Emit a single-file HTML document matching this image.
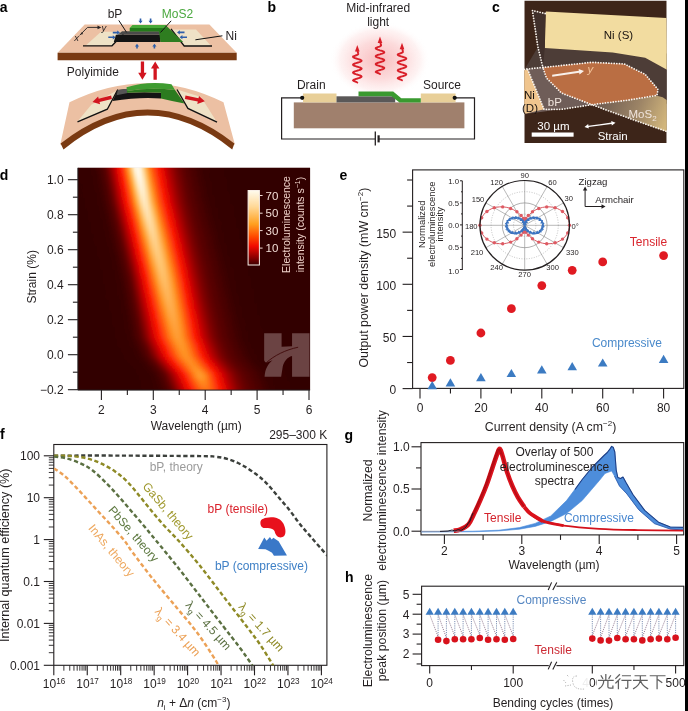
<!DOCTYPE html>
<html><head><meta charset="utf-8"><style>
html,body{margin:0;padding:0;background:#fff;}
body{width:688px;height:711px;overflow:hidden;}
svg{display:block;font-family:"Liberation Sans", sans-serif;filter:blur(0.4px);}
</style></head><body>
<svg width="688" height="711" viewBox="0 0 688 711">
<defs>
<radialGradient id="glow" cx="0.5" cy="0.5" r="0.5"><stop offset="0" stop-color="#f8b4b6" stop-opacity="0.9"/><stop offset="0.5" stop-color="#fbcfd0" stop-opacity="0.75"/><stop offset="0.8" stop-color="#fde6e6" stop-opacity="0.5"/><stop offset="1" stop-color="#ffffff" stop-opacity="0"/></radialGradient>
<clipPath id="cclip"><rect x="524.3" y="0.5" width="142.4" height="142.6"/></clipPath>
<linearGradient id="mos2g" gradientUnits="userSpaceOnUse" x1="600" y1="100" x2="665" y2="125"><stop offset="0" stop-color="#6e5b50"/><stop offset="0.55" stop-color="#9c8466"/><stop offset="1" stop-color="#d2b67c"/></linearGradient>
<clipPath id="dclip"><rect x="77.9" y="167.8" width="232.2" height="222.3"/></clipPath>
<filter id="dblur" x="-5%" y="-5%" width="110%" height="110%"><feGaussianBlur stdDeviation="0.6 1.6"/></filter>
<linearGradient id="h0" gradientUnits="userSpaceOnUse" x1="75.9" y1="0" x2="313.1" y2="0"><stop offset="-0.004" stop-color="#330101"/><stop offset="0.009" stop-color="#340101"/><stop offset="0.022" stop-color="#340101"/><stop offset="0.034" stop-color="#340101"/><stop offset="0.047" stop-color="#350202"/><stop offset="0.059" stop-color="#360202"/><stop offset="0.072" stop-color="#370202"/><stop offset="0.085" stop-color="#3b0202"/><stop offset="0.097" stop-color="#420101"/><stop offset="0.110" stop-color="#4c0101"/><stop offset="0.123" stop-color="#5a0000"/><stop offset="0.135" stop-color="#740000"/><stop offset="0.148" stop-color="#960000"/><stop offset="0.161" stop-color="#ba0202"/><stop offset="0.173" stop-color="#de0805"/><stop offset="0.186" stop-color="#fa1705"/><stop offset="0.199" stop-color="#fe4109"/><stop offset="0.211" stop-color="#ff7418"/><stop offset="0.224" stop-color="#ffa947"/><stop offset="0.237" stop-color="#ffd698"/><stop offset="0.249" stop-color="#fff4de"/><stop offset="0.262" stop-color="#fff8e8"/><stop offset="0.274" stop-color="#ffeece"/><stop offset="0.287" stop-color="#ffcd83"/><stop offset="0.300" stop-color="#ffa33e"/><stop offset="0.312" stop-color="#ff7819"/><stop offset="0.325" stop-color="#ff520b"/><stop offset="0.338" stop-color="#fd3208"/><stop offset="0.350" stop-color="#fa1605"/><stop offset="0.363" stop-color="#e60b05"/><stop offset="0.376" stop-color="#d00404"/><stop offset="0.388" stop-color="#b60202"/><stop offset="0.401" stop-color="#a00000"/><stop offset="0.414" stop-color="#8a0000"/><stop offset="0.426" stop-color="#790000"/><stop offset="0.439" stop-color="#6b0000"/><stop offset="0.452" stop-color="#5f0000"/><stop offset="0.464" stop-color="#570000"/><stop offset="0.477" stop-color="#510101"/><stop offset="0.489" stop-color="#4b0101"/><stop offset="0.502" stop-color="#450101"/><stop offset="0.515" stop-color="#400202"/><stop offset="0.527" stop-color="#3b0202"/><stop offset="0.540" stop-color="#380202"/><stop offset="0.553" stop-color="#370202"/><stop offset="0.565" stop-color="#360202"/><stop offset="0.578" stop-color="#350202"/><stop offset="0.591" stop-color="#340101"/><stop offset="0.603" stop-color="#340101"/><stop offset="0.616" stop-color="#340101"/><stop offset="0.629" stop-color="#330101"/><stop offset="0.641" stop-color="#330101"/><stop offset="0.654" stop-color="#330101"/><stop offset="0.667" stop-color="#330101"/><stop offset="0.679" stop-color="#330101"/><stop offset="0.692" stop-color="#330101"/><stop offset="0.704" stop-color="#320101"/><stop offset="0.717" stop-color="#320101"/><stop offset="0.730" stop-color="#320101"/><stop offset="0.742" stop-color="#320101"/><stop offset="0.755" stop-color="#320101"/><stop offset="0.768" stop-color="#320101"/><stop offset="0.780" stop-color="#320101"/><stop offset="0.793" stop-color="#320101"/><stop offset="0.806" stop-color="#320101"/><stop offset="0.818" stop-color="#320101"/><stop offset="0.831" stop-color="#320101"/><stop offset="0.844" stop-color="#320101"/><stop offset="0.856" stop-color="#320101"/><stop offset="0.869" stop-color="#320101"/><stop offset="0.882" stop-color="#320101"/><stop offset="0.894" stop-color="#320101"/><stop offset="0.907" stop-color="#320101"/><stop offset="0.919" stop-color="#320101"/><stop offset="0.932" stop-color="#320101"/><stop offset="0.945" stop-color="#320101"/><stop offset="0.957" stop-color="#320101"/><stop offset="0.970" stop-color="#320101"/><stop offset="0.983" stop-color="#320101"/><stop offset="0.995" stop-color="#320101"/></linearGradient>
<linearGradient id="h1" gradientUnits="userSpaceOnUse" x1="75.9" y1="0" x2="313.1" y2="0"><stop offset="-0.004" stop-color="#330101"/><stop offset="0.009" stop-color="#330101"/><stop offset="0.022" stop-color="#340101"/><stop offset="0.034" stop-color="#340101"/><stop offset="0.047" stop-color="#350202"/><stop offset="0.059" stop-color="#360202"/><stop offset="0.072" stop-color="#370202"/><stop offset="0.085" stop-color="#3b0202"/><stop offset="0.097" stop-color="#420101"/><stop offset="0.110" stop-color="#4c0101"/><stop offset="0.123" stop-color="#590000"/><stop offset="0.135" stop-color="#720000"/><stop offset="0.148" stop-color="#930000"/><stop offset="0.161" stop-color="#b70202"/><stop offset="0.173" stop-color="#dc0705"/><stop offset="0.186" stop-color="#fa1405"/><stop offset="0.199" stop-color="#fd3d08"/><stop offset="0.211" stop-color="#ff6f16"/><stop offset="0.224" stop-color="#ffa440"/><stop offset="0.237" stop-color="#ffd28f"/><stop offset="0.249" stop-color="#fff2d8"/><stop offset="0.262" stop-color="#fff8e8"/><stop offset="0.274" stop-color="#ffefd1"/><stop offset="0.287" stop-color="#ffd089"/><stop offset="0.300" stop-color="#ffa643"/><stop offset="0.312" stop-color="#ff7c1b"/><stop offset="0.325" stop-color="#ff550c"/><stop offset="0.338" stop-color="#fd3508"/><stop offset="0.350" stop-color="#fa1905"/><stop offset="0.363" stop-color="#e80c05"/><stop offset="0.376" stop-color="#d20505"/><stop offset="0.388" stop-color="#b80202"/><stop offset="0.401" stop-color="#a20000"/><stop offset="0.414" stop-color="#8c0000"/><stop offset="0.426" stop-color="#7a0000"/><stop offset="0.439" stop-color="#6c0000"/><stop offset="0.452" stop-color="#600000"/><stop offset="0.464" stop-color="#580000"/><stop offset="0.477" stop-color="#510101"/><stop offset="0.489" stop-color="#4b0101"/><stop offset="0.502" stop-color="#450101"/><stop offset="0.515" stop-color="#400202"/><stop offset="0.527" stop-color="#3c0202"/><stop offset="0.540" stop-color="#380202"/><stop offset="0.553" stop-color="#370202"/><stop offset="0.565" stop-color="#360202"/><stop offset="0.578" stop-color="#350202"/><stop offset="0.591" stop-color="#340101"/><stop offset="0.603" stop-color="#340101"/><stop offset="0.616" stop-color="#340101"/><stop offset="0.629" stop-color="#330101"/><stop offset="0.641" stop-color="#330101"/><stop offset="0.654" stop-color="#330101"/><stop offset="0.667" stop-color="#330101"/><stop offset="0.679" stop-color="#330101"/><stop offset="0.692" stop-color="#330101"/><stop offset="0.704" stop-color="#320101"/><stop offset="0.717" stop-color="#320101"/><stop offset="0.730" stop-color="#320101"/><stop offset="0.742" stop-color="#320101"/><stop offset="0.755" stop-color="#320101"/><stop offset="0.768" stop-color="#320101"/><stop offset="0.780" stop-color="#320101"/><stop offset="0.793" stop-color="#320101"/><stop offset="0.806" stop-color="#320101"/><stop offset="0.818" stop-color="#320101"/><stop offset="0.831" stop-color="#320101"/><stop offset="0.844" stop-color="#320101"/><stop offset="0.856" stop-color="#320101"/><stop offset="0.869" stop-color="#320101"/><stop offset="0.882" stop-color="#320101"/><stop offset="0.894" stop-color="#320101"/><stop offset="0.907" stop-color="#320101"/><stop offset="0.919" stop-color="#320101"/><stop offset="0.932" stop-color="#320101"/><stop offset="0.945" stop-color="#320101"/><stop offset="0.957" stop-color="#320101"/><stop offset="0.970" stop-color="#320101"/><stop offset="0.983" stop-color="#320101"/><stop offset="0.995" stop-color="#320101"/></linearGradient>
<linearGradient id="h2" gradientUnits="userSpaceOnUse" x1="75.9" y1="0" x2="313.1" y2="0"><stop offset="-0.004" stop-color="#330101"/><stop offset="0.009" stop-color="#330101"/><stop offset="0.022" stop-color="#340101"/><stop offset="0.034" stop-color="#340101"/><stop offset="0.047" stop-color="#350101"/><stop offset="0.059" stop-color="#360202"/><stop offset="0.072" stop-color="#370202"/><stop offset="0.085" stop-color="#390202"/><stop offset="0.097" stop-color="#400202"/><stop offset="0.110" stop-color="#490101"/><stop offset="0.123" stop-color="#560000"/><stop offset="0.135" stop-color="#6c0000"/><stop offset="0.148" stop-color="#8c0000"/><stop offset="0.161" stop-color="#b00101"/><stop offset="0.173" stop-color="#d70505"/><stop offset="0.186" stop-color="#f41105"/><stop offset="0.199" stop-color="#fd3408"/><stop offset="0.211" stop-color="#ff6412"/><stop offset="0.224" stop-color="#ff9a31"/><stop offset="0.237" stop-color="#ffc87a"/><stop offset="0.249" stop-color="#ffecc8"/><stop offset="0.262" stop-color="#fff8e8"/><stop offset="0.274" stop-color="#fff2d8"/><stop offset="0.287" stop-color="#ffd697"/><stop offset="0.300" stop-color="#ffae4f"/><stop offset="0.312" stop-color="#ff851e"/><stop offset="0.325" stop-color="#ff5c0f"/><stop offset="0.338" stop-color="#fd3b08"/><stop offset="0.350" stop-color="#fb1e06"/><stop offset="0.363" stop-color="#ec0e05"/><stop offset="0.376" stop-color="#d80505"/><stop offset="0.388" stop-color="#bc0303"/><stop offset="0.401" stop-color="#a50000"/><stop offset="0.414" stop-color="#900000"/><stop offset="0.426" stop-color="#7d0000"/><stop offset="0.439" stop-color="#6e0000"/><stop offset="0.452" stop-color="#620000"/><stop offset="0.464" stop-color="#590000"/><stop offset="0.477" stop-color="#520101"/><stop offset="0.489" stop-color="#4c0101"/><stop offset="0.502" stop-color="#470101"/><stop offset="0.515" stop-color="#410101"/><stop offset="0.527" stop-color="#3d0202"/><stop offset="0.540" stop-color="#380202"/><stop offset="0.553" stop-color="#370202"/><stop offset="0.565" stop-color="#360202"/><stop offset="0.578" stop-color="#350202"/><stop offset="0.591" stop-color="#350101"/><stop offset="0.603" stop-color="#340101"/><stop offset="0.616" stop-color="#340101"/><stop offset="0.629" stop-color="#330101"/><stop offset="0.641" stop-color="#330101"/><stop offset="0.654" stop-color="#330101"/><stop offset="0.667" stop-color="#330101"/><stop offset="0.679" stop-color="#330101"/><stop offset="0.692" stop-color="#330101"/><stop offset="0.704" stop-color="#320101"/><stop offset="0.717" stop-color="#320101"/><stop offset="0.730" stop-color="#320101"/><stop offset="0.742" stop-color="#320101"/><stop offset="0.755" stop-color="#320101"/><stop offset="0.768" stop-color="#320101"/><stop offset="0.780" stop-color="#320101"/><stop offset="0.793" stop-color="#320101"/><stop offset="0.806" stop-color="#320101"/><stop offset="0.818" stop-color="#320101"/><stop offset="0.831" stop-color="#320101"/><stop offset="0.844" stop-color="#320101"/><stop offset="0.856" stop-color="#320101"/><stop offset="0.869" stop-color="#320101"/><stop offset="0.882" stop-color="#320101"/><stop offset="0.894" stop-color="#320101"/><stop offset="0.907" stop-color="#320101"/><stop offset="0.919" stop-color="#320101"/><stop offset="0.932" stop-color="#320101"/><stop offset="0.945" stop-color="#320101"/><stop offset="0.957" stop-color="#320101"/><stop offset="0.970" stop-color="#320101"/><stop offset="0.983" stop-color="#320101"/><stop offset="0.995" stop-color="#320101"/></linearGradient>
<linearGradient id="h3" gradientUnits="userSpaceOnUse" x1="75.9" y1="0" x2="313.1" y2="0"><stop offset="-0.004" stop-color="#330101"/><stop offset="0.009" stop-color="#330101"/><stop offset="0.022" stop-color="#340101"/><stop offset="0.034" stop-color="#340101"/><stop offset="0.047" stop-color="#350101"/><stop offset="0.059" stop-color="#360202"/><stop offset="0.072" stop-color="#370202"/><stop offset="0.085" stop-color="#380202"/><stop offset="0.097" stop-color="#3f0202"/><stop offset="0.110" stop-color="#470101"/><stop offset="0.123" stop-color="#540000"/><stop offset="0.135" stop-color="#670000"/><stop offset="0.148" stop-color="#850000"/><stop offset="0.161" stop-color="#a90101"/><stop offset="0.173" stop-color="#cf0404"/><stop offset="0.186" stop-color="#ee0f05"/><stop offset="0.199" stop-color="#fc2c07"/><stop offset="0.211" stop-color="#ff590e"/><stop offset="0.224" stop-color="#ff9123"/><stop offset="0.237" stop-color="#ffbe67"/><stop offset="0.249" stop-color="#ffe5b7"/><stop offset="0.262" stop-color="#fff6e4"/><stop offset="0.274" stop-color="#fff3db"/><stop offset="0.287" stop-color="#ffdca4"/><stop offset="0.300" stop-color="#ffb65a"/><stop offset="0.312" stop-color="#ff8f22"/><stop offset="0.325" stop-color="#ff6412"/><stop offset="0.338" stop-color="#fe4109"/><stop offset="0.350" stop-color="#fb2406"/><stop offset="0.363" stop-color="#f01005"/><stop offset="0.376" stop-color="#db0705"/><stop offset="0.388" stop-color="#c10303"/><stop offset="0.401" stop-color="#aa0101"/><stop offset="0.414" stop-color="#940000"/><stop offset="0.426" stop-color="#810000"/><stop offset="0.439" stop-color="#710000"/><stop offset="0.452" stop-color="#640000"/><stop offset="0.464" stop-color="#5a0000"/><stop offset="0.477" stop-color="#540000"/><stop offset="0.489" stop-color="#4d0101"/><stop offset="0.502" stop-color="#480101"/><stop offset="0.515" stop-color="#420101"/><stop offset="0.527" stop-color="#3e0202"/><stop offset="0.540" stop-color="#390202"/><stop offset="0.553" stop-color="#370202"/><stop offset="0.565" stop-color="#360202"/><stop offset="0.578" stop-color="#350202"/><stop offset="0.591" stop-color="#350101"/><stop offset="0.603" stop-color="#340101"/><stop offset="0.616" stop-color="#340101"/><stop offset="0.629" stop-color="#330101"/><stop offset="0.641" stop-color="#330101"/><stop offset="0.654" stop-color="#330101"/><stop offset="0.667" stop-color="#330101"/><stop offset="0.679" stop-color="#330101"/><stop offset="0.692" stop-color="#330101"/><stop offset="0.704" stop-color="#320101"/><stop offset="0.717" stop-color="#320101"/><stop offset="0.730" stop-color="#320101"/><stop offset="0.742" stop-color="#320101"/><stop offset="0.755" stop-color="#320101"/><stop offset="0.768" stop-color="#320101"/><stop offset="0.780" stop-color="#320101"/><stop offset="0.793" stop-color="#320101"/><stop offset="0.806" stop-color="#320101"/><stop offset="0.818" stop-color="#320101"/><stop offset="0.831" stop-color="#320101"/><stop offset="0.844" stop-color="#320101"/><stop offset="0.856" stop-color="#320101"/><stop offset="0.869" stop-color="#320101"/><stop offset="0.882" stop-color="#320101"/><stop offset="0.894" stop-color="#320101"/><stop offset="0.907" stop-color="#320101"/><stop offset="0.919" stop-color="#320101"/><stop offset="0.932" stop-color="#320101"/><stop offset="0.945" stop-color="#320101"/><stop offset="0.957" stop-color="#320101"/><stop offset="0.970" stop-color="#320101"/><stop offset="0.983" stop-color="#320101"/><stop offset="0.995" stop-color="#320101"/></linearGradient>
<linearGradient id="h4" gradientUnits="userSpaceOnUse" x1="75.9" y1="0" x2="313.1" y2="0"><stop offset="-0.004" stop-color="#330101"/><stop offset="0.009" stop-color="#330101"/><stop offset="0.022" stop-color="#340101"/><stop offset="0.034" stop-color="#340101"/><stop offset="0.047" stop-color="#350101"/><stop offset="0.059" stop-color="#350202"/><stop offset="0.072" stop-color="#360202"/><stop offset="0.085" stop-color="#380202"/><stop offset="0.097" stop-color="#3d0202"/><stop offset="0.110" stop-color="#460101"/><stop offset="0.123" stop-color="#510101"/><stop offset="0.135" stop-color="#620000"/><stop offset="0.148" stop-color="#7f0000"/><stop offset="0.161" stop-color="#a30000"/><stop offset="0.173" stop-color="#c70404"/><stop offset="0.186" stop-color="#e80c05"/><stop offset="0.199" stop-color="#fb2406"/><stop offset="0.211" stop-color="#ff500a"/><stop offset="0.224" stop-color="#ff841e"/><stop offset="0.237" stop-color="#ffb357"/><stop offset="0.249" stop-color="#ffdca4"/><stop offset="0.262" stop-color="#fff3da"/><stop offset="0.274" stop-color="#fff4dd"/><stop offset="0.287" stop-color="#ffe1af"/><stop offset="0.300" stop-color="#ffbd66"/><stop offset="0.312" stop-color="#ff962b"/><stop offset="0.325" stop-color="#ff6b14"/><stop offset="0.338" stop-color="#fe4809"/><stop offset="0.350" stop-color="#fc2907"/><stop offset="0.363" stop-color="#f51205"/><stop offset="0.376" stop-color="#df0905"/><stop offset="0.388" stop-color="#c70404"/><stop offset="0.401" stop-color="#ae0101"/><stop offset="0.414" stop-color="#980000"/><stop offset="0.426" stop-color="#840000"/><stop offset="0.439" stop-color="#740000"/><stop offset="0.452" stop-color="#670000"/><stop offset="0.464" stop-color="#5c0000"/><stop offset="0.477" stop-color="#550000"/><stop offset="0.489" stop-color="#4f0101"/><stop offset="0.502" stop-color="#490101"/><stop offset="0.515" stop-color="#430101"/><stop offset="0.527" stop-color="#3e0202"/><stop offset="0.540" stop-color="#3a0202"/><stop offset="0.553" stop-color="#370202"/><stop offset="0.565" stop-color="#360202"/><stop offset="0.578" stop-color="#360202"/><stop offset="0.591" stop-color="#350101"/><stop offset="0.603" stop-color="#340101"/><stop offset="0.616" stop-color="#340101"/><stop offset="0.629" stop-color="#340101"/><stop offset="0.641" stop-color="#330101"/><stop offset="0.654" stop-color="#330101"/><stop offset="0.667" stop-color="#330101"/><stop offset="0.679" stop-color="#330101"/><stop offset="0.692" stop-color="#330101"/><stop offset="0.704" stop-color="#320101"/><stop offset="0.717" stop-color="#320101"/><stop offset="0.730" stop-color="#320101"/><stop offset="0.742" stop-color="#320101"/><stop offset="0.755" stop-color="#320101"/><stop offset="0.768" stop-color="#320101"/><stop offset="0.780" stop-color="#320101"/><stop offset="0.793" stop-color="#320101"/><stop offset="0.806" stop-color="#320101"/><stop offset="0.818" stop-color="#320101"/><stop offset="0.831" stop-color="#320101"/><stop offset="0.844" stop-color="#320101"/><stop offset="0.856" stop-color="#320101"/><stop offset="0.869" stop-color="#320101"/><stop offset="0.882" stop-color="#320101"/><stop offset="0.894" stop-color="#320101"/><stop offset="0.907" stop-color="#320101"/><stop offset="0.919" stop-color="#320101"/><stop offset="0.932" stop-color="#320101"/><stop offset="0.945" stop-color="#320101"/><stop offset="0.957" stop-color="#320101"/><stop offset="0.970" stop-color="#320101"/><stop offset="0.983" stop-color="#320101"/><stop offset="0.995" stop-color="#320101"/></linearGradient>
<linearGradient id="h5" gradientUnits="userSpaceOnUse" x1="75.9" y1="0" x2="313.1" y2="0"><stop offset="-0.004" stop-color="#330101"/><stop offset="0.009" stop-color="#330101"/><stop offset="0.022" stop-color="#340101"/><stop offset="0.034" stop-color="#340101"/><stop offset="0.047" stop-color="#350101"/><stop offset="0.059" stop-color="#350202"/><stop offset="0.072" stop-color="#360202"/><stop offset="0.085" stop-color="#380202"/><stop offset="0.097" stop-color="#3c0202"/><stop offset="0.110" stop-color="#440101"/><stop offset="0.123" stop-color="#4f0101"/><stop offset="0.135" stop-color="#5e0000"/><stop offset="0.148" stop-color="#790000"/><stop offset="0.161" stop-color="#9c0000"/><stop offset="0.173" stop-color="#c00303"/><stop offset="0.186" stop-color="#e30a05"/><stop offset="0.199" stop-color="#fb1c06"/><stop offset="0.211" stop-color="#fe4609"/><stop offset="0.224" stop-color="#ff7819"/><stop offset="0.237" stop-color="#ffa947"/><stop offset="0.249" stop-color="#ffd391"/><stop offset="0.262" stop-color="#ffeecf"/><stop offset="0.274" stop-color="#fff3dc"/><stop offset="0.287" stop-color="#ffe5b8"/><stop offset="0.300" stop-color="#ffc571"/><stop offset="0.312" stop-color="#ff9d35"/><stop offset="0.325" stop-color="#ff7318"/><stop offset="0.338" stop-color="#ff4f0a"/><stop offset="0.350" stop-color="#fc2f07"/><stop offset="0.363" stop-color="#f91405"/><stop offset="0.376" stop-color="#e30a05"/><stop offset="0.388" stop-color="#cc0404"/><stop offset="0.401" stop-color="#b20202"/><stop offset="0.414" stop-color="#9c0000"/><stop offset="0.426" stop-color="#870000"/><stop offset="0.439" stop-color="#770000"/><stop offset="0.452" stop-color="#690000"/><stop offset="0.464" stop-color="#5e0000"/><stop offset="0.477" stop-color="#560000"/><stop offset="0.489" stop-color="#500101"/><stop offset="0.502" stop-color="#4a0101"/><stop offset="0.515" stop-color="#440101"/><stop offset="0.527" stop-color="#3f0202"/><stop offset="0.540" stop-color="#3b0202"/><stop offset="0.553" stop-color="#380202"/><stop offset="0.565" stop-color="#370202"/><stop offset="0.578" stop-color="#360202"/><stop offset="0.591" stop-color="#350101"/><stop offset="0.603" stop-color="#340101"/><stop offset="0.616" stop-color="#340101"/><stop offset="0.629" stop-color="#340101"/><stop offset="0.641" stop-color="#330101"/><stop offset="0.654" stop-color="#330101"/><stop offset="0.667" stop-color="#330101"/><stop offset="0.679" stop-color="#330101"/><stop offset="0.692" stop-color="#330101"/><stop offset="0.704" stop-color="#330101"/><stop offset="0.717" stop-color="#320101"/><stop offset="0.730" stop-color="#320101"/><stop offset="0.742" stop-color="#320101"/><stop offset="0.755" stop-color="#320101"/><stop offset="0.768" stop-color="#320101"/><stop offset="0.780" stop-color="#320101"/><stop offset="0.793" stop-color="#320101"/><stop offset="0.806" stop-color="#320101"/><stop offset="0.818" stop-color="#320101"/><stop offset="0.831" stop-color="#320101"/><stop offset="0.844" stop-color="#320101"/><stop offset="0.856" stop-color="#320101"/><stop offset="0.869" stop-color="#320101"/><stop offset="0.882" stop-color="#320101"/><stop offset="0.894" stop-color="#320101"/><stop offset="0.907" stop-color="#320101"/><stop offset="0.919" stop-color="#320101"/><stop offset="0.932" stop-color="#320101"/><stop offset="0.945" stop-color="#320101"/><stop offset="0.957" stop-color="#320101"/><stop offset="0.970" stop-color="#320101"/><stop offset="0.983" stop-color="#320101"/><stop offset="0.995" stop-color="#320101"/></linearGradient>
<linearGradient id="h6" gradientUnits="userSpaceOnUse" x1="75.9" y1="0" x2="313.1" y2="0"><stop offset="-0.004" stop-color="#330101"/><stop offset="0.009" stop-color="#330101"/><stop offset="0.022" stop-color="#330101"/><stop offset="0.034" stop-color="#340101"/><stop offset="0.047" stop-color="#340101"/><stop offset="0.059" stop-color="#350202"/><stop offset="0.072" stop-color="#360202"/><stop offset="0.085" stop-color="#370202"/><stop offset="0.097" stop-color="#3b0202"/><stop offset="0.110" stop-color="#420101"/><stop offset="0.123" stop-color="#4c0101"/><stop offset="0.135" stop-color="#5a0000"/><stop offset="0.148" stop-color="#730000"/><stop offset="0.161" stop-color="#950000"/><stop offset="0.173" stop-color="#b90202"/><stop offset="0.186" stop-color="#dd0805"/><stop offset="0.199" stop-color="#fa1505"/><stop offset="0.211" stop-color="#fd3d08"/><stop offset="0.224" stop-color="#ff6c15"/><stop offset="0.237" stop-color="#ff9f38"/><stop offset="0.249" stop-color="#ffca7e"/><stop offset="0.262" stop-color="#ffe9c2"/><stop offset="0.274" stop-color="#fff2d9"/><stop offset="0.287" stop-color="#ffe8bf"/><stop offset="0.300" stop-color="#ffca7e"/><stop offset="0.312" stop-color="#ffa440"/><stop offset="0.325" stop-color="#ff7c1b"/><stop offset="0.338" stop-color="#ff560c"/><stop offset="0.350" stop-color="#fd3508"/><stop offset="0.363" stop-color="#fa1905"/><stop offset="0.376" stop-color="#e80c05"/><stop offset="0.388" stop-color="#d20505"/><stop offset="0.401" stop-color="#b70202"/><stop offset="0.414" stop-color="#a10000"/><stop offset="0.426" stop-color="#8b0000"/><stop offset="0.439" stop-color="#7a0000"/><stop offset="0.452" stop-color="#6b0000"/><stop offset="0.464" stop-color="#600000"/><stop offset="0.477" stop-color="#570000"/><stop offset="0.489" stop-color="#510101"/><stop offset="0.502" stop-color="#4b0101"/><stop offset="0.515" stop-color="#460101"/><stop offset="0.527" stop-color="#400202"/><stop offset="0.540" stop-color="#3c0202"/><stop offset="0.553" stop-color="#380202"/><stop offset="0.565" stop-color="#370202"/><stop offset="0.578" stop-color="#360202"/><stop offset="0.591" stop-color="#350202"/><stop offset="0.603" stop-color="#350101"/><stop offset="0.616" stop-color="#340101"/><stop offset="0.629" stop-color="#340101"/><stop offset="0.641" stop-color="#330101"/><stop offset="0.654" stop-color="#330101"/><stop offset="0.667" stop-color="#330101"/><stop offset="0.679" stop-color="#330101"/><stop offset="0.692" stop-color="#330101"/><stop offset="0.704" stop-color="#330101"/><stop offset="0.717" stop-color="#320101"/><stop offset="0.730" stop-color="#320101"/><stop offset="0.742" stop-color="#320101"/><stop offset="0.755" stop-color="#320101"/><stop offset="0.768" stop-color="#320101"/><stop offset="0.780" stop-color="#320101"/><stop offset="0.793" stop-color="#320101"/><stop offset="0.806" stop-color="#320101"/><stop offset="0.818" stop-color="#320101"/><stop offset="0.831" stop-color="#320101"/><stop offset="0.844" stop-color="#320101"/><stop offset="0.856" stop-color="#320101"/><stop offset="0.869" stop-color="#320101"/><stop offset="0.882" stop-color="#320101"/><stop offset="0.894" stop-color="#320101"/><stop offset="0.907" stop-color="#320101"/><stop offset="0.919" stop-color="#320101"/><stop offset="0.932" stop-color="#320101"/><stop offset="0.945" stop-color="#320101"/><stop offset="0.957" stop-color="#320101"/><stop offset="0.970" stop-color="#320101"/><stop offset="0.983" stop-color="#320101"/><stop offset="0.995" stop-color="#320101"/></linearGradient>
<linearGradient id="h7" gradientUnits="userSpaceOnUse" x1="75.9" y1="0" x2="313.1" y2="0"><stop offset="-0.004" stop-color="#330101"/><stop offset="0.009" stop-color="#330101"/><stop offset="0.022" stop-color="#330101"/><stop offset="0.034" stop-color="#340101"/><stop offset="0.047" stop-color="#340101"/><stop offset="0.059" stop-color="#350101"/><stop offset="0.072" stop-color="#360202"/><stop offset="0.085" stop-color="#370202"/><stop offset="0.097" stop-color="#3a0202"/><stop offset="0.110" stop-color="#410202"/><stop offset="0.123" stop-color="#4a0101"/><stop offset="0.135" stop-color="#570000"/><stop offset="0.148" stop-color="#6e0000"/><stop offset="0.161" stop-color="#8e0000"/><stop offset="0.173" stop-color="#b20202"/><stop offset="0.186" stop-color="#d80505"/><stop offset="0.199" stop-color="#f51205"/><stop offset="0.211" stop-color="#fd3408"/><stop offset="0.224" stop-color="#ff6211"/><stop offset="0.237" stop-color="#ff962b"/><stop offset="0.249" stop-color="#ffc16b"/><stop offset="0.262" stop-color="#ffe3b2"/><stop offset="0.274" stop-color="#fff0d4"/><stop offset="0.287" stop-color="#ffeac4"/><stop offset="0.300" stop-color="#ffd08a"/><stop offset="0.312" stop-color="#ffab4a"/><stop offset="0.325" stop-color="#ff841e"/><stop offset="0.338" stop-color="#ff5d0f"/><stop offset="0.350" stop-color="#fd3b08"/><stop offset="0.363" stop-color="#fb1e06"/><stop offset="0.376" stop-color="#ec0e05"/><stop offset="0.388" stop-color="#d70505"/><stop offset="0.401" stop-color="#bc0303"/><stop offset="0.414" stop-color="#a50000"/><stop offset="0.426" stop-color="#8f0000"/><stop offset="0.439" stop-color="#7d0000"/><stop offset="0.452" stop-color="#6e0000"/><stop offset="0.464" stop-color="#620000"/><stop offset="0.477" stop-color="#590000"/><stop offset="0.489" stop-color="#520101"/><stop offset="0.502" stop-color="#4c0101"/><stop offset="0.515" stop-color="#470101"/><stop offset="0.527" stop-color="#410101"/><stop offset="0.540" stop-color="#3d0202"/><stop offset="0.553" stop-color="#390202"/><stop offset="0.565" stop-color="#370202"/><stop offset="0.578" stop-color="#360202"/><stop offset="0.591" stop-color="#350202"/><stop offset="0.603" stop-color="#350101"/><stop offset="0.616" stop-color="#340101"/><stop offset="0.629" stop-color="#340101"/><stop offset="0.641" stop-color="#330101"/><stop offset="0.654" stop-color="#330101"/><stop offset="0.667" stop-color="#330101"/><stop offset="0.679" stop-color="#330101"/><stop offset="0.692" stop-color="#330101"/><stop offset="0.704" stop-color="#330101"/><stop offset="0.717" stop-color="#320101"/><stop offset="0.730" stop-color="#320101"/><stop offset="0.742" stop-color="#320101"/><stop offset="0.755" stop-color="#320101"/><stop offset="0.768" stop-color="#320101"/><stop offset="0.780" stop-color="#320101"/><stop offset="0.793" stop-color="#320101"/><stop offset="0.806" stop-color="#320101"/><stop offset="0.818" stop-color="#320101"/><stop offset="0.831" stop-color="#320101"/><stop offset="0.844" stop-color="#320101"/><stop offset="0.856" stop-color="#320101"/><stop offset="0.869" stop-color="#320101"/><stop offset="0.882" stop-color="#320101"/><stop offset="0.894" stop-color="#320101"/><stop offset="0.907" stop-color="#320101"/><stop offset="0.919" stop-color="#320101"/><stop offset="0.932" stop-color="#320101"/><stop offset="0.945" stop-color="#320101"/><stop offset="0.957" stop-color="#320101"/><stop offset="0.970" stop-color="#320101"/><stop offset="0.983" stop-color="#320101"/><stop offset="0.995" stop-color="#320101"/></linearGradient>
<linearGradient id="h8" gradientUnits="userSpaceOnUse" x1="75.9" y1="0" x2="313.1" y2="0"><stop offset="-0.004" stop-color="#330101"/><stop offset="0.009" stop-color="#330101"/><stop offset="0.022" stop-color="#330101"/><stop offset="0.034" stop-color="#340101"/><stop offset="0.047" stop-color="#340101"/><stop offset="0.059" stop-color="#350101"/><stop offset="0.072" stop-color="#360202"/><stop offset="0.085" stop-color="#370202"/><stop offset="0.097" stop-color="#390202"/><stop offset="0.110" stop-color="#3f0202"/><stop offset="0.123" stop-color="#480101"/><stop offset="0.135" stop-color="#540000"/><stop offset="0.148" stop-color="#690000"/><stop offset="0.161" stop-color="#870000"/><stop offset="0.173" stop-color="#ab0101"/><stop offset="0.186" stop-color="#d00404"/><stop offset="0.199" stop-color="#ef0f05"/><stop offset="0.211" stop-color="#fc2c07"/><stop offset="0.224" stop-color="#ff580d"/><stop offset="0.237" stop-color="#ff8c21"/><stop offset="0.249" stop-color="#ffb75c"/><stop offset="0.262" stop-color="#ffdba1"/><stop offset="0.274" stop-color="#ffedcc"/><stop offset="0.287" stop-color="#ffebc6"/><stop offset="0.300" stop-color="#ffd595"/><stop offset="0.312" stop-color="#ffb255"/><stop offset="0.325" stop-color="#ff8d22"/><stop offset="0.338" stop-color="#ff6412"/><stop offset="0.350" stop-color="#fe4209"/><stop offset="0.363" stop-color="#fb2406"/><stop offset="0.376" stop-color="#f01005"/><stop offset="0.388" stop-color="#db0705"/><stop offset="0.401" stop-color="#c10303"/><stop offset="0.414" stop-color="#a90101"/><stop offset="0.426" stop-color="#930000"/><stop offset="0.439" stop-color="#800000"/><stop offset="0.452" stop-color="#700000"/><stop offset="0.464" stop-color="#640000"/><stop offset="0.477" stop-color="#5a0000"/><stop offset="0.489" stop-color="#540000"/><stop offset="0.502" stop-color="#4d0101"/><stop offset="0.515" stop-color="#480101"/><stop offset="0.527" stop-color="#420101"/><stop offset="0.540" stop-color="#3e0202"/><stop offset="0.553" stop-color="#390202"/><stop offset="0.565" stop-color="#370202"/><stop offset="0.578" stop-color="#360202"/><stop offset="0.591" stop-color="#350202"/><stop offset="0.603" stop-color="#350101"/><stop offset="0.616" stop-color="#340101"/><stop offset="0.629" stop-color="#340101"/><stop offset="0.641" stop-color="#330101"/><stop offset="0.654" stop-color="#330101"/><stop offset="0.667" stop-color="#330101"/><stop offset="0.679" stop-color="#330101"/><stop offset="0.692" stop-color="#330101"/><stop offset="0.704" stop-color="#330101"/><stop offset="0.717" stop-color="#320101"/><stop offset="0.730" stop-color="#320101"/><stop offset="0.742" stop-color="#320101"/><stop offset="0.755" stop-color="#320101"/><stop offset="0.768" stop-color="#320101"/><stop offset="0.780" stop-color="#320101"/><stop offset="0.793" stop-color="#320101"/><stop offset="0.806" stop-color="#320101"/><stop offset="0.818" stop-color="#320101"/><stop offset="0.831" stop-color="#320101"/><stop offset="0.844" stop-color="#320101"/><stop offset="0.856" stop-color="#320101"/><stop offset="0.869" stop-color="#320101"/><stop offset="0.882" stop-color="#320101"/><stop offset="0.894" stop-color="#320101"/><stop offset="0.907" stop-color="#320101"/><stop offset="0.919" stop-color="#320101"/><stop offset="0.932" stop-color="#320101"/><stop offset="0.945" stop-color="#320101"/><stop offset="0.957" stop-color="#320101"/><stop offset="0.970" stop-color="#320101"/><stop offset="0.983" stop-color="#320101"/><stop offset="0.995" stop-color="#320101"/></linearGradient>
<linearGradient id="h9" gradientUnits="userSpaceOnUse" x1="75.9" y1="0" x2="313.1" y2="0"><stop offset="-0.004" stop-color="#330101"/><stop offset="0.009" stop-color="#330101"/><stop offset="0.022" stop-color="#330101"/><stop offset="0.034" stop-color="#340101"/><stop offset="0.047" stop-color="#340101"/><stop offset="0.059" stop-color="#350101"/><stop offset="0.072" stop-color="#350202"/><stop offset="0.085" stop-color="#360202"/><stop offset="0.097" stop-color="#380202"/><stop offset="0.110" stop-color="#3e0202"/><stop offset="0.123" stop-color="#460101"/><stop offset="0.135" stop-color="#520101"/><stop offset="0.148" stop-color="#640000"/><stop offset="0.161" stop-color="#810000"/><stop offset="0.173" stop-color="#a50000"/><stop offset="0.186" stop-color="#c90404"/><stop offset="0.199" stop-color="#e90d05"/><stop offset="0.211" stop-color="#fb2406"/><stop offset="0.224" stop-color="#ff4f0a"/><stop offset="0.237" stop-color="#ff801c"/><stop offset="0.249" stop-color="#ffad4d"/><stop offset="0.262" stop-color="#ffd390"/><stop offset="0.274" stop-color="#ffeac3"/><stop offset="0.287" stop-color="#ffebc7"/><stop offset="0.300" stop-color="#ffd99e"/><stop offset="0.312" stop-color="#ffb95f"/><stop offset="0.325" stop-color="#ff9529"/><stop offset="0.338" stop-color="#ff6b14"/><stop offset="0.350" stop-color="#fe4909"/><stop offset="0.363" stop-color="#fc2a07"/><stop offset="0.376" stop-color="#f51205"/><stop offset="0.388" stop-color="#df0805"/><stop offset="0.401" stop-color="#c60303"/><stop offset="0.414" stop-color="#ad0101"/><stop offset="0.426" stop-color="#970000"/><stop offset="0.439" stop-color="#830000"/><stop offset="0.452" stop-color="#730000"/><stop offset="0.464" stop-color="#660000"/><stop offset="0.477" stop-color="#5c0000"/><stop offset="0.489" stop-color="#550000"/><stop offset="0.502" stop-color="#4f0101"/><stop offset="0.515" stop-color="#490101"/><stop offset="0.527" stop-color="#430101"/><stop offset="0.540" stop-color="#3f0202"/><stop offset="0.553" stop-color="#3a0202"/><stop offset="0.565" stop-color="#370202"/><stop offset="0.578" stop-color="#360202"/><stop offset="0.591" stop-color="#360202"/><stop offset="0.603" stop-color="#350101"/><stop offset="0.616" stop-color="#340101"/><stop offset="0.629" stop-color="#340101"/><stop offset="0.641" stop-color="#340101"/><stop offset="0.654" stop-color="#330101"/><stop offset="0.667" stop-color="#330101"/><stop offset="0.679" stop-color="#330101"/><stop offset="0.692" stop-color="#330101"/><stop offset="0.704" stop-color="#330101"/><stop offset="0.717" stop-color="#330101"/><stop offset="0.730" stop-color="#320101"/><stop offset="0.742" stop-color="#320101"/><stop offset="0.755" stop-color="#320101"/><stop offset="0.768" stop-color="#320101"/><stop offset="0.780" stop-color="#320101"/><stop offset="0.793" stop-color="#320101"/><stop offset="0.806" stop-color="#320101"/><stop offset="0.818" stop-color="#320101"/><stop offset="0.831" stop-color="#320101"/><stop offset="0.844" stop-color="#320101"/><stop offset="0.856" stop-color="#320101"/><stop offset="0.869" stop-color="#320101"/><stop offset="0.882" stop-color="#320101"/><stop offset="0.894" stop-color="#320101"/><stop offset="0.907" stop-color="#320101"/><stop offset="0.919" stop-color="#320101"/><stop offset="0.932" stop-color="#320101"/><stop offset="0.945" stop-color="#320101"/><stop offset="0.957" stop-color="#320101"/><stop offset="0.970" stop-color="#320101"/><stop offset="0.983" stop-color="#320101"/><stop offset="0.995" stop-color="#320101"/></linearGradient>
<linearGradient id="h10" gradientUnits="userSpaceOnUse" x1="75.9" y1="0" x2="313.1" y2="0"><stop offset="-0.004" stop-color="#330101"/><stop offset="0.009" stop-color="#330101"/><stop offset="0.022" stop-color="#330101"/><stop offset="0.034" stop-color="#340101"/><stop offset="0.047" stop-color="#340101"/><stop offset="0.059" stop-color="#350101"/><stop offset="0.072" stop-color="#350202"/><stop offset="0.085" stop-color="#360202"/><stop offset="0.097" stop-color="#380202"/><stop offset="0.110" stop-color="#3c0202"/><stop offset="0.123" stop-color="#440101"/><stop offset="0.135" stop-color="#4f0101"/><stop offset="0.148" stop-color="#5f0000"/><stop offset="0.161" stop-color="#7b0000"/><stop offset="0.173" stop-color="#9e0000"/><stop offset="0.186" stop-color="#c10303"/><stop offset="0.199" stop-color="#e40a05"/><stop offset="0.211" stop-color="#fb1d06"/><stop offset="0.224" stop-color="#fe4609"/><stop offset="0.237" stop-color="#ff7418"/><stop offset="0.249" stop-color="#ffa33f"/><stop offset="0.262" stop-color="#ffcb7e"/><stop offset="0.274" stop-color="#ffe5b7"/><stop offset="0.287" stop-color="#ffebc5"/><stop offset="0.300" stop-color="#ffdca5"/><stop offset="0.312" stop-color="#ffbf68"/><stop offset="0.325" stop-color="#ff9b32"/><stop offset="0.338" stop-color="#ff7317"/><stop offset="0.350" stop-color="#ff4f0a"/><stop offset="0.363" stop-color="#fc3007"/><stop offset="0.376" stop-color="#f91405"/><stop offset="0.388" stop-color="#e30a05"/><stop offset="0.401" stop-color="#cc0404"/><stop offset="0.414" stop-color="#b20202"/><stop offset="0.426" stop-color="#9c0000"/><stop offset="0.439" stop-color="#870000"/><stop offset="0.452" stop-color="#760000"/><stop offset="0.464" stop-color="#690000"/><stop offset="0.477" stop-color="#5d0000"/><stop offset="0.489" stop-color="#560000"/><stop offset="0.502" stop-color="#500101"/><stop offset="0.515" stop-color="#4a0101"/><stop offset="0.527" stop-color="#440101"/><stop offset="0.540" stop-color="#3f0202"/><stop offset="0.553" stop-color="#3b0202"/><stop offset="0.565" stop-color="#380202"/><stop offset="0.578" stop-color="#370202"/><stop offset="0.591" stop-color="#360202"/><stop offset="0.603" stop-color="#350101"/><stop offset="0.616" stop-color="#340101"/><stop offset="0.629" stop-color="#340101"/><stop offset="0.641" stop-color="#340101"/><stop offset="0.654" stop-color="#330101"/><stop offset="0.667" stop-color="#330101"/><stop offset="0.679" stop-color="#330101"/><stop offset="0.692" stop-color="#330101"/><stop offset="0.704" stop-color="#330101"/><stop offset="0.717" stop-color="#330101"/><stop offset="0.730" stop-color="#320101"/><stop offset="0.742" stop-color="#320101"/><stop offset="0.755" stop-color="#320101"/><stop offset="0.768" stop-color="#320101"/><stop offset="0.780" stop-color="#320101"/><stop offset="0.793" stop-color="#320101"/><stop offset="0.806" stop-color="#320101"/><stop offset="0.818" stop-color="#320101"/><stop offset="0.831" stop-color="#320101"/><stop offset="0.844" stop-color="#320101"/><stop offset="0.856" stop-color="#320101"/><stop offset="0.869" stop-color="#320101"/><stop offset="0.882" stop-color="#320101"/><stop offset="0.894" stop-color="#320101"/><stop offset="0.907" stop-color="#320101"/><stop offset="0.919" stop-color="#320101"/><stop offset="0.932" stop-color="#320101"/><stop offset="0.945" stop-color="#320101"/><stop offset="0.957" stop-color="#320101"/><stop offset="0.970" stop-color="#320101"/><stop offset="0.983" stop-color="#320101"/><stop offset="0.995" stop-color="#320101"/></linearGradient>
<linearGradient id="h11" gradientUnits="userSpaceOnUse" x1="75.9" y1="0" x2="313.1" y2="0"><stop offset="-0.004" stop-color="#330101"/><stop offset="0.009" stop-color="#330101"/><stop offset="0.022" stop-color="#330101"/><stop offset="0.034" stop-color="#330101"/><stop offset="0.047" stop-color="#340101"/><stop offset="0.059" stop-color="#340101"/><stop offset="0.072" stop-color="#350202"/><stop offset="0.085" stop-color="#360202"/><stop offset="0.097" stop-color="#370202"/><stop offset="0.110" stop-color="#3b0202"/><stop offset="0.123" stop-color="#430101"/><stop offset="0.135" stop-color="#4d0101"/><stop offset="0.148" stop-color="#5b0000"/><stop offset="0.161" stop-color="#750000"/><stop offset="0.173" stop-color="#970000"/><stop offset="0.186" stop-color="#ba0202"/><stop offset="0.199" stop-color="#de0805"/><stop offset="0.211" stop-color="#fa1605"/><stop offset="0.224" stop-color="#fd3d08"/><stop offset="0.237" stop-color="#ff6a14"/><stop offset="0.249" stop-color="#ff9b31"/><stop offset="0.262" stop-color="#ffc26d"/><stop offset="0.274" stop-color="#ffdfaa"/><stop offset="0.287" stop-color="#ffe9c2"/><stop offset="0.300" stop-color="#ffdfaa"/><stop offset="0.312" stop-color="#ffc572"/><stop offset="0.325" stop-color="#ffa13c"/><stop offset="0.338" stop-color="#ff7b1b"/><stop offset="0.350" stop-color="#ff560c"/><stop offset="0.363" stop-color="#fd3608"/><stop offset="0.376" stop-color="#fa1905"/><stop offset="0.388" stop-color="#e70c05"/><stop offset="0.401" stop-color="#d10404"/><stop offset="0.414" stop-color="#b60202"/><stop offset="0.426" stop-color="#a00000"/><stop offset="0.439" stop-color="#8a0000"/><stop offset="0.452" stop-color="#790000"/><stop offset="0.464" stop-color="#6b0000"/><stop offset="0.477" stop-color="#5f0000"/><stop offset="0.489" stop-color="#570000"/><stop offset="0.502" stop-color="#510101"/><stop offset="0.515" stop-color="#4b0101"/><stop offset="0.527" stop-color="#460101"/><stop offset="0.540" stop-color="#400202"/><stop offset="0.553" stop-color="#3c0202"/><stop offset="0.565" stop-color="#380202"/><stop offset="0.578" stop-color="#370202"/><stop offset="0.591" stop-color="#360202"/><stop offset="0.603" stop-color="#350202"/><stop offset="0.616" stop-color="#350101"/><stop offset="0.629" stop-color="#340101"/><stop offset="0.641" stop-color="#340101"/><stop offset="0.654" stop-color="#330101"/><stop offset="0.667" stop-color="#330101"/><stop offset="0.679" stop-color="#330101"/><stop offset="0.692" stop-color="#330101"/><stop offset="0.704" stop-color="#330101"/><stop offset="0.717" stop-color="#330101"/><stop offset="0.730" stop-color="#320101"/><stop offset="0.742" stop-color="#320101"/><stop offset="0.755" stop-color="#320101"/><stop offset="0.768" stop-color="#320101"/><stop offset="0.780" stop-color="#320101"/><stop offset="0.793" stop-color="#320101"/><stop offset="0.806" stop-color="#320101"/><stop offset="0.818" stop-color="#320101"/><stop offset="0.831" stop-color="#320101"/><stop offset="0.844" stop-color="#320101"/><stop offset="0.856" stop-color="#320101"/><stop offset="0.869" stop-color="#320101"/><stop offset="0.882" stop-color="#320101"/><stop offset="0.894" stop-color="#320101"/><stop offset="0.907" stop-color="#320101"/><stop offset="0.919" stop-color="#320101"/><stop offset="0.932" stop-color="#320101"/><stop offset="0.945" stop-color="#320101"/><stop offset="0.957" stop-color="#320101"/><stop offset="0.970" stop-color="#320101"/><stop offset="0.983" stop-color="#320101"/><stop offset="0.995" stop-color="#320101"/></linearGradient>
<linearGradient id="h12" gradientUnits="userSpaceOnUse" x1="75.9" y1="0" x2="313.1" y2="0"><stop offset="-0.004" stop-color="#330101"/><stop offset="0.009" stop-color="#330101"/><stop offset="0.022" stop-color="#330101"/><stop offset="0.034" stop-color="#330101"/><stop offset="0.047" stop-color="#340101"/><stop offset="0.059" stop-color="#340101"/><stop offset="0.072" stop-color="#350101"/><stop offset="0.085" stop-color="#360202"/><stop offset="0.097" stop-color="#370202"/><stop offset="0.110" stop-color="#3a0202"/><stop offset="0.123" stop-color="#410101"/><stop offset="0.135" stop-color="#4b0101"/><stop offset="0.148" stop-color="#580000"/><stop offset="0.161" stop-color="#6f0000"/><stop offset="0.173" stop-color="#8f0000"/><stop offset="0.186" stop-color="#b30202"/><stop offset="0.199" stop-color="#d90605"/><stop offset="0.211" stop-color="#f51205"/><stop offset="0.224" stop-color="#fd3408"/><stop offset="0.237" stop-color="#ff6010"/><stop offset="0.249" stop-color="#ff9224"/><stop offset="0.262" stop-color="#ffb95f"/><stop offset="0.274" stop-color="#ffd89c"/><stop offset="0.287" stop-color="#ffe7bd"/><stop offset="0.300" stop-color="#ffe1af"/><stop offset="0.312" stop-color="#ffca7d"/><stop offset="0.325" stop-color="#ffa846"/><stop offset="0.338" stop-color="#ff831e"/><stop offset="0.350" stop-color="#ff5d0f"/><stop offset="0.363" stop-color="#fd3c08"/><stop offset="0.376" stop-color="#fb1e06"/><stop offset="0.388" stop-color="#ec0e05"/><stop offset="0.401" stop-color="#d70505"/><stop offset="0.414" stop-color="#bb0202"/><stop offset="0.426" stop-color="#a40000"/><stop offset="0.439" stop-color="#8e0000"/><stop offset="0.452" stop-color="#7c0000"/><stop offset="0.464" stop-color="#6d0000"/><stop offset="0.477" stop-color="#610000"/><stop offset="0.489" stop-color="#590000"/><stop offset="0.502" stop-color="#520101"/><stop offset="0.515" stop-color="#4c0101"/><stop offset="0.527" stop-color="#470101"/><stop offset="0.540" stop-color="#410101"/><stop offset="0.553" stop-color="#3d0202"/><stop offset="0.565" stop-color="#390202"/><stop offset="0.578" stop-color="#370202"/><stop offset="0.591" stop-color="#360202"/><stop offset="0.603" stop-color="#350202"/><stop offset="0.616" stop-color="#350101"/><stop offset="0.629" stop-color="#340101"/><stop offset="0.641" stop-color="#340101"/><stop offset="0.654" stop-color="#330101"/><stop offset="0.667" stop-color="#330101"/><stop offset="0.679" stop-color="#330101"/><stop offset="0.692" stop-color="#330101"/><stop offset="0.704" stop-color="#330101"/><stop offset="0.717" stop-color="#330101"/><stop offset="0.730" stop-color="#320101"/><stop offset="0.742" stop-color="#320101"/><stop offset="0.755" stop-color="#320101"/><stop offset="0.768" stop-color="#320101"/><stop offset="0.780" stop-color="#320101"/><stop offset="0.793" stop-color="#320101"/><stop offset="0.806" stop-color="#320101"/><stop offset="0.818" stop-color="#320101"/><stop offset="0.831" stop-color="#320101"/><stop offset="0.844" stop-color="#320101"/><stop offset="0.856" stop-color="#320101"/><stop offset="0.869" stop-color="#320101"/><stop offset="0.882" stop-color="#320101"/><stop offset="0.894" stop-color="#320101"/><stop offset="0.907" stop-color="#320101"/><stop offset="0.919" stop-color="#320101"/><stop offset="0.932" stop-color="#320101"/><stop offset="0.945" stop-color="#320101"/><stop offset="0.957" stop-color="#320101"/><stop offset="0.970" stop-color="#320101"/><stop offset="0.983" stop-color="#320101"/><stop offset="0.995" stop-color="#320101"/></linearGradient>
<linearGradient id="h13" gradientUnits="userSpaceOnUse" x1="75.9" y1="0" x2="313.1" y2="0"><stop offset="-0.004" stop-color="#330101"/><stop offset="0.009" stop-color="#330101"/><stop offset="0.022" stop-color="#330101"/><stop offset="0.034" stop-color="#330101"/><stop offset="0.047" stop-color="#340101"/><stop offset="0.059" stop-color="#340101"/><stop offset="0.072" stop-color="#350101"/><stop offset="0.085" stop-color="#360202"/><stop offset="0.097" stop-color="#370202"/><stop offset="0.110" stop-color="#390202"/><stop offset="0.123" stop-color="#3f0202"/><stop offset="0.135" stop-color="#480101"/><stop offset="0.148" stop-color="#540000"/><stop offset="0.161" stop-color="#690000"/><stop offset="0.173" stop-color="#870000"/><stop offset="0.186" stop-color="#ab0101"/><stop offset="0.199" stop-color="#d00404"/><stop offset="0.211" stop-color="#ee0f05"/><stop offset="0.224" stop-color="#fc2b07"/><stop offset="0.237" stop-color="#ff540c"/><stop offset="0.249" stop-color="#ff841e"/><stop offset="0.262" stop-color="#ffae4e"/><stop offset="0.274" stop-color="#ffd08a"/><stop offset="0.287" stop-color="#ffe4b5"/><stop offset="0.300" stop-color="#ffe3b3"/><stop offset="0.312" stop-color="#ffd089"/><stop offset="0.325" stop-color="#ffb052"/><stop offset="0.338" stop-color="#ff8e22"/><stop offset="0.350" stop-color="#ff6612"/><stop offset="0.363" stop-color="#fe4409"/><stop offset="0.376" stop-color="#fb2606"/><stop offset="0.388" stop-color="#f11005"/><stop offset="0.401" stop-color="#dc0705"/><stop offset="0.414" stop-color="#c20303"/><stop offset="0.426" stop-color="#aa0101"/><stop offset="0.439" stop-color="#930000"/><stop offset="0.452" stop-color="#800000"/><stop offset="0.464" stop-color="#710000"/><stop offset="0.477" stop-color="#640000"/><stop offset="0.489" stop-color="#5a0000"/><stop offset="0.502" stop-color="#540000"/><stop offset="0.515" stop-color="#4e0101"/><stop offset="0.527" stop-color="#480101"/><stop offset="0.540" stop-color="#430101"/><stop offset="0.553" stop-color="#3e0202"/><stop offset="0.565" stop-color="#3a0202"/><stop offset="0.578" stop-color="#370202"/><stop offset="0.591" stop-color="#360202"/><stop offset="0.603" stop-color="#350202"/><stop offset="0.616" stop-color="#350101"/><stop offset="0.629" stop-color="#340101"/><stop offset="0.641" stop-color="#340101"/><stop offset="0.654" stop-color="#340101"/><stop offset="0.667" stop-color="#330101"/><stop offset="0.679" stop-color="#330101"/><stop offset="0.692" stop-color="#330101"/><stop offset="0.704" stop-color="#330101"/><stop offset="0.717" stop-color="#330101"/><stop offset="0.730" stop-color="#320101"/><stop offset="0.742" stop-color="#320101"/><stop offset="0.755" stop-color="#320101"/><stop offset="0.768" stop-color="#320101"/><stop offset="0.780" stop-color="#320101"/><stop offset="0.793" stop-color="#320101"/><stop offset="0.806" stop-color="#320101"/><stop offset="0.818" stop-color="#320101"/><stop offset="0.831" stop-color="#320101"/><stop offset="0.844" stop-color="#320101"/><stop offset="0.856" stop-color="#320101"/><stop offset="0.869" stop-color="#320101"/><stop offset="0.882" stop-color="#320101"/><stop offset="0.894" stop-color="#320101"/><stop offset="0.907" stop-color="#320101"/><stop offset="0.919" stop-color="#320101"/><stop offset="0.932" stop-color="#320101"/><stop offset="0.945" stop-color="#320101"/><stop offset="0.957" stop-color="#320101"/><stop offset="0.970" stop-color="#320101"/><stop offset="0.983" stop-color="#320101"/><stop offset="0.995" stop-color="#320101"/></linearGradient>
<linearGradient id="h14" gradientUnits="userSpaceOnUse" x1="75.9" y1="0" x2="313.1" y2="0"><stop offset="-0.004" stop-color="#330101"/><stop offset="0.009" stop-color="#330101"/><stop offset="0.022" stop-color="#330101"/><stop offset="0.034" stop-color="#330101"/><stop offset="0.047" stop-color="#340101"/><stop offset="0.059" stop-color="#340101"/><stop offset="0.072" stop-color="#350101"/><stop offset="0.085" stop-color="#350202"/><stop offset="0.097" stop-color="#360202"/><stop offset="0.110" stop-color="#380202"/><stop offset="0.123" stop-color="#3d0202"/><stop offset="0.135" stop-color="#460101"/><stop offset="0.148" stop-color="#510101"/><stop offset="0.161" stop-color="#620000"/><stop offset="0.173" stop-color="#7f0000"/><stop offset="0.186" stop-color="#a30000"/><stop offset="0.199" stop-color="#c60303"/><stop offset="0.211" stop-color="#e70c05"/><stop offset="0.224" stop-color="#fb2106"/><stop offset="0.237" stop-color="#fe4909"/><stop offset="0.249" stop-color="#ff7719"/><stop offset="0.262" stop-color="#ffa33e"/><stop offset="0.274" stop-color="#ffc778"/><stop offset="0.287" stop-color="#ffdfaa"/><stop offset="0.300" stop-color="#ffe3b4"/><stop offset="0.312" stop-color="#ffd494"/><stop offset="0.325" stop-color="#ffb85e"/><stop offset="0.338" stop-color="#ff972c"/><stop offset="0.350" stop-color="#ff6f16"/><stop offset="0.363" stop-color="#ff4d0a"/><stop offset="0.376" stop-color="#fc2d07"/><stop offset="0.388" stop-color="#f71305"/><stop offset="0.401" stop-color="#e10905"/><stop offset="0.414" stop-color="#c90404"/><stop offset="0.426" stop-color="#af0101"/><stop offset="0.439" stop-color="#990000"/><stop offset="0.452" stop-color="#840000"/><stop offset="0.464" stop-color="#740000"/><stop offset="0.477" stop-color="#670000"/><stop offset="0.489" stop-color="#5c0000"/><stop offset="0.502" stop-color="#550000"/><stop offset="0.515" stop-color="#4f0101"/><stop offset="0.527" stop-color="#490101"/><stop offset="0.540" stop-color="#440101"/><stop offset="0.553" stop-color="#3f0202"/><stop offset="0.565" stop-color="#3b0202"/><stop offset="0.578" stop-color="#380202"/><stop offset="0.591" stop-color="#370202"/><stop offset="0.603" stop-color="#360202"/><stop offset="0.616" stop-color="#350101"/><stop offset="0.629" stop-color="#340101"/><stop offset="0.641" stop-color="#340101"/><stop offset="0.654" stop-color="#340101"/><stop offset="0.667" stop-color="#330101"/><stop offset="0.679" stop-color="#330101"/><stop offset="0.692" stop-color="#330101"/><stop offset="0.704" stop-color="#330101"/><stop offset="0.717" stop-color="#330101"/><stop offset="0.730" stop-color="#330101"/><stop offset="0.742" stop-color="#320101"/><stop offset="0.755" stop-color="#320101"/><stop offset="0.768" stop-color="#320101"/><stop offset="0.780" stop-color="#320101"/><stop offset="0.793" stop-color="#320101"/><stop offset="0.806" stop-color="#320101"/><stop offset="0.818" stop-color="#320101"/><stop offset="0.831" stop-color="#320101"/><stop offset="0.844" stop-color="#320101"/><stop offset="0.856" stop-color="#320101"/><stop offset="0.869" stop-color="#320101"/><stop offset="0.882" stop-color="#320101"/><stop offset="0.894" stop-color="#320101"/><stop offset="0.907" stop-color="#320101"/><stop offset="0.919" stop-color="#320101"/><stop offset="0.932" stop-color="#320101"/><stop offset="0.945" stop-color="#320101"/><stop offset="0.957" stop-color="#320101"/><stop offset="0.970" stop-color="#320101"/><stop offset="0.983" stop-color="#320101"/><stop offset="0.995" stop-color="#320101"/></linearGradient>
<linearGradient id="h15" gradientUnits="userSpaceOnUse" x1="75.9" y1="0" x2="313.1" y2="0"><stop offset="-0.004" stop-color="#330101"/><stop offset="0.009" stop-color="#330101"/><stop offset="0.022" stop-color="#330101"/><stop offset="0.034" stop-color="#330101"/><stop offset="0.047" stop-color="#330101"/><stop offset="0.059" stop-color="#340101"/><stop offset="0.072" stop-color="#340101"/><stop offset="0.085" stop-color="#350202"/><stop offset="0.097" stop-color="#360202"/><stop offset="0.110" stop-color="#370202"/><stop offset="0.123" stop-color="#3c0202"/><stop offset="0.135" stop-color="#430101"/><stop offset="0.148" stop-color="#4e0101"/><stop offset="0.161" stop-color="#5d0000"/><stop offset="0.173" stop-color="#770000"/><stop offset="0.186" stop-color="#9a0000"/><stop offset="0.199" stop-color="#bd0303"/><stop offset="0.211" stop-color="#e00905"/><stop offset="0.224" stop-color="#fa1805"/><stop offset="0.237" stop-color="#fe3f09"/><stop offset="0.249" stop-color="#ff6a14"/><stop offset="0.262" stop-color="#ff992f"/><stop offset="0.274" stop-color="#ffbe66"/><stop offset="0.287" stop-color="#ffd89c"/><stop offset="0.300" stop-color="#ffe2b1"/><stop offset="0.312" stop-color="#ffd89c"/><stop offset="0.325" stop-color="#ffc069"/><stop offset="0.338" stop-color="#ff9e37"/><stop offset="0.350" stop-color="#ff791a"/><stop offset="0.363" stop-color="#ff550c"/><stop offset="0.376" stop-color="#fd3508"/><stop offset="0.388" stop-color="#fa1805"/><stop offset="0.401" stop-color="#e60c05"/><stop offset="0.414" stop-color="#d00404"/><stop offset="0.426" stop-color="#b50202"/><stop offset="0.439" stop-color="#9f0000"/><stop offset="0.452" stop-color="#890000"/><stop offset="0.464" stop-color="#780000"/><stop offset="0.477" stop-color="#6a0000"/><stop offset="0.489" stop-color="#5f0000"/><stop offset="0.502" stop-color="#570000"/><stop offset="0.515" stop-color="#510101"/><stop offset="0.527" stop-color="#4b0101"/><stop offset="0.540" stop-color="#450101"/><stop offset="0.553" stop-color="#400202"/><stop offset="0.565" stop-color="#3c0202"/><stop offset="0.578" stop-color="#380202"/><stop offset="0.591" stop-color="#370202"/><stop offset="0.603" stop-color="#360202"/><stop offset="0.616" stop-color="#350202"/><stop offset="0.629" stop-color="#350101"/><stop offset="0.641" stop-color="#340101"/><stop offset="0.654" stop-color="#340101"/><stop offset="0.667" stop-color="#330101"/><stop offset="0.679" stop-color="#330101"/><stop offset="0.692" stop-color="#330101"/><stop offset="0.704" stop-color="#330101"/><stop offset="0.717" stop-color="#330101"/><stop offset="0.730" stop-color="#330101"/><stop offset="0.742" stop-color="#320101"/><stop offset="0.755" stop-color="#320101"/><stop offset="0.768" stop-color="#320101"/><stop offset="0.780" stop-color="#320101"/><stop offset="0.793" stop-color="#320101"/><stop offset="0.806" stop-color="#320101"/><stop offset="0.818" stop-color="#320101"/><stop offset="0.831" stop-color="#320101"/><stop offset="0.844" stop-color="#320101"/><stop offset="0.856" stop-color="#320101"/><stop offset="0.869" stop-color="#320101"/><stop offset="0.882" stop-color="#320101"/><stop offset="0.894" stop-color="#320101"/><stop offset="0.907" stop-color="#320101"/><stop offset="0.919" stop-color="#320101"/><stop offset="0.932" stop-color="#320101"/><stop offset="0.945" stop-color="#320101"/><stop offset="0.957" stop-color="#320101"/><stop offset="0.970" stop-color="#320101"/><stop offset="0.983" stop-color="#320101"/><stop offset="0.995" stop-color="#320101"/></linearGradient>
<linearGradient id="h16" gradientUnits="userSpaceOnUse" x1="75.9" y1="0" x2="313.1" y2="0"><stop offset="-0.004" stop-color="#320101"/><stop offset="0.009" stop-color="#330101"/><stop offset="0.022" stop-color="#330101"/><stop offset="0.034" stop-color="#330101"/><stop offset="0.047" stop-color="#330101"/><stop offset="0.059" stop-color="#340101"/><stop offset="0.072" stop-color="#340101"/><stop offset="0.085" stop-color="#350101"/><stop offset="0.097" stop-color="#360202"/><stop offset="0.110" stop-color="#370202"/><stop offset="0.123" stop-color="#3a0202"/><stop offset="0.135" stop-color="#410101"/><stop offset="0.148" stop-color="#4b0101"/><stop offset="0.161" stop-color="#590000"/><stop offset="0.173" stop-color="#700000"/><stop offset="0.186" stop-color="#910000"/><stop offset="0.199" stop-color="#b40202"/><stop offset="0.211" stop-color="#da0605"/><stop offset="0.224" stop-color="#f61205"/><stop offset="0.237" stop-color="#fd3408"/><stop offset="0.249" stop-color="#ff5f10"/><stop offset="0.262" stop-color="#ff8e22"/><stop offset="0.274" stop-color="#ffb357"/><stop offset="0.287" stop-color="#ffd18d"/><stop offset="0.300" stop-color="#ffe0ac"/><stop offset="0.312" stop-color="#ffdba1"/><stop offset="0.325" stop-color="#ffc674"/><stop offset="0.338" stop-color="#ffa643"/><stop offset="0.350" stop-color="#ff831e"/><stop offset="0.363" stop-color="#ff5d0f"/><stop offset="0.376" stop-color="#fd3d08"/><stop offset="0.388" stop-color="#fb1f06"/><stop offset="0.401" stop-color="#ec0e05"/><stop offset="0.414" stop-color="#d70505"/><stop offset="0.426" stop-color="#bb0202"/><stop offset="0.439" stop-color="#a40000"/><stop offset="0.452" stop-color="#8e0000"/><stop offset="0.464" stop-color="#7c0000"/><stop offset="0.477" stop-color="#6d0000"/><stop offset="0.489" stop-color="#610000"/><stop offset="0.502" stop-color="#590000"/><stop offset="0.515" stop-color="#520101"/><stop offset="0.527" stop-color="#4c0101"/><stop offset="0.540" stop-color="#470101"/><stop offset="0.553" stop-color="#420101"/><stop offset="0.565" stop-color="#3d0202"/><stop offset="0.578" stop-color="#390202"/><stop offset="0.591" stop-color="#370202"/><stop offset="0.603" stop-color="#360202"/><stop offset="0.616" stop-color="#350202"/><stop offset="0.629" stop-color="#350101"/><stop offset="0.641" stop-color="#340101"/><stop offset="0.654" stop-color="#340101"/><stop offset="0.667" stop-color="#330101"/><stop offset="0.679" stop-color="#330101"/><stop offset="0.692" stop-color="#330101"/><stop offset="0.704" stop-color="#330101"/><stop offset="0.717" stop-color="#330101"/><stop offset="0.730" stop-color="#330101"/><stop offset="0.742" stop-color="#320101"/><stop offset="0.755" stop-color="#320101"/><stop offset="0.768" stop-color="#320101"/><stop offset="0.780" stop-color="#320101"/><stop offset="0.793" stop-color="#320101"/><stop offset="0.806" stop-color="#320101"/><stop offset="0.818" stop-color="#320101"/><stop offset="0.831" stop-color="#320101"/><stop offset="0.844" stop-color="#320101"/><stop offset="0.856" stop-color="#320101"/><stop offset="0.869" stop-color="#320101"/><stop offset="0.882" stop-color="#320101"/><stop offset="0.894" stop-color="#320101"/><stop offset="0.907" stop-color="#320101"/><stop offset="0.919" stop-color="#320101"/><stop offset="0.932" stop-color="#320101"/><stop offset="0.945" stop-color="#320101"/><stop offset="0.957" stop-color="#320101"/><stop offset="0.970" stop-color="#320101"/><stop offset="0.983" stop-color="#320101"/><stop offset="0.995" stop-color="#320101"/></linearGradient>
<linearGradient id="h17" gradientUnits="userSpaceOnUse" x1="75.9" y1="0" x2="313.1" y2="0"><stop offset="-0.004" stop-color="#320101"/><stop offset="0.009" stop-color="#330101"/><stop offset="0.022" stop-color="#330101"/><stop offset="0.034" stop-color="#330101"/><stop offset="0.047" stop-color="#330101"/><stop offset="0.059" stop-color="#340101"/><stop offset="0.072" stop-color="#340101"/><stop offset="0.085" stop-color="#350101"/><stop offset="0.097" stop-color="#360202"/><stop offset="0.110" stop-color="#370202"/><stop offset="0.123" stop-color="#390202"/><stop offset="0.135" stop-color="#3f0202"/><stop offset="0.148" stop-color="#490101"/><stop offset="0.161" stop-color="#550000"/><stop offset="0.173" stop-color="#6a0000"/><stop offset="0.186" stop-color="#880000"/><stop offset="0.199" stop-color="#ac0101"/><stop offset="0.211" stop-color="#d10404"/><stop offset="0.224" stop-color="#ef0f05"/><stop offset="0.237" stop-color="#fc2b07"/><stop offset="0.249" stop-color="#ff540b"/><stop offset="0.262" stop-color="#ff811d"/><stop offset="0.274" stop-color="#ffa947"/><stop offset="0.287" stop-color="#ffca7d"/><stop offset="0.300" stop-color="#ffdca4"/><stop offset="0.312" stop-color="#ffdca4"/><stop offset="0.325" stop-color="#ffcb7f"/><stop offset="0.338" stop-color="#ffae4e"/><stop offset="0.350" stop-color="#ff8d22"/><stop offset="0.363" stop-color="#ff6613"/><stop offset="0.376" stop-color="#fe4509"/><stop offset="0.388" stop-color="#fb2606"/><stop offset="0.401" stop-color="#f21005"/><stop offset="0.414" stop-color="#dc0705"/><stop offset="0.426" stop-color="#c20303"/><stop offset="0.439" stop-color="#a90101"/><stop offset="0.452" stop-color="#930000"/><stop offset="0.464" stop-color="#800000"/><stop offset="0.477" stop-color="#700000"/><stop offset="0.489" stop-color="#640000"/><stop offset="0.502" stop-color="#5a0000"/><stop offset="0.515" stop-color="#540000"/><stop offset="0.527" stop-color="#4e0101"/><stop offset="0.540" stop-color="#480101"/><stop offset="0.553" stop-color="#430101"/><stop offset="0.565" stop-color="#3e0202"/><stop offset="0.578" stop-color="#3a0202"/><stop offset="0.591" stop-color="#370202"/><stop offset="0.603" stop-color="#360202"/><stop offset="0.616" stop-color="#350202"/><stop offset="0.629" stop-color="#350101"/><stop offset="0.641" stop-color="#340101"/><stop offset="0.654" stop-color="#340101"/><stop offset="0.667" stop-color="#340101"/><stop offset="0.679" stop-color="#330101"/><stop offset="0.692" stop-color="#330101"/><stop offset="0.704" stop-color="#330101"/><stop offset="0.717" stop-color="#330101"/><stop offset="0.730" stop-color="#330101"/><stop offset="0.742" stop-color="#320101"/><stop offset="0.755" stop-color="#320101"/><stop offset="0.768" stop-color="#320101"/><stop offset="0.780" stop-color="#320101"/><stop offset="0.793" stop-color="#320101"/><stop offset="0.806" stop-color="#320101"/><stop offset="0.818" stop-color="#320101"/><stop offset="0.831" stop-color="#320101"/><stop offset="0.844" stop-color="#320101"/><stop offset="0.856" stop-color="#320101"/><stop offset="0.869" stop-color="#320101"/><stop offset="0.882" stop-color="#320101"/><stop offset="0.894" stop-color="#320101"/><stop offset="0.907" stop-color="#320101"/><stop offset="0.919" stop-color="#320101"/><stop offset="0.932" stop-color="#320101"/><stop offset="0.945" stop-color="#320101"/><stop offset="0.957" stop-color="#320101"/><stop offset="0.970" stop-color="#320101"/><stop offset="0.983" stop-color="#320101"/><stop offset="0.995" stop-color="#320101"/></linearGradient>
<linearGradient id="h18" gradientUnits="userSpaceOnUse" x1="75.9" y1="0" x2="313.1" y2="0"><stop offset="-0.004" stop-color="#320101"/><stop offset="0.009" stop-color="#330101"/><stop offset="0.022" stop-color="#330101"/><stop offset="0.034" stop-color="#330101"/><stop offset="0.047" stop-color="#330101"/><stop offset="0.059" stop-color="#340101"/><stop offset="0.072" stop-color="#340101"/><stop offset="0.085" stop-color="#350101"/><stop offset="0.097" stop-color="#350202"/><stop offset="0.110" stop-color="#360202"/><stop offset="0.123" stop-color="#380202"/><stop offset="0.135" stop-color="#3e0202"/><stop offset="0.148" stop-color="#460101"/><stop offset="0.161" stop-color="#520101"/><stop offset="0.173" stop-color="#630000"/><stop offset="0.186" stop-color="#800000"/><stop offset="0.199" stop-color="#a40000"/><stop offset="0.211" stop-color="#c70404"/><stop offset="0.224" stop-color="#e80c05"/><stop offset="0.237" stop-color="#fb2106"/><stop offset="0.249" stop-color="#fe4909"/><stop offset="0.262" stop-color="#ff7418"/><stop offset="0.274" stop-color="#ff9f38"/><stop offset="0.287" stop-color="#ffc26c"/><stop offset="0.300" stop-color="#ffd79a"/><stop offset="0.312" stop-color="#ffdca4"/><stop offset="0.325" stop-color="#ffcf88"/><stop offset="0.338" stop-color="#ffb559"/><stop offset="0.350" stop-color="#ff962a"/><stop offset="0.363" stop-color="#ff6f16"/><stop offset="0.376" stop-color="#ff4d0a"/><stop offset="0.388" stop-color="#fc2d07"/><stop offset="0.401" stop-color="#f71305"/><stop offset="0.414" stop-color="#e10905"/><stop offset="0.426" stop-color="#c80404"/><stop offset="0.439" stop-color="#af0101"/><stop offset="0.452" stop-color="#980000"/><stop offset="0.464" stop-color="#840000"/><stop offset="0.477" stop-color="#740000"/><stop offset="0.489" stop-color="#670000"/><stop offset="0.502" stop-color="#5c0000"/><stop offset="0.515" stop-color="#550000"/><stop offset="0.527" stop-color="#4f0101"/><stop offset="0.540" stop-color="#490101"/><stop offset="0.553" stop-color="#440101"/><stop offset="0.565" stop-color="#3f0202"/><stop offset="0.578" stop-color="#3b0202"/><stop offset="0.591" stop-color="#380202"/><stop offset="0.603" stop-color="#370202"/><stop offset="0.616" stop-color="#360202"/><stop offset="0.629" stop-color="#350101"/><stop offset="0.641" stop-color="#340101"/><stop offset="0.654" stop-color="#340101"/><stop offset="0.667" stop-color="#340101"/><stop offset="0.679" stop-color="#330101"/><stop offset="0.692" stop-color="#330101"/><stop offset="0.704" stop-color="#330101"/><stop offset="0.717" stop-color="#330101"/><stop offset="0.730" stop-color="#330101"/><stop offset="0.742" stop-color="#330101"/><stop offset="0.755" stop-color="#320101"/><stop offset="0.768" stop-color="#320101"/><stop offset="0.780" stop-color="#320101"/><stop offset="0.793" stop-color="#320101"/><stop offset="0.806" stop-color="#320101"/><stop offset="0.818" stop-color="#320101"/><stop offset="0.831" stop-color="#320101"/><stop offset="0.844" stop-color="#320101"/><stop offset="0.856" stop-color="#320101"/><stop offset="0.869" stop-color="#320101"/><stop offset="0.882" stop-color="#320101"/><stop offset="0.894" stop-color="#320101"/><stop offset="0.907" stop-color="#320101"/><stop offset="0.919" stop-color="#320101"/><stop offset="0.932" stop-color="#320101"/><stop offset="0.945" stop-color="#320101"/><stop offset="0.957" stop-color="#320101"/><stop offset="0.970" stop-color="#320101"/><stop offset="0.983" stop-color="#320101"/><stop offset="0.995" stop-color="#320101"/></linearGradient>
<linearGradient id="h19" gradientUnits="userSpaceOnUse" x1="75.9" y1="0" x2="313.1" y2="0"><stop offset="-0.004" stop-color="#320101"/><stop offset="0.009" stop-color="#330101"/><stop offset="0.022" stop-color="#330101"/><stop offset="0.034" stop-color="#330101"/><stop offset="0.047" stop-color="#330101"/><stop offset="0.059" stop-color="#330101"/><stop offset="0.072" stop-color="#340101"/><stop offset="0.085" stop-color="#340101"/><stop offset="0.097" stop-color="#350202"/><stop offset="0.110" stop-color="#360202"/><stop offset="0.123" stop-color="#370202"/><stop offset="0.135" stop-color="#3c0202"/><stop offset="0.148" stop-color="#440101"/><stop offset="0.161" stop-color="#4f0101"/><stop offset="0.173" stop-color="#5d0000"/><stop offset="0.186" stop-color="#790000"/><stop offset="0.199" stop-color="#9b0000"/><stop offset="0.211" stop-color="#be0303"/><stop offset="0.224" stop-color="#e10905"/><stop offset="0.237" stop-color="#fa1905"/><stop offset="0.249" stop-color="#fe3e09"/><stop offset="0.262" stop-color="#ff6813"/><stop offset="0.274" stop-color="#ff962a"/><stop offset="0.287" stop-color="#ffb85d"/><stop offset="0.300" stop-color="#ffd18d"/><stop offset="0.312" stop-color="#ffdba1"/><stop offset="0.325" stop-color="#ffd28f"/><stop offset="0.338" stop-color="#ffbc63"/><stop offset="0.350" stop-color="#ff9d35"/><stop offset="0.363" stop-color="#ff791a"/><stop offset="0.376" stop-color="#ff550c"/><stop offset="0.388" stop-color="#fd3508"/><stop offset="0.401" stop-color="#fa1805"/><stop offset="0.414" stop-color="#e70c05"/><stop offset="0.426" stop-color="#d00404"/><stop offset="0.439" stop-color="#b50202"/><stop offset="0.452" stop-color="#9e0000"/><stop offset="0.464" stop-color="#890000"/><stop offset="0.477" stop-color="#770000"/><stop offset="0.489" stop-color="#6a0000"/><stop offset="0.502" stop-color="#5e0000"/><stop offset="0.515" stop-color="#570000"/><stop offset="0.527" stop-color="#510101"/><stop offset="0.540" stop-color="#4b0101"/><stop offset="0.553" stop-color="#450101"/><stop offset="0.565" stop-color="#400202"/><stop offset="0.578" stop-color="#3c0202"/><stop offset="0.591" stop-color="#380202"/><stop offset="0.603" stop-color="#370202"/><stop offset="0.616" stop-color="#360202"/><stop offset="0.629" stop-color="#350202"/><stop offset="0.641" stop-color="#350101"/><stop offset="0.654" stop-color="#340101"/><stop offset="0.667" stop-color="#340101"/><stop offset="0.679" stop-color="#330101"/><stop offset="0.692" stop-color="#330101"/><stop offset="0.704" stop-color="#330101"/><stop offset="0.717" stop-color="#330101"/><stop offset="0.730" stop-color="#330101"/><stop offset="0.742" stop-color="#330101"/><stop offset="0.755" stop-color="#320101"/><stop offset="0.768" stop-color="#320101"/><stop offset="0.780" stop-color="#320101"/><stop offset="0.793" stop-color="#320101"/><stop offset="0.806" stop-color="#320101"/><stop offset="0.818" stop-color="#320101"/><stop offset="0.831" stop-color="#320101"/><stop offset="0.844" stop-color="#320101"/><stop offset="0.856" stop-color="#320101"/><stop offset="0.869" stop-color="#320101"/><stop offset="0.882" stop-color="#320101"/><stop offset="0.894" stop-color="#320101"/><stop offset="0.907" stop-color="#320101"/><stop offset="0.919" stop-color="#320101"/><stop offset="0.932" stop-color="#320101"/><stop offset="0.945" stop-color="#320101"/><stop offset="0.957" stop-color="#320101"/><stop offset="0.970" stop-color="#320101"/><stop offset="0.983" stop-color="#320101"/><stop offset="0.995" stop-color="#320101"/></linearGradient>
<linearGradient id="h20" gradientUnits="userSpaceOnUse" x1="75.9" y1="0" x2="313.1" y2="0"><stop offset="-0.004" stop-color="#320101"/><stop offset="0.009" stop-color="#320101"/><stop offset="0.022" stop-color="#330101"/><stop offset="0.034" stop-color="#330101"/><stop offset="0.047" stop-color="#330101"/><stop offset="0.059" stop-color="#330101"/><stop offset="0.072" stop-color="#340101"/><stop offset="0.085" stop-color="#340101"/><stop offset="0.097" stop-color="#350101"/><stop offset="0.110" stop-color="#360202"/><stop offset="0.123" stop-color="#370202"/><stop offset="0.135" stop-color="#3a0202"/><stop offset="0.148" stop-color="#420101"/><stop offset="0.161" stop-color="#4c0101"/><stop offset="0.173" stop-color="#590000"/><stop offset="0.186" stop-color="#710000"/><stop offset="0.199" stop-color="#920000"/><stop offset="0.211" stop-color="#b50202"/><stop offset="0.224" stop-color="#da0605"/><stop offset="0.237" stop-color="#f61205"/><stop offset="0.249" stop-color="#fd3408"/><stop offset="0.262" stop-color="#ff5d0f"/><stop offset="0.274" stop-color="#ff8b21"/><stop offset="0.287" stop-color="#ffae4f"/><stop offset="0.300" stop-color="#ffcb7f"/><stop offset="0.312" stop-color="#ffd89c"/><stop offset="0.325" stop-color="#ffd493"/><stop offset="0.338" stop-color="#ffc16c"/><stop offset="0.350" stop-color="#ffa43f"/><stop offset="0.363" stop-color="#ff821d"/><stop offset="0.376" stop-color="#ff5e0f"/><stop offset="0.388" stop-color="#fd3d08"/><stop offset="0.401" stop-color="#fb1f06"/><stop offset="0.414" stop-color="#ec0e05"/><stop offset="0.426" stop-color="#d70505"/><stop offset="0.439" stop-color="#bb0202"/><stop offset="0.452" stop-color="#a40000"/><stop offset="0.464" stop-color="#8d0000"/><stop offset="0.477" stop-color="#7b0000"/><stop offset="0.489" stop-color="#6d0000"/><stop offset="0.502" stop-color="#610000"/><stop offset="0.515" stop-color="#580000"/><stop offset="0.527" stop-color="#520101"/><stop offset="0.540" stop-color="#4c0101"/><stop offset="0.553" stop-color="#470101"/><stop offset="0.565" stop-color="#420101"/><stop offset="0.578" stop-color="#3d0202"/><stop offset="0.591" stop-color="#390202"/><stop offset="0.603" stop-color="#370202"/><stop offset="0.616" stop-color="#360202"/><stop offset="0.629" stop-color="#350202"/><stop offset="0.641" stop-color="#350101"/><stop offset="0.654" stop-color="#340101"/><stop offset="0.667" stop-color="#340101"/><stop offset="0.679" stop-color="#330101"/><stop offset="0.692" stop-color="#330101"/><stop offset="0.704" stop-color="#330101"/><stop offset="0.717" stop-color="#330101"/><stop offset="0.730" stop-color="#330101"/><stop offset="0.742" stop-color="#330101"/><stop offset="0.755" stop-color="#320101"/><stop offset="0.768" stop-color="#320101"/><stop offset="0.780" stop-color="#320101"/><stop offset="0.793" stop-color="#320101"/><stop offset="0.806" stop-color="#320101"/><stop offset="0.818" stop-color="#320101"/><stop offset="0.831" stop-color="#320101"/><stop offset="0.844" stop-color="#320101"/><stop offset="0.856" stop-color="#320101"/><stop offset="0.869" stop-color="#320101"/><stop offset="0.882" stop-color="#320101"/><stop offset="0.894" stop-color="#320101"/><stop offset="0.907" stop-color="#320101"/><stop offset="0.919" stop-color="#320101"/><stop offset="0.932" stop-color="#320101"/><stop offset="0.945" stop-color="#320101"/><stop offset="0.957" stop-color="#320101"/><stop offset="0.970" stop-color="#320101"/><stop offset="0.983" stop-color="#320101"/><stop offset="0.995" stop-color="#320101"/></linearGradient>
<linearGradient id="h21" gradientUnits="userSpaceOnUse" x1="75.9" y1="0" x2="313.1" y2="0"><stop offset="-0.004" stop-color="#320101"/><stop offset="0.009" stop-color="#320101"/><stop offset="0.022" stop-color="#330101"/><stop offset="0.034" stop-color="#330101"/><stop offset="0.047" stop-color="#330101"/><stop offset="0.059" stop-color="#330101"/><stop offset="0.072" stop-color="#340101"/><stop offset="0.085" stop-color="#340101"/><stop offset="0.097" stop-color="#350101"/><stop offset="0.110" stop-color="#360202"/><stop offset="0.123" stop-color="#370202"/><stop offset="0.135" stop-color="#390202"/><stop offset="0.148" stop-color="#400202"/><stop offset="0.161" stop-color="#490101"/><stop offset="0.173" stop-color="#560000"/><stop offset="0.186" stop-color="#6b0000"/><stop offset="0.199" stop-color="#890000"/><stop offset="0.211" stop-color="#ad0101"/><stop offset="0.224" stop-color="#d20505"/><stop offset="0.237" stop-color="#ef0f05"/><stop offset="0.249" stop-color="#fc2b07"/><stop offset="0.262" stop-color="#ff530b"/><stop offset="0.274" stop-color="#ff7e1c"/><stop offset="0.287" stop-color="#ffa540"/><stop offset="0.300" stop-color="#ffc46f"/><stop offset="0.312" stop-color="#ffd594"/><stop offset="0.325" stop-color="#ffd595"/><stop offset="0.338" stop-color="#ffc675"/><stop offset="0.350" stop-color="#ffab4a"/><stop offset="0.363" stop-color="#ff8c21"/><stop offset="0.376" stop-color="#ff6613"/><stop offset="0.388" stop-color="#fe4509"/><stop offset="0.401" stop-color="#fc2607"/><stop offset="0.414" stop-color="#f21005"/><stop offset="0.426" stop-color="#dc0705"/><stop offset="0.439" stop-color="#c10303"/><stop offset="0.452" stop-color="#a90101"/><stop offset="0.464" stop-color="#930000"/><stop offset="0.477" stop-color="#7f0000"/><stop offset="0.489" stop-color="#700000"/><stop offset="0.502" stop-color="#640000"/><stop offset="0.515" stop-color="#5a0000"/><stop offset="0.527" stop-color="#540000"/><stop offset="0.540" stop-color="#4e0101"/><stop offset="0.553" stop-color="#480101"/><stop offset="0.565" stop-color="#430101"/><stop offset="0.578" stop-color="#3e0202"/><stop offset="0.591" stop-color="#3a0202"/><stop offset="0.603" stop-color="#370202"/><stop offset="0.616" stop-color="#360202"/><stop offset="0.629" stop-color="#350202"/><stop offset="0.641" stop-color="#350101"/><stop offset="0.654" stop-color="#340101"/><stop offset="0.667" stop-color="#340101"/><stop offset="0.679" stop-color="#340101"/><stop offset="0.692" stop-color="#330101"/><stop offset="0.704" stop-color="#330101"/><stop offset="0.717" stop-color="#330101"/><stop offset="0.730" stop-color="#330101"/><stop offset="0.742" stop-color="#330101"/><stop offset="0.755" stop-color="#320101"/><stop offset="0.768" stop-color="#320101"/><stop offset="0.780" stop-color="#320101"/><stop offset="0.793" stop-color="#320101"/><stop offset="0.806" stop-color="#320101"/><stop offset="0.818" stop-color="#320101"/><stop offset="0.831" stop-color="#320101"/><stop offset="0.844" stop-color="#320101"/><stop offset="0.856" stop-color="#320101"/><stop offset="0.869" stop-color="#320101"/><stop offset="0.882" stop-color="#320101"/><stop offset="0.894" stop-color="#320101"/><stop offset="0.907" stop-color="#320101"/><stop offset="0.919" stop-color="#320101"/><stop offset="0.932" stop-color="#320101"/><stop offset="0.945" stop-color="#320101"/><stop offset="0.957" stop-color="#320101"/><stop offset="0.970" stop-color="#320101"/><stop offset="0.983" stop-color="#320101"/><stop offset="0.995" stop-color="#320101"/></linearGradient>
<linearGradient id="h22" gradientUnits="userSpaceOnUse" x1="75.9" y1="0" x2="313.1" y2="0"><stop offset="-0.004" stop-color="#320101"/><stop offset="0.009" stop-color="#320101"/><stop offset="0.022" stop-color="#330101"/><stop offset="0.034" stop-color="#330101"/><stop offset="0.047" stop-color="#330101"/><stop offset="0.059" stop-color="#330101"/><stop offset="0.072" stop-color="#340101"/><stop offset="0.085" stop-color="#340101"/><stop offset="0.097" stop-color="#350101"/><stop offset="0.110" stop-color="#350202"/><stop offset="0.123" stop-color="#360202"/><stop offset="0.135" stop-color="#380202"/><stop offset="0.148" stop-color="#3e0202"/><stop offset="0.161" stop-color="#460101"/><stop offset="0.173" stop-color="#520101"/><stop offset="0.186" stop-color="#640000"/><stop offset="0.199" stop-color="#810000"/><stop offset="0.211" stop-color="#a50000"/><stop offset="0.224" stop-color="#c80404"/><stop offset="0.237" stop-color="#e80c05"/><stop offset="0.249" stop-color="#fb2206"/><stop offset="0.262" stop-color="#fe4809"/><stop offset="0.274" stop-color="#ff7217"/><stop offset="0.287" stop-color="#ff9b33"/><stop offset="0.300" stop-color="#ffbb62"/><stop offset="0.312" stop-color="#ffd08a"/><stop offset="0.325" stop-color="#ffd594"/><stop offset="0.338" stop-color="#ffca7c"/><stop offset="0.350" stop-color="#ffb153"/><stop offset="0.363" stop-color="#ff9428"/><stop offset="0.376" stop-color="#ff6f16"/><stop offset="0.388" stop-color="#ff4d0a"/><stop offset="0.401" stop-color="#fc2e07"/><stop offset="0.414" stop-color="#f81305"/><stop offset="0.426" stop-color="#e10905"/><stop offset="0.439" stop-color="#c80404"/><stop offset="0.452" stop-color="#ae0101"/><stop offset="0.464" stop-color="#980000"/><stop offset="0.477" stop-color="#830000"/><stop offset="0.489" stop-color="#730000"/><stop offset="0.502" stop-color="#660000"/><stop offset="0.515" stop-color="#5c0000"/><stop offset="0.527" stop-color="#550000"/><stop offset="0.540" stop-color="#4f0101"/><stop offset="0.553" stop-color="#4a0101"/><stop offset="0.565" stop-color="#440101"/><stop offset="0.578" stop-color="#3f0202"/><stop offset="0.591" stop-color="#3b0202"/><stop offset="0.603" stop-color="#380202"/><stop offset="0.616" stop-color="#370202"/><stop offset="0.629" stop-color="#360202"/><stop offset="0.641" stop-color="#350101"/><stop offset="0.654" stop-color="#340101"/><stop offset="0.667" stop-color="#340101"/><stop offset="0.679" stop-color="#340101"/><stop offset="0.692" stop-color="#330101"/><stop offset="0.704" stop-color="#330101"/><stop offset="0.717" stop-color="#330101"/><stop offset="0.730" stop-color="#330101"/><stop offset="0.742" stop-color="#330101"/><stop offset="0.755" stop-color="#330101"/><stop offset="0.768" stop-color="#320101"/><stop offset="0.780" stop-color="#320101"/><stop offset="0.793" stop-color="#320101"/><stop offset="0.806" stop-color="#320101"/><stop offset="0.818" stop-color="#320101"/><stop offset="0.831" stop-color="#320101"/><stop offset="0.844" stop-color="#320101"/><stop offset="0.856" stop-color="#320101"/><stop offset="0.869" stop-color="#320101"/><stop offset="0.882" stop-color="#320101"/><stop offset="0.894" stop-color="#320101"/><stop offset="0.907" stop-color="#320101"/><stop offset="0.919" stop-color="#320101"/><stop offset="0.932" stop-color="#320101"/><stop offset="0.945" stop-color="#320101"/><stop offset="0.957" stop-color="#320101"/><stop offset="0.970" stop-color="#320101"/><stop offset="0.983" stop-color="#320101"/><stop offset="0.995" stop-color="#320101"/></linearGradient>
<linearGradient id="h23" gradientUnits="userSpaceOnUse" x1="75.9" y1="0" x2="313.1" y2="0"><stop offset="-0.004" stop-color="#320101"/><stop offset="0.009" stop-color="#320101"/><stop offset="0.022" stop-color="#330101"/><stop offset="0.034" stop-color="#330101"/><stop offset="0.047" stop-color="#330101"/><stop offset="0.059" stop-color="#330101"/><stop offset="0.072" stop-color="#330101"/><stop offset="0.085" stop-color="#340101"/><stop offset="0.097" stop-color="#340101"/><stop offset="0.110" stop-color="#350202"/><stop offset="0.123" stop-color="#360202"/><stop offset="0.135" stop-color="#380202"/><stop offset="0.148" stop-color="#3c0202"/><stop offset="0.161" stop-color="#440101"/><stop offset="0.173" stop-color="#4f0101"/><stop offset="0.186" stop-color="#5e0000"/><stop offset="0.199" stop-color="#7a0000"/><stop offset="0.211" stop-color="#9c0000"/><stop offset="0.224" stop-color="#bf0303"/><stop offset="0.237" stop-color="#e10905"/><stop offset="0.249" stop-color="#fa1905"/><stop offset="0.262" stop-color="#fe3e09"/><stop offset="0.274" stop-color="#ff6713"/><stop offset="0.287" stop-color="#ff9325"/><stop offset="0.300" stop-color="#ffb254"/><stop offset="0.312" stop-color="#ffca7e"/><stop offset="0.325" stop-color="#ffd391"/><stop offset="0.338" stop-color="#ffcc81"/><stop offset="0.350" stop-color="#ffb75c"/><stop offset="0.363" stop-color="#ff9b32"/><stop offset="0.376" stop-color="#ff7819"/><stop offset="0.388" stop-color="#ff560c"/><stop offset="0.401" stop-color="#fd3508"/><stop offset="0.414" stop-color="#fa1805"/><stop offset="0.426" stop-color="#e70c05"/><stop offset="0.439" stop-color="#cf0404"/><stop offset="0.452" stop-color="#b40202"/><stop offset="0.464" stop-color="#9e0000"/><stop offset="0.477" stop-color="#880000"/><stop offset="0.489" stop-color="#770000"/><stop offset="0.502" stop-color="#690000"/><stop offset="0.515" stop-color="#5e0000"/><stop offset="0.527" stop-color="#570000"/><stop offset="0.540" stop-color="#510101"/><stop offset="0.553" stop-color="#4b0101"/><stop offset="0.565" stop-color="#460101"/><stop offset="0.578" stop-color="#410202"/><stop offset="0.591" stop-color="#3c0202"/><stop offset="0.603" stop-color="#380202"/><stop offset="0.616" stop-color="#370202"/><stop offset="0.629" stop-color="#360202"/><stop offset="0.641" stop-color="#350202"/><stop offset="0.654" stop-color="#350101"/><stop offset="0.667" stop-color="#340101"/><stop offset="0.679" stop-color="#340101"/><stop offset="0.692" stop-color="#330101"/><stop offset="0.704" stop-color="#330101"/><stop offset="0.717" stop-color="#330101"/><stop offset="0.730" stop-color="#330101"/><stop offset="0.742" stop-color="#330101"/><stop offset="0.755" stop-color="#330101"/><stop offset="0.768" stop-color="#320101"/><stop offset="0.780" stop-color="#320101"/><stop offset="0.793" stop-color="#320101"/><stop offset="0.806" stop-color="#320101"/><stop offset="0.818" stop-color="#320101"/><stop offset="0.831" stop-color="#320101"/><stop offset="0.844" stop-color="#320101"/><stop offset="0.856" stop-color="#320101"/><stop offset="0.869" stop-color="#320101"/><stop offset="0.882" stop-color="#320101"/><stop offset="0.894" stop-color="#320101"/><stop offset="0.907" stop-color="#320101"/><stop offset="0.919" stop-color="#320101"/><stop offset="0.932" stop-color="#320101"/><stop offset="0.945" stop-color="#320101"/><stop offset="0.957" stop-color="#320101"/><stop offset="0.970" stop-color="#320101"/><stop offset="0.983" stop-color="#320101"/><stop offset="0.995" stop-color="#320101"/></linearGradient>
<linearGradient id="h24" gradientUnits="userSpaceOnUse" x1="75.9" y1="0" x2="313.1" y2="0"><stop offset="-0.004" stop-color="#320101"/><stop offset="0.009" stop-color="#320101"/><stop offset="0.022" stop-color="#320101"/><stop offset="0.034" stop-color="#330101"/><stop offset="0.047" stop-color="#330101"/><stop offset="0.059" stop-color="#330101"/><stop offset="0.072" stop-color="#330101"/><stop offset="0.085" stop-color="#340101"/><stop offset="0.097" stop-color="#340101"/><stop offset="0.110" stop-color="#350101"/><stop offset="0.123" stop-color="#360202"/><stop offset="0.135" stop-color="#370202"/><stop offset="0.148" stop-color="#3b0202"/><stop offset="0.161" stop-color="#420101"/><stop offset="0.173" stop-color="#4c0101"/><stop offset="0.186" stop-color="#5a0000"/><stop offset="0.199" stop-color="#730000"/><stop offset="0.211" stop-color="#940000"/><stop offset="0.224" stop-color="#b70202"/><stop offset="0.237" stop-color="#db0705"/><stop offset="0.249" stop-color="#f71305"/><stop offset="0.262" stop-color="#fd3508"/><stop offset="0.274" stop-color="#ff5c0f"/><stop offset="0.287" stop-color="#ff871f"/><stop offset="0.300" stop-color="#ffa947"/><stop offset="0.312" stop-color="#ffc471"/><stop offset="0.325" stop-color="#ffd18c"/><stop offset="0.338" stop-color="#ffcd85"/><stop offset="0.350" stop-color="#ffbc64"/><stop offset="0.363" stop-color="#ffa13b"/><stop offset="0.376" stop-color="#ff811d"/><stop offset="0.388" stop-color="#ff5e0f"/><stop offset="0.401" stop-color="#fd3d08"/><stop offset="0.414" stop-color="#fb1f06"/><stop offset="0.426" stop-color="#ec0e05"/><stop offset="0.439" stop-color="#d70505"/><stop offset="0.452" stop-color="#ba0202"/><stop offset="0.464" stop-color="#a30000"/><stop offset="0.477" stop-color="#8d0000"/><stop offset="0.489" stop-color="#7b0000"/><stop offset="0.502" stop-color="#6c0000"/><stop offset="0.515" stop-color="#610000"/><stop offset="0.527" stop-color="#580000"/><stop offset="0.540" stop-color="#520101"/><stop offset="0.553" stop-color="#4c0101"/><stop offset="0.565" stop-color="#470101"/><stop offset="0.578" stop-color="#420101"/><stop offset="0.591" stop-color="#3d0202"/><stop offset="0.603" stop-color="#390202"/><stop offset="0.616" stop-color="#370202"/><stop offset="0.629" stop-color="#360202"/><stop offset="0.641" stop-color="#350202"/><stop offset="0.654" stop-color="#350101"/><stop offset="0.667" stop-color="#340101"/><stop offset="0.679" stop-color="#340101"/><stop offset="0.692" stop-color="#330101"/><stop offset="0.704" stop-color="#330101"/><stop offset="0.717" stop-color="#330101"/><stop offset="0.730" stop-color="#330101"/><stop offset="0.742" stop-color="#330101"/><stop offset="0.755" stop-color="#330101"/><stop offset="0.768" stop-color="#320101"/><stop offset="0.780" stop-color="#320101"/><stop offset="0.793" stop-color="#320101"/><stop offset="0.806" stop-color="#320101"/><stop offset="0.818" stop-color="#320101"/><stop offset="0.831" stop-color="#320101"/><stop offset="0.844" stop-color="#320101"/><stop offset="0.856" stop-color="#320101"/><stop offset="0.869" stop-color="#320101"/><stop offset="0.882" stop-color="#320101"/><stop offset="0.894" stop-color="#320101"/><stop offset="0.907" stop-color="#320101"/><stop offset="0.919" stop-color="#320101"/><stop offset="0.932" stop-color="#320101"/><stop offset="0.945" stop-color="#320101"/><stop offset="0.957" stop-color="#320101"/><stop offset="0.970" stop-color="#320101"/><stop offset="0.983" stop-color="#320101"/><stop offset="0.995" stop-color="#320101"/></linearGradient>
<linearGradient id="h25" gradientUnits="userSpaceOnUse" x1="75.9" y1="0" x2="313.1" y2="0"><stop offset="-0.004" stop-color="#320101"/><stop offset="0.009" stop-color="#320101"/><stop offset="0.022" stop-color="#320101"/><stop offset="0.034" stop-color="#330101"/><stop offset="0.047" stop-color="#330101"/><stop offset="0.059" stop-color="#330101"/><stop offset="0.072" stop-color="#330101"/><stop offset="0.085" stop-color="#340101"/><stop offset="0.097" stop-color="#340101"/><stop offset="0.110" stop-color="#350101"/><stop offset="0.123" stop-color="#360202"/><stop offset="0.135" stop-color="#370202"/><stop offset="0.148" stop-color="#390202"/><stop offset="0.161" stop-color="#400202"/><stop offset="0.173" stop-color="#4a0101"/><stop offset="0.186" stop-color="#560000"/><stop offset="0.199" stop-color="#6c0000"/><stop offset="0.211" stop-color="#8b0000"/><stop offset="0.224" stop-color="#ae0101"/><stop offset="0.237" stop-color="#d40505"/><stop offset="0.249" stop-color="#f01005"/><stop offset="0.262" stop-color="#fc2c07"/><stop offset="0.274" stop-color="#ff530b"/><stop offset="0.287" stop-color="#ff7b1b"/><stop offset="0.300" stop-color="#ffa13b"/><stop offset="0.312" stop-color="#ffbd65"/><stop offset="0.325" stop-color="#ffcd84"/><stop offset="0.338" stop-color="#ffce86"/><stop offset="0.350" stop-color="#ffc06a"/><stop offset="0.363" stop-color="#ffa744"/><stop offset="0.376" stop-color="#ff8a20"/><stop offset="0.388" stop-color="#ff6612"/><stop offset="0.401" stop-color="#fe4509"/><stop offset="0.414" stop-color="#fc2607"/><stop offset="0.426" stop-color="#f11005"/><stop offset="0.439" stop-color="#dc0705"/><stop offset="0.452" stop-color="#c10303"/><stop offset="0.464" stop-color="#a80101"/><stop offset="0.477" stop-color="#920000"/><stop offset="0.489" stop-color="#7e0000"/><stop offset="0.502" stop-color="#6f0000"/><stop offset="0.515" stop-color="#630000"/><stop offset="0.527" stop-color="#5a0000"/><stop offset="0.540" stop-color="#540000"/><stop offset="0.553" stop-color="#4e0101"/><stop offset="0.565" stop-color="#480101"/><stop offset="0.578" stop-color="#430101"/><stop offset="0.591" stop-color="#3e0202"/><stop offset="0.603" stop-color="#3a0202"/><stop offset="0.616" stop-color="#370202"/><stop offset="0.629" stop-color="#360202"/><stop offset="0.641" stop-color="#360202"/><stop offset="0.654" stop-color="#350101"/><stop offset="0.667" stop-color="#340101"/><stop offset="0.679" stop-color="#340101"/><stop offset="0.692" stop-color="#340101"/><stop offset="0.704" stop-color="#330101"/><stop offset="0.717" stop-color="#330101"/><stop offset="0.730" stop-color="#330101"/><stop offset="0.742" stop-color="#330101"/><stop offset="0.755" stop-color="#330101"/><stop offset="0.768" stop-color="#320101"/><stop offset="0.780" stop-color="#320101"/><stop offset="0.793" stop-color="#320101"/><stop offset="0.806" stop-color="#320101"/><stop offset="0.818" stop-color="#320101"/><stop offset="0.831" stop-color="#320101"/><stop offset="0.844" stop-color="#320101"/><stop offset="0.856" stop-color="#320101"/><stop offset="0.869" stop-color="#320101"/><stop offset="0.882" stop-color="#320101"/><stop offset="0.894" stop-color="#320101"/><stop offset="0.907" stop-color="#320101"/><stop offset="0.919" stop-color="#320101"/><stop offset="0.932" stop-color="#320101"/><stop offset="0.945" stop-color="#320101"/><stop offset="0.957" stop-color="#320101"/><stop offset="0.970" stop-color="#320101"/><stop offset="0.983" stop-color="#320101"/><stop offset="0.995" stop-color="#320101"/></linearGradient>
<linearGradient id="h26" gradientUnits="userSpaceOnUse" x1="75.9" y1="0" x2="313.1" y2="0"><stop offset="-0.004" stop-color="#320101"/><stop offset="0.009" stop-color="#320101"/><stop offset="0.022" stop-color="#320101"/><stop offset="0.034" stop-color="#330101"/><stop offset="0.047" stop-color="#330101"/><stop offset="0.059" stop-color="#330101"/><stop offset="0.072" stop-color="#330101"/><stop offset="0.085" stop-color="#340101"/><stop offset="0.097" stop-color="#340101"/><stop offset="0.110" stop-color="#350101"/><stop offset="0.123" stop-color="#350202"/><stop offset="0.135" stop-color="#370202"/><stop offset="0.148" stop-color="#380202"/><stop offset="0.161" stop-color="#3e0202"/><stop offset="0.173" stop-color="#470101"/><stop offset="0.186" stop-color="#530101"/><stop offset="0.199" stop-color="#660000"/><stop offset="0.211" stop-color="#830000"/><stop offset="0.224" stop-color="#a60101"/><stop offset="0.237" stop-color="#ca0404"/><stop offset="0.249" stop-color="#e90d05"/><stop offset="0.262" stop-color="#fb2306"/><stop offset="0.274" stop-color="#fe4809"/><stop offset="0.287" stop-color="#ff7016"/><stop offset="0.300" stop-color="#ff982e"/><stop offset="0.312" stop-color="#ffb55a"/><stop offset="0.325" stop-color="#ffc97c"/><stop offset="0.338" stop-color="#ffce86"/><stop offset="0.350" stop-color="#ffc470"/><stop offset="0.363" stop-color="#ffad4d"/><stop offset="0.376" stop-color="#ff9225"/><stop offset="0.388" stop-color="#ff6e15"/><stop offset="0.401" stop-color="#ff4d0a"/><stop offset="0.414" stop-color="#fc2d07"/><stop offset="0.426" stop-color="#f71305"/><stop offset="0.439" stop-color="#e00905"/><stop offset="0.452" stop-color="#c70404"/><stop offset="0.464" stop-color="#ad0101"/><stop offset="0.477" stop-color="#970000"/><stop offset="0.489" stop-color="#820000"/><stop offset="0.502" stop-color="#720000"/><stop offset="0.515" stop-color="#660000"/><stop offset="0.527" stop-color="#5b0000"/><stop offset="0.540" stop-color="#550000"/><stop offset="0.553" stop-color="#4f0101"/><stop offset="0.565" stop-color="#490101"/><stop offset="0.578" stop-color="#440101"/><stop offset="0.591" stop-color="#3f0202"/><stop offset="0.603" stop-color="#3b0202"/><stop offset="0.616" stop-color="#380202"/><stop offset="0.629" stop-color="#370202"/><stop offset="0.641" stop-color="#360202"/><stop offset="0.654" stop-color="#350101"/><stop offset="0.667" stop-color="#340101"/><stop offset="0.679" stop-color="#340101"/><stop offset="0.692" stop-color="#340101"/><stop offset="0.704" stop-color="#330101"/><stop offset="0.717" stop-color="#330101"/><stop offset="0.730" stop-color="#330101"/><stop offset="0.742" stop-color="#330101"/><stop offset="0.755" stop-color="#330101"/><stop offset="0.768" stop-color="#330101"/><stop offset="0.780" stop-color="#320101"/><stop offset="0.793" stop-color="#320101"/><stop offset="0.806" stop-color="#320101"/><stop offset="0.818" stop-color="#320101"/><stop offset="0.831" stop-color="#320101"/><stop offset="0.844" stop-color="#320101"/><stop offset="0.856" stop-color="#320101"/><stop offset="0.869" stop-color="#320101"/><stop offset="0.882" stop-color="#320101"/><stop offset="0.894" stop-color="#320101"/><stop offset="0.907" stop-color="#320101"/><stop offset="0.919" stop-color="#320101"/><stop offset="0.932" stop-color="#320101"/><stop offset="0.945" stop-color="#320101"/><stop offset="0.957" stop-color="#320101"/><stop offset="0.970" stop-color="#320101"/><stop offset="0.983" stop-color="#320101"/><stop offset="0.995" stop-color="#320101"/></linearGradient>
<linearGradient id="h27" gradientUnits="userSpaceOnUse" x1="75.9" y1="0" x2="313.1" y2="0"><stop offset="-0.004" stop-color="#320101"/><stop offset="0.009" stop-color="#320101"/><stop offset="0.022" stop-color="#320101"/><stop offset="0.034" stop-color="#330101"/><stop offset="0.047" stop-color="#330101"/><stop offset="0.059" stop-color="#330101"/><stop offset="0.072" stop-color="#330101"/><stop offset="0.085" stop-color="#330101"/><stop offset="0.097" stop-color="#340101"/><stop offset="0.110" stop-color="#340101"/><stop offset="0.123" stop-color="#350202"/><stop offset="0.135" stop-color="#360202"/><stop offset="0.148" stop-color="#380202"/><stop offset="0.161" stop-color="#3d0202"/><stop offset="0.173" stop-color="#450101"/><stop offset="0.186" stop-color="#500101"/><stop offset="0.199" stop-color="#600000"/><stop offset="0.211" stop-color="#7b0000"/><stop offset="0.224" stop-color="#9e0000"/><stop offset="0.237" stop-color="#c10303"/><stop offset="0.249" stop-color="#e20a05"/><stop offset="0.262" stop-color="#fa1a05"/><stop offset="0.274" stop-color="#fe3f09"/><stop offset="0.287" stop-color="#ff6612"/><stop offset="0.300" stop-color="#ff9023"/><stop offset="0.312" stop-color="#ffae4e"/><stop offset="0.325" stop-color="#ffc572"/><stop offset="0.338" stop-color="#ffcd83"/><stop offset="0.350" stop-color="#ffc675"/><stop offset="0.363" stop-color="#ffb255"/><stop offset="0.376" stop-color="#ff982e"/><stop offset="0.388" stop-color="#ff7619"/><stop offset="0.401" stop-color="#ff540c"/><stop offset="0.414" stop-color="#fd3408"/><stop offset="0.426" stop-color="#fa1705"/><stop offset="0.439" stop-color="#e50b05"/><stop offset="0.452" stop-color="#ce0404"/><stop offset="0.464" stop-color="#b30202"/><stop offset="0.477" stop-color="#9c0000"/><stop offset="0.489" stop-color="#870000"/><stop offset="0.502" stop-color="#760000"/><stop offset="0.515" stop-color="#680000"/><stop offset="0.527" stop-color="#5e0000"/><stop offset="0.540" stop-color="#560000"/><stop offset="0.553" stop-color="#500101"/><stop offset="0.565" stop-color="#4b0101"/><stop offset="0.578" stop-color="#450101"/><stop offset="0.591" stop-color="#400202"/><stop offset="0.603" stop-color="#3c0202"/><stop offset="0.616" stop-color="#380202"/><stop offset="0.629" stop-color="#370202"/><stop offset="0.641" stop-color="#360202"/><stop offset="0.654" stop-color="#350202"/><stop offset="0.667" stop-color="#350101"/><stop offset="0.679" stop-color="#340101"/><stop offset="0.692" stop-color="#340101"/><stop offset="0.704" stop-color="#330101"/><stop offset="0.717" stop-color="#330101"/><stop offset="0.730" stop-color="#330101"/><stop offset="0.742" stop-color="#330101"/><stop offset="0.755" stop-color="#330101"/><stop offset="0.768" stop-color="#330101"/><stop offset="0.780" stop-color="#320101"/><stop offset="0.793" stop-color="#320101"/><stop offset="0.806" stop-color="#320101"/><stop offset="0.818" stop-color="#320101"/><stop offset="0.831" stop-color="#320101"/><stop offset="0.844" stop-color="#320101"/><stop offset="0.856" stop-color="#320101"/><stop offset="0.869" stop-color="#320101"/><stop offset="0.882" stop-color="#320101"/><stop offset="0.894" stop-color="#320101"/><stop offset="0.907" stop-color="#320101"/><stop offset="0.919" stop-color="#320101"/><stop offset="0.932" stop-color="#320101"/><stop offset="0.945" stop-color="#320101"/><stop offset="0.957" stop-color="#320101"/><stop offset="0.970" stop-color="#320101"/><stop offset="0.983" stop-color="#320101"/><stop offset="0.995" stop-color="#320101"/></linearGradient>
<linearGradient id="h28" gradientUnits="userSpaceOnUse" x1="75.9" y1="0" x2="313.1" y2="0"><stop offset="-0.004" stop-color="#320101"/><stop offset="0.009" stop-color="#320101"/><stop offset="0.022" stop-color="#320101"/><stop offset="0.034" stop-color="#320101"/><stop offset="0.047" stop-color="#330101"/><stop offset="0.059" stop-color="#330101"/><stop offset="0.072" stop-color="#330101"/><stop offset="0.085" stop-color="#330101"/><stop offset="0.097" stop-color="#340101"/><stop offset="0.110" stop-color="#340101"/><stop offset="0.123" stop-color="#350202"/><stop offset="0.135" stop-color="#360202"/><stop offset="0.148" stop-color="#370202"/><stop offset="0.161" stop-color="#3b0202"/><stop offset="0.173" stop-color="#430101"/><stop offset="0.186" stop-color="#4d0101"/><stop offset="0.199" stop-color="#5b0000"/><stop offset="0.211" stop-color="#740000"/><stop offset="0.224" stop-color="#950000"/><stop offset="0.237" stop-color="#b80202"/><stop offset="0.249" stop-color="#dc0705"/><stop offset="0.262" stop-color="#f81305"/><stop offset="0.274" stop-color="#fd3508"/><stop offset="0.287" stop-color="#ff5c0e"/><stop offset="0.300" stop-color="#ff841e"/><stop offset="0.312" stop-color="#ffa642"/><stop offset="0.325" stop-color="#ffbf68"/><stop offset="0.338" stop-color="#ffcb7f"/><stop offset="0.350" stop-color="#ffc879"/><stop offset="0.363" stop-color="#ffb75c"/><stop offset="0.376" stop-color="#ff9e37"/><stop offset="0.388" stop-color="#ff7e1c"/><stop offset="0.401" stop-color="#ff5c0e"/><stop offset="0.414" stop-color="#fd3b08"/><stop offset="0.426" stop-color="#fb1d06"/><stop offset="0.439" stop-color="#eb0d05"/><stop offset="0.452" stop-color="#d50505"/><stop offset="0.464" stop-color="#b90202"/><stop offset="0.477" stop-color="#a20000"/><stop offset="0.489" stop-color="#8b0000"/><stop offset="0.502" stop-color="#790000"/><stop offset="0.515" stop-color="#6b0000"/><stop offset="0.527" stop-color="#600000"/><stop offset="0.540" stop-color="#580000"/><stop offset="0.553" stop-color="#520101"/><stop offset="0.565" stop-color="#4c0101"/><stop offset="0.578" stop-color="#470101"/><stop offset="0.591" stop-color="#420101"/><stop offset="0.603" stop-color="#3d0202"/><stop offset="0.616" stop-color="#390202"/><stop offset="0.629" stop-color="#370202"/><stop offset="0.641" stop-color="#360202"/><stop offset="0.654" stop-color="#350202"/><stop offset="0.667" stop-color="#350101"/><stop offset="0.679" stop-color="#340101"/><stop offset="0.692" stop-color="#340101"/><stop offset="0.704" stop-color="#330101"/><stop offset="0.717" stop-color="#330101"/><stop offset="0.730" stop-color="#330101"/><stop offset="0.742" stop-color="#330101"/><stop offset="0.755" stop-color="#330101"/><stop offset="0.768" stop-color="#330101"/><stop offset="0.780" stop-color="#320101"/><stop offset="0.793" stop-color="#320101"/><stop offset="0.806" stop-color="#320101"/><stop offset="0.818" stop-color="#320101"/><stop offset="0.831" stop-color="#320101"/><stop offset="0.844" stop-color="#320101"/><stop offset="0.856" stop-color="#320101"/><stop offset="0.869" stop-color="#320101"/><stop offset="0.882" stop-color="#320101"/><stop offset="0.894" stop-color="#320101"/><stop offset="0.907" stop-color="#320101"/><stop offset="0.919" stop-color="#320101"/><stop offset="0.932" stop-color="#320101"/><stop offset="0.945" stop-color="#320101"/><stop offset="0.957" stop-color="#320101"/><stop offset="0.970" stop-color="#320101"/><stop offset="0.983" stop-color="#320101"/><stop offset="0.995" stop-color="#320101"/></linearGradient>
<linearGradient id="h29" gradientUnits="userSpaceOnUse" x1="75.9" y1="0" x2="313.1" y2="0"><stop offset="-0.004" stop-color="#320101"/><stop offset="0.009" stop-color="#320101"/><stop offset="0.022" stop-color="#320101"/><stop offset="0.034" stop-color="#320101"/><stop offset="0.047" stop-color="#330101"/><stop offset="0.059" stop-color="#330101"/><stop offset="0.072" stop-color="#330101"/><stop offset="0.085" stop-color="#330101"/><stop offset="0.097" stop-color="#340101"/><stop offset="0.110" stop-color="#340101"/><stop offset="0.123" stop-color="#350101"/><stop offset="0.135" stop-color="#360202"/><stop offset="0.148" stop-color="#370202"/><stop offset="0.161" stop-color="#3a0202"/><stop offset="0.173" stop-color="#410202"/><stop offset="0.186" stop-color="#4a0101"/><stop offset="0.199" stop-color="#570000"/><stop offset="0.211" stop-color="#6d0000"/><stop offset="0.224" stop-color="#8d0000"/><stop offset="0.237" stop-color="#b00101"/><stop offset="0.249" stop-color="#d50505"/><stop offset="0.262" stop-color="#f11005"/><stop offset="0.274" stop-color="#fc2c07"/><stop offset="0.287" stop-color="#ff520b"/><stop offset="0.300" stop-color="#ff791a"/><stop offset="0.312" stop-color="#ff9e36"/><stop offset="0.325" stop-color="#ffb85e"/><stop offset="0.338" stop-color="#ffc879"/><stop offset="0.350" stop-color="#ffc97a"/><stop offset="0.363" stop-color="#ffbb62"/><stop offset="0.376" stop-color="#ffa43f"/><stop offset="0.388" stop-color="#ff871f"/><stop offset="0.401" stop-color="#ff6311"/><stop offset="0.414" stop-color="#fe4309"/><stop offset="0.426" stop-color="#fb2406"/><stop offset="0.439" stop-color="#f01005"/><stop offset="0.452" stop-color="#da0605"/><stop offset="0.464" stop-color="#bf0303"/><stop offset="0.477" stop-color="#a60101"/><stop offset="0.489" stop-color="#900000"/><stop offset="0.502" stop-color="#7d0000"/><stop offset="0.515" stop-color="#6e0000"/><stop offset="0.527" stop-color="#620000"/><stop offset="0.540" stop-color="#590000"/><stop offset="0.553" stop-color="#530000"/><stop offset="0.565" stop-color="#4d0101"/><stop offset="0.578" stop-color="#480101"/><stop offset="0.591" stop-color="#430101"/><stop offset="0.603" stop-color="#3e0202"/><stop offset="0.616" stop-color="#3a0202"/><stop offset="0.629" stop-color="#370202"/><stop offset="0.641" stop-color="#360202"/><stop offset="0.654" stop-color="#360202"/><stop offset="0.667" stop-color="#350101"/><stop offset="0.679" stop-color="#340101"/><stop offset="0.692" stop-color="#340101"/><stop offset="0.704" stop-color="#340101"/><stop offset="0.717" stop-color="#330101"/><stop offset="0.730" stop-color="#330101"/><stop offset="0.742" stop-color="#330101"/><stop offset="0.755" stop-color="#330101"/><stop offset="0.768" stop-color="#330101"/><stop offset="0.780" stop-color="#320101"/><stop offset="0.793" stop-color="#320101"/><stop offset="0.806" stop-color="#320101"/><stop offset="0.818" stop-color="#320101"/><stop offset="0.831" stop-color="#320101"/><stop offset="0.844" stop-color="#320101"/><stop offset="0.856" stop-color="#320101"/><stop offset="0.869" stop-color="#320101"/><stop offset="0.882" stop-color="#320101"/><stop offset="0.894" stop-color="#320101"/><stop offset="0.907" stop-color="#320101"/><stop offset="0.919" stop-color="#320101"/><stop offset="0.932" stop-color="#320101"/><stop offset="0.945" stop-color="#320101"/><stop offset="0.957" stop-color="#320101"/><stop offset="0.970" stop-color="#320101"/><stop offset="0.983" stop-color="#320101"/><stop offset="0.995" stop-color="#320101"/></linearGradient>
<linearGradient id="h30" gradientUnits="userSpaceOnUse" x1="75.9" y1="0" x2="313.1" y2="0"><stop offset="-0.004" stop-color="#320101"/><stop offset="0.009" stop-color="#320101"/><stop offset="0.022" stop-color="#320101"/><stop offset="0.034" stop-color="#320101"/><stop offset="0.047" stop-color="#330101"/><stop offset="0.059" stop-color="#330101"/><stop offset="0.072" stop-color="#330101"/><stop offset="0.085" stop-color="#330101"/><stop offset="0.097" stop-color="#340101"/><stop offset="0.110" stop-color="#340101"/><stop offset="0.123" stop-color="#350101"/><stop offset="0.135" stop-color="#350202"/><stop offset="0.148" stop-color="#370202"/><stop offset="0.161" stop-color="#380202"/><stop offset="0.173" stop-color="#3f0202"/><stop offset="0.186" stop-color="#480101"/><stop offset="0.199" stop-color="#540000"/><stop offset="0.211" stop-color="#670000"/><stop offset="0.224" stop-color="#850000"/><stop offset="0.237" stop-color="#a80101"/><stop offset="0.249" stop-color="#cb0404"/><stop offset="0.262" stop-color="#ea0d05"/><stop offset="0.274" stop-color="#fb2306"/><stop offset="0.287" stop-color="#fe4809"/><stop offset="0.300" stop-color="#ff6f16"/><stop offset="0.312" stop-color="#ff962a"/><stop offset="0.325" stop-color="#ffb153"/><stop offset="0.338" stop-color="#ffc471"/><stop offset="0.350" stop-color="#ffc87a"/><stop offset="0.363" stop-color="#ffbf67"/><stop offset="0.376" stop-color="#ffa947"/><stop offset="0.388" stop-color="#ff8f22"/><stop offset="0.401" stop-color="#ff6b14"/><stop offset="0.414" stop-color="#ff4b0a"/><stop offset="0.426" stop-color="#fc2b07"/><stop offset="0.439" stop-color="#f51205"/><stop offset="0.452" stop-color="#df0805"/><stop offset="0.464" stop-color="#c50303"/><stop offset="0.477" stop-color="#ac0101"/><stop offset="0.489" stop-color="#950000"/><stop offset="0.502" stop-color="#810000"/><stop offset="0.515" stop-color="#710000"/><stop offset="0.527" stop-color="#650000"/><stop offset="0.540" stop-color="#5b0000"/><stop offset="0.553" stop-color="#550000"/><stop offset="0.565" stop-color="#4f0101"/><stop offset="0.578" stop-color="#490101"/><stop offset="0.591" stop-color="#440101"/><stop offset="0.603" stop-color="#3f0202"/><stop offset="0.616" stop-color="#3b0202"/><stop offset="0.629" stop-color="#380202"/><stop offset="0.641" stop-color="#370202"/><stop offset="0.654" stop-color="#360202"/><stop offset="0.667" stop-color="#350101"/><stop offset="0.679" stop-color="#340101"/><stop offset="0.692" stop-color="#340101"/><stop offset="0.704" stop-color="#340101"/><stop offset="0.717" stop-color="#330101"/><stop offset="0.730" stop-color="#330101"/><stop offset="0.742" stop-color="#330101"/><stop offset="0.755" stop-color="#330101"/><stop offset="0.768" stop-color="#330101"/><stop offset="0.780" stop-color="#330101"/><stop offset="0.793" stop-color="#320101"/><stop offset="0.806" stop-color="#320101"/><stop offset="0.818" stop-color="#320101"/><stop offset="0.831" stop-color="#320101"/><stop offset="0.844" stop-color="#320101"/><stop offset="0.856" stop-color="#320101"/><stop offset="0.869" stop-color="#320101"/><stop offset="0.882" stop-color="#320101"/><stop offset="0.894" stop-color="#320101"/><stop offset="0.907" stop-color="#320101"/><stop offset="0.919" stop-color="#320101"/><stop offset="0.932" stop-color="#320101"/><stop offset="0.945" stop-color="#320101"/><stop offset="0.957" stop-color="#320101"/><stop offset="0.970" stop-color="#320101"/><stop offset="0.983" stop-color="#320101"/><stop offset="0.995" stop-color="#320101"/></linearGradient>
<linearGradient id="h31" gradientUnits="userSpaceOnUse" x1="75.9" y1="0" x2="313.1" y2="0"><stop offset="-0.004" stop-color="#320101"/><stop offset="0.009" stop-color="#320101"/><stop offset="0.022" stop-color="#320101"/><stop offset="0.034" stop-color="#320101"/><stop offset="0.047" stop-color="#330101"/><stop offset="0.059" stop-color="#330101"/><stop offset="0.072" stop-color="#330101"/><stop offset="0.085" stop-color="#330101"/><stop offset="0.097" stop-color="#330101"/><stop offset="0.110" stop-color="#340101"/><stop offset="0.123" stop-color="#340101"/><stop offset="0.135" stop-color="#350202"/><stop offset="0.148" stop-color="#360202"/><stop offset="0.161" stop-color="#380202"/><stop offset="0.173" stop-color="#3d0202"/><stop offset="0.186" stop-color="#450101"/><stop offset="0.199" stop-color="#510101"/><stop offset="0.211" stop-color="#610000"/><stop offset="0.224" stop-color="#7d0000"/><stop offset="0.237" stop-color="#a00000"/><stop offset="0.249" stop-color="#c20303"/><stop offset="0.262" stop-color="#e30a05"/><stop offset="0.274" stop-color="#fb1a06"/><stop offset="0.287" stop-color="#fe3e09"/><stop offset="0.300" stop-color="#ff6412"/><stop offset="0.312" stop-color="#ff8d21"/><stop offset="0.325" stop-color="#ffa948"/><stop offset="0.338" stop-color="#ffbf68"/><stop offset="0.350" stop-color="#ffc777"/><stop offset="0.363" stop-color="#ffc16b"/><stop offset="0.376" stop-color="#ffae4e"/><stop offset="0.388" stop-color="#ff952a"/><stop offset="0.401" stop-color="#ff7318"/><stop offset="0.414" stop-color="#ff520b"/><stop offset="0.426" stop-color="#fd3208"/><stop offset="0.439" stop-color="#fa1505"/><stop offset="0.452" stop-color="#e40b05"/><stop offset="0.464" stop-color="#cc0404"/><stop offset="0.477" stop-color="#b10202"/><stop offset="0.489" stop-color="#9a0000"/><stop offset="0.502" stop-color="#850000"/><stop offset="0.515" stop-color="#750000"/><stop offset="0.527" stop-color="#680000"/><stop offset="0.540" stop-color="#5d0000"/><stop offset="0.553" stop-color="#560000"/><stop offset="0.565" stop-color="#500101"/><stop offset="0.578" stop-color="#4b0101"/><stop offset="0.591" stop-color="#450101"/><stop offset="0.603" stop-color="#400202"/><stop offset="0.616" stop-color="#3c0202"/><stop offset="0.629" stop-color="#380202"/><stop offset="0.641" stop-color="#370202"/><stop offset="0.654" stop-color="#360202"/><stop offset="0.667" stop-color="#350202"/><stop offset="0.679" stop-color="#350101"/><stop offset="0.692" stop-color="#340101"/><stop offset="0.704" stop-color="#340101"/><stop offset="0.717" stop-color="#330101"/><stop offset="0.730" stop-color="#330101"/><stop offset="0.742" stop-color="#330101"/><stop offset="0.755" stop-color="#330101"/><stop offset="0.768" stop-color="#330101"/><stop offset="0.780" stop-color="#330101"/><stop offset="0.793" stop-color="#320101"/><stop offset="0.806" stop-color="#320101"/><stop offset="0.818" stop-color="#320101"/><stop offset="0.831" stop-color="#320101"/><stop offset="0.844" stop-color="#320101"/><stop offset="0.856" stop-color="#320101"/><stop offset="0.869" stop-color="#320101"/><stop offset="0.882" stop-color="#320101"/><stop offset="0.894" stop-color="#320101"/><stop offset="0.907" stop-color="#320101"/><stop offset="0.919" stop-color="#320101"/><stop offset="0.932" stop-color="#320101"/><stop offset="0.945" stop-color="#320101"/><stop offset="0.957" stop-color="#320101"/><stop offset="0.970" stop-color="#320101"/><stop offset="0.983" stop-color="#320101"/><stop offset="0.995" stop-color="#320101"/></linearGradient>
<linearGradient id="h32" gradientUnits="userSpaceOnUse" x1="75.9" y1="0" x2="313.1" y2="0"><stop offset="-0.004" stop-color="#320101"/><stop offset="0.009" stop-color="#320101"/><stop offset="0.022" stop-color="#320101"/><stop offset="0.034" stop-color="#320101"/><stop offset="0.047" stop-color="#320101"/><stop offset="0.059" stop-color="#330101"/><stop offset="0.072" stop-color="#330101"/><stop offset="0.085" stop-color="#330101"/><stop offset="0.097" stop-color="#330101"/><stop offset="0.110" stop-color="#340101"/><stop offset="0.123" stop-color="#340101"/><stop offset="0.135" stop-color="#350202"/><stop offset="0.148" stop-color="#360202"/><stop offset="0.161" stop-color="#370202"/><stop offset="0.173" stop-color="#3b0202"/><stop offset="0.186" stop-color="#430101"/><stop offset="0.199" stop-color="#4e0101"/><stop offset="0.211" stop-color="#5c0000"/><stop offset="0.224" stop-color="#760000"/><stop offset="0.237" stop-color="#970000"/><stop offset="0.249" stop-color="#b90202"/><stop offset="0.262" stop-color="#dd0705"/><stop offset="0.274" stop-color="#f81305"/><stop offset="0.287" stop-color="#fd3508"/><stop offset="0.300" stop-color="#ff5b0e"/><stop offset="0.312" stop-color="#ff821d"/><stop offset="0.325" stop-color="#ffa23c"/><stop offset="0.338" stop-color="#ffb960"/><stop offset="0.350" stop-color="#ffc573"/><stop offset="0.363" stop-color="#ffc36d"/><stop offset="0.376" stop-color="#ffb255"/><stop offset="0.388" stop-color="#ff9b32"/><stop offset="0.401" stop-color="#ff7b1b"/><stop offset="0.414" stop-color="#ff5a0e"/><stop offset="0.426" stop-color="#fd3a08"/><stop offset="0.439" stop-color="#fb1c06"/><stop offset="0.452" stop-color="#e90d05"/><stop offset="0.464" stop-color="#d30505"/><stop offset="0.477" stop-color="#b70202"/><stop offset="0.489" stop-color="#a00000"/><stop offset="0.502" stop-color="#8a0000"/><stop offset="0.515" stop-color="#780000"/><stop offset="0.527" stop-color="#6a0000"/><stop offset="0.540" stop-color="#5f0000"/><stop offset="0.553" stop-color="#580000"/><stop offset="0.565" stop-color="#520101"/><stop offset="0.578" stop-color="#4c0101"/><stop offset="0.591" stop-color="#470101"/><stop offset="0.603" stop-color="#420101"/><stop offset="0.616" stop-color="#3d0202"/><stop offset="0.629" stop-color="#390202"/><stop offset="0.641" stop-color="#370202"/><stop offset="0.654" stop-color="#360202"/><stop offset="0.667" stop-color="#350202"/><stop offset="0.679" stop-color="#350101"/><stop offset="0.692" stop-color="#340101"/><stop offset="0.704" stop-color="#340101"/><stop offset="0.717" stop-color="#330101"/><stop offset="0.730" stop-color="#330101"/><stop offset="0.742" stop-color="#330101"/><stop offset="0.755" stop-color="#330101"/><stop offset="0.768" stop-color="#330101"/><stop offset="0.780" stop-color="#330101"/><stop offset="0.793" stop-color="#320101"/><stop offset="0.806" stop-color="#320101"/><stop offset="0.818" stop-color="#320101"/><stop offset="0.831" stop-color="#320101"/><stop offset="0.844" stop-color="#320101"/><stop offset="0.856" stop-color="#320101"/><stop offset="0.869" stop-color="#320101"/><stop offset="0.882" stop-color="#320101"/><stop offset="0.894" stop-color="#320101"/><stop offset="0.907" stop-color="#320101"/><stop offset="0.919" stop-color="#320101"/><stop offset="0.932" stop-color="#320101"/><stop offset="0.945" stop-color="#320101"/><stop offset="0.957" stop-color="#320101"/><stop offset="0.970" stop-color="#320101"/><stop offset="0.983" stop-color="#320101"/><stop offset="0.995" stop-color="#320101"/></linearGradient>
<linearGradient id="h33" gradientUnits="userSpaceOnUse" x1="75.9" y1="0" x2="313.1" y2="0"><stop offset="-0.004" stop-color="#320101"/><stop offset="0.009" stop-color="#320101"/><stop offset="0.022" stop-color="#320101"/><stop offset="0.034" stop-color="#320101"/><stop offset="0.047" stop-color="#320101"/><stop offset="0.059" stop-color="#330101"/><stop offset="0.072" stop-color="#330101"/><stop offset="0.085" stop-color="#330101"/><stop offset="0.097" stop-color="#330101"/><stop offset="0.110" stop-color="#340101"/><stop offset="0.123" stop-color="#340101"/><stop offset="0.135" stop-color="#350101"/><stop offset="0.148" stop-color="#360202"/><stop offset="0.161" stop-color="#370202"/><stop offset="0.173" stop-color="#3a0202"/><stop offset="0.186" stop-color="#410101"/><stop offset="0.199" stop-color="#4b0101"/><stop offset="0.211" stop-color="#580000"/><stop offset="0.224" stop-color="#6f0000"/><stop offset="0.237" stop-color="#8e0000"/><stop offset="0.249" stop-color="#b10202"/><stop offset="0.262" stop-color="#d60505"/><stop offset="0.274" stop-color="#f11005"/><stop offset="0.287" stop-color="#fc2c07"/><stop offset="0.300" stop-color="#ff510a"/><stop offset="0.312" stop-color="#ff7719"/><stop offset="0.325" stop-color="#ff9a31"/><stop offset="0.338" stop-color="#ffb356"/><stop offset="0.350" stop-color="#ffc36d"/><stop offset="0.363" stop-color="#ffc36e"/><stop offset="0.376" stop-color="#ffb65a"/><stop offset="0.388" stop-color="#ffa03a"/><stop offset="0.401" stop-color="#ff831e"/><stop offset="0.414" stop-color="#ff6111"/><stop offset="0.426" stop-color="#fe4109"/><stop offset="0.439" stop-color="#fb2206"/><stop offset="0.452" stop-color="#ee0f05"/><stop offset="0.464" stop-color="#d90605"/><stop offset="0.477" stop-color="#bd0303"/><stop offset="0.489" stop-color="#a50000"/><stop offset="0.502" stop-color="#8e0000"/><stop offset="0.515" stop-color="#7c0000"/><stop offset="0.527" stop-color="#6d0000"/><stop offset="0.540" stop-color="#620000"/><stop offset="0.553" stop-color="#590000"/><stop offset="0.565" stop-color="#530101"/><stop offset="0.578" stop-color="#4d0101"/><stop offset="0.591" stop-color="#480101"/><stop offset="0.603" stop-color="#430101"/><stop offset="0.616" stop-color="#3e0202"/><stop offset="0.629" stop-color="#3a0202"/><stop offset="0.641" stop-color="#370202"/><stop offset="0.654" stop-color="#360202"/><stop offset="0.667" stop-color="#360202"/><stop offset="0.679" stop-color="#350101"/><stop offset="0.692" stop-color="#340101"/><stop offset="0.704" stop-color="#340101"/><stop offset="0.717" stop-color="#340101"/><stop offset="0.730" stop-color="#330101"/><stop offset="0.742" stop-color="#330101"/><stop offset="0.755" stop-color="#330101"/><stop offset="0.768" stop-color="#330101"/><stop offset="0.780" stop-color="#330101"/><stop offset="0.793" stop-color="#320101"/><stop offset="0.806" stop-color="#320101"/><stop offset="0.818" stop-color="#320101"/><stop offset="0.831" stop-color="#320101"/><stop offset="0.844" stop-color="#320101"/><stop offset="0.856" stop-color="#320101"/><stop offset="0.869" stop-color="#320101"/><stop offset="0.882" stop-color="#320101"/><stop offset="0.894" stop-color="#320101"/><stop offset="0.907" stop-color="#320101"/><stop offset="0.919" stop-color="#320101"/><stop offset="0.932" stop-color="#320101"/><stop offset="0.945" stop-color="#320101"/><stop offset="0.957" stop-color="#320101"/><stop offset="0.970" stop-color="#320101"/><stop offset="0.983" stop-color="#320101"/><stop offset="0.995" stop-color="#320101"/></linearGradient>
<linearGradient id="h34" gradientUnits="userSpaceOnUse" x1="75.9" y1="0" x2="313.1" y2="0"><stop offset="-0.004" stop-color="#320101"/><stop offset="0.009" stop-color="#320101"/><stop offset="0.022" stop-color="#320101"/><stop offset="0.034" stop-color="#320101"/><stop offset="0.047" stop-color="#320101"/><stop offset="0.059" stop-color="#330101"/><stop offset="0.072" stop-color="#330101"/><stop offset="0.085" stop-color="#330101"/><stop offset="0.097" stop-color="#330101"/><stop offset="0.110" stop-color="#340101"/><stop offset="0.123" stop-color="#340101"/><stop offset="0.135" stop-color="#350101"/><stop offset="0.148" stop-color="#360202"/><stop offset="0.161" stop-color="#370202"/><stop offset="0.173" stop-color="#390202"/><stop offset="0.186" stop-color="#3f0202"/><stop offset="0.199" stop-color="#480101"/><stop offset="0.211" stop-color="#550000"/><stop offset="0.224" stop-color="#680000"/><stop offset="0.237" stop-color="#860000"/><stop offset="0.249" stop-color="#a90101"/><stop offset="0.262" stop-color="#cc0404"/><stop offset="0.274" stop-color="#ea0d05"/><stop offset="0.287" stop-color="#fb2306"/><stop offset="0.300" stop-color="#fe4709"/><stop offset="0.312" stop-color="#ff6d15"/><stop offset="0.325" stop-color="#ff9326"/><stop offset="0.338" stop-color="#ffac4c"/><stop offset="0.350" stop-color="#ffbe67"/><stop offset="0.363" stop-color="#ffc36e"/><stop offset="0.376" stop-color="#ffb95f"/><stop offset="0.388" stop-color="#ffa541"/><stop offset="0.401" stop-color="#ff8b21"/><stop offset="0.414" stop-color="#ff6914"/><stop offset="0.426" stop-color="#fe4909"/><stop offset="0.439" stop-color="#fc2907"/><stop offset="0.452" stop-color="#f41105"/><stop offset="0.464" stop-color="#de0805"/><stop offset="0.477" stop-color="#c30303"/><stop offset="0.489" stop-color="#aa0101"/><stop offset="0.502" stop-color="#930000"/><stop offset="0.515" stop-color="#800000"/><stop offset="0.527" stop-color="#700000"/><stop offset="0.540" stop-color="#640000"/><stop offset="0.553" stop-color="#5b0000"/><stop offset="0.565" stop-color="#540000"/><stop offset="0.578" stop-color="#4f0101"/><stop offset="0.591" stop-color="#490101"/><stop offset="0.603" stop-color="#440101"/><stop offset="0.616" stop-color="#3f0202"/><stop offset="0.629" stop-color="#3b0202"/><stop offset="0.641" stop-color="#380202"/><stop offset="0.654" stop-color="#370202"/><stop offset="0.667" stop-color="#360202"/><stop offset="0.679" stop-color="#350101"/><stop offset="0.692" stop-color="#340101"/><stop offset="0.704" stop-color="#340101"/><stop offset="0.717" stop-color="#340101"/><stop offset="0.730" stop-color="#330101"/><stop offset="0.742" stop-color="#330101"/><stop offset="0.755" stop-color="#330101"/><stop offset="0.768" stop-color="#330101"/><stop offset="0.780" stop-color="#330101"/><stop offset="0.793" stop-color="#330101"/><stop offset="0.806" stop-color="#320101"/><stop offset="0.818" stop-color="#320101"/><stop offset="0.831" stop-color="#320101"/><stop offset="0.844" stop-color="#320101"/><stop offset="0.856" stop-color="#320101"/><stop offset="0.869" stop-color="#320101"/><stop offset="0.882" stop-color="#320101"/><stop offset="0.894" stop-color="#320101"/><stop offset="0.907" stop-color="#320101"/><stop offset="0.919" stop-color="#320101"/><stop offset="0.932" stop-color="#320101"/><stop offset="0.945" stop-color="#320101"/><stop offset="0.957" stop-color="#320101"/><stop offset="0.970" stop-color="#320101"/><stop offset="0.983" stop-color="#320101"/><stop offset="0.995" stop-color="#320101"/></linearGradient>
<linearGradient id="h35" gradientUnits="userSpaceOnUse" x1="75.9" y1="0" x2="313.1" y2="0"><stop offset="-0.004" stop-color="#320101"/><stop offset="0.009" stop-color="#320101"/><stop offset="0.022" stop-color="#320101"/><stop offset="0.034" stop-color="#320101"/><stop offset="0.047" stop-color="#320101"/><stop offset="0.059" stop-color="#330101"/><stop offset="0.072" stop-color="#330101"/><stop offset="0.085" stop-color="#330101"/><stop offset="0.097" stop-color="#330101"/><stop offset="0.110" stop-color="#330101"/><stop offset="0.123" stop-color="#340101"/><stop offset="0.135" stop-color="#350101"/><stop offset="0.148" stop-color="#350202"/><stop offset="0.161" stop-color="#360202"/><stop offset="0.173" stop-color="#380202"/><stop offset="0.186" stop-color="#3e0202"/><stop offset="0.199" stop-color="#460101"/><stop offset="0.211" stop-color="#510101"/><stop offset="0.224" stop-color="#630000"/><stop offset="0.237" stop-color="#7f0000"/><stop offset="0.249" stop-color="#a10000"/><stop offset="0.262" stop-color="#c40303"/><stop offset="0.274" stop-color="#e40b05"/><stop offset="0.287" stop-color="#fb1b06"/><stop offset="0.300" stop-color="#fe3e09"/><stop offset="0.312" stop-color="#ff6311"/><stop offset="0.325" stop-color="#ff8a20"/><stop offset="0.338" stop-color="#ffa642"/><stop offset="0.350" stop-color="#ffba60"/><stop offset="0.363" stop-color="#ffc26c"/><stop offset="0.376" stop-color="#ffbb62"/><stop offset="0.388" stop-color="#ffa947"/><stop offset="0.401" stop-color="#ff9225"/><stop offset="0.414" stop-color="#ff7016"/><stop offset="0.426" stop-color="#ff500a"/><stop offset="0.439" stop-color="#fc3007"/><stop offset="0.452" stop-color="#f91405"/><stop offset="0.464" stop-color="#e20a05"/><stop offset="0.477" stop-color="#c90404"/><stop offset="0.489" stop-color="#af0101"/><stop offset="0.502" stop-color="#980000"/><stop offset="0.515" stop-color="#830000"/><stop offset="0.527" stop-color="#730000"/><stop offset="0.540" stop-color="#670000"/><stop offset="0.553" stop-color="#5c0000"/><stop offset="0.565" stop-color="#560000"/><stop offset="0.578" stop-color="#500101"/><stop offset="0.591" stop-color="#4a0101"/><stop offset="0.603" stop-color="#450101"/><stop offset="0.616" stop-color="#400202"/><stop offset="0.629" stop-color="#3c0202"/><stop offset="0.641" stop-color="#380202"/><stop offset="0.654" stop-color="#370202"/><stop offset="0.667" stop-color="#360202"/><stop offset="0.679" stop-color="#350202"/><stop offset="0.692" stop-color="#350101"/><stop offset="0.704" stop-color="#340101"/><stop offset="0.717" stop-color="#340101"/><stop offset="0.730" stop-color="#330101"/><stop offset="0.742" stop-color="#330101"/><stop offset="0.755" stop-color="#330101"/><stop offset="0.768" stop-color="#330101"/><stop offset="0.780" stop-color="#330101"/><stop offset="0.793" stop-color="#330101"/><stop offset="0.806" stop-color="#320101"/><stop offset="0.818" stop-color="#320101"/><stop offset="0.831" stop-color="#320101"/><stop offset="0.844" stop-color="#320101"/><stop offset="0.856" stop-color="#320101"/><stop offset="0.869" stop-color="#320101"/><stop offset="0.882" stop-color="#320101"/><stop offset="0.894" stop-color="#320101"/><stop offset="0.907" stop-color="#320101"/><stop offset="0.919" stop-color="#320101"/><stop offset="0.932" stop-color="#320101"/><stop offset="0.945" stop-color="#320101"/><stop offset="0.957" stop-color="#320101"/><stop offset="0.970" stop-color="#320101"/><stop offset="0.983" stop-color="#320101"/><stop offset="0.995" stop-color="#320101"/></linearGradient>
<linearGradient id="h36" gradientUnits="userSpaceOnUse" x1="75.9" y1="0" x2="313.1" y2="0"><stop offset="-0.004" stop-color="#320101"/><stop offset="0.009" stop-color="#320101"/><stop offset="0.022" stop-color="#320101"/><stop offset="0.034" stop-color="#320101"/><stop offset="0.047" stop-color="#320101"/><stop offset="0.059" stop-color="#320101"/><stop offset="0.072" stop-color="#330101"/><stop offset="0.085" stop-color="#330101"/><stop offset="0.097" stop-color="#330101"/><stop offset="0.110" stop-color="#330101"/><stop offset="0.123" stop-color="#340101"/><stop offset="0.135" stop-color="#340101"/><stop offset="0.148" stop-color="#350202"/><stop offset="0.161" stop-color="#360202"/><stop offset="0.173" stop-color="#370202"/><stop offset="0.186" stop-color="#3c0202"/><stop offset="0.199" stop-color="#440101"/><stop offset="0.211" stop-color="#4f0101"/><stop offset="0.224" stop-color="#5d0000"/><stop offset="0.237" stop-color="#780000"/><stop offset="0.249" stop-color="#990000"/><stop offset="0.262" stop-color="#bb0202"/><stop offset="0.274" stop-color="#de0805"/><stop offset="0.287" stop-color="#f91405"/><stop offset="0.300" stop-color="#fd3608"/><stop offset="0.312" stop-color="#ff5a0e"/><stop offset="0.325" stop-color="#ff801c"/><stop offset="0.338" stop-color="#ff9f38"/><stop offset="0.350" stop-color="#ffb458"/><stop offset="0.363" stop-color="#ffbf69"/><stop offset="0.376" stop-color="#ffbc64"/><stop offset="0.388" stop-color="#ffad4d"/><stop offset="0.401" stop-color="#ff972c"/><stop offset="0.414" stop-color="#ff7719"/><stop offset="0.426" stop-color="#ff570d"/><stop offset="0.439" stop-color="#fd3708"/><stop offset="0.452" stop-color="#fa1905"/><stop offset="0.464" stop-color="#e70c05"/><stop offset="0.477" stop-color="#d00404"/><stop offset="0.489" stop-color="#b40202"/><stop offset="0.502" stop-color="#9d0000"/><stop offset="0.515" stop-color="#870000"/><stop offset="0.527" stop-color="#760000"/><stop offset="0.540" stop-color="#690000"/><stop offset="0.553" stop-color="#5e0000"/><stop offset="0.565" stop-color="#570000"/><stop offset="0.578" stop-color="#510101"/><stop offset="0.591" stop-color="#4c0101"/><stop offset="0.603" stop-color="#460101"/><stop offset="0.616" stop-color="#410101"/><stop offset="0.629" stop-color="#3d0202"/><stop offset="0.641" stop-color="#390202"/><stop offset="0.654" stop-color="#370202"/><stop offset="0.667" stop-color="#360202"/><stop offset="0.679" stop-color="#350202"/><stop offset="0.692" stop-color="#350101"/><stop offset="0.704" stop-color="#340101"/><stop offset="0.717" stop-color="#340101"/><stop offset="0.730" stop-color="#330101"/><stop offset="0.742" stop-color="#330101"/><stop offset="0.755" stop-color="#330101"/><stop offset="0.768" stop-color="#330101"/><stop offset="0.780" stop-color="#330101"/><stop offset="0.793" stop-color="#330101"/><stop offset="0.806" stop-color="#320101"/><stop offset="0.818" stop-color="#320101"/><stop offset="0.831" stop-color="#320101"/><stop offset="0.844" stop-color="#320101"/><stop offset="0.856" stop-color="#320101"/><stop offset="0.869" stop-color="#320101"/><stop offset="0.882" stop-color="#320101"/><stop offset="0.894" stop-color="#320101"/><stop offset="0.907" stop-color="#320101"/><stop offset="0.919" stop-color="#320101"/><stop offset="0.932" stop-color="#320101"/><stop offset="0.945" stop-color="#320101"/><stop offset="0.957" stop-color="#320101"/><stop offset="0.970" stop-color="#320101"/><stop offset="0.983" stop-color="#320101"/><stop offset="0.995" stop-color="#320101"/></linearGradient>
<linearGradient id="h37" gradientUnits="userSpaceOnUse" x1="75.9" y1="0" x2="313.1" y2="0"><stop offset="-0.004" stop-color="#320101"/><stop offset="0.009" stop-color="#320101"/><stop offset="0.022" stop-color="#320101"/><stop offset="0.034" stop-color="#320101"/><stop offset="0.047" stop-color="#320101"/><stop offset="0.059" stop-color="#320101"/><stop offset="0.072" stop-color="#330101"/><stop offset="0.085" stop-color="#330101"/><stop offset="0.097" stop-color="#330101"/><stop offset="0.110" stop-color="#330101"/><stop offset="0.123" stop-color="#340101"/><stop offset="0.135" stop-color="#340101"/><stop offset="0.148" stop-color="#350101"/><stop offset="0.161" stop-color="#360202"/><stop offset="0.173" stop-color="#370202"/><stop offset="0.186" stop-color="#3b0202"/><stop offset="0.199" stop-color="#420101"/><stop offset="0.211" stop-color="#4c0101"/><stop offset="0.224" stop-color="#590000"/><stop offset="0.237" stop-color="#710000"/><stop offset="0.249" stop-color="#910000"/><stop offset="0.262" stop-color="#b30202"/><stop offset="0.274" stop-color="#d80505"/><stop offset="0.287" stop-color="#f31105"/><stop offset="0.300" stop-color="#fc2d07"/><stop offset="0.312" stop-color="#ff520b"/><stop offset="0.325" stop-color="#ff7619"/><stop offset="0.338" stop-color="#ff982e"/><stop offset="0.350" stop-color="#ffaf50"/><stop offset="0.363" stop-color="#ffbd64"/><stop offset="0.376" stop-color="#ffbd64"/><stop offset="0.388" stop-color="#ffb051"/><stop offset="0.401" stop-color="#ff9c33"/><stop offset="0.414" stop-color="#ff7f1c"/><stop offset="0.426" stop-color="#ff5d0f"/><stop offset="0.439" stop-color="#fd3e08"/><stop offset="0.452" stop-color="#fb2006"/><stop offset="0.464" stop-color="#ec0e05"/><stop offset="0.477" stop-color="#d60505"/><stop offset="0.489" stop-color="#ba0202"/><stop offset="0.502" stop-color="#a20000"/><stop offset="0.515" stop-color="#8c0000"/><stop offset="0.527" stop-color="#7a0000"/><stop offset="0.540" stop-color="#6c0000"/><stop offset="0.553" stop-color="#600000"/><stop offset="0.565" stop-color="#580000"/><stop offset="0.578" stop-color="#520101"/><stop offset="0.591" stop-color="#4d0101"/><stop offset="0.603" stop-color="#480101"/><stop offset="0.616" stop-color="#430101"/><stop offset="0.629" stop-color="#3e0202"/><stop offset="0.641" stop-color="#3a0202"/><stop offset="0.654" stop-color="#370202"/><stop offset="0.667" stop-color="#360202"/><stop offset="0.679" stop-color="#350202"/><stop offset="0.692" stop-color="#350101"/><stop offset="0.704" stop-color="#340101"/><stop offset="0.717" stop-color="#340101"/><stop offset="0.730" stop-color="#340101"/><stop offset="0.742" stop-color="#330101"/><stop offset="0.755" stop-color="#330101"/><stop offset="0.768" stop-color="#330101"/><stop offset="0.780" stop-color="#330101"/><stop offset="0.793" stop-color="#330101"/><stop offset="0.806" stop-color="#320101"/><stop offset="0.818" stop-color="#320101"/><stop offset="0.831" stop-color="#320101"/><stop offset="0.844" stop-color="#320101"/><stop offset="0.856" stop-color="#320101"/><stop offset="0.869" stop-color="#320101"/><stop offset="0.882" stop-color="#320101"/><stop offset="0.894" stop-color="#320101"/><stop offset="0.907" stop-color="#320101"/><stop offset="0.919" stop-color="#320101"/><stop offset="0.932" stop-color="#320101"/><stop offset="0.945" stop-color="#320101"/><stop offset="0.957" stop-color="#320101"/><stop offset="0.970" stop-color="#320101"/><stop offset="0.983" stop-color="#320101"/><stop offset="0.995" stop-color="#320101"/></linearGradient>
<linearGradient id="h38" gradientUnits="userSpaceOnUse" x1="75.9" y1="0" x2="313.1" y2="0"><stop offset="-0.004" stop-color="#320101"/><stop offset="0.009" stop-color="#320101"/><stop offset="0.022" stop-color="#320101"/><stop offset="0.034" stop-color="#320101"/><stop offset="0.047" stop-color="#320101"/><stop offset="0.059" stop-color="#320101"/><stop offset="0.072" stop-color="#330101"/><stop offset="0.085" stop-color="#330101"/><stop offset="0.097" stop-color="#330101"/><stop offset="0.110" stop-color="#330101"/><stop offset="0.123" stop-color="#340101"/><stop offset="0.135" stop-color="#340101"/><stop offset="0.148" stop-color="#350101"/><stop offset="0.161" stop-color="#360202"/><stop offset="0.173" stop-color="#370202"/><stop offset="0.186" stop-color="#390202"/><stop offset="0.199" stop-color="#400202"/><stop offset="0.211" stop-color="#4a0101"/><stop offset="0.224" stop-color="#560000"/><stop offset="0.237" stop-color="#6b0000"/><stop offset="0.249" stop-color="#890000"/><stop offset="0.262" stop-color="#ac0101"/><stop offset="0.274" stop-color="#d00404"/><stop offset="0.287" stop-color="#ec0e05"/><stop offset="0.300" stop-color="#fb2506"/><stop offset="0.312" stop-color="#fe4909"/><stop offset="0.325" stop-color="#ff6d15"/><stop offset="0.338" stop-color="#ff9224"/><stop offset="0.350" stop-color="#ffa947"/><stop offset="0.363" stop-color="#ffb95f"/><stop offset="0.376" stop-color="#ffbc64"/><stop offset="0.388" stop-color="#ffb255"/><stop offset="0.401" stop-color="#ffa039"/><stop offset="0.414" stop-color="#ff861f"/><stop offset="0.426" stop-color="#ff6412"/><stop offset="0.439" stop-color="#fe4509"/><stop offset="0.452" stop-color="#fb2606"/><stop offset="0.464" stop-color="#f11005"/><stop offset="0.477" stop-color="#db0705"/><stop offset="0.489" stop-color="#c00303"/><stop offset="0.502" stop-color="#a70101"/><stop offset="0.515" stop-color="#900000"/><stop offset="0.527" stop-color="#7d0000"/><stop offset="0.540" stop-color="#6e0000"/><stop offset="0.553" stop-color="#630000"/><stop offset="0.565" stop-color="#5a0000"/><stop offset="0.578" stop-color="#540000"/><stop offset="0.591" stop-color="#4e0101"/><stop offset="0.603" stop-color="#490101"/><stop offset="0.616" stop-color="#440101"/><stop offset="0.629" stop-color="#3f0202"/><stop offset="0.641" stop-color="#3b0202"/><stop offset="0.654" stop-color="#380202"/><stop offset="0.667" stop-color="#370202"/><stop offset="0.679" stop-color="#360202"/><stop offset="0.692" stop-color="#350101"/><stop offset="0.704" stop-color="#340101"/><stop offset="0.717" stop-color="#340101"/><stop offset="0.730" stop-color="#340101"/><stop offset="0.742" stop-color="#330101"/><stop offset="0.755" stop-color="#330101"/><stop offset="0.768" stop-color="#330101"/><stop offset="0.780" stop-color="#330101"/><stop offset="0.793" stop-color="#330101"/><stop offset="0.806" stop-color="#330101"/><stop offset="0.818" stop-color="#320101"/><stop offset="0.831" stop-color="#320101"/><stop offset="0.844" stop-color="#320101"/><stop offset="0.856" stop-color="#320101"/><stop offset="0.869" stop-color="#320101"/><stop offset="0.882" stop-color="#320101"/><stop offset="0.894" stop-color="#320101"/><stop offset="0.907" stop-color="#320101"/><stop offset="0.919" stop-color="#320101"/><stop offset="0.932" stop-color="#320101"/><stop offset="0.945" stop-color="#320101"/><stop offset="0.957" stop-color="#320101"/><stop offset="0.970" stop-color="#320101"/><stop offset="0.983" stop-color="#320101"/><stop offset="0.995" stop-color="#320101"/></linearGradient>
<linearGradient id="h39" gradientUnits="userSpaceOnUse" x1="75.9" y1="0" x2="313.1" y2="0"><stop offset="-0.004" stop-color="#320101"/><stop offset="0.009" stop-color="#320101"/><stop offset="0.022" stop-color="#320101"/><stop offset="0.034" stop-color="#320101"/><stop offset="0.047" stop-color="#320101"/><stop offset="0.059" stop-color="#320101"/><stop offset="0.072" stop-color="#330101"/><stop offset="0.085" stop-color="#330101"/><stop offset="0.097" stop-color="#330101"/><stop offset="0.110" stop-color="#330101"/><stop offset="0.123" stop-color="#340101"/><stop offset="0.135" stop-color="#340101"/><stop offset="0.148" stop-color="#350101"/><stop offset="0.161" stop-color="#350202"/><stop offset="0.173" stop-color="#370202"/><stop offset="0.186" stop-color="#380202"/><stop offset="0.199" stop-color="#3f0202"/><stop offset="0.211" stop-color="#480101"/><stop offset="0.224" stop-color="#530000"/><stop offset="0.237" stop-color="#660000"/><stop offset="0.249" stop-color="#830000"/><stop offset="0.262" stop-color="#a50000"/><stop offset="0.274" stop-color="#c80404"/><stop offset="0.287" stop-color="#e60c05"/><stop offset="0.300" stop-color="#fb1e06"/><stop offset="0.312" stop-color="#fe4009"/><stop offset="0.325" stop-color="#ff6412"/><stop offset="0.338" stop-color="#ff8820"/><stop offset="0.350" stop-color="#ffa33d"/><stop offset="0.363" stop-color="#ffb458"/><stop offset="0.376" stop-color="#ffbb62"/><stop offset="0.388" stop-color="#ffb458"/><stop offset="0.401" stop-color="#ffa33e"/><stop offset="0.414" stop-color="#ff8c21"/><stop offset="0.426" stop-color="#ff6a14"/><stop offset="0.439" stop-color="#ff4b0a"/><stop offset="0.452" stop-color="#fc2c07"/><stop offset="0.464" stop-color="#f61205"/><stop offset="0.477" stop-color="#df0805"/><stop offset="0.489" stop-color="#c50303"/><stop offset="0.502" stop-color="#ab0101"/><stop offset="0.515" stop-color="#950000"/><stop offset="0.527" stop-color="#810000"/><stop offset="0.540" stop-color="#710000"/><stop offset="0.553" stop-color="#650000"/><stop offset="0.565" stop-color="#5b0000"/><stop offset="0.578" stop-color="#550000"/><stop offset="0.591" stop-color="#4f0101"/><stop offset="0.603" stop-color="#4a0101"/><stop offset="0.616" stop-color="#450101"/><stop offset="0.629" stop-color="#400202"/><stop offset="0.641" stop-color="#3c0202"/><stop offset="0.654" stop-color="#380202"/><stop offset="0.667" stop-color="#370202"/><stop offset="0.679" stop-color="#360202"/><stop offset="0.692" stop-color="#350202"/><stop offset="0.704" stop-color="#350101"/><stop offset="0.717" stop-color="#340101"/><stop offset="0.730" stop-color="#340101"/><stop offset="0.742" stop-color="#330101"/><stop offset="0.755" stop-color="#330101"/><stop offset="0.768" stop-color="#330101"/><stop offset="0.780" stop-color="#330101"/><stop offset="0.793" stop-color="#330101"/><stop offset="0.806" stop-color="#330101"/><stop offset="0.818" stop-color="#320101"/><stop offset="0.831" stop-color="#320101"/><stop offset="0.844" stop-color="#320101"/><stop offset="0.856" stop-color="#320101"/><stop offset="0.869" stop-color="#320101"/><stop offset="0.882" stop-color="#320101"/><stop offset="0.894" stop-color="#320101"/><stop offset="0.907" stop-color="#320101"/><stop offset="0.919" stop-color="#320101"/><stop offset="0.932" stop-color="#320101"/><stop offset="0.945" stop-color="#320101"/><stop offset="0.957" stop-color="#320101"/><stop offset="0.970" stop-color="#320101"/><stop offset="0.983" stop-color="#320101"/><stop offset="0.995" stop-color="#320101"/></linearGradient>
<linearGradient id="h40" gradientUnits="userSpaceOnUse" x1="75.9" y1="0" x2="313.1" y2="0"><stop offset="-0.004" stop-color="#320101"/><stop offset="0.009" stop-color="#320101"/><stop offset="0.022" stop-color="#320101"/><stop offset="0.034" stop-color="#320101"/><stop offset="0.047" stop-color="#320101"/><stop offset="0.059" stop-color="#320101"/><stop offset="0.072" stop-color="#320101"/><stop offset="0.085" stop-color="#330101"/><stop offset="0.097" stop-color="#330101"/><stop offset="0.110" stop-color="#330101"/><stop offset="0.123" stop-color="#330101"/><stop offset="0.135" stop-color="#340101"/><stop offset="0.148" stop-color="#340101"/><stop offset="0.161" stop-color="#350202"/><stop offset="0.173" stop-color="#360202"/><stop offset="0.186" stop-color="#380202"/><stop offset="0.199" stop-color="#3d0202"/><stop offset="0.211" stop-color="#460101"/><stop offset="0.224" stop-color="#510101"/><stop offset="0.237" stop-color="#620000"/><stop offset="0.249" stop-color="#7d0000"/><stop offset="0.262" stop-color="#9f0000"/><stop offset="0.274" stop-color="#c00303"/><stop offset="0.287" stop-color="#e10905"/><stop offset="0.300" stop-color="#fa1605"/><stop offset="0.312" stop-color="#fd3808"/><stop offset="0.325" stop-color="#ff5b0e"/><stop offset="0.338" stop-color="#ff7e1c"/><stop offset="0.350" stop-color="#ff9c34"/><stop offset="0.363" stop-color="#ffaf51"/><stop offset="0.376" stop-color="#ffb95f"/><stop offset="0.388" stop-color="#ffb559"/><stop offset="0.401" stop-color="#ffa643"/><stop offset="0.414" stop-color="#ff9124"/><stop offset="0.426" stop-color="#ff7117"/><stop offset="0.439" stop-color="#ff510a"/><stop offset="0.452" stop-color="#fc3107"/><stop offset="0.464" stop-color="#fa1405"/><stop offset="0.477" stop-color="#e30a05"/><stop offset="0.489" stop-color="#cb0404"/><stop offset="0.502" stop-color="#b00101"/><stop offset="0.515" stop-color="#990000"/><stop offset="0.527" stop-color="#840000"/><stop offset="0.540" stop-color="#740000"/><stop offset="0.553" stop-color="#670000"/><stop offset="0.565" stop-color="#5d0000"/><stop offset="0.578" stop-color="#560000"/><stop offset="0.591" stop-color="#510101"/><stop offset="0.603" stop-color="#4b0101"/><stop offset="0.616" stop-color="#460101"/><stop offset="0.629" stop-color="#410101"/><stop offset="0.641" stop-color="#3d0202"/><stop offset="0.654" stop-color="#380202"/><stop offset="0.667" stop-color="#370202"/><stop offset="0.679" stop-color="#360202"/><stop offset="0.692" stop-color="#350202"/><stop offset="0.704" stop-color="#350101"/><stop offset="0.717" stop-color="#340101"/><stop offset="0.730" stop-color="#340101"/><stop offset="0.742" stop-color="#330101"/><stop offset="0.755" stop-color="#330101"/><stop offset="0.768" stop-color="#330101"/><stop offset="0.780" stop-color="#330101"/><stop offset="0.793" stop-color="#330101"/><stop offset="0.806" stop-color="#330101"/><stop offset="0.818" stop-color="#320101"/><stop offset="0.831" stop-color="#320101"/><stop offset="0.844" stop-color="#320101"/><stop offset="0.856" stop-color="#320101"/><stop offset="0.869" stop-color="#320101"/><stop offset="0.882" stop-color="#320101"/><stop offset="0.894" stop-color="#320101"/><stop offset="0.907" stop-color="#320101"/><stop offset="0.919" stop-color="#320101"/><stop offset="0.932" stop-color="#320101"/><stop offset="0.945" stop-color="#320101"/><stop offset="0.957" stop-color="#320101"/><stop offset="0.970" stop-color="#320101"/><stop offset="0.983" stop-color="#320101"/><stop offset="0.995" stop-color="#320101"/></linearGradient>
<linearGradient id="h41" gradientUnits="userSpaceOnUse" x1="75.9" y1="0" x2="313.1" y2="0"><stop offset="-0.004" stop-color="#320101"/><stop offset="0.009" stop-color="#320101"/><stop offset="0.022" stop-color="#320101"/><stop offset="0.034" stop-color="#320101"/><stop offset="0.047" stop-color="#320101"/><stop offset="0.059" stop-color="#320101"/><stop offset="0.072" stop-color="#320101"/><stop offset="0.085" stop-color="#330101"/><stop offset="0.097" stop-color="#330101"/><stop offset="0.110" stop-color="#330101"/><stop offset="0.123" stop-color="#330101"/><stop offset="0.135" stop-color="#340101"/><stop offset="0.148" stop-color="#340101"/><stop offset="0.161" stop-color="#350202"/><stop offset="0.173" stop-color="#360202"/><stop offset="0.186" stop-color="#370202"/><stop offset="0.199" stop-color="#3c0202"/><stop offset="0.211" stop-color="#440101"/><stop offset="0.224" stop-color="#4f0101"/><stop offset="0.237" stop-color="#5d0000"/><stop offset="0.249" stop-color="#770000"/><stop offset="0.262" stop-color="#970000"/><stop offset="0.274" stop-color="#b90202"/><stop offset="0.287" stop-color="#db0705"/><stop offset="0.300" stop-color="#f51205"/><stop offset="0.312" stop-color="#fc2f07"/><stop offset="0.325" stop-color="#ff520b"/><stop offset="0.338" stop-color="#ff7518"/><stop offset="0.350" stop-color="#ff952a"/><stop offset="0.363" stop-color="#ffaa49"/><stop offset="0.376" stop-color="#ffb65a"/><stop offset="0.388" stop-color="#ffb559"/><stop offset="0.401" stop-color="#ffa947"/><stop offset="0.414" stop-color="#ff9529"/><stop offset="0.426" stop-color="#ff7719"/><stop offset="0.439" stop-color="#ff570d"/><stop offset="0.452" stop-color="#fd3708"/><stop offset="0.464" stop-color="#fa1a05"/><stop offset="0.477" stop-color="#e80c05"/><stop offset="0.489" stop-color="#d10404"/><stop offset="0.502" stop-color="#b50202"/><stop offset="0.515" stop-color="#9e0000"/><stop offset="0.527" stop-color="#880000"/><stop offset="0.540" stop-color="#770000"/><stop offset="0.553" stop-color="#6a0000"/><stop offset="0.565" stop-color="#5f0000"/><stop offset="0.578" stop-color="#580000"/><stop offset="0.591" stop-color="#520101"/><stop offset="0.603" stop-color="#4c0101"/><stop offset="0.616" stop-color="#470101"/><stop offset="0.629" stop-color="#420101"/><stop offset="0.641" stop-color="#3e0202"/><stop offset="0.654" stop-color="#390202"/><stop offset="0.667" stop-color="#370202"/><stop offset="0.679" stop-color="#360202"/><stop offset="0.692" stop-color="#350202"/><stop offset="0.704" stop-color="#350101"/><stop offset="0.717" stop-color="#340101"/><stop offset="0.730" stop-color="#340101"/><stop offset="0.742" stop-color="#340101"/><stop offset="0.755" stop-color="#330101"/><stop offset="0.768" stop-color="#330101"/><stop offset="0.780" stop-color="#330101"/><stop offset="0.793" stop-color="#330101"/><stop offset="0.806" stop-color="#330101"/><stop offset="0.818" stop-color="#320101"/><stop offset="0.831" stop-color="#320101"/><stop offset="0.844" stop-color="#320101"/><stop offset="0.856" stop-color="#320101"/><stop offset="0.869" stop-color="#320101"/><stop offset="0.882" stop-color="#320101"/><stop offset="0.894" stop-color="#320101"/><stop offset="0.907" stop-color="#320101"/><stop offset="0.919" stop-color="#320101"/><stop offset="0.932" stop-color="#320101"/><stop offset="0.945" stop-color="#320101"/><stop offset="0.957" stop-color="#320101"/><stop offset="0.970" stop-color="#320101"/><stop offset="0.983" stop-color="#320101"/><stop offset="0.995" stop-color="#320101"/></linearGradient>
<linearGradient id="h42" gradientUnits="userSpaceOnUse" x1="75.9" y1="0" x2="313.1" y2="0"><stop offset="-0.004" stop-color="#320101"/><stop offset="0.009" stop-color="#320101"/><stop offset="0.022" stop-color="#320101"/><stop offset="0.034" stop-color="#320101"/><stop offset="0.047" stop-color="#320101"/><stop offset="0.059" stop-color="#320101"/><stop offset="0.072" stop-color="#320101"/><stop offset="0.085" stop-color="#330101"/><stop offset="0.097" stop-color="#330101"/><stop offset="0.110" stop-color="#330101"/><stop offset="0.123" stop-color="#330101"/><stop offset="0.135" stop-color="#340101"/><stop offset="0.148" stop-color="#340101"/><stop offset="0.161" stop-color="#350101"/><stop offset="0.173" stop-color="#360202"/><stop offset="0.186" stop-color="#370202"/><stop offset="0.199" stop-color="#3b0202"/><stop offset="0.211" stop-color="#420101"/><stop offset="0.224" stop-color="#4c0101"/><stop offset="0.237" stop-color="#5a0000"/><stop offset="0.249" stop-color="#710000"/><stop offset="0.262" stop-color="#900000"/><stop offset="0.274" stop-color="#b20202"/><stop offset="0.287" stop-color="#d50505"/><stop offset="0.300" stop-color="#ef0f05"/><stop offset="0.312" stop-color="#fc2707"/><stop offset="0.325" stop-color="#fe4909"/><stop offset="0.338" stop-color="#ff6b15"/><stop offset="0.350" stop-color="#ff8e22"/><stop offset="0.363" stop-color="#ffa440"/><stop offset="0.376" stop-color="#ffb255"/><stop offset="0.388" stop-color="#ffb559"/><stop offset="0.401" stop-color="#ffab4a"/><stop offset="0.414" stop-color="#ff992f"/><stop offset="0.426" stop-color="#ff7d1b"/><stop offset="0.439" stop-color="#ff5d0f"/><stop offset="0.452" stop-color="#fd3d08"/><stop offset="0.464" stop-color="#fb1f06"/><stop offset="0.477" stop-color="#ec0e05"/><stop offset="0.489" stop-color="#d70505"/><stop offset="0.502" stop-color="#ba0202"/><stop offset="0.515" stop-color="#a30000"/><stop offset="0.527" stop-color="#8c0000"/><stop offset="0.540" stop-color="#7a0000"/><stop offset="0.553" stop-color="#6c0000"/><stop offset="0.565" stop-color="#610000"/><stop offset="0.578" stop-color="#590000"/><stop offset="0.591" stop-color="#530000"/><stop offset="0.603" stop-color="#4e0101"/><stop offset="0.616" stop-color="#480101"/><stop offset="0.629" stop-color="#430101"/><stop offset="0.641" stop-color="#3f0202"/><stop offset="0.654" stop-color="#3a0202"/><stop offset="0.667" stop-color="#380202"/><stop offset="0.679" stop-color="#360202"/><stop offset="0.692" stop-color="#360202"/><stop offset="0.704" stop-color="#350101"/><stop offset="0.717" stop-color="#340101"/><stop offset="0.730" stop-color="#340101"/><stop offset="0.742" stop-color="#340101"/><stop offset="0.755" stop-color="#330101"/><stop offset="0.768" stop-color="#330101"/><stop offset="0.780" stop-color="#330101"/><stop offset="0.793" stop-color="#330101"/><stop offset="0.806" stop-color="#330101"/><stop offset="0.818" stop-color="#330101"/><stop offset="0.831" stop-color="#320101"/><stop offset="0.844" stop-color="#320101"/><stop offset="0.856" stop-color="#320101"/><stop offset="0.869" stop-color="#320101"/><stop offset="0.882" stop-color="#320101"/><stop offset="0.894" stop-color="#320101"/><stop offset="0.907" stop-color="#320101"/><stop offset="0.919" stop-color="#320101"/><stop offset="0.932" stop-color="#320101"/><stop offset="0.945" stop-color="#320101"/><stop offset="0.957" stop-color="#320101"/><stop offset="0.970" stop-color="#320101"/><stop offset="0.983" stop-color="#320101"/><stop offset="0.995" stop-color="#320101"/></linearGradient>
<linearGradient id="h43" gradientUnits="userSpaceOnUse" x1="75.9" y1="0" x2="313.1" y2="0"><stop offset="-0.004" stop-color="#320101"/><stop offset="0.009" stop-color="#320101"/><stop offset="0.022" stop-color="#320101"/><stop offset="0.034" stop-color="#320101"/><stop offset="0.047" stop-color="#320101"/><stop offset="0.059" stop-color="#320101"/><stop offset="0.072" stop-color="#320101"/><stop offset="0.085" stop-color="#330101"/><stop offset="0.097" stop-color="#330101"/><stop offset="0.110" stop-color="#330101"/><stop offset="0.123" stop-color="#330101"/><stop offset="0.135" stop-color="#340101"/><stop offset="0.148" stop-color="#340101"/><stop offset="0.161" stop-color="#350101"/><stop offset="0.173" stop-color="#360202"/><stop offset="0.186" stop-color="#370202"/><stop offset="0.199" stop-color="#3a0202"/><stop offset="0.211" stop-color="#410202"/><stop offset="0.224" stop-color="#4a0101"/><stop offset="0.237" stop-color="#570000"/><stop offset="0.249" stop-color="#6c0000"/><stop offset="0.262" stop-color="#8a0000"/><stop offset="0.274" stop-color="#ab0101"/><stop offset="0.287" stop-color="#cd0404"/><stop offset="0.300" stop-color="#e90d05"/><stop offset="0.312" stop-color="#fb2006"/><stop offset="0.325" stop-color="#fe4109"/><stop offset="0.338" stop-color="#ff6211"/><stop offset="0.350" stop-color="#ff851e"/><stop offset="0.363" stop-color="#ff9e37"/><stop offset="0.376" stop-color="#ffae4f"/><stop offset="0.388" stop-color="#ffb457"/><stop offset="0.401" stop-color="#ffad4c"/><stop offset="0.414" stop-color="#ff9c34"/><stop offset="0.426" stop-color="#ff831d"/><stop offset="0.439" stop-color="#ff6311"/><stop offset="0.452" stop-color="#fe4309"/><stop offset="0.464" stop-color="#fb2506"/><stop offset="0.477" stop-color="#f11005"/><stop offset="0.489" stop-color="#db0705"/><stop offset="0.502" stop-color="#bf0303"/><stop offset="0.515" stop-color="#a70101"/><stop offset="0.527" stop-color="#900000"/><stop offset="0.540" stop-color="#7d0000"/><stop offset="0.553" stop-color="#6f0000"/><stop offset="0.565" stop-color="#630000"/><stop offset="0.578" stop-color="#5a0000"/><stop offset="0.591" stop-color="#540000"/><stop offset="0.603" stop-color="#4f0101"/><stop offset="0.616" stop-color="#490101"/><stop offset="0.629" stop-color="#440101"/><stop offset="0.641" stop-color="#400202"/><stop offset="0.654" stop-color="#3b0202"/><stop offset="0.667" stop-color="#380202"/><stop offset="0.679" stop-color="#370202"/><stop offset="0.692" stop-color="#360202"/><stop offset="0.704" stop-color="#350202"/><stop offset="0.717" stop-color="#340101"/><stop offset="0.730" stop-color="#340101"/><stop offset="0.742" stop-color="#340101"/><stop offset="0.755" stop-color="#330101"/><stop offset="0.768" stop-color="#330101"/><stop offset="0.780" stop-color="#330101"/><stop offset="0.793" stop-color="#330101"/><stop offset="0.806" stop-color="#330101"/><stop offset="0.818" stop-color="#330101"/><stop offset="0.831" stop-color="#320101"/><stop offset="0.844" stop-color="#320101"/><stop offset="0.856" stop-color="#320101"/><stop offset="0.869" stop-color="#320101"/><stop offset="0.882" stop-color="#320101"/><stop offset="0.894" stop-color="#320101"/><stop offset="0.907" stop-color="#320101"/><stop offset="0.919" stop-color="#320101"/><stop offset="0.932" stop-color="#320101"/><stop offset="0.945" stop-color="#320101"/><stop offset="0.957" stop-color="#320101"/><stop offset="0.970" stop-color="#320101"/><stop offset="0.983" stop-color="#320101"/><stop offset="0.995" stop-color="#320101"/></linearGradient>
<linearGradient id="h44" gradientUnits="userSpaceOnUse" x1="75.9" y1="0" x2="313.1" y2="0"><stop offset="-0.004" stop-color="#320101"/><stop offset="0.009" stop-color="#320101"/><stop offset="0.022" stop-color="#320101"/><stop offset="0.034" stop-color="#320101"/><stop offset="0.047" stop-color="#320101"/><stop offset="0.059" stop-color="#320101"/><stop offset="0.072" stop-color="#320101"/><stop offset="0.085" stop-color="#330101"/><stop offset="0.097" stop-color="#330101"/><stop offset="0.110" stop-color="#330101"/><stop offset="0.123" stop-color="#330101"/><stop offset="0.135" stop-color="#340101"/><stop offset="0.148" stop-color="#340101"/><stop offset="0.161" stop-color="#350101"/><stop offset="0.173" stop-color="#350202"/><stop offset="0.186" stop-color="#370202"/><stop offset="0.199" stop-color="#390202"/><stop offset="0.211" stop-color="#3f0202"/><stop offset="0.224" stop-color="#480101"/><stop offset="0.237" stop-color="#540000"/><stop offset="0.249" stop-color="#670000"/><stop offset="0.262" stop-color="#830000"/><stop offset="0.274" stop-color="#a40000"/><stop offset="0.287" stop-color="#c50303"/><stop offset="0.300" stop-color="#e40a05"/><stop offset="0.312" stop-color="#fa1805"/><stop offset="0.325" stop-color="#fd3908"/><stop offset="0.338" stop-color="#ff5a0e"/><stop offset="0.350" stop-color="#ff7b1b"/><stop offset="0.363" stop-color="#ff982e"/><stop offset="0.376" stop-color="#ffaa48"/><stop offset="0.388" stop-color="#ffb254"/><stop offset="0.401" stop-color="#ffad4e"/><stop offset="0.414" stop-color="#ff9f38"/><stop offset="0.426" stop-color="#ff8820"/><stop offset="0.439" stop-color="#ff6813"/><stop offset="0.452" stop-color="#fe4909"/><stop offset="0.464" stop-color="#fc2b07"/><stop offset="0.477" stop-color="#f51205"/><stop offset="0.489" stop-color="#df0805"/><stop offset="0.502" stop-color="#c50303"/><stop offset="0.515" stop-color="#ab0101"/><stop offset="0.527" stop-color="#950000"/><stop offset="0.540" stop-color="#810000"/><stop offset="0.553" stop-color="#710000"/><stop offset="0.565" stop-color="#650000"/><stop offset="0.578" stop-color="#5c0000"/><stop offset="0.591" stop-color="#560000"/><stop offset="0.603" stop-color="#500101"/><stop offset="0.616" stop-color="#4b0101"/><stop offset="0.629" stop-color="#460101"/><stop offset="0.641" stop-color="#410202"/><stop offset="0.654" stop-color="#3c0202"/><stop offset="0.667" stop-color="#380202"/><stop offset="0.679" stop-color="#370202"/><stop offset="0.692" stop-color="#360202"/><stop offset="0.704" stop-color="#350202"/><stop offset="0.717" stop-color="#350101"/><stop offset="0.730" stop-color="#340101"/><stop offset="0.742" stop-color="#340101"/><stop offset="0.755" stop-color="#330101"/><stop offset="0.768" stop-color="#330101"/><stop offset="0.780" stop-color="#330101"/><stop offset="0.793" stop-color="#330101"/><stop offset="0.806" stop-color="#330101"/><stop offset="0.818" stop-color="#330101"/><stop offset="0.831" stop-color="#320101"/><stop offset="0.844" stop-color="#320101"/><stop offset="0.856" stop-color="#320101"/><stop offset="0.869" stop-color="#320101"/><stop offset="0.882" stop-color="#320101"/><stop offset="0.894" stop-color="#320101"/><stop offset="0.907" stop-color="#320101"/><stop offset="0.919" stop-color="#320101"/><stop offset="0.932" stop-color="#320101"/><stop offset="0.945" stop-color="#320101"/><stop offset="0.957" stop-color="#320101"/><stop offset="0.970" stop-color="#320101"/><stop offset="0.983" stop-color="#320101"/><stop offset="0.995" stop-color="#320101"/></linearGradient>
<linearGradient id="h45" gradientUnits="userSpaceOnUse" x1="75.9" y1="0" x2="313.1" y2="0"><stop offset="-0.004" stop-color="#320101"/><stop offset="0.009" stop-color="#320101"/><stop offset="0.022" stop-color="#320101"/><stop offset="0.034" stop-color="#320101"/><stop offset="0.047" stop-color="#320101"/><stop offset="0.059" stop-color="#320101"/><stop offset="0.072" stop-color="#320101"/><stop offset="0.085" stop-color="#320101"/><stop offset="0.097" stop-color="#330101"/><stop offset="0.110" stop-color="#330101"/><stop offset="0.123" stop-color="#330101"/><stop offset="0.135" stop-color="#330101"/><stop offset="0.148" stop-color="#340101"/><stop offset="0.161" stop-color="#340101"/><stop offset="0.173" stop-color="#350202"/><stop offset="0.186" stop-color="#360202"/><stop offset="0.199" stop-color="#380202"/><stop offset="0.211" stop-color="#3e0202"/><stop offset="0.224" stop-color="#460101"/><stop offset="0.237" stop-color="#520101"/><stop offset="0.249" stop-color="#620000"/><stop offset="0.262" stop-color="#7d0000"/><stop offset="0.274" stop-color="#9e0000"/><stop offset="0.287" stop-color="#be0303"/><stop offset="0.300" stop-color="#de0805"/><stop offset="0.312" stop-color="#f81305"/><stop offset="0.325" stop-color="#fc3107"/><stop offset="0.338" stop-color="#ff520b"/><stop offset="0.350" stop-color="#ff7217"/><stop offset="0.363" stop-color="#ff9225"/><stop offset="0.376" stop-color="#ffa541"/><stop offset="0.388" stop-color="#ffaf50"/><stop offset="0.401" stop-color="#ffae4e"/><stop offset="0.414" stop-color="#ffa23c"/><stop offset="0.426" stop-color="#ff8e22"/><stop offset="0.439" stop-color="#ff6e16"/><stop offset="0.452" stop-color="#ff500a"/><stop offset="0.464" stop-color="#fc3107"/><stop offset="0.477" stop-color="#fa1405"/><stop offset="0.489" stop-color="#e30a05"/><stop offset="0.502" stop-color="#cb0404"/><stop offset="0.515" stop-color="#b00101"/><stop offset="0.527" stop-color="#990000"/><stop offset="0.540" stop-color="#840000"/><stop offset="0.553" stop-color="#740000"/><stop offset="0.565" stop-color="#680000"/><stop offset="0.578" stop-color="#5d0000"/><stop offset="0.591" stop-color="#570000"/><stop offset="0.603" stop-color="#510101"/><stop offset="0.616" stop-color="#4c0101"/><stop offset="0.629" stop-color="#470101"/><stop offset="0.641" stop-color="#420101"/><stop offset="0.654" stop-color="#3d0202"/><stop offset="0.667" stop-color="#390202"/><stop offset="0.679" stop-color="#370202"/><stop offset="0.692" stop-color="#360202"/><stop offset="0.704" stop-color="#350202"/><stop offset="0.717" stop-color="#350101"/><stop offset="0.730" stop-color="#340101"/><stop offset="0.742" stop-color="#340101"/><stop offset="0.755" stop-color="#330101"/><stop offset="0.768" stop-color="#330101"/><stop offset="0.780" stop-color="#330101"/><stop offset="0.793" stop-color="#330101"/><stop offset="0.806" stop-color="#330101"/><stop offset="0.818" stop-color="#330101"/><stop offset="0.831" stop-color="#320101"/><stop offset="0.844" stop-color="#320101"/><stop offset="0.856" stop-color="#320101"/><stop offset="0.869" stop-color="#320101"/><stop offset="0.882" stop-color="#320101"/><stop offset="0.894" stop-color="#320101"/><stop offset="0.907" stop-color="#320101"/><stop offset="0.919" stop-color="#320101"/><stop offset="0.932" stop-color="#320101"/><stop offset="0.945" stop-color="#320101"/><stop offset="0.957" stop-color="#320101"/><stop offset="0.970" stop-color="#320101"/><stop offset="0.983" stop-color="#320101"/><stop offset="0.995" stop-color="#320101"/></linearGradient>
<linearGradient id="h46" gradientUnits="userSpaceOnUse" x1="75.9" y1="0" x2="313.1" y2="0"><stop offset="-0.004" stop-color="#320101"/><stop offset="0.009" stop-color="#320101"/><stop offset="0.022" stop-color="#320101"/><stop offset="0.034" stop-color="#320101"/><stop offset="0.047" stop-color="#320101"/><stop offset="0.059" stop-color="#320101"/><stop offset="0.072" stop-color="#320101"/><stop offset="0.085" stop-color="#320101"/><stop offset="0.097" stop-color="#330101"/><stop offset="0.110" stop-color="#330101"/><stop offset="0.123" stop-color="#330101"/><stop offset="0.135" stop-color="#330101"/><stop offset="0.148" stop-color="#340101"/><stop offset="0.161" stop-color="#340101"/><stop offset="0.173" stop-color="#350202"/><stop offset="0.186" stop-color="#360202"/><stop offset="0.199" stop-color="#380202"/><stop offset="0.211" stop-color="#3d0202"/><stop offset="0.224" stop-color="#450101"/><stop offset="0.237" stop-color="#4f0101"/><stop offset="0.249" stop-color="#5e0000"/><stop offset="0.262" stop-color="#770000"/><stop offset="0.274" stop-color="#970000"/><stop offset="0.287" stop-color="#b70202"/><stop offset="0.300" stop-color="#d90605"/><stop offset="0.312" stop-color="#f21005"/><stop offset="0.325" stop-color="#fc2907"/><stop offset="0.338" stop-color="#fe4909"/><stop offset="0.350" stop-color="#ff6914"/><stop offset="0.363" stop-color="#ff8a20"/><stop offset="0.376" stop-color="#ff9f39"/><stop offset="0.388" stop-color="#ffac4b"/><stop offset="0.401" stop-color="#ffad4e"/><stop offset="0.414" stop-color="#ffa43f"/><stop offset="0.426" stop-color="#ff9225"/><stop offset="0.439" stop-color="#ff7418"/><stop offset="0.452" stop-color="#ff550c"/><stop offset="0.464" stop-color="#fd3708"/><stop offset="0.477" stop-color="#fa1a05"/><stop offset="0.489" stop-color="#e80c05"/><stop offset="0.502" stop-color="#d10404"/><stop offset="0.515" stop-color="#b60202"/><stop offset="0.527" stop-color="#9f0000"/><stop offset="0.540" stop-color="#890000"/><stop offset="0.553" stop-color="#780000"/><stop offset="0.565" stop-color="#6a0000"/><stop offset="0.578" stop-color="#600000"/><stop offset="0.591" stop-color="#580000"/><stop offset="0.603" stop-color="#530101"/><stop offset="0.616" stop-color="#4d0101"/><stop offset="0.629" stop-color="#480101"/><stop offset="0.641" stop-color="#430101"/><stop offset="0.654" stop-color="#3e0202"/><stop offset="0.667" stop-color="#3a0202"/><stop offset="0.679" stop-color="#370202"/><stop offset="0.692" stop-color="#360202"/><stop offset="0.704" stop-color="#360202"/><stop offset="0.717" stop-color="#350101"/><stop offset="0.730" stop-color="#340101"/><stop offset="0.742" stop-color="#340101"/><stop offset="0.755" stop-color="#340101"/><stop offset="0.768" stop-color="#330101"/><stop offset="0.780" stop-color="#330101"/><stop offset="0.793" stop-color="#330101"/><stop offset="0.806" stop-color="#330101"/><stop offset="0.818" stop-color="#330101"/><stop offset="0.831" stop-color="#330101"/><stop offset="0.844" stop-color="#320101"/><stop offset="0.856" stop-color="#320101"/><stop offset="0.869" stop-color="#320101"/><stop offset="0.882" stop-color="#320101"/><stop offset="0.894" stop-color="#320101"/><stop offset="0.907" stop-color="#320101"/><stop offset="0.919" stop-color="#320101"/><stop offset="0.932" stop-color="#320101"/><stop offset="0.945" stop-color="#320101"/><stop offset="0.957" stop-color="#320101"/><stop offset="0.970" stop-color="#320101"/><stop offset="0.983" stop-color="#320101"/><stop offset="0.995" stop-color="#320101"/></linearGradient>
<linearGradient id="h47" gradientUnits="userSpaceOnUse" x1="75.9" y1="0" x2="313.1" y2="0"><stop offset="-0.004" stop-color="#320101"/><stop offset="0.009" stop-color="#320101"/><stop offset="0.022" stop-color="#320101"/><stop offset="0.034" stop-color="#320101"/><stop offset="0.047" stop-color="#320101"/><stop offset="0.059" stop-color="#320101"/><stop offset="0.072" stop-color="#320101"/><stop offset="0.085" stop-color="#320101"/><stop offset="0.097" stop-color="#330101"/><stop offset="0.110" stop-color="#330101"/><stop offset="0.123" stop-color="#330101"/><stop offset="0.135" stop-color="#330101"/><stop offset="0.148" stop-color="#340101"/><stop offset="0.161" stop-color="#340101"/><stop offset="0.173" stop-color="#350101"/><stop offset="0.186" stop-color="#360202"/><stop offset="0.199" stop-color="#370202"/><stop offset="0.211" stop-color="#3b0202"/><stop offset="0.224" stop-color="#430101"/><stop offset="0.237" stop-color="#4d0101"/><stop offset="0.249" stop-color="#5a0000"/><stop offset="0.262" stop-color="#720000"/><stop offset="0.274" stop-color="#900000"/><stop offset="0.287" stop-color="#b00101"/><stop offset="0.300" stop-color="#d20505"/><stop offset="0.312" stop-color="#ec0e05"/><stop offset="0.325" stop-color="#fb2106"/><stop offset="0.338" stop-color="#fe4109"/><stop offset="0.350" stop-color="#ff6110"/><stop offset="0.363" stop-color="#ff811d"/><stop offset="0.376" stop-color="#ff9a30"/><stop offset="0.388" stop-color="#ffa846"/><stop offset="0.401" stop-color="#ffac4c"/><stop offset="0.414" stop-color="#ffa541"/><stop offset="0.426" stop-color="#ff952a"/><stop offset="0.439" stop-color="#ff7a1a"/><stop offset="0.452" stop-color="#ff5b0e"/><stop offset="0.464" stop-color="#fd3d08"/><stop offset="0.477" stop-color="#fb1f06"/><stop offset="0.489" stop-color="#ec0e05"/><stop offset="0.502" stop-color="#d70505"/><stop offset="0.515" stop-color="#bb0202"/><stop offset="0.527" stop-color="#a40000"/><stop offset="0.540" stop-color="#8d0000"/><stop offset="0.553" stop-color="#7b0000"/><stop offset="0.565" stop-color="#6d0000"/><stop offset="0.578" stop-color="#620000"/><stop offset="0.591" stop-color="#5a0000"/><stop offset="0.603" stop-color="#540000"/><stop offset="0.616" stop-color="#4e0101"/><stop offset="0.629" stop-color="#490101"/><stop offset="0.641" stop-color="#440101"/><stop offset="0.654" stop-color="#3f0202"/><stop offset="0.667" stop-color="#3b0202"/><stop offset="0.679" stop-color="#380202"/><stop offset="0.692" stop-color="#370202"/><stop offset="0.704" stop-color="#360202"/><stop offset="0.717" stop-color="#350202"/><stop offset="0.730" stop-color="#340101"/><stop offset="0.742" stop-color="#340101"/><stop offset="0.755" stop-color="#340101"/><stop offset="0.768" stop-color="#330101"/><stop offset="0.780" stop-color="#330101"/><stop offset="0.793" stop-color="#330101"/><stop offset="0.806" stop-color="#330101"/><stop offset="0.818" stop-color="#330101"/><stop offset="0.831" stop-color="#330101"/><stop offset="0.844" stop-color="#320101"/><stop offset="0.856" stop-color="#320101"/><stop offset="0.869" stop-color="#320101"/><stop offset="0.882" stop-color="#320101"/><stop offset="0.894" stop-color="#320101"/><stop offset="0.907" stop-color="#320101"/><stop offset="0.919" stop-color="#320101"/><stop offset="0.932" stop-color="#320101"/><stop offset="0.945" stop-color="#320101"/><stop offset="0.957" stop-color="#320101"/><stop offset="0.970" stop-color="#320101"/><stop offset="0.983" stop-color="#320101"/><stop offset="0.995" stop-color="#320101"/></linearGradient>
<linearGradient id="h48" gradientUnits="userSpaceOnUse" x1="75.9" y1="0" x2="313.1" y2="0"><stop offset="-0.004" stop-color="#320101"/><stop offset="0.009" stop-color="#320101"/><stop offset="0.022" stop-color="#320101"/><stop offset="0.034" stop-color="#320101"/><stop offset="0.047" stop-color="#320101"/><stop offset="0.059" stop-color="#320101"/><stop offset="0.072" stop-color="#320101"/><stop offset="0.085" stop-color="#320101"/><stop offset="0.097" stop-color="#330101"/><stop offset="0.110" stop-color="#330101"/><stop offset="0.123" stop-color="#330101"/><stop offset="0.135" stop-color="#330101"/><stop offset="0.148" stop-color="#340101"/><stop offset="0.161" stop-color="#340101"/><stop offset="0.173" stop-color="#350101"/><stop offset="0.186" stop-color="#360202"/><stop offset="0.199" stop-color="#370202"/><stop offset="0.211" stop-color="#3a0202"/><stop offset="0.224" stop-color="#410101"/><stop offset="0.237" stop-color="#4b0101"/><stop offset="0.249" stop-color="#580000"/><stop offset="0.262" stop-color="#6d0000"/><stop offset="0.274" stop-color="#890000"/><stop offset="0.287" stop-color="#aa0101"/><stop offset="0.300" stop-color="#ca0404"/><stop offset="0.312" stop-color="#e60c05"/><stop offset="0.325" stop-color="#fb1a06"/><stop offset="0.338" stop-color="#fd3908"/><stop offset="0.350" stop-color="#ff590d"/><stop offset="0.363" stop-color="#ff7819"/><stop offset="0.376" stop-color="#ff9428"/><stop offset="0.388" stop-color="#ffa43f"/><stop offset="0.401" stop-color="#ffab49"/><stop offset="0.414" stop-color="#ffa643"/><stop offset="0.426" stop-color="#ff982e"/><stop offset="0.439" stop-color="#ff7f1c"/><stop offset="0.452" stop-color="#ff6111"/><stop offset="0.464" stop-color="#fe4309"/><stop offset="0.477" stop-color="#fb2506"/><stop offset="0.489" stop-color="#f11005"/><stop offset="0.502" stop-color="#dc0705"/><stop offset="0.515" stop-color="#c10303"/><stop offset="0.527" stop-color="#a80101"/><stop offset="0.540" stop-color="#920000"/><stop offset="0.553" stop-color="#7f0000"/><stop offset="0.565" stop-color="#700000"/><stop offset="0.578" stop-color="#640000"/><stop offset="0.591" stop-color="#5b0000"/><stop offset="0.603" stop-color="#550000"/><stop offset="0.616" stop-color="#500101"/><stop offset="0.629" stop-color="#4a0101"/><stop offset="0.641" stop-color="#450101"/><stop offset="0.654" stop-color="#400202"/><stop offset="0.667" stop-color="#3c0202"/><stop offset="0.679" stop-color="#380202"/><stop offset="0.692" stop-color="#370202"/><stop offset="0.704" stop-color="#360202"/><stop offset="0.717" stop-color="#350202"/><stop offset="0.730" stop-color="#350101"/><stop offset="0.742" stop-color="#340101"/><stop offset="0.755" stop-color="#340101"/><stop offset="0.768" stop-color="#330101"/><stop offset="0.780" stop-color="#330101"/><stop offset="0.793" stop-color="#330101"/><stop offset="0.806" stop-color="#330101"/><stop offset="0.818" stop-color="#330101"/><stop offset="0.831" stop-color="#330101"/><stop offset="0.844" stop-color="#320101"/><stop offset="0.856" stop-color="#320101"/><stop offset="0.869" stop-color="#320101"/><stop offset="0.882" stop-color="#320101"/><stop offset="0.894" stop-color="#320101"/><stop offset="0.907" stop-color="#320101"/><stop offset="0.919" stop-color="#320101"/><stop offset="0.932" stop-color="#320101"/><stop offset="0.945" stop-color="#320101"/><stop offset="0.957" stop-color="#320101"/><stop offset="0.970" stop-color="#320101"/><stop offset="0.983" stop-color="#320101"/><stop offset="0.995" stop-color="#320101"/></linearGradient>
<linearGradient id="h49" gradientUnits="userSpaceOnUse" x1="75.9" y1="0" x2="313.1" y2="0"><stop offset="-0.004" stop-color="#320101"/><stop offset="0.009" stop-color="#320101"/><stop offset="0.022" stop-color="#320101"/><stop offset="0.034" stop-color="#320101"/><stop offset="0.047" stop-color="#320101"/><stop offset="0.059" stop-color="#320101"/><stop offset="0.072" stop-color="#320101"/><stop offset="0.085" stop-color="#320101"/><stop offset="0.097" stop-color="#320101"/><stop offset="0.110" stop-color="#330101"/><stop offset="0.123" stop-color="#330101"/><stop offset="0.135" stop-color="#330101"/><stop offset="0.148" stop-color="#330101"/><stop offset="0.161" stop-color="#340101"/><stop offset="0.173" stop-color="#350101"/><stop offset="0.186" stop-color="#360202"/><stop offset="0.199" stop-color="#370202"/><stop offset="0.211" stop-color="#390202"/><stop offset="0.224" stop-color="#400202"/><stop offset="0.237" stop-color="#490101"/><stop offset="0.249" stop-color="#550000"/><stop offset="0.262" stop-color="#680000"/><stop offset="0.274" stop-color="#830000"/><stop offset="0.287" stop-color="#a30000"/><stop offset="0.300" stop-color="#c30303"/><stop offset="0.312" stop-color="#e10905"/><stop offset="0.325" stop-color="#f91405"/><stop offset="0.338" stop-color="#fc3107"/><stop offset="0.350" stop-color="#ff510a"/><stop offset="0.363" stop-color="#ff6f16"/><stop offset="0.376" stop-color="#ff8d22"/><stop offset="0.388" stop-color="#ff9f39"/><stop offset="0.401" stop-color="#ffa846"/><stop offset="0.414" stop-color="#ffa643"/><stop offset="0.426" stop-color="#ff9b31"/><stop offset="0.439" stop-color="#ff851e"/><stop offset="0.452" stop-color="#ff6713"/><stop offset="0.464" stop-color="#fe4909"/><stop offset="0.477" stop-color="#fc2b07"/><stop offset="0.489" stop-color="#f61205"/><stop offset="0.502" stop-color="#e00905"/><stop offset="0.515" stop-color="#c70404"/><stop offset="0.527" stop-color="#ad0101"/><stop offset="0.540" stop-color="#970000"/><stop offset="0.553" stop-color="#830000"/><stop offset="0.565" stop-color="#730000"/><stop offset="0.578" stop-color="#670000"/><stop offset="0.591" stop-color="#5d0000"/><stop offset="0.603" stop-color="#560000"/><stop offset="0.616" stop-color="#510101"/><stop offset="0.629" stop-color="#4c0101"/><stop offset="0.641" stop-color="#460101"/><stop offset="0.654" stop-color="#420101"/><stop offset="0.667" stop-color="#3d0202"/><stop offset="0.679" stop-color="#390202"/><stop offset="0.692" stop-color="#370202"/><stop offset="0.704" stop-color="#360202"/><stop offset="0.717" stop-color="#350202"/><stop offset="0.730" stop-color="#350101"/><stop offset="0.742" stop-color="#340101"/><stop offset="0.755" stop-color="#340101"/><stop offset="0.768" stop-color="#330101"/><stop offset="0.780" stop-color="#330101"/><stop offset="0.793" stop-color="#330101"/><stop offset="0.806" stop-color="#330101"/><stop offset="0.818" stop-color="#330101"/><stop offset="0.831" stop-color="#330101"/><stop offset="0.844" stop-color="#320101"/><stop offset="0.856" stop-color="#320101"/><stop offset="0.869" stop-color="#320101"/><stop offset="0.882" stop-color="#320101"/><stop offset="0.894" stop-color="#320101"/><stop offset="0.907" stop-color="#320101"/><stop offset="0.919" stop-color="#320101"/><stop offset="0.932" stop-color="#320101"/><stop offset="0.945" stop-color="#320101"/><stop offset="0.957" stop-color="#320101"/><stop offset="0.970" stop-color="#320101"/><stop offset="0.983" stop-color="#320101"/><stop offset="0.995" stop-color="#320101"/></linearGradient>
<linearGradient id="h50" gradientUnits="userSpaceOnUse" x1="75.9" y1="0" x2="313.1" y2="0"><stop offset="-0.004" stop-color="#320101"/><stop offset="0.009" stop-color="#320101"/><stop offset="0.022" stop-color="#320101"/><stop offset="0.034" stop-color="#320101"/><stop offset="0.047" stop-color="#320101"/><stop offset="0.059" stop-color="#320101"/><stop offset="0.072" stop-color="#320101"/><stop offset="0.085" stop-color="#320101"/><stop offset="0.097" stop-color="#320101"/><stop offset="0.110" stop-color="#330101"/><stop offset="0.123" stop-color="#330101"/><stop offset="0.135" stop-color="#330101"/><stop offset="0.148" stop-color="#330101"/><stop offset="0.161" stop-color="#340101"/><stop offset="0.173" stop-color="#340101"/><stop offset="0.186" stop-color="#350202"/><stop offset="0.199" stop-color="#360202"/><stop offset="0.211" stop-color="#380202"/><stop offset="0.224" stop-color="#3e0202"/><stop offset="0.237" stop-color="#470101"/><stop offset="0.249" stop-color="#520101"/><stop offset="0.262" stop-color="#630000"/><stop offset="0.274" stop-color="#7d0000"/><stop offset="0.287" stop-color="#9d0000"/><stop offset="0.300" stop-color="#bc0303"/><stop offset="0.312" stop-color="#dc0705"/><stop offset="0.325" stop-color="#f41105"/><stop offset="0.338" stop-color="#fc2a07"/><stop offset="0.350" stop-color="#fe4909"/><stop offset="0.363" stop-color="#ff6713"/><stop offset="0.376" stop-color="#ff851e"/><stop offset="0.388" stop-color="#ff9a31"/><stop offset="0.401" stop-color="#ffa542"/><stop offset="0.414" stop-color="#ffa642"/><stop offset="0.426" stop-color="#ff9c34"/><stop offset="0.439" stop-color="#ff8920"/><stop offset="0.452" stop-color="#ff6c15"/><stop offset="0.464" stop-color="#ff4f0a"/><stop offset="0.477" stop-color="#fc3107"/><stop offset="0.489" stop-color="#fa1505"/><stop offset="0.502" stop-color="#e50b05"/><stop offset="0.515" stop-color="#cd0404"/><stop offset="0.527" stop-color="#b30202"/><stop offset="0.540" stop-color="#9c0000"/><stop offset="0.553" stop-color="#870000"/><stop offset="0.565" stop-color="#760000"/><stop offset="0.578" stop-color="#690000"/><stop offset="0.591" stop-color="#5f0000"/><stop offset="0.603" stop-color="#580000"/><stop offset="0.616" stop-color="#520101"/><stop offset="0.629" stop-color="#4d0101"/><stop offset="0.641" stop-color="#480101"/><stop offset="0.654" stop-color="#430101"/><stop offset="0.667" stop-color="#3e0202"/><stop offset="0.679" stop-color="#3a0202"/><stop offset="0.692" stop-color="#370202"/><stop offset="0.704" stop-color="#360202"/><stop offset="0.717" stop-color="#360202"/><stop offset="0.730" stop-color="#350101"/><stop offset="0.742" stop-color="#340101"/><stop offset="0.755" stop-color="#340101"/><stop offset="0.768" stop-color="#340101"/><stop offset="0.780" stop-color="#330101"/><stop offset="0.793" stop-color="#330101"/><stop offset="0.806" stop-color="#330101"/><stop offset="0.818" stop-color="#330101"/><stop offset="0.831" stop-color="#330101"/><stop offset="0.844" stop-color="#320101"/><stop offset="0.856" stop-color="#320101"/><stop offset="0.869" stop-color="#320101"/><stop offset="0.882" stop-color="#320101"/><stop offset="0.894" stop-color="#320101"/><stop offset="0.907" stop-color="#320101"/><stop offset="0.919" stop-color="#320101"/><stop offset="0.932" stop-color="#320101"/><stop offset="0.945" stop-color="#320101"/><stop offset="0.957" stop-color="#320101"/><stop offset="0.970" stop-color="#320101"/><stop offset="0.983" stop-color="#320101"/><stop offset="0.995" stop-color="#320101"/></linearGradient>
<linearGradient id="h51" gradientUnits="userSpaceOnUse" x1="75.9" y1="0" x2="313.1" y2="0"><stop offset="-0.004" stop-color="#320101"/><stop offset="0.009" stop-color="#320101"/><stop offset="0.022" stop-color="#320101"/><stop offset="0.034" stop-color="#320101"/><stop offset="0.047" stop-color="#320101"/><stop offset="0.059" stop-color="#320101"/><stop offset="0.072" stop-color="#320101"/><stop offset="0.085" stop-color="#320101"/><stop offset="0.097" stop-color="#320101"/><stop offset="0.110" stop-color="#330101"/><stop offset="0.123" stop-color="#330101"/><stop offset="0.135" stop-color="#330101"/><stop offset="0.148" stop-color="#330101"/><stop offset="0.161" stop-color="#340101"/><stop offset="0.173" stop-color="#340101"/><stop offset="0.186" stop-color="#350202"/><stop offset="0.199" stop-color="#360202"/><stop offset="0.211" stop-color="#380202"/><stop offset="0.224" stop-color="#3d0202"/><stop offset="0.237" stop-color="#450101"/><stop offset="0.249" stop-color="#500101"/><stop offset="0.262" stop-color="#5f0000"/><stop offset="0.274" stop-color="#770000"/><stop offset="0.287" stop-color="#960000"/><stop offset="0.300" stop-color="#b50202"/><stop offset="0.312" stop-color="#d60505"/><stop offset="0.325" stop-color="#ee0f05"/><stop offset="0.338" stop-color="#fb2306"/><stop offset="0.350" stop-color="#fe4109"/><stop offset="0.363" stop-color="#ff5f10"/><stop offset="0.376" stop-color="#ff7c1b"/><stop offset="0.388" stop-color="#ff9529"/><stop offset="0.401" stop-color="#ffa23c"/><stop offset="0.414" stop-color="#ffa541"/><stop offset="0.426" stop-color="#ff9e36"/><stop offset="0.439" stop-color="#ff8e22"/><stop offset="0.452" stop-color="#ff7217"/><stop offset="0.464" stop-color="#ff550c"/><stop offset="0.477" stop-color="#fd3708"/><stop offset="0.489" stop-color="#fb1b06"/><stop offset="0.502" stop-color="#e90d05"/><stop offset="0.515" stop-color="#d40505"/><stop offset="0.527" stop-color="#b80202"/><stop offset="0.540" stop-color="#a10000"/><stop offset="0.553" stop-color="#8b0000"/><stop offset="0.565" stop-color="#7a0000"/><stop offset="0.578" stop-color="#6c0000"/><stop offset="0.591" stop-color="#610000"/><stop offset="0.603" stop-color="#590000"/><stop offset="0.616" stop-color="#540000"/><stop offset="0.629" stop-color="#4e0101"/><stop offset="0.641" stop-color="#490101"/><stop offset="0.654" stop-color="#440101"/><stop offset="0.667" stop-color="#3f0202"/><stop offset="0.679" stop-color="#3b0202"/><stop offset="0.692" stop-color="#380202"/><stop offset="0.704" stop-color="#370202"/><stop offset="0.717" stop-color="#360202"/><stop offset="0.730" stop-color="#350101"/><stop offset="0.742" stop-color="#340101"/><stop offset="0.755" stop-color="#340101"/><stop offset="0.768" stop-color="#340101"/><stop offset="0.780" stop-color="#330101"/><stop offset="0.793" stop-color="#330101"/><stop offset="0.806" stop-color="#330101"/><stop offset="0.818" stop-color="#330101"/><stop offset="0.831" stop-color="#330101"/><stop offset="0.844" stop-color="#330101"/><stop offset="0.856" stop-color="#320101"/><stop offset="0.869" stop-color="#320101"/><stop offset="0.882" stop-color="#320101"/><stop offset="0.894" stop-color="#320101"/><stop offset="0.907" stop-color="#320101"/><stop offset="0.919" stop-color="#320101"/><stop offset="0.932" stop-color="#320101"/><stop offset="0.945" stop-color="#320101"/><stop offset="0.957" stop-color="#320101"/><stop offset="0.970" stop-color="#320101"/><stop offset="0.983" stop-color="#320101"/><stop offset="0.995" stop-color="#320101"/></linearGradient>
<linearGradient id="h52" gradientUnits="userSpaceOnUse" x1="75.9" y1="0" x2="313.1" y2="0"><stop offset="-0.004" stop-color="#320101"/><stop offset="0.009" stop-color="#320101"/><stop offset="0.022" stop-color="#320101"/><stop offset="0.034" stop-color="#320101"/><stop offset="0.047" stop-color="#320101"/><stop offset="0.059" stop-color="#320101"/><stop offset="0.072" stop-color="#320101"/><stop offset="0.085" stop-color="#320101"/><stop offset="0.097" stop-color="#320101"/><stop offset="0.110" stop-color="#330101"/><stop offset="0.123" stop-color="#330101"/><stop offset="0.135" stop-color="#330101"/><stop offset="0.148" stop-color="#330101"/><stop offset="0.161" stop-color="#340101"/><stop offset="0.173" stop-color="#340101"/><stop offset="0.186" stop-color="#350101"/><stop offset="0.199" stop-color="#360202"/><stop offset="0.211" stop-color="#370202"/><stop offset="0.224" stop-color="#3c0202"/><stop offset="0.237" stop-color="#440101"/><stop offset="0.249" stop-color="#4e0101"/><stop offset="0.262" stop-color="#5b0000"/><stop offset="0.274" stop-color="#720000"/><stop offset="0.287" stop-color="#8f0000"/><stop offset="0.300" stop-color="#ae0101"/><stop offset="0.312" stop-color="#ce0404"/><stop offset="0.325" stop-color="#e80c05"/><stop offset="0.338" stop-color="#fb1c06"/><stop offset="0.350" stop-color="#fd3908"/><stop offset="0.363" stop-color="#ff570d"/><stop offset="0.376" stop-color="#ff7418"/><stop offset="0.388" stop-color="#ff8f22"/><stop offset="0.401" stop-color="#ff9e37"/><stop offset="0.414" stop-color="#ffa43f"/><stop offset="0.426" stop-color="#ff9f38"/><stop offset="0.439" stop-color="#ff9124"/><stop offset="0.452" stop-color="#ff7719"/><stop offset="0.464" stop-color="#ff5a0e"/><stop offset="0.477" stop-color="#fd3d08"/><stop offset="0.489" stop-color="#fb2006"/><stop offset="0.502" stop-color="#ee0f05"/><stop offset="0.515" stop-color="#d90605"/><stop offset="0.527" stop-color="#be0303"/><stop offset="0.540" stop-color="#a60101"/><stop offset="0.553" stop-color="#900000"/><stop offset="0.565" stop-color="#7d0000"/><stop offset="0.578" stop-color="#6f0000"/><stop offset="0.591" stop-color="#640000"/><stop offset="0.603" stop-color="#5b0000"/><stop offset="0.616" stop-color="#550000"/><stop offset="0.629" stop-color="#4f0101"/><stop offset="0.641" stop-color="#4a0101"/><stop offset="0.654" stop-color="#450101"/><stop offset="0.667" stop-color="#400202"/><stop offset="0.679" stop-color="#3c0202"/><stop offset="0.692" stop-color="#380202"/><stop offset="0.704" stop-color="#370202"/><stop offset="0.717" stop-color="#360202"/><stop offset="0.730" stop-color="#350202"/><stop offset="0.742" stop-color="#350101"/><stop offset="0.755" stop-color="#340101"/><stop offset="0.768" stop-color="#340101"/><stop offset="0.780" stop-color="#330101"/><stop offset="0.793" stop-color="#330101"/><stop offset="0.806" stop-color="#330101"/><stop offset="0.818" stop-color="#330101"/><stop offset="0.831" stop-color="#330101"/><stop offset="0.844" stop-color="#330101"/><stop offset="0.856" stop-color="#320101"/><stop offset="0.869" stop-color="#320101"/><stop offset="0.882" stop-color="#320101"/><stop offset="0.894" stop-color="#320101"/><stop offset="0.907" stop-color="#320101"/><stop offset="0.919" stop-color="#320101"/><stop offset="0.932" stop-color="#320101"/><stop offset="0.945" stop-color="#320101"/><stop offset="0.957" stop-color="#320101"/><stop offset="0.970" stop-color="#320101"/><stop offset="0.983" stop-color="#320101"/><stop offset="0.995" stop-color="#320101"/></linearGradient>
<linearGradient id="h53" gradientUnits="userSpaceOnUse" x1="75.9" y1="0" x2="313.1" y2="0"><stop offset="-0.004" stop-color="#320101"/><stop offset="0.009" stop-color="#320101"/><stop offset="0.022" stop-color="#320101"/><stop offset="0.034" stop-color="#320101"/><stop offset="0.047" stop-color="#320101"/><stop offset="0.059" stop-color="#320101"/><stop offset="0.072" stop-color="#320101"/><stop offset="0.085" stop-color="#320101"/><stop offset="0.097" stop-color="#320101"/><stop offset="0.110" stop-color="#320101"/><stop offset="0.123" stop-color="#330101"/><stop offset="0.135" stop-color="#330101"/><stop offset="0.148" stop-color="#330101"/><stop offset="0.161" stop-color="#340101"/><stop offset="0.173" stop-color="#340101"/><stop offset="0.186" stop-color="#350101"/><stop offset="0.199" stop-color="#360202"/><stop offset="0.211" stop-color="#370202"/><stop offset="0.224" stop-color="#3b0202"/><stop offset="0.237" stop-color="#420101"/><stop offset="0.249" stop-color="#4c0101"/><stop offset="0.262" stop-color="#580000"/><stop offset="0.274" stop-color="#6d0000"/><stop offset="0.287" stop-color="#890000"/><stop offset="0.300" stop-color="#a80101"/><stop offset="0.312" stop-color="#c70404"/><stop offset="0.325" stop-color="#e30a05"/><stop offset="0.338" stop-color="#fa1505"/><stop offset="0.350" stop-color="#fc3107"/><stop offset="0.363" stop-color="#ff4f0a"/><stop offset="0.376" stop-color="#ff6c15"/><stop offset="0.388" stop-color="#ff871f"/><stop offset="0.401" stop-color="#ff9a30"/><stop offset="0.414" stop-color="#ffa13c"/><stop offset="0.426" stop-color="#ff9f38"/><stop offset="0.439" stop-color="#ff9427"/><stop offset="0.452" stop-color="#ff7c1b"/><stop offset="0.464" stop-color="#ff5f10"/><stop offset="0.477" stop-color="#fe4209"/><stop offset="0.489" stop-color="#fb2606"/><stop offset="0.502" stop-color="#f21105"/><stop offset="0.515" stop-color="#dd0805"/><stop offset="0.527" stop-color="#c30303"/><stop offset="0.540" stop-color="#ab0101"/><stop offset="0.553" stop-color="#950000"/><stop offset="0.565" stop-color="#810000"/><stop offset="0.578" stop-color="#720000"/><stop offset="0.591" stop-color="#660000"/><stop offset="0.603" stop-color="#5c0000"/><stop offset="0.616" stop-color="#560000"/><stop offset="0.629" stop-color="#510101"/><stop offset="0.641" stop-color="#4b0101"/><stop offset="0.654" stop-color="#460101"/><stop offset="0.667" stop-color="#410101"/><stop offset="0.679" stop-color="#3d0202"/><stop offset="0.692" stop-color="#390202"/><stop offset="0.704" stop-color="#370202"/><stop offset="0.717" stop-color="#360202"/><stop offset="0.730" stop-color="#350202"/><stop offset="0.742" stop-color="#350101"/><stop offset="0.755" stop-color="#340101"/><stop offset="0.768" stop-color="#340101"/><stop offset="0.780" stop-color="#330101"/><stop offset="0.793" stop-color="#330101"/><stop offset="0.806" stop-color="#330101"/><stop offset="0.818" stop-color="#330101"/><stop offset="0.831" stop-color="#330101"/><stop offset="0.844" stop-color="#330101"/><stop offset="0.856" stop-color="#320101"/><stop offset="0.869" stop-color="#320101"/><stop offset="0.882" stop-color="#320101"/><stop offset="0.894" stop-color="#320101"/><stop offset="0.907" stop-color="#320101"/><stop offset="0.919" stop-color="#320101"/><stop offset="0.932" stop-color="#320101"/><stop offset="0.945" stop-color="#320101"/><stop offset="0.957" stop-color="#320101"/><stop offset="0.970" stop-color="#320101"/><stop offset="0.983" stop-color="#320101"/><stop offset="0.995" stop-color="#320101"/></linearGradient>
<linearGradient id="h54" gradientUnits="userSpaceOnUse" x1="75.9" y1="0" x2="313.1" y2="0"><stop offset="-0.004" stop-color="#320101"/><stop offset="0.009" stop-color="#320101"/><stop offset="0.022" stop-color="#320101"/><stop offset="0.034" stop-color="#320101"/><stop offset="0.047" stop-color="#320101"/><stop offset="0.059" stop-color="#320101"/><stop offset="0.072" stop-color="#320101"/><stop offset="0.085" stop-color="#320101"/><stop offset="0.097" stop-color="#320101"/><stop offset="0.110" stop-color="#320101"/><stop offset="0.123" stop-color="#330101"/><stop offset="0.135" stop-color="#330101"/><stop offset="0.148" stop-color="#330101"/><stop offset="0.161" stop-color="#330101"/><stop offset="0.173" stop-color="#340101"/><stop offset="0.186" stop-color="#350101"/><stop offset="0.199" stop-color="#360202"/><stop offset="0.211" stop-color="#370202"/><stop offset="0.224" stop-color="#3a0202"/><stop offset="0.237" stop-color="#400202"/><stop offset="0.249" stop-color="#4a0101"/><stop offset="0.262" stop-color="#550000"/><stop offset="0.274" stop-color="#680000"/><stop offset="0.287" stop-color="#830000"/><stop offset="0.300" stop-color="#a20000"/><stop offset="0.312" stop-color="#c00303"/><stop offset="0.325" stop-color="#de0805"/><stop offset="0.338" stop-color="#f51205"/><stop offset="0.350" stop-color="#fc2a07"/><stop offset="0.363" stop-color="#fe4709"/><stop offset="0.376" stop-color="#ff6412"/><stop offset="0.388" stop-color="#ff801c"/><stop offset="0.401" stop-color="#ff9529"/><stop offset="0.414" stop-color="#ff9f38"/><stop offset="0.426" stop-color="#ff9f38"/><stop offset="0.439" stop-color="#ff952a"/><stop offset="0.452" stop-color="#ff801d"/><stop offset="0.464" stop-color="#ff6512"/><stop offset="0.477" stop-color="#fe4809"/><stop offset="0.489" stop-color="#fc2b07"/><stop offset="0.502" stop-color="#f71305"/><stop offset="0.515" stop-color="#e10905"/><stop offset="0.527" stop-color="#c90404"/><stop offset="0.540" stop-color="#b00101"/><stop offset="0.553" stop-color="#9a0000"/><stop offset="0.565" stop-color="#850000"/><stop offset="0.578" stop-color="#750000"/><stop offset="0.591" stop-color="#690000"/><stop offset="0.603" stop-color="#5e0000"/><stop offset="0.616" stop-color="#580000"/><stop offset="0.629" stop-color="#520101"/><stop offset="0.641" stop-color="#4d0101"/><stop offset="0.654" stop-color="#470101"/><stop offset="0.667" stop-color="#420101"/><stop offset="0.679" stop-color="#3e0202"/><stop offset="0.692" stop-color="#3a0202"/><stop offset="0.704" stop-color="#370202"/><stop offset="0.717" stop-color="#360202"/><stop offset="0.730" stop-color="#350202"/><stop offset="0.742" stop-color="#350101"/><stop offset="0.755" stop-color="#340101"/><stop offset="0.768" stop-color="#340101"/><stop offset="0.780" stop-color="#340101"/><stop offset="0.793" stop-color="#330101"/><stop offset="0.806" stop-color="#330101"/><stop offset="0.818" stop-color="#330101"/><stop offset="0.831" stop-color="#330101"/><stop offset="0.844" stop-color="#330101"/><stop offset="0.856" stop-color="#320101"/><stop offset="0.869" stop-color="#320101"/><stop offset="0.882" stop-color="#320101"/><stop offset="0.894" stop-color="#320101"/><stop offset="0.907" stop-color="#320101"/><stop offset="0.919" stop-color="#320101"/><stop offset="0.932" stop-color="#320101"/><stop offset="0.945" stop-color="#320101"/><stop offset="0.957" stop-color="#320101"/><stop offset="0.970" stop-color="#320101"/><stop offset="0.983" stop-color="#320101"/><stop offset="0.995" stop-color="#320101"/></linearGradient>
<linearGradient id="h55" gradientUnits="userSpaceOnUse" x1="75.9" y1="0" x2="313.1" y2="0"><stop offset="-0.004" stop-color="#320101"/><stop offset="0.009" stop-color="#320101"/><stop offset="0.022" stop-color="#320101"/><stop offset="0.034" stop-color="#320101"/><stop offset="0.047" stop-color="#320101"/><stop offset="0.059" stop-color="#320101"/><stop offset="0.072" stop-color="#320101"/><stop offset="0.085" stop-color="#320101"/><stop offset="0.097" stop-color="#320101"/><stop offset="0.110" stop-color="#320101"/><stop offset="0.123" stop-color="#330101"/><stop offset="0.135" stop-color="#330101"/><stop offset="0.148" stop-color="#330101"/><stop offset="0.161" stop-color="#330101"/><stop offset="0.173" stop-color="#340101"/><stop offset="0.186" stop-color="#350101"/><stop offset="0.199" stop-color="#350202"/><stop offset="0.211" stop-color="#370202"/><stop offset="0.224" stop-color="#380202"/><stop offset="0.237" stop-color="#3f0202"/><stop offset="0.249" stop-color="#480101"/><stop offset="0.262" stop-color="#530101"/><stop offset="0.274" stop-color="#630000"/><stop offset="0.287" stop-color="#7d0000"/><stop offset="0.300" stop-color="#9b0000"/><stop offset="0.312" stop-color="#b90202"/><stop offset="0.325" stop-color="#d90605"/><stop offset="0.338" stop-color="#ef0f05"/><stop offset="0.350" stop-color="#fb2306"/><stop offset="0.363" stop-color="#fe4009"/><stop offset="0.376" stop-color="#ff5c0f"/><stop offset="0.388" stop-color="#ff7819"/><stop offset="0.401" stop-color="#ff9023"/><stop offset="0.414" stop-color="#ff9c33"/><stop offset="0.426" stop-color="#ff9e37"/><stop offset="0.439" stop-color="#ff972c"/><stop offset="0.452" stop-color="#ff841e"/><stop offset="0.464" stop-color="#ff6a14"/><stop offset="0.477" stop-color="#ff4e0a"/><stop offset="0.489" stop-color="#fc3107"/><stop offset="0.502" stop-color="#fa1605"/><stop offset="0.515" stop-color="#e60b05"/><stop offset="0.527" stop-color="#cf0404"/><stop offset="0.540" stop-color="#b50202"/><stop offset="0.553" stop-color="#9f0000"/><stop offset="0.565" stop-color="#890000"/><stop offset="0.578" stop-color="#780000"/><stop offset="0.591" stop-color="#6b0000"/><stop offset="0.603" stop-color="#610000"/><stop offset="0.616" stop-color="#590000"/><stop offset="0.629" stop-color="#530000"/><stop offset="0.641" stop-color="#4e0101"/><stop offset="0.654" stop-color="#490101"/><stop offset="0.667" stop-color="#440101"/><stop offset="0.679" stop-color="#3f0202"/><stop offset="0.692" stop-color="#3b0202"/><stop offset="0.704" stop-color="#380202"/><stop offset="0.717" stop-color="#370202"/><stop offset="0.730" stop-color="#360202"/><stop offset="0.742" stop-color="#350101"/><stop offset="0.755" stop-color="#340101"/><stop offset="0.768" stop-color="#340101"/><stop offset="0.780" stop-color="#340101"/><stop offset="0.793" stop-color="#330101"/><stop offset="0.806" stop-color="#330101"/><stop offset="0.818" stop-color="#330101"/><stop offset="0.831" stop-color="#330101"/><stop offset="0.844" stop-color="#330101"/><stop offset="0.856" stop-color="#330101"/><stop offset="0.869" stop-color="#320101"/><stop offset="0.882" stop-color="#320101"/><stop offset="0.894" stop-color="#320101"/><stop offset="0.907" stop-color="#320101"/><stop offset="0.919" stop-color="#320101"/><stop offset="0.932" stop-color="#320101"/><stop offset="0.945" stop-color="#320101"/><stop offset="0.957" stop-color="#320101"/><stop offset="0.970" stop-color="#320101"/><stop offset="0.983" stop-color="#320101"/><stop offset="0.995" stop-color="#320101"/></linearGradient>
<linearGradient id="h56" gradientUnits="userSpaceOnUse" x1="75.9" y1="0" x2="313.1" y2="0"><stop offset="-0.004" stop-color="#320101"/><stop offset="0.009" stop-color="#320101"/><stop offset="0.022" stop-color="#320101"/><stop offset="0.034" stop-color="#320101"/><stop offset="0.047" stop-color="#320101"/><stop offset="0.059" stop-color="#320101"/><stop offset="0.072" stop-color="#320101"/><stop offset="0.085" stop-color="#320101"/><stop offset="0.097" stop-color="#320101"/><stop offset="0.110" stop-color="#320101"/><stop offset="0.123" stop-color="#330101"/><stop offset="0.135" stop-color="#330101"/><stop offset="0.148" stop-color="#330101"/><stop offset="0.161" stop-color="#330101"/><stop offset="0.173" stop-color="#340101"/><stop offset="0.186" stop-color="#340101"/><stop offset="0.199" stop-color="#350202"/><stop offset="0.211" stop-color="#360202"/><stop offset="0.224" stop-color="#380202"/><stop offset="0.237" stop-color="#3e0202"/><stop offset="0.249" stop-color="#460101"/><stop offset="0.262" stop-color="#500101"/><stop offset="0.274" stop-color="#5f0000"/><stop offset="0.287" stop-color="#770000"/><stop offset="0.300" stop-color="#950000"/><stop offset="0.312" stop-color="#b30202"/><stop offset="0.325" stop-color="#d20505"/><stop offset="0.338" stop-color="#ea0d05"/><stop offset="0.350" stop-color="#fb1c06"/><stop offset="0.363" stop-color="#fd3808"/><stop offset="0.376" stop-color="#ff550c"/><stop offset="0.388" stop-color="#ff7016"/><stop offset="0.401" stop-color="#ff8920"/><stop offset="0.414" stop-color="#ff982e"/><stop offset="0.426" stop-color="#ff9d34"/><stop offset="0.439" stop-color="#ff982d"/><stop offset="0.452" stop-color="#ff881f"/><stop offset="0.464" stop-color="#ff6e16"/><stop offset="0.477" stop-color="#ff530b"/><stop offset="0.489" stop-color="#fd3608"/><stop offset="0.502" stop-color="#fb1b06"/><stop offset="0.515" stop-color="#ea0d05"/><stop offset="0.527" stop-color="#d60505"/><stop offset="0.540" stop-color="#ba0202"/><stop offset="0.553" stop-color="#a40000"/><stop offset="0.565" stop-color="#8e0000"/><stop offset="0.578" stop-color="#7c0000"/><stop offset="0.591" stop-color="#6e0000"/><stop offset="0.603" stop-color="#630000"/><stop offset="0.616" stop-color="#5a0000"/><stop offset="0.629" stop-color="#550000"/><stop offset="0.641" stop-color="#4f0101"/><stop offset="0.654" stop-color="#4a0101"/><stop offset="0.667" stop-color="#450101"/><stop offset="0.679" stop-color="#400202"/><stop offset="0.692" stop-color="#3b0202"/><stop offset="0.704" stop-color="#380202"/><stop offset="0.717" stop-color="#370202"/><stop offset="0.730" stop-color="#360202"/><stop offset="0.742" stop-color="#350202"/><stop offset="0.755" stop-color="#350101"/><stop offset="0.768" stop-color="#340101"/><stop offset="0.780" stop-color="#340101"/><stop offset="0.793" stop-color="#330101"/><stop offset="0.806" stop-color="#330101"/><stop offset="0.818" stop-color="#330101"/><stop offset="0.831" stop-color="#330101"/><stop offset="0.844" stop-color="#330101"/><stop offset="0.856" stop-color="#330101"/><stop offset="0.869" stop-color="#320101"/><stop offset="0.882" stop-color="#320101"/><stop offset="0.894" stop-color="#320101"/><stop offset="0.907" stop-color="#320101"/><stop offset="0.919" stop-color="#320101"/><stop offset="0.932" stop-color="#320101"/><stop offset="0.945" stop-color="#320101"/><stop offset="0.957" stop-color="#320101"/><stop offset="0.970" stop-color="#320101"/><stop offset="0.983" stop-color="#320101"/><stop offset="0.995" stop-color="#320101"/></linearGradient>
<linearGradient id="h57" gradientUnits="userSpaceOnUse" x1="75.9" y1="0" x2="313.1" y2="0"><stop offset="-0.004" stop-color="#320101"/><stop offset="0.009" stop-color="#320101"/><stop offset="0.022" stop-color="#320101"/><stop offset="0.034" stop-color="#320101"/><stop offset="0.047" stop-color="#320101"/><stop offset="0.059" stop-color="#320101"/><stop offset="0.072" stop-color="#320101"/><stop offset="0.085" stop-color="#320101"/><stop offset="0.097" stop-color="#320101"/><stop offset="0.110" stop-color="#320101"/><stop offset="0.123" stop-color="#330101"/><stop offset="0.135" stop-color="#330101"/><stop offset="0.148" stop-color="#330101"/><stop offset="0.161" stop-color="#330101"/><stop offset="0.173" stop-color="#340101"/><stop offset="0.186" stop-color="#340101"/><stop offset="0.199" stop-color="#350101"/><stop offset="0.211" stop-color="#360202"/><stop offset="0.224" stop-color="#370202"/><stop offset="0.237" stop-color="#3c0202"/><stop offset="0.249" stop-color="#440101"/><stop offset="0.262" stop-color="#4e0101"/><stop offset="0.274" stop-color="#5b0000"/><stop offset="0.287" stop-color="#710000"/><stop offset="0.300" stop-color="#8d0000"/><stop offset="0.312" stop-color="#ac0101"/><stop offset="0.325" stop-color="#ca0404"/><stop offset="0.338" stop-color="#e40b05"/><stop offset="0.350" stop-color="#fa1505"/><stop offset="0.363" stop-color="#fc3107"/><stop offset="0.376" stop-color="#ff4d0a"/><stop offset="0.388" stop-color="#ff6813"/><stop offset="0.401" stop-color="#ff811d"/><stop offset="0.414" stop-color="#ff9428"/><stop offset="0.426" stop-color="#ff9b32"/><stop offset="0.439" stop-color="#ff982e"/><stop offset="0.452" stop-color="#ff8b21"/><stop offset="0.464" stop-color="#ff7318"/><stop offset="0.477" stop-color="#ff590d"/><stop offset="0.489" stop-color="#fd3c08"/><stop offset="0.502" stop-color="#fb2106"/><stop offset="0.515" stop-color="#ef0f05"/><stop offset="0.527" stop-color="#da0605"/><stop offset="0.540" stop-color="#c00303"/><stop offset="0.553" stop-color="#a90101"/><stop offset="0.565" stop-color="#930000"/><stop offset="0.578" stop-color="#800000"/><stop offset="0.591" stop-color="#710000"/><stop offset="0.603" stop-color="#650000"/><stop offset="0.616" stop-color="#5c0000"/><stop offset="0.629" stop-color="#560000"/><stop offset="0.641" stop-color="#500101"/><stop offset="0.654" stop-color="#4b0101"/><stop offset="0.667" stop-color="#460101"/><stop offset="0.679" stop-color="#410101"/><stop offset="0.692" stop-color="#3d0202"/><stop offset="0.704" stop-color="#390202"/><stop offset="0.717" stop-color="#370202"/><stop offset="0.730" stop-color="#360202"/><stop offset="0.742" stop-color="#350202"/><stop offset="0.755" stop-color="#350101"/><stop offset="0.768" stop-color="#340101"/><stop offset="0.780" stop-color="#340101"/><stop offset="0.793" stop-color="#330101"/><stop offset="0.806" stop-color="#330101"/><stop offset="0.818" stop-color="#330101"/><stop offset="0.831" stop-color="#330101"/><stop offset="0.844" stop-color="#330101"/><stop offset="0.856" stop-color="#330101"/><stop offset="0.869" stop-color="#320101"/><stop offset="0.882" stop-color="#320101"/><stop offset="0.894" stop-color="#320101"/><stop offset="0.907" stop-color="#320101"/><stop offset="0.919" stop-color="#320101"/><stop offset="0.932" stop-color="#320101"/><stop offset="0.945" stop-color="#320101"/><stop offset="0.957" stop-color="#320101"/><stop offset="0.970" stop-color="#320101"/><stop offset="0.983" stop-color="#320101"/><stop offset="0.995" stop-color="#320101"/></linearGradient>
<linearGradient id="h58" gradientUnits="userSpaceOnUse" x1="75.9" y1="0" x2="313.1" y2="0"><stop offset="-0.004" stop-color="#320101"/><stop offset="0.009" stop-color="#320101"/><stop offset="0.022" stop-color="#320101"/><stop offset="0.034" stop-color="#320101"/><stop offset="0.047" stop-color="#320101"/><stop offset="0.059" stop-color="#320101"/><stop offset="0.072" stop-color="#320101"/><stop offset="0.085" stop-color="#320101"/><stop offset="0.097" stop-color="#320101"/><stop offset="0.110" stop-color="#320101"/><stop offset="0.123" stop-color="#320101"/><stop offset="0.135" stop-color="#330101"/><stop offset="0.148" stop-color="#330101"/><stop offset="0.161" stop-color="#330101"/><stop offset="0.173" stop-color="#330101"/><stop offset="0.186" stop-color="#340101"/><stop offset="0.199" stop-color="#350101"/><stop offset="0.211" stop-color="#360202"/><stop offset="0.224" stop-color="#370202"/><stop offset="0.237" stop-color="#3a0202"/><stop offset="0.249" stop-color="#410202"/><stop offset="0.262" stop-color="#4a0101"/><stop offset="0.274" stop-color="#550000"/><stop offset="0.287" stop-color="#680000"/><stop offset="0.300" stop-color="#820000"/><stop offset="0.312" stop-color="#a00000"/><stop offset="0.325" stop-color="#bd0303"/><stop offset="0.338" stop-color="#db0705"/><stop offset="0.350" stop-color="#f11005"/><stop offset="0.363" stop-color="#fb2406"/><stop offset="0.376" stop-color="#fe4009"/><stop offset="0.388" stop-color="#ff5b0e"/><stop offset="0.401" stop-color="#ff7518"/><stop offset="0.414" stop-color="#ff8c21"/><stop offset="0.426" stop-color="#ff972c"/><stop offset="0.439" stop-color="#ff992e"/><stop offset="0.452" stop-color="#ff9123"/><stop offset="0.464" stop-color="#ff7c1b"/><stop offset="0.477" stop-color="#ff6311"/><stop offset="0.489" stop-color="#fe4709"/><stop offset="0.502" stop-color="#fc2b07"/><stop offset="0.515" stop-color="#f71305"/><stop offset="0.527" stop-color="#e20a05"/><stop offset="0.540" stop-color="#cb0404"/><stop offset="0.553" stop-color="#b20202"/><stop offset="0.565" stop-color="#9c0000"/><stop offset="0.578" stop-color="#870000"/><stop offset="0.591" stop-color="#770000"/><stop offset="0.603" stop-color="#6a0000"/><stop offset="0.616" stop-color="#600000"/><stop offset="0.629" stop-color="#580000"/><stop offset="0.641" stop-color="#530101"/><stop offset="0.654" stop-color="#4d0101"/><stop offset="0.667" stop-color="#480101"/><stop offset="0.679" stop-color="#430101"/><stop offset="0.692" stop-color="#3e0202"/><stop offset="0.704" stop-color="#3a0202"/><stop offset="0.717" stop-color="#370202"/><stop offset="0.730" stop-color="#360202"/><stop offset="0.742" stop-color="#360202"/><stop offset="0.755" stop-color="#350101"/><stop offset="0.768" stop-color="#340101"/><stop offset="0.780" stop-color="#340101"/><stop offset="0.793" stop-color="#340101"/><stop offset="0.806" stop-color="#330101"/><stop offset="0.818" stop-color="#330101"/><stop offset="0.831" stop-color="#330101"/><stop offset="0.844" stop-color="#330101"/><stop offset="0.856" stop-color="#330101"/><stop offset="0.869" stop-color="#330101"/><stop offset="0.882" stop-color="#320101"/><stop offset="0.894" stop-color="#320101"/><stop offset="0.907" stop-color="#320101"/><stop offset="0.919" stop-color="#320101"/><stop offset="0.932" stop-color="#320101"/><stop offset="0.945" stop-color="#320101"/><stop offset="0.957" stop-color="#320101"/><stop offset="0.970" stop-color="#320101"/><stop offset="0.983" stop-color="#320101"/><stop offset="0.995" stop-color="#320101"/></linearGradient>
<linearGradient id="h59" gradientUnits="userSpaceOnUse" x1="75.9" y1="0" x2="313.1" y2="0"><stop offset="-0.004" stop-color="#320101"/><stop offset="0.009" stop-color="#320101"/><stop offset="0.022" stop-color="#320101"/><stop offset="0.034" stop-color="#320101"/><stop offset="0.047" stop-color="#320101"/><stop offset="0.059" stop-color="#320101"/><stop offset="0.072" stop-color="#320101"/><stop offset="0.085" stop-color="#320101"/><stop offset="0.097" stop-color="#320101"/><stop offset="0.110" stop-color="#320101"/><stop offset="0.123" stop-color="#320101"/><stop offset="0.135" stop-color="#330101"/><stop offset="0.148" stop-color="#330101"/><stop offset="0.161" stop-color="#330101"/><stop offset="0.173" stop-color="#330101"/><stop offset="0.186" stop-color="#340101"/><stop offset="0.199" stop-color="#340101"/><stop offset="0.211" stop-color="#350202"/><stop offset="0.224" stop-color="#360202"/><stop offset="0.237" stop-color="#380202"/><stop offset="0.249" stop-color="#3d0202"/><stop offset="0.262" stop-color="#450101"/><stop offset="0.274" stop-color="#500101"/><stop offset="0.287" stop-color="#5e0000"/><stop offset="0.300" stop-color="#750000"/><stop offset="0.312" stop-color="#920000"/><stop offset="0.325" stop-color="#b00101"/><stop offset="0.338" stop-color="#ce0404"/><stop offset="0.350" stop-color="#e70c05"/><stop offset="0.363" stop-color="#fa1805"/><stop offset="0.376" stop-color="#fd3308"/><stop offset="0.388" stop-color="#ff4e0a"/><stop offset="0.401" stop-color="#ff6813"/><stop offset="0.414" stop-color="#ff801d"/><stop offset="0.426" stop-color="#ff9225"/><stop offset="0.439" stop-color="#ff972c"/><stop offset="0.452" stop-color="#ff9327"/><stop offset="0.464" stop-color="#ff841e"/><stop offset="0.477" stop-color="#ff6c15"/><stop offset="0.489" stop-color="#ff520b"/><stop offset="0.502" stop-color="#fd3608"/><stop offset="0.515" stop-color="#fb1b06"/><stop offset="0.527" stop-color="#ea0d05"/><stop offset="0.540" stop-color="#d60505"/><stop offset="0.553" stop-color="#bb0202"/><stop offset="0.565" stop-color="#a50000"/><stop offset="0.578" stop-color="#8f0000"/><stop offset="0.591" stop-color="#7d0000"/><stop offset="0.603" stop-color="#6f0000"/><stop offset="0.616" stop-color="#640000"/><stop offset="0.629" stop-color="#5b0000"/><stop offset="0.641" stop-color="#550000"/><stop offset="0.654" stop-color="#500101"/><stop offset="0.667" stop-color="#4a0101"/><stop offset="0.679" stop-color="#450101"/><stop offset="0.692" stop-color="#400202"/><stop offset="0.704" stop-color="#3c0202"/><stop offset="0.717" stop-color="#380202"/><stop offset="0.730" stop-color="#370202"/><stop offset="0.742" stop-color="#360202"/><stop offset="0.755" stop-color="#350202"/><stop offset="0.768" stop-color="#350101"/><stop offset="0.780" stop-color="#340101"/><stop offset="0.793" stop-color="#340101"/><stop offset="0.806" stop-color="#330101"/><stop offset="0.818" stop-color="#330101"/><stop offset="0.831" stop-color="#330101"/><stop offset="0.844" stop-color="#330101"/><stop offset="0.856" stop-color="#330101"/><stop offset="0.869" stop-color="#330101"/><stop offset="0.882" stop-color="#320101"/><stop offset="0.894" stop-color="#320101"/><stop offset="0.907" stop-color="#320101"/><stop offset="0.919" stop-color="#320101"/><stop offset="0.932" stop-color="#320101"/><stop offset="0.945" stop-color="#320101"/><stop offset="0.957" stop-color="#320101"/><stop offset="0.970" stop-color="#320101"/><stop offset="0.983" stop-color="#320101"/><stop offset="0.995" stop-color="#320101"/></linearGradient>
<linearGradient id="h60" gradientUnits="userSpaceOnUse" x1="75.9" y1="0" x2="313.1" y2="0"><stop offset="-0.004" stop-color="#320101"/><stop offset="0.009" stop-color="#320101"/><stop offset="0.022" stop-color="#320101"/><stop offset="0.034" stop-color="#320101"/><stop offset="0.047" stop-color="#320101"/><stop offset="0.059" stop-color="#320101"/><stop offset="0.072" stop-color="#320101"/><stop offset="0.085" stop-color="#320101"/><stop offset="0.097" stop-color="#320101"/><stop offset="0.110" stop-color="#320101"/><stop offset="0.123" stop-color="#320101"/><stop offset="0.135" stop-color="#320101"/><stop offset="0.148" stop-color="#330101"/><stop offset="0.161" stop-color="#330101"/><stop offset="0.173" stop-color="#330101"/><stop offset="0.186" stop-color="#340101"/><stop offset="0.199" stop-color="#340101"/><stop offset="0.211" stop-color="#350101"/><stop offset="0.224" stop-color="#360202"/><stop offset="0.237" stop-color="#370202"/><stop offset="0.249" stop-color="#3b0202"/><stop offset="0.262" stop-color="#420101"/><stop offset="0.274" stop-color="#4b0101"/><stop offset="0.287" stop-color="#570000"/><stop offset="0.300" stop-color="#6a0000"/><stop offset="0.312" stop-color="#840000"/><stop offset="0.325" stop-color="#a30000"/><stop offset="0.338" stop-color="#c00303"/><stop offset="0.350" stop-color="#dd0705"/><stop offset="0.363" stop-color="#f31105"/><stop offset="0.376" stop-color="#fb2606"/><stop offset="0.388" stop-color="#fe4109"/><stop offset="0.401" stop-color="#ff5b0e"/><stop offset="0.414" stop-color="#ff7418"/><stop offset="0.426" stop-color="#ff8920"/><stop offset="0.439" stop-color="#ff9428"/><stop offset="0.452" stop-color="#ff9428"/><stop offset="0.464" stop-color="#ff8a20"/><stop offset="0.477" stop-color="#ff7418"/><stop offset="0.489" stop-color="#ff5b0e"/><stop offset="0.502" stop-color="#fe4009"/><stop offset="0.515" stop-color="#fb2506"/><stop offset="0.527" stop-color="#f31105"/><stop offset="0.540" stop-color="#de0805"/><stop offset="0.553" stop-color="#c60303"/><stop offset="0.565" stop-color="#ad0101"/><stop offset="0.578" stop-color="#980000"/><stop offset="0.591" stop-color="#840000"/><stop offset="0.603" stop-color="#740000"/><stop offset="0.616" stop-color="#680000"/><stop offset="0.629" stop-color="#5e0000"/><stop offset="0.641" stop-color="#570000"/><stop offset="0.654" stop-color="#520101"/><stop offset="0.667" stop-color="#4d0101"/><stop offset="0.679" stop-color="#470101"/><stop offset="0.692" stop-color="#420101"/><stop offset="0.704" stop-color="#3e0202"/><stop offset="0.717" stop-color="#3a0202"/><stop offset="0.730" stop-color="#370202"/><stop offset="0.742" stop-color="#360202"/><stop offset="0.755" stop-color="#350202"/><stop offset="0.768" stop-color="#350101"/><stop offset="0.780" stop-color="#340101"/><stop offset="0.793" stop-color="#340101"/><stop offset="0.806" stop-color="#340101"/><stop offset="0.818" stop-color="#330101"/><stop offset="0.831" stop-color="#330101"/><stop offset="0.844" stop-color="#330101"/><stop offset="0.856" stop-color="#330101"/><stop offset="0.869" stop-color="#330101"/><stop offset="0.882" stop-color="#320101"/><stop offset="0.894" stop-color="#320101"/><stop offset="0.907" stop-color="#320101"/><stop offset="0.919" stop-color="#320101"/><stop offset="0.932" stop-color="#320101"/><stop offset="0.945" stop-color="#320101"/><stop offset="0.957" stop-color="#320101"/><stop offset="0.970" stop-color="#320101"/><stop offset="0.983" stop-color="#320101"/><stop offset="0.995" stop-color="#320101"/></linearGradient>
<linearGradient id="h61" gradientUnits="userSpaceOnUse" x1="75.9" y1="0" x2="313.1" y2="0"><stop offset="-0.004" stop-color="#320101"/><stop offset="0.009" stop-color="#320101"/><stop offset="0.022" stop-color="#320101"/><stop offset="0.034" stop-color="#320101"/><stop offset="0.047" stop-color="#320101"/><stop offset="0.059" stop-color="#320101"/><stop offset="0.072" stop-color="#320101"/><stop offset="0.085" stop-color="#320101"/><stop offset="0.097" stop-color="#320101"/><stop offset="0.110" stop-color="#320101"/><stop offset="0.123" stop-color="#320101"/><stop offset="0.135" stop-color="#320101"/><stop offset="0.148" stop-color="#330101"/><stop offset="0.161" stop-color="#330101"/><stop offset="0.173" stop-color="#330101"/><stop offset="0.186" stop-color="#330101"/><stop offset="0.199" stop-color="#340101"/><stop offset="0.211" stop-color="#340101"/><stop offset="0.224" stop-color="#350202"/><stop offset="0.237" stop-color="#360202"/><stop offset="0.249" stop-color="#380202"/><stop offset="0.262" stop-color="#3e0202"/><stop offset="0.274" stop-color="#470101"/><stop offset="0.287" stop-color="#510101"/><stop offset="0.300" stop-color="#600000"/><stop offset="0.312" stop-color="#780000"/><stop offset="0.325" stop-color="#950000"/><stop offset="0.338" stop-color="#b20202"/><stop offset="0.350" stop-color="#d10404"/><stop offset="0.363" stop-color="#e80c05"/><stop offset="0.376" stop-color="#fa1905"/><stop offset="0.388" stop-color="#fd3408"/><stop offset="0.401" stop-color="#ff4f0a"/><stop offset="0.414" stop-color="#ff6813"/><stop offset="0.426" stop-color="#ff7f1c"/><stop offset="0.439" stop-color="#ff8f22"/><stop offset="0.452" stop-color="#ff9427"/><stop offset="0.464" stop-color="#ff8d22"/><stop offset="0.477" stop-color="#ff7c1b"/><stop offset="0.489" stop-color="#ff6412"/><stop offset="0.502" stop-color="#ff4a0a"/><stop offset="0.515" stop-color="#fc2f07"/><stop offset="0.527" stop-color="#fa1505"/><stop offset="0.540" stop-color="#e60b05"/><stop offset="0.553" stop-color="#d00404"/><stop offset="0.565" stop-color="#b70202"/><stop offset="0.578" stop-color="#a10000"/><stop offset="0.591" stop-color="#8b0000"/><stop offset="0.603" stop-color="#7a0000"/><stop offset="0.616" stop-color="#6d0000"/><stop offset="0.629" stop-color="#620000"/><stop offset="0.641" stop-color="#5a0000"/><stop offset="0.654" stop-color="#540000"/><stop offset="0.667" stop-color="#4f0101"/><stop offset="0.679" stop-color="#4a0101"/><stop offset="0.692" stop-color="#440101"/><stop offset="0.704" stop-color="#400202"/><stop offset="0.717" stop-color="#3b0202"/><stop offset="0.730" stop-color="#380202"/><stop offset="0.742" stop-color="#370202"/><stop offset="0.755" stop-color="#360202"/><stop offset="0.768" stop-color="#350202"/><stop offset="0.780" stop-color="#340101"/><stop offset="0.793" stop-color="#340101"/><stop offset="0.806" stop-color="#340101"/><stop offset="0.818" stop-color="#330101"/><stop offset="0.831" stop-color="#330101"/><stop offset="0.844" stop-color="#330101"/><stop offset="0.856" stop-color="#330101"/><stop offset="0.869" stop-color="#330101"/><stop offset="0.882" stop-color="#330101"/><stop offset="0.894" stop-color="#320101"/><stop offset="0.907" stop-color="#320101"/><stop offset="0.919" stop-color="#320101"/><stop offset="0.932" stop-color="#320101"/><stop offset="0.945" stop-color="#320101"/><stop offset="0.957" stop-color="#320101"/><stop offset="0.970" stop-color="#320101"/><stop offset="0.983" stop-color="#320101"/><stop offset="0.995" stop-color="#320101"/></linearGradient>
<linearGradient id="h62" gradientUnits="userSpaceOnUse" x1="75.9" y1="0" x2="313.1" y2="0"><stop offset="-0.004" stop-color="#320101"/><stop offset="0.009" stop-color="#320101"/><stop offset="0.022" stop-color="#320101"/><stop offset="0.034" stop-color="#320101"/><stop offset="0.047" stop-color="#320101"/><stop offset="0.059" stop-color="#320101"/><stop offset="0.072" stop-color="#320101"/><stop offset="0.085" stop-color="#320101"/><stop offset="0.097" stop-color="#320101"/><stop offset="0.110" stop-color="#320101"/><stop offset="0.123" stop-color="#320101"/><stop offset="0.135" stop-color="#320101"/><stop offset="0.148" stop-color="#320101"/><stop offset="0.161" stop-color="#330101"/><stop offset="0.173" stop-color="#330101"/><stop offset="0.186" stop-color="#330101"/><stop offset="0.199" stop-color="#340101"/><stop offset="0.211" stop-color="#340101"/><stop offset="0.224" stop-color="#350101"/><stop offset="0.237" stop-color="#360202"/><stop offset="0.249" stop-color="#370202"/><stop offset="0.262" stop-color="#3b0202"/><stop offset="0.274" stop-color="#430101"/><stop offset="0.287" stop-color="#4c0101"/><stop offset="0.300" stop-color="#580000"/><stop offset="0.312" stop-color="#6d0000"/><stop offset="0.325" stop-color="#870000"/><stop offset="0.338" stop-color="#a50000"/><stop offset="0.350" stop-color="#c20303"/><stop offset="0.363" stop-color="#de0805"/><stop offset="0.376" stop-color="#f41105"/><stop offset="0.388" stop-color="#fc2707"/><stop offset="0.401" stop-color="#fe4209"/><stop offset="0.414" stop-color="#ff5c0e"/><stop offset="0.426" stop-color="#ff7418"/><stop offset="0.439" stop-color="#ff871f"/><stop offset="0.452" stop-color="#ff9224"/><stop offset="0.464" stop-color="#ff9023"/><stop offset="0.477" stop-color="#ff821d"/><stop offset="0.489" stop-color="#ff6d15"/><stop offset="0.502" stop-color="#ff540c"/><stop offset="0.515" stop-color="#fd3908"/><stop offset="0.527" stop-color="#fb1f06"/><stop offset="0.540" stop-color="#ee0f05"/><stop offset="0.553" stop-color="#da0605"/><stop offset="0.565" stop-color="#c00303"/><stop offset="0.578" stop-color="#a90101"/><stop offset="0.591" stop-color="#940000"/><stop offset="0.603" stop-color="#810000"/><stop offset="0.616" stop-color="#720000"/><stop offset="0.629" stop-color="#660000"/><stop offset="0.641" stop-color="#5d0000"/><stop offset="0.654" stop-color="#570000"/><stop offset="0.667" stop-color="#510101"/><stop offset="0.679" stop-color="#4c0101"/><stop offset="0.692" stop-color="#470101"/><stop offset="0.704" stop-color="#420101"/><stop offset="0.717" stop-color="#3d0202"/><stop offset="0.730" stop-color="#390202"/><stop offset="0.742" stop-color="#370202"/><stop offset="0.755" stop-color="#360202"/><stop offset="0.768" stop-color="#350202"/><stop offset="0.780" stop-color="#350101"/><stop offset="0.793" stop-color="#340101"/><stop offset="0.806" stop-color="#340101"/><stop offset="0.818" stop-color="#330101"/><stop offset="0.831" stop-color="#330101"/><stop offset="0.844" stop-color="#330101"/><stop offset="0.856" stop-color="#330101"/><stop offset="0.869" stop-color="#330101"/><stop offset="0.882" stop-color="#330101"/><stop offset="0.894" stop-color="#320101"/><stop offset="0.907" stop-color="#320101"/><stop offset="0.919" stop-color="#320101"/><stop offset="0.932" stop-color="#320101"/><stop offset="0.945" stop-color="#320101"/><stop offset="0.957" stop-color="#320101"/><stop offset="0.970" stop-color="#320101"/><stop offset="0.983" stop-color="#320101"/><stop offset="0.995" stop-color="#320101"/></linearGradient>
<linearGradient id="h63" gradientUnits="userSpaceOnUse" x1="75.9" y1="0" x2="313.1" y2="0"><stop offset="-0.004" stop-color="#320101"/><stop offset="0.009" stop-color="#320101"/><stop offset="0.022" stop-color="#320101"/><stop offset="0.034" stop-color="#320101"/><stop offset="0.047" stop-color="#320101"/><stop offset="0.059" stop-color="#320101"/><stop offset="0.072" stop-color="#320101"/><stop offset="0.085" stop-color="#320101"/><stop offset="0.097" stop-color="#320101"/><stop offset="0.110" stop-color="#320101"/><stop offset="0.123" stop-color="#320101"/><stop offset="0.135" stop-color="#320101"/><stop offset="0.148" stop-color="#320101"/><stop offset="0.161" stop-color="#330101"/><stop offset="0.173" stop-color="#330101"/><stop offset="0.186" stop-color="#330101"/><stop offset="0.199" stop-color="#330101"/><stop offset="0.211" stop-color="#340101"/><stop offset="0.224" stop-color="#350101"/><stop offset="0.237" stop-color="#350202"/><stop offset="0.249" stop-color="#370202"/><stop offset="0.262" stop-color="#390202"/><stop offset="0.274" stop-color="#3f0202"/><stop offset="0.287" stop-color="#480101"/><stop offset="0.300" stop-color="#530101"/><stop offset="0.312" stop-color="#620000"/><stop offset="0.325" stop-color="#7b0000"/><stop offset="0.338" stop-color="#980000"/><stop offset="0.350" stop-color="#b50202"/><stop offset="0.363" stop-color="#d30505"/><stop offset="0.376" stop-color="#ea0d05"/><stop offset="0.388" stop-color="#fb1b06"/><stop offset="0.401" stop-color="#fd3508"/><stop offset="0.414" stop-color="#ff4f0a"/><stop offset="0.426" stop-color="#ff6813"/><stop offset="0.439" stop-color="#ff7e1c"/><stop offset="0.452" stop-color="#ff8d22"/><stop offset="0.464" stop-color="#ff9123"/><stop offset="0.477" stop-color="#ff881f"/><stop offset="0.489" stop-color="#ff7518"/><stop offset="0.502" stop-color="#ff5d0f"/><stop offset="0.515" stop-color="#fe4309"/><stop offset="0.527" stop-color="#fc2907"/><stop offset="0.540" stop-color="#f61205"/><stop offset="0.553" stop-color="#e20a05"/><stop offset="0.565" stop-color="#cb0404"/><stop offset="0.578" stop-color="#b20202"/><stop offset="0.591" stop-color="#9d0000"/><stop offset="0.603" stop-color="#880000"/><stop offset="0.616" stop-color="#780000"/><stop offset="0.629" stop-color="#6b0000"/><stop offset="0.641" stop-color="#610000"/><stop offset="0.654" stop-color="#590000"/><stop offset="0.667" stop-color="#530000"/><stop offset="0.679" stop-color="#4e0101"/><stop offset="0.692" stop-color="#490101"/><stop offset="0.704" stop-color="#440101"/><stop offset="0.717" stop-color="#3f0202"/><stop offset="0.730" stop-color="#3b0202"/><stop offset="0.742" stop-color="#380202"/><stop offset="0.755" stop-color="#370202"/><stop offset="0.768" stop-color="#360202"/><stop offset="0.780" stop-color="#350101"/><stop offset="0.793" stop-color="#340101"/><stop offset="0.806" stop-color="#340101"/><stop offset="0.818" stop-color="#340101"/><stop offset="0.831" stop-color="#330101"/><stop offset="0.844" stop-color="#330101"/><stop offset="0.856" stop-color="#330101"/><stop offset="0.869" stop-color="#330101"/><stop offset="0.882" stop-color="#330101"/><stop offset="0.894" stop-color="#330101"/><stop offset="0.907" stop-color="#320101"/><stop offset="0.919" stop-color="#320101"/><stop offset="0.932" stop-color="#320101"/><stop offset="0.945" stop-color="#320101"/><stop offset="0.957" stop-color="#320101"/><stop offset="0.970" stop-color="#320101"/><stop offset="0.983" stop-color="#320101"/><stop offset="0.995" stop-color="#320101"/></linearGradient>
<linearGradient id="h64" gradientUnits="userSpaceOnUse" x1="75.9" y1="0" x2="313.1" y2="0"><stop offset="-0.004" stop-color="#320101"/><stop offset="0.009" stop-color="#320101"/><stop offset="0.022" stop-color="#320101"/><stop offset="0.034" stop-color="#320101"/><stop offset="0.047" stop-color="#320101"/><stop offset="0.059" stop-color="#320101"/><stop offset="0.072" stop-color="#320101"/><stop offset="0.085" stop-color="#320101"/><stop offset="0.097" stop-color="#320101"/><stop offset="0.110" stop-color="#320101"/><stop offset="0.123" stop-color="#320101"/><stop offset="0.135" stop-color="#320101"/><stop offset="0.148" stop-color="#320101"/><stop offset="0.161" stop-color="#320101"/><stop offset="0.173" stop-color="#330101"/><stop offset="0.186" stop-color="#330101"/><stop offset="0.199" stop-color="#330101"/><stop offset="0.211" stop-color="#340101"/><stop offset="0.224" stop-color="#340101"/><stop offset="0.237" stop-color="#350101"/><stop offset="0.249" stop-color="#360202"/><stop offset="0.262" stop-color="#370202"/><stop offset="0.274" stop-color="#3b0202"/><stop offset="0.287" stop-color="#420101"/><stop offset="0.300" stop-color="#4c0101"/><stop offset="0.312" stop-color="#580000"/><stop offset="0.325" stop-color="#6b0000"/><stop offset="0.338" stop-color="#850000"/><stop offset="0.350" stop-color="#a30000"/><stop offset="0.363" stop-color="#c00303"/><stop offset="0.376" stop-color="#dc0705"/><stop offset="0.388" stop-color="#f21005"/><stop offset="0.401" stop-color="#fb2406"/><stop offset="0.414" stop-color="#fe3e09"/><stop offset="0.426" stop-color="#ff580d"/><stop offset="0.439" stop-color="#ff7016"/><stop offset="0.452" stop-color="#ff841e"/><stop offset="0.464" stop-color="#ff8e22"/><stop offset="0.477" stop-color="#ff8c21"/><stop offset="0.489" stop-color="#ff7f1c"/><stop offset="0.502" stop-color="#ff6a14"/><stop offset="0.515" stop-color="#ff520b"/><stop offset="0.527" stop-color="#fd3708"/><stop offset="0.540" stop-color="#fb1d06"/><stop offset="0.553" stop-color="#ed0e05"/><stop offset="0.565" stop-color="#d90605"/><stop offset="0.578" stop-color="#bf0303"/><stop offset="0.591" stop-color="#a80101"/><stop offset="0.603" stop-color="#930000"/><stop offset="0.616" stop-color="#800000"/><stop offset="0.629" stop-color="#720000"/><stop offset="0.641" stop-color="#660000"/><stop offset="0.654" stop-color="#5d0000"/><stop offset="0.667" stop-color="#570000"/><stop offset="0.679" stop-color="#510101"/><stop offset="0.692" stop-color="#4c0101"/><stop offset="0.704" stop-color="#470101"/><stop offset="0.717" stop-color="#420101"/><stop offset="0.730" stop-color="#3d0202"/><stop offset="0.742" stop-color="#390202"/><stop offset="0.755" stop-color="#370202"/><stop offset="0.768" stop-color="#360202"/><stop offset="0.780" stop-color="#350202"/><stop offset="0.793" stop-color="#350101"/><stop offset="0.806" stop-color="#340101"/><stop offset="0.818" stop-color="#340101"/><stop offset="0.831" stop-color="#330101"/><stop offset="0.844" stop-color="#330101"/><stop offset="0.856" stop-color="#330101"/><stop offset="0.869" stop-color="#330101"/><stop offset="0.882" stop-color="#330101"/><stop offset="0.894" stop-color="#330101"/><stop offset="0.907" stop-color="#320101"/><stop offset="0.919" stop-color="#320101"/><stop offset="0.932" stop-color="#320101"/><stop offset="0.945" stop-color="#320101"/><stop offset="0.957" stop-color="#320101"/><stop offset="0.970" stop-color="#320101"/><stop offset="0.983" stop-color="#320101"/><stop offset="0.995" stop-color="#320101"/></linearGradient>
<linearGradient id="h65" gradientUnits="userSpaceOnUse" x1="75.9" y1="0" x2="313.1" y2="0"><stop offset="-0.004" stop-color="#320101"/><stop offset="0.009" stop-color="#320101"/><stop offset="0.022" stop-color="#320101"/><stop offset="0.034" stop-color="#320101"/><stop offset="0.047" stop-color="#320101"/><stop offset="0.059" stop-color="#320101"/><stop offset="0.072" stop-color="#320101"/><stop offset="0.085" stop-color="#320101"/><stop offset="0.097" stop-color="#320101"/><stop offset="0.110" stop-color="#320101"/><stop offset="0.123" stop-color="#320101"/><stop offset="0.135" stop-color="#320101"/><stop offset="0.148" stop-color="#320101"/><stop offset="0.161" stop-color="#320101"/><stop offset="0.173" stop-color="#330101"/><stop offset="0.186" stop-color="#330101"/><stop offset="0.199" stop-color="#330101"/><stop offset="0.211" stop-color="#330101"/><stop offset="0.224" stop-color="#340101"/><stop offset="0.237" stop-color="#340101"/><stop offset="0.249" stop-color="#350202"/><stop offset="0.262" stop-color="#360202"/><stop offset="0.274" stop-color="#380202"/><stop offset="0.287" stop-color="#3c0202"/><stop offset="0.300" stop-color="#440101"/><stop offset="0.312" stop-color="#4e0101"/><stop offset="0.325" stop-color="#5a0000"/><stop offset="0.338" stop-color="#700000"/><stop offset="0.350" stop-color="#8b0000"/><stop offset="0.363" stop-color="#a80101"/><stop offset="0.376" stop-color="#c50303"/><stop offset="0.388" stop-color="#e00905"/><stop offset="0.401" stop-color="#f51205"/><stop offset="0.414" stop-color="#fc2807"/><stop offset="0.426" stop-color="#fe4209"/><stop offset="0.439" stop-color="#ff5c0f"/><stop offset="0.452" stop-color="#ff7317"/><stop offset="0.464" stop-color="#ff851e"/><stop offset="0.477" stop-color="#ff8d21"/><stop offset="0.489" stop-color="#ff8920"/><stop offset="0.502" stop-color="#ff7a1a"/><stop offset="0.515" stop-color="#ff6412"/><stop offset="0.527" stop-color="#ff4b0a"/><stop offset="0.540" stop-color="#fc3007"/><stop offset="0.553" stop-color="#fa1705"/><stop offset="0.565" stop-color="#e80c05"/><stop offset="0.578" stop-color="#d40505"/><stop offset="0.591" stop-color="#ba0202"/><stop offset="0.603" stop-color="#a40000"/><stop offset="0.616" stop-color="#8e0000"/><stop offset="0.629" stop-color="#7d0000"/><stop offset="0.641" stop-color="#6f0000"/><stop offset="0.654" stop-color="#640000"/><stop offset="0.667" stop-color="#5b0000"/><stop offset="0.679" stop-color="#550000"/><stop offset="0.692" stop-color="#500101"/><stop offset="0.704" stop-color="#4b0101"/><stop offset="0.717" stop-color="#460101"/><stop offset="0.730" stop-color="#410202"/><stop offset="0.742" stop-color="#3c0202"/><stop offset="0.755" stop-color="#380202"/><stop offset="0.768" stop-color="#370202"/><stop offset="0.780" stop-color="#360202"/><stop offset="0.793" stop-color="#350202"/><stop offset="0.806" stop-color="#350101"/><stop offset="0.818" stop-color="#340101"/><stop offset="0.831" stop-color="#340101"/><stop offset="0.844" stop-color="#330101"/><stop offset="0.856" stop-color="#330101"/><stop offset="0.869" stop-color="#330101"/><stop offset="0.882" stop-color="#330101"/><stop offset="0.894" stop-color="#330101"/><stop offset="0.907" stop-color="#330101"/><stop offset="0.919" stop-color="#320101"/><stop offset="0.932" stop-color="#320101"/><stop offset="0.945" stop-color="#320101"/><stop offset="0.957" stop-color="#320101"/><stop offset="0.970" stop-color="#320101"/><stop offset="0.983" stop-color="#320101"/><stop offset="0.995" stop-color="#320101"/></linearGradient>
<linearGradient id="h66" gradientUnits="userSpaceOnUse" x1="75.9" y1="0" x2="313.1" y2="0"><stop offset="-0.004" stop-color="#320101"/><stop offset="0.009" stop-color="#320101"/><stop offset="0.022" stop-color="#320101"/><stop offset="0.034" stop-color="#320101"/><stop offset="0.047" stop-color="#320101"/><stop offset="0.059" stop-color="#320101"/><stop offset="0.072" stop-color="#320101"/><stop offset="0.085" stop-color="#320101"/><stop offset="0.097" stop-color="#320101"/><stop offset="0.110" stop-color="#320101"/><stop offset="0.123" stop-color="#320101"/><stop offset="0.135" stop-color="#320101"/><stop offset="0.148" stop-color="#320101"/><stop offset="0.161" stop-color="#320101"/><stop offset="0.173" stop-color="#320101"/><stop offset="0.186" stop-color="#330101"/><stop offset="0.199" stop-color="#330101"/><stop offset="0.211" stop-color="#330101"/><stop offset="0.224" stop-color="#330101"/><stop offset="0.237" stop-color="#340101"/><stop offset="0.249" stop-color="#340101"/><stop offset="0.262" stop-color="#350202"/><stop offset="0.274" stop-color="#360202"/><stop offset="0.287" stop-color="#380202"/><stop offset="0.300" stop-color="#3e0202"/><stop offset="0.312" stop-color="#460101"/><stop offset="0.325" stop-color="#500101"/><stop offset="0.338" stop-color="#5d0000"/><stop offset="0.350" stop-color="#740000"/><stop offset="0.363" stop-color="#900000"/><stop offset="0.376" stop-color="#ad0101"/><stop offset="0.388" stop-color="#ca0404"/><stop offset="0.401" stop-color="#e30a05"/><stop offset="0.414" stop-color="#f91305"/><stop offset="0.426" stop-color="#fc2c07"/><stop offset="0.439" stop-color="#fe4609"/><stop offset="0.452" stop-color="#ff5f10"/><stop offset="0.464" stop-color="#ff7518"/><stop offset="0.477" stop-color="#ff861f"/><stop offset="0.489" stop-color="#ff8b21"/><stop offset="0.502" stop-color="#ff851e"/><stop offset="0.515" stop-color="#ff7418"/><stop offset="0.527" stop-color="#ff5d0f"/><stop offset="0.540" stop-color="#fe4409"/><stop offset="0.553" stop-color="#fc2907"/><stop offset="0.565" stop-color="#f71305"/><stop offset="0.578" stop-color="#e30a05"/><stop offset="0.591" stop-color="#cd0404"/><stop offset="0.603" stop-color="#b40202"/><stop offset="0.616" stop-color="#9f0000"/><stop offset="0.629" stop-color="#8a0000"/><stop offset="0.641" stop-color="#7a0000"/><stop offset="0.654" stop-color="#6d0000"/><stop offset="0.667" stop-color="#620000"/><stop offset="0.679" stop-color="#5a0000"/><stop offset="0.692" stop-color="#540000"/><stop offset="0.704" stop-color="#4f0101"/><stop offset="0.717" stop-color="#4a0101"/><stop offset="0.730" stop-color="#450101"/><stop offset="0.742" stop-color="#400202"/><stop offset="0.755" stop-color="#3b0202"/><stop offset="0.768" stop-color="#380202"/><stop offset="0.780" stop-color="#370202"/><stop offset="0.793" stop-color="#360202"/><stop offset="0.806" stop-color="#350202"/><stop offset="0.818" stop-color="#340101"/><stop offset="0.831" stop-color="#340101"/><stop offset="0.844" stop-color="#340101"/><stop offset="0.856" stop-color="#330101"/><stop offset="0.869" stop-color="#330101"/><stop offset="0.882" stop-color="#330101"/><stop offset="0.894" stop-color="#330101"/><stop offset="0.907" stop-color="#330101"/><stop offset="0.919" stop-color="#330101"/><stop offset="0.932" stop-color="#320101"/><stop offset="0.945" stop-color="#320101"/><stop offset="0.957" stop-color="#320101"/><stop offset="0.970" stop-color="#320101"/><stop offset="0.983" stop-color="#320101"/><stop offset="0.995" stop-color="#320101"/></linearGradient>
<linearGradient id="h67" gradientUnits="userSpaceOnUse" x1="75.9" y1="0" x2="313.1" y2="0"><stop offset="-0.004" stop-color="#320101"/><stop offset="0.009" stop-color="#320101"/><stop offset="0.022" stop-color="#320101"/><stop offset="0.034" stop-color="#320101"/><stop offset="0.047" stop-color="#320101"/><stop offset="0.059" stop-color="#320101"/><stop offset="0.072" stop-color="#320101"/><stop offset="0.085" stop-color="#320101"/><stop offset="0.097" stop-color="#320101"/><stop offset="0.110" stop-color="#320101"/><stop offset="0.123" stop-color="#320101"/><stop offset="0.135" stop-color="#320101"/><stop offset="0.148" stop-color="#320101"/><stop offset="0.161" stop-color="#320101"/><stop offset="0.173" stop-color="#320101"/><stop offset="0.186" stop-color="#320101"/><stop offset="0.199" stop-color="#330101"/><stop offset="0.211" stop-color="#330101"/><stop offset="0.224" stop-color="#330101"/><stop offset="0.237" stop-color="#330101"/><stop offset="0.249" stop-color="#340101"/><stop offset="0.262" stop-color="#350101"/><stop offset="0.274" stop-color="#350202"/><stop offset="0.287" stop-color="#370202"/><stop offset="0.300" stop-color="#390202"/><stop offset="0.312" stop-color="#3f0202"/><stop offset="0.325" stop-color="#470101"/><stop offset="0.338" stop-color="#520101"/><stop offset="0.350" stop-color="#610000"/><stop offset="0.363" stop-color="#790000"/><stop offset="0.376" stop-color="#950000"/><stop offset="0.388" stop-color="#b20202"/><stop offset="0.401" stop-color="#cf0404"/><stop offset="0.414" stop-color="#e70c05"/><stop offset="0.426" stop-color="#fa1705"/><stop offset="0.439" stop-color="#fc3007"/><stop offset="0.452" stop-color="#ff4b0a"/><stop offset="0.464" stop-color="#ff6412"/><stop offset="0.477" stop-color="#ff7a1a"/><stop offset="0.489" stop-color="#ff8920"/><stop offset="0.502" stop-color="#ff8d21"/><stop offset="0.515" stop-color="#ff831e"/><stop offset="0.527" stop-color="#ff7016"/><stop offset="0.540" stop-color="#ff580d"/><stop offset="0.553" stop-color="#fd3e08"/><stop offset="0.565" stop-color="#fb2306"/><stop offset="0.578" stop-color="#f21105"/><stop offset="0.591" stop-color="#de0805"/><stop offset="0.603" stop-color="#c70404"/><stop offset="0.616" stop-color="#af0101"/><stop offset="0.629" stop-color="#9a0000"/><stop offset="0.641" stop-color="#860000"/><stop offset="0.654" stop-color="#770000"/><stop offset="0.667" stop-color="#6a0000"/><stop offset="0.679" stop-color="#600000"/><stop offset="0.692" stop-color="#590000"/><stop offset="0.704" stop-color="#530000"/><stop offset="0.717" stop-color="#4e0101"/><stop offset="0.730" stop-color="#490101"/><stop offset="0.742" stop-color="#440101"/><stop offset="0.755" stop-color="#3f0202"/><stop offset="0.768" stop-color="#3b0202"/><stop offset="0.780" stop-color="#380202"/><stop offset="0.793" stop-color="#370202"/><stop offset="0.806" stop-color="#360202"/><stop offset="0.818" stop-color="#350101"/><stop offset="0.831" stop-color="#340101"/><stop offset="0.844" stop-color="#340101"/><stop offset="0.856" stop-color="#340101"/><stop offset="0.869" stop-color="#330101"/><stop offset="0.882" stop-color="#330101"/><stop offset="0.894" stop-color="#330101"/><stop offset="0.907" stop-color="#330101"/><stop offset="0.919" stop-color="#330101"/><stop offset="0.932" stop-color="#330101"/><stop offset="0.945" stop-color="#320101"/><stop offset="0.957" stop-color="#320101"/><stop offset="0.970" stop-color="#320101"/><stop offset="0.983" stop-color="#320101"/><stop offset="0.995" stop-color="#320101"/></linearGradient>
<linearGradient id="h68" gradientUnits="userSpaceOnUse" x1="75.9" y1="0" x2="313.1" y2="0"><stop offset="-0.004" stop-color="#320101"/><stop offset="0.009" stop-color="#320101"/><stop offset="0.022" stop-color="#320101"/><stop offset="0.034" stop-color="#320101"/><stop offset="0.047" stop-color="#320101"/><stop offset="0.059" stop-color="#320101"/><stop offset="0.072" stop-color="#320101"/><stop offset="0.085" stop-color="#320101"/><stop offset="0.097" stop-color="#320101"/><stop offset="0.110" stop-color="#320101"/><stop offset="0.123" stop-color="#320101"/><stop offset="0.135" stop-color="#320101"/><stop offset="0.148" stop-color="#320101"/><stop offset="0.161" stop-color="#320101"/><stop offset="0.173" stop-color="#320101"/><stop offset="0.186" stop-color="#320101"/><stop offset="0.199" stop-color="#320101"/><stop offset="0.211" stop-color="#330101"/><stop offset="0.224" stop-color="#330101"/><stop offset="0.237" stop-color="#330101"/><stop offset="0.249" stop-color="#330101"/><stop offset="0.262" stop-color="#340101"/><stop offset="0.274" stop-color="#350101"/><stop offset="0.287" stop-color="#360202"/><stop offset="0.300" stop-color="#370202"/><stop offset="0.312" stop-color="#3a0202"/><stop offset="0.325" stop-color="#400202"/><stop offset="0.338" stop-color="#490101"/><stop offset="0.350" stop-color="#540000"/><stop offset="0.363" stop-color="#650000"/><stop offset="0.376" stop-color="#7d0000"/><stop offset="0.388" stop-color="#9a0000"/><stop offset="0.401" stop-color="#b70202"/><stop offset="0.414" stop-color="#d50505"/><stop offset="0.426" stop-color="#ea0d05"/><stop offset="0.439" stop-color="#fb1b06"/><stop offset="0.452" stop-color="#fd3508"/><stop offset="0.464" stop-color="#ff510a"/><stop offset="0.477" stop-color="#ff6b14"/><stop offset="0.489" stop-color="#ff831e"/><stop offset="0.502" stop-color="#ff9123"/><stop offset="0.515" stop-color="#ff9224"/><stop offset="0.527" stop-color="#ff851e"/><stop offset="0.540" stop-color="#ff6e16"/><stop offset="0.553" stop-color="#ff540b"/><stop offset="0.565" stop-color="#fd3808"/><stop offset="0.578" stop-color="#fb1d06"/><stop offset="0.591" stop-color="#ed0e05"/><stop offset="0.603" stop-color="#da0605"/><stop offset="0.616" stop-color="#c10303"/><stop offset="0.629" stop-color="#aa0101"/><stop offset="0.641" stop-color="#950000"/><stop offset="0.654" stop-color="#820000"/><stop offset="0.667" stop-color="#740000"/><stop offset="0.679" stop-color="#680000"/><stop offset="0.692" stop-color="#5e0000"/><stop offset="0.704" stop-color="#580000"/><stop offset="0.717" stop-color="#520101"/><stop offset="0.730" stop-color="#4d0101"/><stop offset="0.742" stop-color="#480101"/><stop offset="0.755" stop-color="#430101"/><stop offset="0.768" stop-color="#3e0202"/><stop offset="0.780" stop-color="#3a0202"/><stop offset="0.793" stop-color="#370202"/><stop offset="0.806" stop-color="#360202"/><stop offset="0.818" stop-color="#350202"/><stop offset="0.831" stop-color="#350101"/><stop offset="0.844" stop-color="#340101"/><stop offset="0.856" stop-color="#340101"/><stop offset="0.869" stop-color="#340101"/><stop offset="0.882" stop-color="#330101"/><stop offset="0.894" stop-color="#330101"/><stop offset="0.907" stop-color="#330101"/><stop offset="0.919" stop-color="#330101"/><stop offset="0.932" stop-color="#330101"/><stop offset="0.945" stop-color="#320101"/><stop offset="0.957" stop-color="#320101"/><stop offset="0.970" stop-color="#320101"/><stop offset="0.983" stop-color="#320101"/><stop offset="0.995" stop-color="#320101"/></linearGradient>
<linearGradient id="h69" gradientUnits="userSpaceOnUse" x1="75.9" y1="0" x2="313.1" y2="0"><stop offset="-0.004" stop-color="#320101"/><stop offset="0.009" stop-color="#320101"/><stop offset="0.022" stop-color="#320101"/><stop offset="0.034" stop-color="#320101"/><stop offset="0.047" stop-color="#320101"/><stop offset="0.059" stop-color="#320101"/><stop offset="0.072" stop-color="#320101"/><stop offset="0.085" stop-color="#320101"/><stop offset="0.097" stop-color="#320101"/><stop offset="0.110" stop-color="#320101"/><stop offset="0.123" stop-color="#320101"/><stop offset="0.135" stop-color="#320101"/><stop offset="0.148" stop-color="#320101"/><stop offset="0.161" stop-color="#320101"/><stop offset="0.173" stop-color="#320101"/><stop offset="0.186" stop-color="#320101"/><stop offset="0.199" stop-color="#320101"/><stop offset="0.211" stop-color="#320101"/><stop offset="0.224" stop-color="#330101"/><stop offset="0.237" stop-color="#330101"/><stop offset="0.249" stop-color="#330101"/><stop offset="0.262" stop-color="#340101"/><stop offset="0.274" stop-color="#340101"/><stop offset="0.287" stop-color="#350101"/><stop offset="0.300" stop-color="#360202"/><stop offset="0.312" stop-color="#370202"/><stop offset="0.325" stop-color="#3b0202"/><stop offset="0.338" stop-color="#420101"/><stop offset="0.350" stop-color="#4b0101"/><stop offset="0.363" stop-color="#560000"/><stop offset="0.376" stop-color="#690000"/><stop offset="0.388" stop-color="#820000"/><stop offset="0.401" stop-color="#9f0000"/><stop offset="0.414" stop-color="#bb0202"/><stop offset="0.426" stop-color="#d80505"/><stop offset="0.439" stop-color="#ed0e05"/><stop offset="0.452" stop-color="#fb1e06"/><stop offset="0.464" stop-color="#fd3908"/><stop offset="0.477" stop-color="#ff560c"/><stop offset="0.489" stop-color="#ff7217"/><stop offset="0.502" stop-color="#ff8a20"/><stop offset="0.515" stop-color="#ff952a"/><stop offset="0.527" stop-color="#ff9427"/><stop offset="0.540" stop-color="#ff841e"/><stop offset="0.553" stop-color="#ff6a14"/><stop offset="0.565" stop-color="#ff4e0a"/><stop offset="0.578" stop-color="#fc3107"/><stop offset="0.591" stop-color="#fa1705"/><stop offset="0.603" stop-color="#e80c05"/><stop offset="0.616" stop-color="#d40505"/><stop offset="0.629" stop-color="#ba0202"/><stop offset="0.641" stop-color="#a50000"/><stop offset="0.654" stop-color="#900000"/><stop offset="0.667" stop-color="#7e0000"/><stop offset="0.679" stop-color="#700000"/><stop offset="0.692" stop-color="#650000"/><stop offset="0.704" stop-color="#5c0000"/><stop offset="0.717" stop-color="#560000"/><stop offset="0.730" stop-color="#510101"/><stop offset="0.742" stop-color="#4c0101"/><stop offset="0.755" stop-color="#470101"/><stop offset="0.768" stop-color="#420101"/><stop offset="0.780" stop-color="#3d0202"/><stop offset="0.793" stop-color="#390202"/><stop offset="0.806" stop-color="#370202"/><stop offset="0.818" stop-color="#360202"/><stop offset="0.831" stop-color="#350202"/><stop offset="0.844" stop-color="#350101"/><stop offset="0.856" stop-color="#340101"/><stop offset="0.869" stop-color="#340101"/><stop offset="0.882" stop-color="#330101"/><stop offset="0.894" stop-color="#330101"/><stop offset="0.907" stop-color="#330101"/><stop offset="0.919" stop-color="#330101"/><stop offset="0.932" stop-color="#330101"/><stop offset="0.945" stop-color="#330101"/><stop offset="0.957" stop-color="#320101"/><stop offset="0.970" stop-color="#320101"/><stop offset="0.983" stop-color="#320101"/><stop offset="0.995" stop-color="#320101"/></linearGradient>
<linearGradient id="h70" gradientUnits="userSpaceOnUse" x1="75.9" y1="0" x2="313.1" y2="0"><stop offset="-0.004" stop-color="#320101"/><stop offset="0.009" stop-color="#320101"/><stop offset="0.022" stop-color="#320101"/><stop offset="0.034" stop-color="#320101"/><stop offset="0.047" stop-color="#320101"/><stop offset="0.059" stop-color="#320101"/><stop offset="0.072" stop-color="#320101"/><stop offset="0.085" stop-color="#320101"/><stop offset="0.097" stop-color="#320101"/><stop offset="0.110" stop-color="#320101"/><stop offset="0.123" stop-color="#320101"/><stop offset="0.135" stop-color="#320101"/><stop offset="0.148" stop-color="#320101"/><stop offset="0.161" stop-color="#320101"/><stop offset="0.173" stop-color="#320101"/><stop offset="0.186" stop-color="#320101"/><stop offset="0.199" stop-color="#320101"/><stop offset="0.211" stop-color="#320101"/><stop offset="0.224" stop-color="#330101"/><stop offset="0.237" stop-color="#330101"/><stop offset="0.249" stop-color="#330101"/><stop offset="0.262" stop-color="#330101"/><stop offset="0.274" stop-color="#340101"/><stop offset="0.287" stop-color="#340101"/><stop offset="0.300" stop-color="#350202"/><stop offset="0.312" stop-color="#360202"/><stop offset="0.325" stop-color="#380202"/><stop offset="0.338" stop-color="#3e0202"/><stop offset="0.350" stop-color="#460101"/><stop offset="0.363" stop-color="#500101"/><stop offset="0.376" stop-color="#5d0000"/><stop offset="0.388" stop-color="#740000"/><stop offset="0.401" stop-color="#8f0000"/><stop offset="0.414" stop-color="#ac0101"/><stop offset="0.426" stop-color="#c80404"/><stop offset="0.439" stop-color="#e10905"/><stop offset="0.452" stop-color="#f61205"/><stop offset="0.464" stop-color="#fc2a07"/><stop offset="0.477" stop-color="#fe4709"/><stop offset="0.489" stop-color="#ff6512"/><stop offset="0.502" stop-color="#ff821d"/><stop offset="0.515" stop-color="#ff9528"/><stop offset="0.527" stop-color="#ff982e"/><stop offset="0.540" stop-color="#ff9023"/><stop offset="0.553" stop-color="#ff791a"/><stop offset="0.565" stop-color="#ff5c0e"/><stop offset="0.578" stop-color="#fd3d08"/><stop offset="0.591" stop-color="#fb2106"/><stop offset="0.603" stop-color="#f01005"/><stop offset="0.616" stop-color="#dc0705"/><stop offset="0.629" stop-color="#c50303"/><stop offset="0.641" stop-color="#ad0101"/><stop offset="0.654" stop-color="#990000"/><stop offset="0.667" stop-color="#850000"/><stop offset="0.679" stop-color="#760000"/><stop offset="0.692" stop-color="#6a0000"/><stop offset="0.704" stop-color="#600000"/><stop offset="0.717" stop-color="#590000"/><stop offset="0.730" stop-color="#530000"/><stop offset="0.742" stop-color="#4e0101"/><stop offset="0.755" stop-color="#490101"/><stop offset="0.768" stop-color="#440101"/><stop offset="0.780" stop-color="#3f0202"/><stop offset="0.793" stop-color="#3b0202"/><stop offset="0.806" stop-color="#380202"/><stop offset="0.818" stop-color="#370202"/><stop offset="0.831" stop-color="#360202"/><stop offset="0.844" stop-color="#350101"/><stop offset="0.856" stop-color="#340101"/><stop offset="0.869" stop-color="#340101"/><stop offset="0.882" stop-color="#340101"/><stop offset="0.894" stop-color="#330101"/><stop offset="0.907" stop-color="#330101"/><stop offset="0.919" stop-color="#330101"/><stop offset="0.932" stop-color="#330101"/><stop offset="0.945" stop-color="#330101"/><stop offset="0.957" stop-color="#330101"/><stop offset="0.970" stop-color="#320101"/><stop offset="0.983" stop-color="#320101"/><stop offset="0.995" stop-color="#320101"/></linearGradient>
<linearGradient id="h71" gradientUnits="userSpaceOnUse" x1="75.9" y1="0" x2="313.1" y2="0"><stop offset="-0.004" stop-color="#320101"/><stop offset="0.009" stop-color="#320101"/><stop offset="0.022" stop-color="#320101"/><stop offset="0.034" stop-color="#320101"/><stop offset="0.047" stop-color="#320101"/><stop offset="0.059" stop-color="#320101"/><stop offset="0.072" stop-color="#320101"/><stop offset="0.085" stop-color="#320101"/><stop offset="0.097" stop-color="#320101"/><stop offset="0.110" stop-color="#320101"/><stop offset="0.123" stop-color="#320101"/><stop offset="0.135" stop-color="#320101"/><stop offset="0.148" stop-color="#320101"/><stop offset="0.161" stop-color="#320101"/><stop offset="0.173" stop-color="#320101"/><stop offset="0.186" stop-color="#320101"/><stop offset="0.199" stop-color="#320101"/><stop offset="0.211" stop-color="#320101"/><stop offset="0.224" stop-color="#330101"/><stop offset="0.237" stop-color="#330101"/><stop offset="0.249" stop-color="#330101"/><stop offset="0.262" stop-color="#330101"/><stop offset="0.274" stop-color="#340101"/><stop offset="0.287" stop-color="#340101"/><stop offset="0.300" stop-color="#350101"/><stop offset="0.312" stop-color="#360202"/><stop offset="0.325" stop-color="#370202"/><stop offset="0.338" stop-color="#3b0202"/><stop offset="0.350" stop-color="#420101"/><stop offset="0.363" stop-color="#4b0101"/><stop offset="0.376" stop-color="#570000"/><stop offset="0.388" stop-color="#6a0000"/><stop offset="0.401" stop-color="#830000"/><stop offset="0.414" stop-color="#a00000"/><stop offset="0.426" stop-color="#bb0202"/><stop offset="0.439" stop-color="#d80505"/><stop offset="0.452" stop-color="#ec0e05"/><stop offset="0.464" stop-color="#fb1d06"/><stop offset="0.477" stop-color="#fd3808"/><stop offset="0.489" stop-color="#ff540c"/><stop offset="0.502" stop-color="#ff7016"/><stop offset="0.515" stop-color="#ff871f"/><stop offset="0.527" stop-color="#ff9224"/><stop offset="0.540" stop-color="#ff8d21"/><stop offset="0.553" stop-color="#ff7b1a"/><stop offset="0.565" stop-color="#ff6111"/><stop offset="0.578" stop-color="#fe4409"/><stop offset="0.591" stop-color="#fc2807"/><stop offset="0.603" stop-color="#f61205"/><stop offset="0.616" stop-color="#e20a05"/><stop offset="0.629" stop-color="#cd0404"/><stop offset="0.641" stop-color="#b40202"/><stop offset="0.654" stop-color="#a00000"/><stop offset="0.667" stop-color="#8b0000"/><stop offset="0.679" stop-color="#7b0000"/><stop offset="0.692" stop-color="#6e0000"/><stop offset="0.704" stop-color="#640000"/><stop offset="0.717" stop-color="#5b0000"/><stop offset="0.730" stop-color="#550000"/><stop offset="0.742" stop-color="#500101"/><stop offset="0.755" stop-color="#4b0101"/><stop offset="0.768" stop-color="#460101"/><stop offset="0.780" stop-color="#410202"/><stop offset="0.793" stop-color="#3c0202"/><stop offset="0.806" stop-color="#380202"/><stop offset="0.818" stop-color="#370202"/><stop offset="0.831" stop-color="#360202"/><stop offset="0.844" stop-color="#350202"/><stop offset="0.856" stop-color="#350101"/><stop offset="0.869" stop-color="#340101"/><stop offset="0.882" stop-color="#340101"/><stop offset="0.894" stop-color="#330101"/><stop offset="0.907" stop-color="#330101"/><stop offset="0.919" stop-color="#330101"/><stop offset="0.932" stop-color="#330101"/><stop offset="0.945" stop-color="#330101"/><stop offset="0.957" stop-color="#330101"/><stop offset="0.970" stop-color="#320101"/><stop offset="0.983" stop-color="#320101"/><stop offset="0.995" stop-color="#320101"/></linearGradient>
<linearGradient id="h72" gradientUnits="userSpaceOnUse" x1="75.9" y1="0" x2="313.1" y2="0"><stop offset="-0.004" stop-color="#320101"/><stop offset="0.009" stop-color="#320101"/><stop offset="0.022" stop-color="#320101"/><stop offset="0.034" stop-color="#320101"/><stop offset="0.047" stop-color="#320101"/><stop offset="0.059" stop-color="#320101"/><stop offset="0.072" stop-color="#320101"/><stop offset="0.085" stop-color="#320101"/><stop offset="0.097" stop-color="#320101"/><stop offset="0.110" stop-color="#320101"/><stop offset="0.123" stop-color="#320101"/><stop offset="0.135" stop-color="#320101"/><stop offset="0.148" stop-color="#320101"/><stop offset="0.161" stop-color="#320101"/><stop offset="0.173" stop-color="#320101"/><stop offset="0.186" stop-color="#320101"/><stop offset="0.199" stop-color="#320101"/><stop offset="0.211" stop-color="#320101"/><stop offset="0.224" stop-color="#320101"/><stop offset="0.237" stop-color="#330101"/><stop offset="0.249" stop-color="#330101"/><stop offset="0.262" stop-color="#330101"/><stop offset="0.274" stop-color="#330101"/><stop offset="0.287" stop-color="#340101"/><stop offset="0.300" stop-color="#350101"/><stop offset="0.312" stop-color="#350202"/><stop offset="0.325" stop-color="#370202"/><stop offset="0.338" stop-color="#390202"/><stop offset="0.350" stop-color="#3f0202"/><stop offset="0.363" stop-color="#470101"/><stop offset="0.376" stop-color="#520101"/><stop offset="0.388" stop-color="#600000"/><stop offset="0.401" stop-color="#770000"/><stop offset="0.414" stop-color="#920000"/><stop offset="0.426" stop-color="#ae0101"/><stop offset="0.439" stop-color="#cb0404"/><stop offset="0.452" stop-color="#e20a05"/><stop offset="0.464" stop-color="#f71305"/><stop offset="0.477" stop-color="#fc2a07"/><stop offset="0.489" stop-color="#fe4509"/><stop offset="0.502" stop-color="#ff5f10"/><stop offset="0.515" stop-color="#ff7719"/><stop offset="0.527" stop-color="#ff861f"/><stop offset="0.540" stop-color="#ff871f"/><stop offset="0.553" stop-color="#ff7b1a"/><stop offset="0.565" stop-color="#ff6512"/><stop offset="0.578" stop-color="#ff4b0a"/><stop offset="0.591" stop-color="#fc2f07"/><stop offset="0.603" stop-color="#fa1605"/><stop offset="0.616" stop-color="#e80c05"/><stop offset="0.629" stop-color="#d50505"/><stop offset="0.641" stop-color="#bc0303"/><stop offset="0.654" stop-color="#a60101"/><stop offset="0.667" stop-color="#920000"/><stop offset="0.679" stop-color="#800000"/><stop offset="0.692" stop-color="#720000"/><stop offset="0.704" stop-color="#670000"/><stop offset="0.717" stop-color="#5e0000"/><stop offset="0.730" stop-color="#570000"/><stop offset="0.742" stop-color="#520101"/><stop offset="0.755" stop-color="#4d0101"/><stop offset="0.768" stop-color="#480101"/><stop offset="0.780" stop-color="#430101"/><stop offset="0.793" stop-color="#3e0202"/><stop offset="0.806" stop-color="#3a0202"/><stop offset="0.818" stop-color="#370202"/><stop offset="0.831" stop-color="#360202"/><stop offset="0.844" stop-color="#360202"/><stop offset="0.856" stop-color="#350101"/><stop offset="0.869" stop-color="#340101"/><stop offset="0.882" stop-color="#340101"/><stop offset="0.894" stop-color="#340101"/><stop offset="0.907" stop-color="#330101"/><stop offset="0.919" stop-color="#330101"/><stop offset="0.932" stop-color="#330101"/><stop offset="0.945" stop-color="#330101"/><stop offset="0.957" stop-color="#330101"/><stop offset="0.970" stop-color="#320101"/><stop offset="0.983" stop-color="#320101"/><stop offset="0.995" stop-color="#320101"/></linearGradient>
<linearGradient id="h73" gradientUnits="userSpaceOnUse" x1="75.9" y1="0" x2="313.1" y2="0"><stop offset="-0.004" stop-color="#320101"/><stop offset="0.009" stop-color="#320101"/><stop offset="0.022" stop-color="#320101"/><stop offset="0.034" stop-color="#320101"/><stop offset="0.047" stop-color="#320101"/><stop offset="0.059" stop-color="#320101"/><stop offset="0.072" stop-color="#320101"/><stop offset="0.085" stop-color="#320101"/><stop offset="0.097" stop-color="#320101"/><stop offset="0.110" stop-color="#320101"/><stop offset="0.123" stop-color="#320101"/><stop offset="0.135" stop-color="#320101"/><stop offset="0.148" stop-color="#320101"/><stop offset="0.161" stop-color="#320101"/><stop offset="0.173" stop-color="#320101"/><stop offset="0.186" stop-color="#320101"/><stop offset="0.199" stop-color="#320101"/><stop offset="0.211" stop-color="#320101"/><stop offset="0.224" stop-color="#320101"/><stop offset="0.237" stop-color="#330101"/><stop offset="0.249" stop-color="#330101"/><stop offset="0.262" stop-color="#330101"/><stop offset="0.274" stop-color="#330101"/><stop offset="0.287" stop-color="#340101"/><stop offset="0.300" stop-color="#340101"/><stop offset="0.312" stop-color="#350202"/><stop offset="0.325" stop-color="#360202"/><stop offset="0.338" stop-color="#380202"/><stop offset="0.350" stop-color="#3c0202"/><stop offset="0.363" stop-color="#440101"/><stop offset="0.376" stop-color="#4d0101"/><stop offset="0.388" stop-color="#590000"/><stop offset="0.401" stop-color="#6d0000"/><stop offset="0.414" stop-color="#860000"/><stop offset="0.426" stop-color="#a30000"/><stop offset="0.439" stop-color="#bd0303"/><stop offset="0.452" stop-color="#d90605"/><stop offset="0.464" stop-color="#ed0e05"/><stop offset="0.477" stop-color="#fb1d06"/><stop offset="0.489" stop-color="#fd3608"/><stop offset="0.502" stop-color="#ff500a"/><stop offset="0.515" stop-color="#ff6713"/><stop offset="0.527" stop-color="#ff791a"/><stop offset="0.540" stop-color="#ff7f1c"/><stop offset="0.553" stop-color="#ff7819"/><stop offset="0.565" stop-color="#ff6613"/><stop offset="0.578" stop-color="#ff4f0a"/><stop offset="0.591" stop-color="#fd3508"/><stop offset="0.603" stop-color="#fb1c06"/><stop offset="0.616" stop-color="#ed0e05"/><stop offset="0.629" stop-color="#db0705"/><stop offset="0.641" stop-color="#c30303"/><stop offset="0.654" stop-color="#ad0101"/><stop offset="0.667" stop-color="#980000"/><stop offset="0.679" stop-color="#860000"/><stop offset="0.692" stop-color="#770000"/><stop offset="0.704" stop-color="#6b0000"/><stop offset="0.717" stop-color="#610000"/><stop offset="0.730" stop-color="#5a0000"/><stop offset="0.742" stop-color="#540000"/><stop offset="0.755" stop-color="#4f0101"/><stop offset="0.768" stop-color="#4a0101"/><stop offset="0.780" stop-color="#450101"/><stop offset="0.793" stop-color="#400202"/><stop offset="0.806" stop-color="#3b0202"/><stop offset="0.818" stop-color="#380202"/><stop offset="0.831" stop-color="#370202"/><stop offset="0.844" stop-color="#360202"/><stop offset="0.856" stop-color="#350202"/><stop offset="0.869" stop-color="#340101"/><stop offset="0.882" stop-color="#340101"/><stop offset="0.894" stop-color="#340101"/><stop offset="0.907" stop-color="#330101"/><stop offset="0.919" stop-color="#330101"/><stop offset="0.932" stop-color="#330101"/><stop offset="0.945" stop-color="#330101"/><stop offset="0.957" stop-color="#330101"/><stop offset="0.970" stop-color="#330101"/><stop offset="0.983" stop-color="#320101"/><stop offset="0.995" stop-color="#320101"/></linearGradient>
<linearGradient id="h74" gradientUnits="userSpaceOnUse" x1="75.9" y1="0" x2="313.1" y2="0"><stop offset="-0.004" stop-color="#320101"/><stop offset="0.009" stop-color="#320101"/><stop offset="0.022" stop-color="#320101"/><stop offset="0.034" stop-color="#320101"/><stop offset="0.047" stop-color="#320101"/><stop offset="0.059" stop-color="#320101"/><stop offset="0.072" stop-color="#320101"/><stop offset="0.085" stop-color="#320101"/><stop offset="0.097" stop-color="#320101"/><stop offset="0.110" stop-color="#320101"/><stop offset="0.123" stop-color="#320101"/><stop offset="0.135" stop-color="#320101"/><stop offset="0.148" stop-color="#320101"/><stop offset="0.161" stop-color="#320101"/><stop offset="0.173" stop-color="#320101"/><stop offset="0.186" stop-color="#320101"/><stop offset="0.199" stop-color="#320101"/><stop offset="0.211" stop-color="#320101"/><stop offset="0.224" stop-color="#320101"/><stop offset="0.237" stop-color="#320101"/><stop offset="0.249" stop-color="#330101"/><stop offset="0.262" stop-color="#330101"/><stop offset="0.274" stop-color="#330101"/><stop offset="0.287" stop-color="#340101"/><stop offset="0.300" stop-color="#340101"/><stop offset="0.312" stop-color="#350101"/><stop offset="0.325" stop-color="#360202"/><stop offset="0.338" stop-color="#370202"/><stop offset="0.350" stop-color="#3a0202"/><stop offset="0.363" stop-color="#400202"/><stop offset="0.376" stop-color="#490101"/><stop offset="0.388" stop-color="#540000"/><stop offset="0.401" stop-color="#630000"/><stop offset="0.414" stop-color="#7b0000"/><stop offset="0.426" stop-color="#960000"/><stop offset="0.439" stop-color="#b10202"/><stop offset="0.452" stop-color="#cd0404"/><stop offset="0.464" stop-color="#e30a05"/><stop offset="0.477" stop-color="#f71305"/><stop offset="0.489" stop-color="#fc2807"/><stop offset="0.502" stop-color="#fe4109"/><stop offset="0.515" stop-color="#ff580d"/><stop offset="0.527" stop-color="#ff6a14"/><stop offset="0.540" stop-color="#ff7418"/><stop offset="0.553" stop-color="#ff7217"/><stop offset="0.565" stop-color="#ff6612"/><stop offset="0.578" stop-color="#ff520b"/><stop offset="0.591" stop-color="#fd3a08"/><stop offset="0.603" stop-color="#fb2206"/><stop offset="0.616" stop-color="#f31105"/><stop offset="0.629" stop-color="#e00905"/><stop offset="0.641" stop-color="#cb0404"/><stop offset="0.654" stop-color="#b30202"/><stop offset="0.667" stop-color="#a00000"/><stop offset="0.679" stop-color="#8b0000"/><stop offset="0.692" stop-color="#7b0000"/><stop offset="0.704" stop-color="#6e0000"/><stop offset="0.717" stop-color="#640000"/><stop offset="0.730" stop-color="#5c0000"/><stop offset="0.742" stop-color="#560000"/><stop offset="0.755" stop-color="#510101"/><stop offset="0.768" stop-color="#4c0101"/><stop offset="0.780" stop-color="#470101"/><stop offset="0.793" stop-color="#420101"/><stop offset="0.806" stop-color="#3d0202"/><stop offset="0.818" stop-color="#390202"/><stop offset="0.831" stop-color="#370202"/><stop offset="0.844" stop-color="#360202"/><stop offset="0.856" stop-color="#350202"/><stop offset="0.869" stop-color="#350101"/><stop offset="0.882" stop-color="#340101"/><stop offset="0.894" stop-color="#340101"/><stop offset="0.907" stop-color="#330101"/><stop offset="0.919" stop-color="#330101"/><stop offset="0.932" stop-color="#330101"/><stop offset="0.945" stop-color="#330101"/><stop offset="0.957" stop-color="#330101"/><stop offset="0.970" stop-color="#330101"/><stop offset="0.983" stop-color="#320101"/><stop offset="0.995" stop-color="#320101"/></linearGradient>
<linearGradient id="h75" gradientUnits="userSpaceOnUse" x1="75.9" y1="0" x2="313.1" y2="0"><stop offset="-0.004" stop-color="#320101"/><stop offset="0.009" stop-color="#320101"/><stop offset="0.022" stop-color="#320101"/><stop offset="0.034" stop-color="#320101"/><stop offset="0.047" stop-color="#320101"/><stop offset="0.059" stop-color="#320101"/><stop offset="0.072" stop-color="#320101"/><stop offset="0.085" stop-color="#320101"/><stop offset="0.097" stop-color="#320101"/><stop offset="0.110" stop-color="#320101"/><stop offset="0.123" stop-color="#320101"/><stop offset="0.135" stop-color="#320101"/><stop offset="0.148" stop-color="#320101"/><stop offset="0.161" stop-color="#320101"/><stop offset="0.173" stop-color="#320101"/><stop offset="0.186" stop-color="#320101"/><stop offset="0.199" stop-color="#320101"/><stop offset="0.211" stop-color="#320101"/><stop offset="0.224" stop-color="#320101"/><stop offset="0.237" stop-color="#320101"/><stop offset="0.249" stop-color="#330101"/><stop offset="0.262" stop-color="#330101"/><stop offset="0.274" stop-color="#330101"/><stop offset="0.287" stop-color="#330101"/><stop offset="0.300" stop-color="#340101"/><stop offset="0.312" stop-color="#340101"/><stop offset="0.325" stop-color="#350202"/><stop offset="0.338" stop-color="#360202"/><stop offset="0.350" stop-color="#380202"/><stop offset="0.363" stop-color="#3e0202"/><stop offset="0.376" stop-color="#450101"/><stop offset="0.388" stop-color="#4f0101"/><stop offset="0.401" stop-color="#5c0000"/><stop offset="0.414" stop-color="#710000"/><stop offset="0.426" stop-color="#8b0000"/><stop offset="0.439" stop-color="#a60101"/><stop offset="0.452" stop-color="#c10303"/><stop offset="0.464" stop-color="#db0705"/><stop offset="0.477" stop-color="#ee0f05"/><stop offset="0.489" stop-color="#fb1d06"/><stop offset="0.502" stop-color="#fd3408"/><stop offset="0.515" stop-color="#ff4b0a"/><stop offset="0.527" stop-color="#ff5e0f"/><stop offset="0.540" stop-color="#ff6914"/><stop offset="0.553" stop-color="#ff6b15"/><stop offset="0.565" stop-color="#ff6311"/><stop offset="0.578" stop-color="#ff530b"/><stop offset="0.591" stop-color="#fd3e08"/><stop offset="0.603" stop-color="#fc2707"/><stop offset="0.616" stop-color="#f71305"/><stop offset="0.629" stop-color="#e50b05"/><stop offset="0.641" stop-color="#d20505"/><stop offset="0.654" stop-color="#ba0202"/><stop offset="0.667" stop-color="#a50000"/><stop offset="0.679" stop-color="#910000"/><stop offset="0.692" stop-color="#800000"/><stop offset="0.704" stop-color="#720000"/><stop offset="0.717" stop-color="#670000"/><stop offset="0.730" stop-color="#5e0000"/><stop offset="0.742" stop-color="#580000"/><stop offset="0.755" stop-color="#530101"/><stop offset="0.768" stop-color="#4d0101"/><stop offset="0.780" stop-color="#480101"/><stop offset="0.793" stop-color="#430101"/><stop offset="0.806" stop-color="#3f0202"/><stop offset="0.818" stop-color="#3a0202"/><stop offset="0.831" stop-color="#380202"/><stop offset="0.844" stop-color="#360202"/><stop offset="0.856" stop-color="#360202"/><stop offset="0.869" stop-color="#350101"/><stop offset="0.882" stop-color="#340101"/><stop offset="0.894" stop-color="#340101"/><stop offset="0.907" stop-color="#340101"/><stop offset="0.919" stop-color="#330101"/><stop offset="0.932" stop-color="#330101"/><stop offset="0.945" stop-color="#330101"/><stop offset="0.957" stop-color="#330101"/><stop offset="0.970" stop-color="#330101"/><stop offset="0.983" stop-color="#330101"/><stop offset="0.995" stop-color="#320101"/></linearGradient>
<linearGradient id="h76" gradientUnits="userSpaceOnUse" x1="75.9" y1="0" x2="313.1" y2="0"><stop offset="-0.004" stop-color="#320101"/><stop offset="0.009" stop-color="#320101"/><stop offset="0.022" stop-color="#320101"/><stop offset="0.034" stop-color="#320101"/><stop offset="0.047" stop-color="#320101"/><stop offset="0.059" stop-color="#320101"/><stop offset="0.072" stop-color="#320101"/><stop offset="0.085" stop-color="#320101"/><stop offset="0.097" stop-color="#320101"/><stop offset="0.110" stop-color="#320101"/><stop offset="0.123" stop-color="#320101"/><stop offset="0.135" stop-color="#320101"/><stop offset="0.148" stop-color="#320101"/><stop offset="0.161" stop-color="#320101"/><stop offset="0.173" stop-color="#320101"/><stop offset="0.186" stop-color="#320101"/><stop offset="0.199" stop-color="#320101"/><stop offset="0.211" stop-color="#320101"/><stop offset="0.224" stop-color="#320101"/><stop offset="0.237" stop-color="#320101"/><stop offset="0.249" stop-color="#330101"/><stop offset="0.262" stop-color="#330101"/><stop offset="0.274" stop-color="#330101"/><stop offset="0.287" stop-color="#330101"/><stop offset="0.300" stop-color="#340101"/><stop offset="0.312" stop-color="#340101"/><stop offset="0.325" stop-color="#350202"/><stop offset="0.338" stop-color="#360202"/><stop offset="0.350" stop-color="#380202"/><stop offset="0.363" stop-color="#3e0202"/><stop offset="0.376" stop-color="#450101"/><stop offset="0.388" stop-color="#4f0101"/><stop offset="0.401" stop-color="#5c0000"/><stop offset="0.414" stop-color="#710000"/><stop offset="0.426" stop-color="#8b0000"/><stop offset="0.439" stop-color="#a60101"/><stop offset="0.452" stop-color="#c10303"/><stop offset="0.464" stop-color="#db0705"/><stop offset="0.477" stop-color="#ee0f05"/><stop offset="0.489" stop-color="#fb1d06"/><stop offset="0.502" stop-color="#fd3408"/><stop offset="0.515" stop-color="#ff4b0a"/><stop offset="0.527" stop-color="#ff5e0f"/><stop offset="0.540" stop-color="#ff6914"/><stop offset="0.553" stop-color="#ff6b15"/><stop offset="0.565" stop-color="#ff6311"/><stop offset="0.578" stop-color="#ff530b"/><stop offset="0.591" stop-color="#fd3e08"/><stop offset="0.603" stop-color="#fc2707"/><stop offset="0.616" stop-color="#f71305"/><stop offset="0.629" stop-color="#e50b05"/><stop offset="0.641" stop-color="#d20505"/><stop offset="0.654" stop-color="#ba0202"/><stop offset="0.667" stop-color="#a50000"/><stop offset="0.679" stop-color="#910000"/><stop offset="0.692" stop-color="#800000"/><stop offset="0.704" stop-color="#720000"/><stop offset="0.717" stop-color="#670000"/><stop offset="0.730" stop-color="#5e0000"/><stop offset="0.742" stop-color="#580000"/><stop offset="0.755" stop-color="#530101"/><stop offset="0.768" stop-color="#4d0101"/><stop offset="0.780" stop-color="#480101"/><stop offset="0.793" stop-color="#430101"/><stop offset="0.806" stop-color="#3f0202"/><stop offset="0.818" stop-color="#3a0202"/><stop offset="0.831" stop-color="#380202"/><stop offset="0.844" stop-color="#360202"/><stop offset="0.856" stop-color="#360202"/><stop offset="0.869" stop-color="#350101"/><stop offset="0.882" stop-color="#340101"/><stop offset="0.894" stop-color="#340101"/><stop offset="0.907" stop-color="#340101"/><stop offset="0.919" stop-color="#330101"/><stop offset="0.932" stop-color="#330101"/><stop offset="0.945" stop-color="#330101"/><stop offset="0.957" stop-color="#330101"/><stop offset="0.970" stop-color="#330101"/><stop offset="0.983" stop-color="#330101"/><stop offset="0.995" stop-color="#320101"/></linearGradient>
<linearGradient id="cbar" x1="0" y1="0" x2="0" y2="1"><stop offset="0" stop-color="#fffbee"/><stop offset="0.22" stop-color="#ffd896"/><stop offset="0.45" stop-color="#ffa020"/><stop offset="0.62" stop-color="#ff4a00"/><stop offset="0.75" stop-color="#f00a00"/><stop offset="0.9" stop-color="#8a0000"/><stop offset="1" stop-color="#3a0000"/></linearGradient>
<clipPath id="fclip"><rect x="53.8" y="444.5" width="273.1" height="220.8"/></clipPath>
<clipPath id="gclip"><rect x="421.6" y="443.20000000000005" width="261.5" height="91.1"/></clipPath>
</defs>
<text x="-0.3" y="12.3" font-size="14" text-anchor="start" fill="#000" font-weight="bold" >a</text>
<polygon points="84.7,24.4 209.4,24.4 236.7,52.7 57.6,52.7" fill="#ecc0a3" />
<polygon points="57.6,52.7 236.7,52.7 236.7,60.3 57.6,60.3" fill="#7a3a12" />
<polygon points="86.0,45.3 112.0,45.3 124.5,31.8 101.0,31.8" fill="#efe2c6" />
<polygon points="171.5,29.5 196.0,29.5 211.0,45.8 184.5,45.8" fill="#efe2c6" />
<polyline points="83.0,45.8 112.0,45.8 125.0,32.3" fill="none" stroke="#111" stroke-width="1.3" />
<polyline points="171.0,28.8 184.2,46.0 212.0,46.0" fill="none" stroke="#111" stroke-width="1.3" />
<polygon points="115.9,34.8 160.5,34.8 160.5,41.9 113.8,41.9" fill="#141414" />
<polygon points="122.1,31.3 160.5,31.3 160.5,34.8 117.5,34.8" fill="#4a4a4a" />
<polygon points="158.0,25.1 165.5,25.1 183.2,42.0 160.5,42.0" fill="#2e7d20" />
<polygon points="129.7,27.9 162.5,27.9 162.5,31.5 129.7,31.5" fill="#237a1a" />
<polygon points="132.5,25.1 165.5,25.1 166.5,27.9 129.7,27.9" fill="#48a838" />
<polygon points="139.7,18.6 139.7,20.8 138.4,20.8 140.5,23.6 142.6,20.8 141.3,20.8 141.3,18.6" fill="#2d5eaa" />
<polygon points="149.8,18.6 149.8,20.8 148.5,20.8 150.6,23.6 152.7,20.8 151.4,20.8 151.4,18.6" fill="#2d5eaa" />
<polygon points="137.8,48.5 137.8,46.6 139.1,46.6 137.0,43.8 134.9,46.6 136.2,46.6 136.2,48.5" fill="#2d5eaa" />
<polygon points="155.2,48.5 155.2,46.6 156.5,46.6 154.4,43.8 152.3,46.6 153.6,46.6 153.6,48.5" fill="#2d5eaa" />
<polygon points="108.3,38.1 112.8,38.1 112.8,39.4 115.6,37.3 112.8,35.2 112.8,36.4 108.3,36.4" fill="#2d5eaa" />
<polygon points="112.8,33.5 117.2,33.5 117.2,34.7 120.0,32.6 117.2,30.5 117.2,31.8 112.8,31.8" fill="#2d5eaa" />
<polygon points="184.5,31.5 179.8,31.5 179.8,30.3 177.0,32.4 179.8,34.5 179.8,33.2 184.5,33.2" fill="#2d5eaa" />
<polygon points="187.0,36.4 182.4,36.4 182.4,35.1 179.6,37.2 182.4,39.3 182.4,38.1 187.0,38.1" fill="#2d5eaa" />
<polyline points="79.6,35.4 87.5,27.4 98.0,27.4" fill="none" stroke="#231f20" stroke-width="0.9" />
<polygon points="97.5,25.6 97.5,29.2 101.3,27.4" fill="#231f20" />
<circle cx="81.8" cy="33.4" r="1" fill="#231f20"/>
<text x="74.2" y="40.6" font-size="9.5" text-anchor="start" fill="#231f20" font-weight="normal" font-style="italic">x</text>
<text x="101.6" y="30.8" font-size="9.5" text-anchor="start" fill="#231f20" font-weight="normal" font-style="italic">y</text>
<text x="115.0" y="18.4" font-size="12" text-anchor="middle" fill="#231f20" font-weight="normal" >bP</text>
<line x1="118.80" y1="20.40" x2="126.50" y2="32.30" stroke="#111" stroke-width="1.0" />
<text x="177.5" y="18.4" font-size="12" text-anchor="middle" fill="#4aa83e" font-weight="normal" >MoS2</text>
<line x1="171.20" y1="20.80" x2="160.50" y2="32.50" stroke="#111" stroke-width="1.0" />
<text x="225.6" y="40.1" font-size="12" text-anchor="start" fill="#231f20" font-weight="normal" >Ni</text>
<line x1="195.40" y1="39.80" x2="222.40" y2="35.80" stroke="#111" stroke-width="1.0" />
<polygon points="140.8,61.5 140.8,72.8 138.2,72.8 142.4,79.8 146.6,72.8 144.1,72.8 144.1,61.5" fill="#d2151f" />
<polygon points="156.8,79.8 156.8,68.5 159.4,68.5 155.2,61.5 151.0,68.5 153.5,68.5 153.5,79.8" fill="#d2151f" />
<text x="92.8" y="75.6" font-size="12" text-anchor="middle" fill="#231f20" font-weight="normal" >Polyimide</text>
<path d="M69.5,102.3 Q146.5,64.1 223.5,102.3 L235,145 Q147.6,75.5 60.2,145 Z" fill="#ecc0a3"/>
<path d="M60.6,143.4 Q147.5,75.5 234.4,143.4 L232.2,149.4 Q147.5,81.7 63.5,149.4 Z" fill="#7a3a12"/>
<polygon points="77.5,121.5 91.3,104.8 116.0,91.0 107.3,109.2" fill="#efe2c6" />
<polygon points="177.0,89.5 201.0,97.0 217.0,122.2 187.9,108.4" fill="#efe2c6" />
<polyline points="77.5,121.8 107.3,109.2 117.8,89.5" fill="none" stroke="#111" stroke-width="1.3" />
<polyline points="177.0,89.5 187.9,108.4 217.0,122.2" fill="none" stroke="#111" stroke-width="1.3" />
<path d="M117.8,90 L127,89 L127,92.8 Q145,91.5 161,92.8 L161,98.6 Q140,96.8 112.5,101 Z" fill="#141414"/>
<path d="M117.8,90 L127.7,88.8 L127.7,93 L116.5,95.2 Z" fill="#555"/>
<path d="M126.5,87.2 Q148,80.5 171.5,84.3 L175,90 Q150,87 127,91 Z" fill="#3f9c31"/>
<path d="M127,91 Q150,87 175,90 L184.5,103.5 L172,101 L161,98.6 L161,92.8 Q145,91.5 127,92.8 Z" fill="#2b7b1f"/>
<polygon points="111.1,95.6 98.7,98.7 98.1,96.4 92.5,102.0 100.1,104.3 99.5,102.0 111.9,99.0" fill="#d2151f" />
<polygon points="184.9,98.9 197.8,101.6 197.3,103.9 204.8,101.3 199.0,95.9 198.5,98.2 185.5,95.5" fill="#d2151f" />
<text x="267.6" y="11.8" font-size="14" text-anchor="start" fill="#000" font-weight="bold" >b</text>
<ellipse cx="380" cy="60" rx="50" ry="38" fill="url(#glow)"/>
<text x="378.2" y="11.6" font-size="12" text-anchor="middle" fill="#231f20" font-weight="normal" >Mid-infrared</text>
<text x="378.2" y="25.6" font-size="12" text-anchor="middle" fill="#231f20" font-weight="normal" >light</text>
<polyline points="357.3,82.5 356.8,82.2 356.1,81.8 355.2,81.5 354.3,81.2 353.5,80.8 353.0,80.5 353.2,80.2 353.6,79.8 354.4,79.5 355.3,79.2 356.3,78.8 357.5,78.5 358.6,78.2 359.6,77.8 360.5,77.5 361.1,77.2 361.5,76.8 361.6,76.5 361.4,76.2 360.9,75.8 360.1,75.5 359.2,75.2 358.1,74.8 357.0,74.5 355.8,74.2 354.8,73.8 354.0,73.5 353.4,73.2 353.1,72.8 353.0,72.5 353.3,72.2 353.8,71.8 354.6,71.5 355.6,71.2 356.7,70.8 357.8,70.5 358.9,70.2 359.9,69.8 360.7,69.5 361.3,69.2 361.6,68.8 361.6,68.5 361.3,68.2 360.7,67.8 359.9,67.5 358.9,67.2 357.8,66.8 356.6,66.5 355.5,66.2 354.6,65.8 353.8,65.5 353.3,65.2 353.0,64.8 353.1,64.5 353.4,64.2 354.0,63.8 354.9,63.5 355.9,63.2 357.0,62.8 358.1,62.5 359.2,62.2 360.2,61.8 360.9,61.5 361.4,61.2 361.6,60.8 361.5,60.5 361.1,60.2 360.4,59.8 359.6,59.5 358.5,59.2 357.4,58.8 356.3,58.5 355.2,58.2 354.3,57.8 353.6,57.5 353.2,57.2 353.0,56.8 353.1,56.5 353.9,56.2 354.8,55.8 355.7,55.5 356.6,55.2 357.3,54.8 357.9,54.5 358.2,54.2 358.3,53.8 358.2,53.5 357.3,50.0" fill="none" stroke="#d91f29" stroke-width="1.9" stroke-linejoin="round" stroke-linecap="round"/>
<polygon points="355.0,51.5 359.6,51.5 357.3,45.0" fill="#d91f29" />
<polyline points="380.0,74.0 379.5,73.7 378.8,73.3 377.9,73.0 377.0,72.7 376.2,72.3 375.7,72.0 375.9,71.7 376.4,71.3 377.1,71.0 378.0,70.7 379.1,70.3 380.2,70.0 381.3,69.7 382.4,69.3 383.2,69.0 383.9,68.6 384.2,68.3 384.3,68.0 384.1,67.6 383.5,67.3 382.8,67.0 381.8,66.6 380.7,66.3 379.6,66.0 378.5,65.6 377.5,65.3 376.6,65.0 376.0,64.6 375.7,64.3 375.7,64.0 376.0,63.6 376.6,63.3 377.4,63.0 378.4,62.6 379.5,62.3 380.7,62.0 381.7,61.6 382.7,61.3 383.5,61.0 384.0,60.6 384.3,60.3 384.2,60.0 383.9,59.6 383.3,59.3 382.4,58.9 381.4,58.6 380.3,58.3 379.1,57.9 378.1,57.6 377.1,57.3 376.4,56.9 375.9,56.6 375.7,56.3 375.8,55.9 376.2,55.6 376.9,55.3 377.8,54.9 378.8,54.6 379.9,54.3 381.1,53.9 382.1,53.6 383.0,53.3 383.7,52.9 384.2,52.6 384.3,52.3 384.1,51.9 383.7,51.6 383.0,51.3 382.0,50.9 381.0,50.6 379.8,50.3 378.7,49.9 377.7,49.6 376.8,49.2 376.2,48.9 375.8,48.6 375.7,48.2 375.9,47.9 376.7,47.6 377.7,47.2 378.6,46.9 379.5,46.6 380.2,46.2 380.7,45.9 381.0,45.6 381.1,45.2 381.0,44.9 380.0,41.4" fill="none" stroke="#d91f29" stroke-width="1.9" stroke-linejoin="round" stroke-linecap="round"/>
<polygon points="377.7,42.9 382.3,42.9 380.0,36.4" fill="#d91f29" />
<polyline points="402.0,80.3 401.5,80.0 400.8,79.6 399.9,79.3 399.0,79.0 398.2,78.6 397.7,78.3 397.9,78.0 398.3,77.6 399.1,77.3 400.0,77.0 401.0,76.6 402.2,76.3 403.3,76.0 404.3,75.6 405.2,75.3 405.8,75.0 406.2,74.6 406.3,74.3 406.1,74.0 405.6,73.6 404.8,73.3 403.9,73.0 402.8,72.6 401.7,72.3 400.5,72.0 399.5,71.6 398.7,71.3 398.1,71.0 397.8,70.6 397.7,70.3 398.0,70.0 398.5,69.6 399.3,69.3 400.3,69.0 401.4,68.6 402.5,68.3 403.6,68.0 404.6,67.6 405.4,67.3 406.0,67.0 406.3,66.6 406.3,66.3 406.0,66.0 405.4,65.6 404.6,65.3 403.6,65.0 402.5,64.6 401.3,64.3 400.2,64.0 399.3,63.6 398.5,63.3 398.0,63.0 397.7,62.6 397.8,62.3 398.1,62.0 398.7,61.6 399.6,61.3 400.6,61.0 401.7,60.6 402.8,60.3 403.9,60.0 404.9,59.6 405.6,59.3 406.1,59.0 406.3,58.6 406.2,58.3 405.8,58.0 405.1,57.6 404.3,57.3 403.2,57.0 402.1,56.6 401.0,56.3 399.9,56.0 399.0,55.6 398.3,55.3 397.9,55.0 397.7,54.6 397.8,54.3 398.6,54.0 399.5,53.6 400.4,53.3 401.3,53.0 402.0,52.6 402.6,52.3 402.9,52.0 403.0,51.6 402.9,51.3 402.0,47.8" fill="none" stroke="#d91f29" stroke-width="1.9" stroke-linejoin="round" stroke-linecap="round"/>
<polygon points="399.7,49.3 404.3,49.3 402.0,42.8" fill="#d91f29" />
<text x="311.3" y="88.5" font-size="12" text-anchor="middle" fill="#231f20" font-weight="normal" >Drain</text>
<text x="442.0" y="88.5" font-size="12" text-anchor="middle" fill="#231f20" font-weight="normal" >Source</text>
<polyline points="302.2,97.8 281.6,97.8 281.6,139.0 375.3,139.0" fill="none" stroke="#231f20" stroke-width="1.2" />
<polyline points="378.4,139.0 474.5,139.0 474.5,97.8 454.7,97.8" fill="none" stroke="#231f20" stroke-width="1.2" />
<line x1="375.30" y1="131.40" x2="375.30" y2="145.40" stroke="#231f20" stroke-width="1.3" />
<line x1="378.60" y1="135.30" x2="378.60" y2="142.40" stroke="#231f20" stroke-width="2.2" />
<rect x="293.8" y="102.4" width="170.6" height="25.9" fill="#a0806d"/>
<rect x="303.0" y="93.5" width="33.5" height="8.9" fill="#e8cf98"/>
<rect x="420.8" y="93.5" width="34.8" height="8.9" fill="#e8cf98"/>
<rect x="336.5" y="96.3" width="58.7" height="6.1" fill="#5a5858"/>
<polygon points="358.5,91.6 393.2,91.6 401.3,98.3 420.8,98.3 420.8,102.4 399.5,102.4 391.5,96.3 358.5,96.3" fill="#3a9a30" />
<circle cx="302.2" cy="97.8" r="2.1" fill="#111"/>
<circle cx="454.7" cy="97.8" r="2.1" fill="#111"/>
<text x="492.0" y="11.6" font-size="14" text-anchor="start" fill="#000" font-weight="bold" >c</text>
<g clip-path="url(#cclip)">
<rect x="524.3" y="0.5" width="142.4" height="142.6" fill="#3d2519"/>
<polygon points="538.3,46.5 668.5,53.5 668.5,104.7 654.5,98.8 645.2,74.4 624.3,64.0 591.7,62.3 542.9,67.4 524.3,69.8" fill="#4d3d37" />
<polygon points="545.9,11.6 666.6,18.1 667.3,69.8 645.2,57.7 612.7,52.6 544.8,47.9" fill="#f2dca0" />
<polygon points="532.4,10.5 545.2,13.5 544.8,47.9 542.9,67.4 537.8,46.5" fill="#40302b" />
<polygon points="591.7,104.7 656.9,95.8 662.7,97.2 668.5,101.2 668.5,132.6 631.3,119.1" fill="url(#mos2g)" />
<polygon points="524.3,69.8 542.9,67.4 546.4,77.9 561.5,93.0 591.7,104.7 544.1,111.6 524.3,114.0" fill="#6f5d58" />
<polygon points="542.9,67.4 591.7,62.3 624.3,64.0 645.2,74.4 658.0,89.5 656.9,95.3 629.0,100.0 591.7,104.7 561.5,93.0 546.4,77.9" fill="#ba6e43" />
<polygon points="523.8,69.8 527.8,69.8 544.1,109.3 523.8,114.0" fill="#f0c58e" />
</g>
<g fill="#fbf6f0"><circle cx="542.9" cy="67.4" r="0.9"/><circle cx="545.5" cy="67.2" r="0.9"/><circle cx="548.2" cy="66.9" r="0.9"/><circle cx="550.8" cy="66.6" r="0.9"/><circle cx="553.4" cy="66.3" r="0.9"/><circle cx="556.1" cy="66.1" r="0.9"/><circle cx="558.7" cy="65.8" r="0.9"/><circle cx="561.4" cy="65.5" r="0.9"/><circle cx="564.0" cy="65.2" r="0.9"/><circle cx="566.6" cy="65.0" r="0.9"/><circle cx="569.3" cy="64.7" r="0.9"/><circle cx="571.9" cy="64.4" r="0.9"/><circle cx="574.5" cy="64.1" r="0.9"/><circle cx="577.2" cy="63.9" r="0.9"/><circle cx="579.8" cy="63.6" r="0.9"/><circle cx="582.4" cy="63.3" r="0.9"/><circle cx="585.1" cy="63.0" r="0.9"/><circle cx="587.7" cy="62.7" r="0.9"/><circle cx="590.3" cy="62.5" r="0.9"/><circle cx="593.0" cy="62.4" r="0.9"/><circle cx="595.6" cy="62.5" r="0.9"/><circle cx="598.3" cy="62.7" r="0.9"/><circle cx="600.9" cy="62.8" r="0.9"/><circle cx="603.6" cy="62.9" r="0.9"/><circle cx="606.2" cy="63.0" r="0.9"/><circle cx="608.9" cy="63.2" r="0.9"/><circle cx="611.5" cy="63.3" r="0.9"/><circle cx="614.2" cy="63.4" r="0.9"/><circle cx="616.8" cy="63.6" r="0.9"/><circle cx="619.5" cy="63.7" r="0.9"/><circle cx="622.1" cy="63.8" r="0.9"/><circle cx="624.7" cy="64.2" r="0.9"/><circle cx="627.1" cy="65.3" r="0.9"/><circle cx="629.4" cy="66.5" r="0.9"/><circle cx="631.8" cy="67.7" r="0.9"/><circle cx="634.2" cy="68.9" r="0.9"/><circle cx="636.6" cy="70.1" r="0.9"/><circle cx="638.9" cy="71.3" r="0.9"/><circle cx="641.3" cy="72.4" r="0.9"/><circle cx="643.7" cy="73.6" r="0.9"/><circle cx="645.8" cy="75.1" r="0.9"/><circle cx="647.5" cy="77.1" r="0.9"/><circle cx="649.2" cy="79.1" r="0.9"/><circle cx="650.9" cy="81.2" r="0.9"/><circle cx="652.7" cy="83.2" r="0.9"/><circle cx="654.4" cy="85.2" r="0.9"/><circle cx="656.1" cy="87.2" r="0.9"/><circle cx="657.8" cy="89.3" r="0.9"/><circle cx="657.6" cy="91.8" r="0.9"/><circle cx="657.1" cy="94.4" r="0.9"/><circle cx="655.2" cy="95.6" r="0.9"/><circle cx="652.6" cy="96.1" r="0.9"/><circle cx="650.0" cy="96.5" r="0.9"/><circle cx="647.4" cy="96.9" r="0.9"/><circle cx="644.8" cy="97.4" r="0.9"/><circle cx="642.1" cy="97.8" r="0.9"/><circle cx="639.5" cy="98.2" r="0.9"/><circle cx="636.9" cy="98.7" r="0.9"/><circle cx="634.3" cy="99.1" r="0.9"/><circle cx="631.7" cy="99.5" r="0.9"/><circle cx="629.1" cy="100.0" r="0.9"/><circle cx="626.4" cy="100.3" r="0.9"/><circle cx="623.8" cy="100.6" r="0.9"/><circle cx="621.2" cy="101.0" r="0.9"/><circle cx="618.6" cy="101.3" r="0.9"/><circle cx="615.9" cy="101.6" r="0.9"/><circle cx="613.3" cy="102.0" r="0.9"/><circle cx="610.7" cy="102.3" r="0.9"/><circle cx="608.0" cy="102.6" r="0.9"/><circle cx="605.4" cy="102.9" r="0.9"/><circle cx="602.8" cy="103.3" r="0.9"/><circle cx="600.2" cy="103.6" r="0.9"/><circle cx="597.5" cy="103.9" r="0.9"/><circle cx="594.9" cy="104.3" r="0.9"/><circle cx="592.3" cy="104.6" r="0.9"/><circle cx="589.8" cy="103.9" r="0.9"/><circle cx="587.3" cy="102.9" r="0.9"/><circle cx="584.8" cy="102.0" r="0.9"/><circle cx="582.3" cy="101.0" r="0.9"/><circle cx="579.9" cy="100.1" r="0.9"/><circle cx="577.4" cy="99.1" r="0.9"/><circle cx="574.9" cy="98.2" r="0.9"/><circle cx="572.4" cy="97.2" r="0.9"/><circle cx="570.0" cy="96.3" r="0.9"/><circle cx="567.5" cy="95.3" r="0.9"/><circle cx="565.0" cy="94.4" r="0.9"/><circle cx="562.6" cy="93.4" r="0.9"/><circle cx="560.4" cy="91.9" r="0.9"/><circle cx="558.6" cy="90.1" r="0.9"/><circle cx="556.7" cy="88.2" r="0.9"/><circle cx="554.8" cy="86.3" r="0.9"/><circle cx="552.9" cy="84.4" r="0.9"/><circle cx="551.1" cy="82.6" r="0.9"/><circle cx="549.2" cy="80.7" r="0.9"/><circle cx="547.3" cy="78.8" r="0.9"/><circle cx="546.0" cy="76.6" r="0.9"/><circle cx="545.1" cy="74.1" r="0.9"/><circle cx="544.3" cy="71.6" r="0.9"/><circle cx="543.5" cy="69.1" r="0.9"/></g>
<g fill="#fbf6f0"><circle cx="524.3" cy="69.3" r="0.9"/><circle cx="526.9" cy="69.0" r="0.9"/><circle cx="529.6" cy="68.8" r="0.9"/><circle cx="532.2" cy="68.5" r="0.9"/><circle cx="534.8" cy="68.2" r="0.9"/><circle cx="537.5" cy="68.0" r="0.9"/><circle cx="540.1" cy="67.7" r="0.9"/><circle cx="542.8" cy="67.5" r="0.9"/></g>
<g fill="#fbf6f0"><circle cx="545.2" cy="13.5" r="0.9"/><circle cx="542.7" cy="12.9" r="0.9"/><circle cx="540.1" cy="12.3" r="0.9"/><circle cx="537.5" cy="11.7" r="0.9"/><circle cx="534.9" cy="11.1" r="0.9"/><circle cx="532.5" cy="10.6" r="0.9"/><circle cx="532.8" cy="13.2" r="0.9"/><circle cx="533.2" cy="15.8" r="0.9"/><circle cx="533.6" cy="18.4" r="0.9"/><circle cx="534.0" cy="21.1" r="0.9"/><circle cx="534.4" cy="23.7" r="0.9"/><circle cx="534.8" cy="26.3" r="0.9"/><circle cx="535.2" cy="28.9" r="0.9"/><circle cx="535.6" cy="31.5" r="0.9"/><circle cx="536.0" cy="34.2" r="0.9"/><circle cx="536.3" cy="36.8" r="0.9"/><circle cx="536.7" cy="39.4" r="0.9"/><circle cx="537.1" cy="42.0" r="0.9"/><circle cx="537.5" cy="44.6" r="0.9"/><circle cx="538.0" cy="47.3" r="0.9"/><circle cx="538.6" cy="49.8" r="0.9"/><circle cx="539.2" cy="52.4" r="0.9"/><circle cx="539.9" cy="55.0" r="0.9"/><circle cx="540.5" cy="57.6" r="0.9"/><circle cx="541.1" cy="60.1" r="0.9"/><circle cx="541.7" cy="62.7" r="0.9"/><circle cx="542.4" cy="65.3" r="0.9"/></g>
<g fill="#fbf6f0"><circle cx="527.8" cy="69.8" r="0.9"/><circle cx="528.8" cy="72.2" r="0.9"/><circle cx="529.8" cy="74.7" r="0.9"/><circle cx="530.8" cy="77.1" r="0.9"/><circle cx="531.8" cy="79.6" r="0.9"/><circle cx="532.8" cy="82.0" r="0.9"/><circle cx="533.8" cy="84.5" r="0.9"/><circle cx="534.9" cy="86.9" r="0.9"/><circle cx="535.9" cy="89.4" r="0.9"/><circle cx="536.9" cy="91.8" r="0.9"/><circle cx="537.9" cy="94.3" r="0.9"/><circle cx="538.9" cy="96.7" r="0.9"/><circle cx="539.9" cy="99.2" r="0.9"/><circle cx="540.9" cy="101.6" r="0.9"/><circle cx="541.9" cy="104.1" r="0.9"/><circle cx="542.9" cy="106.5" r="0.9"/><circle cx="543.9" cy="109.0" r="0.9"/><circle cx="546.4" cy="109.3" r="0.9"/><circle cx="549.0" cy="109.3" r="0.9"/><circle cx="551.7" cy="109.3" r="0.9"/><circle cx="554.3" cy="109.3" r="0.9"/><circle cx="557.0" cy="109.3" r="0.9"/><circle cx="559.6" cy="109.3" r="0.9"/><circle cx="562.3" cy="109.2" r="0.9"/><circle cx="564.9" cy="108.8" r="0.9"/><circle cx="567.5" cy="108.4" r="0.9"/><circle cx="570.1" cy="108.0" r="0.9"/><circle cx="572.7" cy="107.6" r="0.9"/><circle cx="575.4" cy="107.2" r="0.9"/><circle cx="578.0" cy="106.8" r="0.9"/><circle cx="580.6" cy="106.4" r="0.9"/><circle cx="583.2" cy="106.0" r="0.9"/><circle cx="585.8" cy="105.6" r="0.9"/><circle cx="588.4" cy="105.2" r="0.9"/><circle cx="591.1" cy="104.8" r="0.9"/><circle cx="593.6" cy="105.3" r="0.9"/><circle cx="596.1" cy="106.2" r="0.9"/><circle cx="598.6" cy="107.1" r="0.9"/><circle cx="601.1" cy="108.0" r="0.9"/><circle cx="603.5" cy="109.0" r="0.9"/><circle cx="606.0" cy="109.9" r="0.9"/><circle cx="608.5" cy="110.8" r="0.9"/><circle cx="611.0" cy="111.7" r="0.9"/><circle cx="613.5" cy="112.6" r="0.9"/><circle cx="616.0" cy="113.5" r="0.9"/><circle cx="618.5" cy="114.4" r="0.9"/><circle cx="621.0" cy="115.3" r="0.9"/><circle cx="623.5" cy="116.2" r="0.9"/><circle cx="626.0" cy="117.1" r="0.9"/><circle cx="628.4" cy="118.0" r="0.9"/><circle cx="630.9" cy="118.9" r="0.9"/><circle cx="633.4" cy="119.8" r="0.9"/><circle cx="635.9" cy="120.7" r="0.9"/><circle cx="638.4" cy="121.6" r="0.9"/><circle cx="640.9" cy="122.4" r="0.9"/><circle cx="643.4" cy="123.3" r="0.9"/><circle cx="645.9" cy="124.2" r="0.9"/><circle cx="648.4" cy="125.1" r="0.9"/><circle cx="651.0" cy="125.9" r="0.9"/><circle cx="653.5" cy="126.8" r="0.9"/><circle cx="656.0" cy="127.7" r="0.9"/><circle cx="658.5" cy="128.5" r="0.9"/><circle cx="661.0" cy="129.4" r="0.9"/><circle cx="663.5" cy="130.3" r="0.9"/><circle cx="666.0" cy="131.2" r="0.9"/></g>
<rect x="531.7" y="132.5" width="41.9" height="4.2" fill="#fff"/>
<text x="553.4" y="129.8" font-size="11.5" text-anchor="middle" fill="#fff" font-weight="normal" >30 µm</text>
<text x="612.7" y="140.3" font-size="11.5" text-anchor="middle" fill="#fff" font-weight="normal" >Strain</text>
<polygon points="600.1,125.4 611.6,123.9 611.8,125.5 615.5,122.7 611.2,121.0 611.4,122.6 599.9,124.2" fill="#fff" />
<polygon points="599.9,124.2 588.4,125.7 588.2,124.1 584.5,126.9 588.8,128.6 588.6,127.0 600.1,125.4" fill="#fff" />
<text x="618.5" y="39.2" font-size="11.5" text-anchor="middle" fill="#1a1410" font-weight="normal" >Ni (S)</text>
<text x="529.5" y="99.4" font-size="11.5" text-anchor="middle" fill="#1a1410" font-weight="normal" >Ni</text>
<text x="530.0" y="112.2" font-size="11.5" text-anchor="middle" fill="#1a1410" font-weight="normal" >(D)</text>
<text x="554.8" y="106.4" font-size="11.5" text-anchor="middle" fill="#f0e4dc" font-weight="normal" >bP</text>
<text x="628.5" y="118.2" font-size="11.5" text-anchor="start" fill="#f0e4dc" font-weight="normal" >MoS<tspan font-size="8" dy="3">2</tspan></text>
<polygon points="552.3,76.8 579.2,72.7 579.5,74.5 584.0,71.0 578.6,69.0 578.9,70.8 552.1,74.8" fill="#f8f0ea" />
<text x="587.5" y="72.6" font-size="11.5" text-anchor="start" fill="#f3c49b" font-weight="normal" font-style="italic">y</text>
<g clip-path="url(#dclip)">
<rect x="77.9" y="167.8" width="232.2" height="222.3" fill="rgb(46,0,0)"/>
<g filter="url(#dblur)">
<rect x="75.9" y="164.8" width="237.2" height="3.6" fill="url(#h0)"/>
<rect x="75.9" y="167.8" width="237.2" height="3.6" fill="url(#h1)"/>
<rect x="75.9" y="170.8" width="237.2" height="3.6" fill="url(#h2)"/>
<rect x="75.9" y="173.8" width="237.2" height="3.6" fill="url(#h3)"/>
<rect x="75.9" y="176.8" width="237.2" height="3.6" fill="url(#h4)"/>
<rect x="75.9" y="179.8" width="237.2" height="3.6" fill="url(#h5)"/>
<rect x="75.9" y="182.8" width="237.2" height="3.6" fill="url(#h6)"/>
<rect x="75.9" y="185.8" width="237.2" height="3.6" fill="url(#h7)"/>
<rect x="75.9" y="188.8" width="237.2" height="3.6" fill="url(#h8)"/>
<rect x="75.9" y="191.8" width="237.2" height="3.6" fill="url(#h9)"/>
<rect x="75.9" y="194.8" width="237.2" height="3.6" fill="url(#h10)"/>
<rect x="75.9" y="197.8" width="237.2" height="3.6" fill="url(#h11)"/>
<rect x="75.9" y="200.8" width="237.2" height="3.6" fill="url(#h12)"/>
<rect x="75.9" y="203.8" width="237.2" height="3.6" fill="url(#h13)"/>
<rect x="75.9" y="206.8" width="237.2" height="3.6" fill="url(#h14)"/>
<rect x="75.9" y="209.8" width="237.2" height="3.6" fill="url(#h15)"/>
<rect x="75.9" y="212.8" width="237.2" height="3.6" fill="url(#h16)"/>
<rect x="75.9" y="215.8" width="237.2" height="3.6" fill="url(#h17)"/>
<rect x="75.9" y="218.8" width="237.2" height="3.6" fill="url(#h18)"/>
<rect x="75.9" y="221.8" width="237.2" height="3.6" fill="url(#h19)"/>
<rect x="75.9" y="224.8" width="237.2" height="3.6" fill="url(#h20)"/>
<rect x="75.9" y="227.8" width="237.2" height="3.6" fill="url(#h21)"/>
<rect x="75.9" y="230.8" width="237.2" height="3.6" fill="url(#h22)"/>
<rect x="75.9" y="233.8" width="237.2" height="3.6" fill="url(#h23)"/>
<rect x="75.9" y="236.8" width="237.2" height="3.6" fill="url(#h24)"/>
<rect x="75.9" y="239.8" width="237.2" height="3.6" fill="url(#h25)"/>
<rect x="75.9" y="242.8" width="237.2" height="3.6" fill="url(#h26)"/>
<rect x="75.9" y="245.8" width="237.2" height="3.6" fill="url(#h27)"/>
<rect x="75.9" y="248.8" width="237.2" height="3.6" fill="url(#h28)"/>
<rect x="75.9" y="251.8" width="237.2" height="3.6" fill="url(#h29)"/>
<rect x="75.9" y="254.8" width="237.2" height="3.6" fill="url(#h30)"/>
<rect x="75.9" y="257.8" width="237.2" height="3.6" fill="url(#h31)"/>
<rect x="75.9" y="260.8" width="237.2" height="3.6" fill="url(#h32)"/>
<rect x="75.9" y="263.8" width="237.2" height="3.6" fill="url(#h33)"/>
<rect x="75.9" y="266.8" width="237.2" height="3.6" fill="url(#h34)"/>
<rect x="75.9" y="269.8" width="237.2" height="3.6" fill="url(#h35)"/>
<rect x="75.9" y="272.8" width="237.2" height="3.6" fill="url(#h36)"/>
<rect x="75.9" y="275.8" width="237.2" height="3.6" fill="url(#h37)"/>
<rect x="75.9" y="278.8" width="237.2" height="3.6" fill="url(#h38)"/>
<rect x="75.9" y="281.8" width="237.2" height="3.6" fill="url(#h39)"/>
<rect x="75.9" y="284.8" width="237.2" height="3.6" fill="url(#h40)"/>
<rect x="75.9" y="287.8" width="237.2" height="3.6" fill="url(#h41)"/>
<rect x="75.9" y="290.8" width="237.2" height="3.6" fill="url(#h42)"/>
<rect x="75.9" y="293.8" width="237.2" height="3.6" fill="url(#h43)"/>
<rect x="75.9" y="296.8" width="237.2" height="3.6" fill="url(#h44)"/>
<rect x="75.9" y="299.8" width="237.2" height="3.6" fill="url(#h45)"/>
<rect x="75.9" y="302.8" width="237.2" height="3.6" fill="url(#h46)"/>
<rect x="75.9" y="305.8" width="237.2" height="3.6" fill="url(#h47)"/>
<rect x="75.9" y="308.8" width="237.2" height="3.6" fill="url(#h48)"/>
<rect x="75.9" y="311.8" width="237.2" height="3.6" fill="url(#h49)"/>
<rect x="75.9" y="314.8" width="237.2" height="3.6" fill="url(#h50)"/>
<rect x="75.9" y="317.8" width="237.2" height="3.6" fill="url(#h51)"/>
<rect x="75.9" y="320.8" width="237.2" height="3.6" fill="url(#h52)"/>
<rect x="75.9" y="323.8" width="237.2" height="3.6" fill="url(#h53)"/>
<rect x="75.9" y="326.8" width="237.2" height="3.6" fill="url(#h54)"/>
<rect x="75.9" y="329.8" width="237.2" height="3.6" fill="url(#h55)"/>
<rect x="75.9" y="332.8" width="237.2" height="3.6" fill="url(#h56)"/>
<rect x="75.9" y="335.8" width="237.2" height="3.6" fill="url(#h57)"/>
<rect x="75.9" y="338.8" width="237.2" height="3.6" fill="url(#h58)"/>
<rect x="75.9" y="341.8" width="237.2" height="3.6" fill="url(#h59)"/>
<rect x="75.9" y="344.8" width="237.2" height="3.6" fill="url(#h60)"/>
<rect x="75.9" y="347.8" width="237.2" height="3.6" fill="url(#h61)"/>
<rect x="75.9" y="350.8" width="237.2" height="3.6" fill="url(#h62)"/>
<rect x="75.9" y="353.8" width="237.2" height="3.6" fill="url(#h63)"/>
<rect x="75.9" y="356.8" width="237.2" height="3.6" fill="url(#h64)"/>
<rect x="75.9" y="359.8" width="237.2" height="3.6" fill="url(#h65)"/>
<rect x="75.9" y="362.8" width="237.2" height="3.6" fill="url(#h66)"/>
<rect x="75.9" y="365.8" width="237.2" height="3.6" fill="url(#h67)"/>
<rect x="75.9" y="368.8" width="237.2" height="3.6" fill="url(#h68)"/>
<rect x="75.9" y="371.8" width="237.2" height="3.6" fill="url(#h69)"/>
<rect x="75.9" y="374.8" width="237.2" height="3.6" fill="url(#h70)"/>
<rect x="75.9" y="377.8" width="237.2" height="3.6" fill="url(#h71)"/>
<rect x="75.9" y="380.8" width="237.2" height="3.6" fill="url(#h72)"/>
<rect x="75.9" y="383.8" width="237.2" height="3.6" fill="url(#h73)"/>
<rect x="75.9" y="386.8" width="237.2" height="3.6" fill="url(#h74)"/>
<rect x="75.9" y="389.8" width="237.2" height="3.6" fill="url(#h75)"/>
<rect x="75.9" y="392.8" width="237.2" height="3.6" fill="url(#h76)"/>
</g>
<g transform="translate(255,325) scale(0.08718)">
<path d="M105,95 H305 V250 L425,245 V95 H625 V595 H425 V355 C370,368 330,420 318,480 L300,595 H110 C115,500 150,450 200,405 L130,432 Q110,428 105,405 Z" fill="#6b4343"/>
<path d="M128,434 C220,350 350,285 495,255" fill="none" stroke="#3a0000" stroke-width="9"/>
</g>
</g>
<line x1="77.90" y1="167.80" x2="77.90" y2="390.10" stroke="#231f20" stroke-width="1" />
<line x1="77.90" y1="390.10" x2="310.10" y2="390.10" stroke="#231f20" stroke-width="1" />
<rect x="248.1" y="190.5" width="11.3" height="74.5" fill="url(#cbar)" stroke="#f8efe8" stroke-width="1"/>
<line x1="259.90" y1="195.50" x2="262.60" y2="195.50" stroke="#f0dcd6" stroke-width="1" />
<text x="265.6" y="199.6" font-size="11.5" text-anchor="start" fill="#f3ddd6" font-weight="normal" >70</text>
<line x1="259.90" y1="213.20" x2="262.60" y2="213.20" stroke="#f0dcd6" stroke-width="1" />
<text x="265.6" y="217.3" font-size="11.5" text-anchor="start" fill="#f3ddd6" font-weight="normal" >50</text>
<line x1="259.90" y1="230.60" x2="262.60" y2="230.60" stroke="#f0dcd6" stroke-width="1" />
<text x="265.6" y="234.7" font-size="11.5" text-anchor="start" fill="#f3ddd6" font-weight="normal" >30</text>
<line x1="259.90" y1="248.10" x2="262.60" y2="248.10" stroke="#f0dcd6" stroke-width="1" />
<text x="265.6" y="252.2" font-size="11.5" text-anchor="start" fill="#f3ddd6" font-weight="normal" >10</text>
<g transform="translate(290.2,224.5) rotate(-90)">
<text x="0.0" y="0.0" font-size="10.5" text-anchor="middle" fill="#f0d2ca" font-weight="normal" >Electroluminescence</text>
</g>
<g transform="translate(303.8,224.5) rotate(-90)">
<text x="0.0" y="0.0" font-size="10.5" text-anchor="middle" fill="#f0d2ca" font-weight="normal" >intensity (counts s<tspan font-size="7" dy="-4">−1</tspan><tspan dy="4">)</tspan></text>
</g>
<line x1="67.90" y1="389.70" x2="77.90" y2="389.70" stroke="#231f20" stroke-width="1.1" />
<text x="63.6" y="394.0" font-size="12" text-anchor="end" fill="#231f20" font-weight="normal" >−0.2</text>
<line x1="72.90" y1="372.20" x2="77.90" y2="372.20" stroke="#231f20" stroke-width="1.1" />
<line x1="67.90" y1="354.70" x2="77.90" y2="354.70" stroke="#231f20" stroke-width="1.1" />
<text x="63.6" y="359.0" font-size="12" text-anchor="end" fill="#231f20" font-weight="normal" >0.0</text>
<line x1="72.90" y1="337.20" x2="77.90" y2="337.20" stroke="#231f20" stroke-width="1.1" />
<line x1="67.90" y1="319.70" x2="77.90" y2="319.70" stroke="#231f20" stroke-width="1.1" />
<text x="63.6" y="324.0" font-size="12" text-anchor="end" fill="#231f20" font-weight="normal" >0.2</text>
<line x1="72.90" y1="302.20" x2="77.90" y2="302.20" stroke="#231f20" stroke-width="1.1" />
<line x1="67.90" y1="284.70" x2="77.90" y2="284.70" stroke="#231f20" stroke-width="1.1" />
<text x="63.6" y="289.0" font-size="12" text-anchor="end" fill="#231f20" font-weight="normal" >0.4</text>
<line x1="72.90" y1="267.20" x2="77.90" y2="267.20" stroke="#231f20" stroke-width="1.1" />
<line x1="67.90" y1="249.70" x2="77.90" y2="249.70" stroke="#231f20" stroke-width="1.1" />
<text x="63.6" y="254.0" font-size="12" text-anchor="end" fill="#231f20" font-weight="normal" >0.6</text>
<line x1="72.90" y1="232.20" x2="77.90" y2="232.20" stroke="#231f20" stroke-width="1.1" />
<line x1="67.90" y1="214.70" x2="77.90" y2="214.70" stroke="#231f20" stroke-width="1.1" />
<text x="63.6" y="219.0" font-size="12" text-anchor="end" fill="#231f20" font-weight="normal" >0.8</text>
<line x1="72.90" y1="197.20" x2="77.90" y2="197.20" stroke="#231f20" stroke-width="1.1" />
<line x1="67.90" y1="179.70" x2="77.90" y2="179.70" stroke="#231f20" stroke-width="1.1" />
<text x="63.6" y="184.0" font-size="12" text-anchor="end" fill="#231f20" font-weight="normal" >1.0</text>
<line x1="101.40" y1="390.10" x2="101.40" y2="400.10" stroke="#231f20" stroke-width="1.1" />
<text x="101.4" y="414.3" font-size="12" text-anchor="middle" fill="#231f20" font-weight="normal" >2</text>
<line x1="127.35" y1="390.10" x2="127.35" y2="395.10" stroke="#231f20" stroke-width="1.1" />
<line x1="153.30" y1="390.10" x2="153.30" y2="400.10" stroke="#231f20" stroke-width="1.1" />
<text x="153.3" y="414.3" font-size="12" text-anchor="middle" fill="#231f20" font-weight="normal" >3</text>
<line x1="179.25" y1="390.10" x2="179.25" y2="395.10" stroke="#231f20" stroke-width="1.1" />
<line x1="205.20" y1="390.10" x2="205.20" y2="400.10" stroke="#231f20" stroke-width="1.1" />
<text x="205.2" y="414.3" font-size="12" text-anchor="middle" fill="#231f20" font-weight="normal" >4</text>
<line x1="231.15" y1="390.10" x2="231.15" y2="395.10" stroke="#231f20" stroke-width="1.1" />
<line x1="257.10" y1="390.10" x2="257.10" y2="400.10" stroke="#231f20" stroke-width="1.1" />
<text x="257.1" y="414.3" font-size="12" text-anchor="middle" fill="#231f20" font-weight="normal" >5</text>
<line x1="283.05" y1="390.10" x2="283.05" y2="395.10" stroke="#231f20" stroke-width="1.1" />
<line x1="309.00" y1="390.10" x2="309.00" y2="400.10" stroke="#231f20" stroke-width="1.1" />
<text x="309.0" y="414.3" font-size="12" text-anchor="middle" fill="#231f20" font-weight="normal" >6</text>
<line x1="77.90" y1="390.10" x2="77.90" y2="390.10" stroke="#231f20" stroke-width="1" />
<text x="196.3" y="429.6" font-size="12" text-anchor="middle" fill="#231f20" font-weight="normal" >Wavelength (µm)</text>
<g transform="translate(36.3,276.8) rotate(-90)">
<text x="0.0" y="0.0" font-size="12" text-anchor="middle" fill="#231f20" font-weight="normal" >Strain (%)</text>
</g>
<text x="-0.3" y="180.2" font-size="14" text-anchor="start" fill="#000" font-weight="bold" >d</text>
<rect x="412.6" y="169.9" width="271.2" height="218.5" fill="none" stroke="#231f20" stroke-width="1.1"/>
<line x1="402.60" y1="388.60" x2="412.60" y2="388.60" stroke="#231f20" stroke-width="1.1" />
<text x="396.2" y="394.2" font-size="12" text-anchor="end" fill="#231f20" font-weight="normal" >0</text>
<line x1="407.10" y1="362.53" x2="412.60" y2="362.53" stroke="#231f20" stroke-width="1.1" />
<line x1="402.60" y1="336.45" x2="412.60" y2="336.45" stroke="#231f20" stroke-width="1.1" />
<text x="396.2" y="342.1" font-size="12" text-anchor="end" fill="#231f20" font-weight="normal" >50</text>
<line x1="407.10" y1="310.38" x2="412.60" y2="310.38" stroke="#231f20" stroke-width="1.1" />
<line x1="402.60" y1="284.30" x2="412.60" y2="284.30" stroke="#231f20" stroke-width="1.1" />
<text x="396.2" y="289.9" font-size="12" text-anchor="end" fill="#231f20" font-weight="normal" >100</text>
<line x1="407.10" y1="258.23" x2="412.60" y2="258.23" stroke="#231f20" stroke-width="1.1" />
<line x1="402.60" y1="232.15" x2="412.60" y2="232.15" stroke="#231f20" stroke-width="1.1" />
<text x="396.2" y="237.8" font-size="12" text-anchor="end" fill="#231f20" font-weight="normal" >150</text>
<line x1="407.10" y1="206.08" x2="412.60" y2="206.08" stroke="#231f20" stroke-width="1.1" />
<line x1="407.10" y1="180.00" x2="412.60" y2="180.00" stroke="#231f20" stroke-width="1.1" />
<line x1="420.00" y1="388.40" x2="420.00" y2="398.40" stroke="#231f20" stroke-width="1.1" />
<text x="420.0" y="411.6" font-size="12" text-anchor="middle" fill="#231f20" font-weight="normal" >0</text>
<line x1="450.45" y1="388.40" x2="450.45" y2="393.40" stroke="#231f20" stroke-width="1.1" />
<line x1="480.90" y1="388.40" x2="480.90" y2="398.40" stroke="#231f20" stroke-width="1.1" />
<text x="480.9" y="411.6" font-size="12" text-anchor="middle" fill="#231f20" font-weight="normal" >20</text>
<line x1="511.35" y1="388.40" x2="511.35" y2="393.40" stroke="#231f20" stroke-width="1.1" />
<line x1="541.80" y1="388.40" x2="541.80" y2="398.40" stroke="#231f20" stroke-width="1.1" />
<text x="541.8" y="411.6" font-size="12" text-anchor="middle" fill="#231f20" font-weight="normal" >40</text>
<line x1="572.25" y1="388.40" x2="572.25" y2="393.40" stroke="#231f20" stroke-width="1.1" />
<line x1="602.70" y1="388.40" x2="602.70" y2="398.40" stroke="#231f20" stroke-width="1.1" />
<text x="602.7" y="411.6" font-size="12" text-anchor="middle" fill="#231f20" font-weight="normal" >60</text>
<line x1="633.15" y1="388.40" x2="633.15" y2="393.40" stroke="#231f20" stroke-width="1.1" />
<line x1="663.60" y1="388.40" x2="663.60" y2="398.40" stroke="#231f20" stroke-width="1.1" />
<text x="663.6" y="411.6" font-size="12" text-anchor="middle" fill="#231f20" font-weight="normal" >80</text>
<text x="550.5" y="431.2" font-size="12.3" text-anchor="middle" fill="#231f20" font-weight="normal" >Current density (A cm<tspan font-size="8" dy="-5">−2</tspan><tspan dy="5">)</tspan></text>
<g transform="translate(368.2,277.6) rotate(-90)">
<text x="0.0" y="0.0" font-size="12.4" text-anchor="middle" fill="#231f20" font-weight="normal" >Output power density (mW cm<tspan font-size="8" dy="-5">−2</tspan><tspan dy="5">)</tspan></text>
</g>
<text x="339.5" y="180.4" font-size="14" text-anchor="start" fill="#000" font-weight="bold" >e</text>
<circle cx="432.2" cy="377.6" r="4.4" fill="#e01a22"/>
<circle cx="450.4" cy="360.4" r="4.4" fill="#e01a22"/>
<circle cx="480.9" cy="333.0" r="4.4" fill="#e01a22"/>
<circle cx="511.4" cy="308.7" r="4.4" fill="#e01a22"/>
<circle cx="541.8" cy="285.6" r="4.4" fill="#e01a22"/>
<circle cx="572.2" cy="270.3" r="4.4" fill="#e01a22"/>
<circle cx="602.7" cy="261.9" r="4.4" fill="#e01a22"/>
<circle cx="663.6" cy="255.6" r="4.4" fill="#e01a22"/>
<polygon points="427.4,389.3 437.0,389.3 432.2,381.1" fill="#3c7bc2" />
<polygon points="445.6,386.5 455.2,386.5 450.4,378.3" fill="#3c7bc2" />
<polygon points="476.1,381.2 485.7,381.2 480.9,373.0" fill="#3c7bc2" />
<polygon points="506.6,377.1 516.1,377.1 511.4,368.9" fill="#3c7bc2" />
<polygon points="537.0,373.4 546.6,373.4 541.8,365.2" fill="#3c7bc2" />
<polygon points="567.5,370.3 577.0,370.3 572.2,362.1" fill="#3c7bc2" />
<polygon points="597.9,366.6 607.5,366.6 602.7,358.4" fill="#3c7bc2" />
<polygon points="658.8,363.0 668.4,363.0 663.6,354.8" fill="#3c7bc2" />
<text x="629.8" y="246.3" font-size="12" text-anchor="start" fill="#d9262e" font-weight="normal" >Tensile</text>
<text x="591.9" y="347.2" font-size="12" text-anchor="start" fill="#4a8acb" font-weight="normal" >Compressive</text>
<text x="578.6" y="184.8" font-size="9.6" text-anchor="start" fill="#231f20" font-weight="normal" >Zigzag</text>
<text x="595.3" y="203.4" font-size="9.6" text-anchor="start" fill="#231f20" font-weight="normal" >Armchair</text>
<polyline points="585.1,189.5 585.1,206.5 602.5,206.5" fill="none" stroke="#231f20" stroke-width="1" />
<polygon points="582.9,190.5 587.3,190.5 585.1,186.5" fill="#231f20" />
<polygon points="601.5,204.3 601.5,208.7 605.5,206.5" fill="#231f20" />
<line x1="462.30" y1="180.80" x2="462.30" y2="270.00" stroke="#231f20" stroke-width="1" />
<line x1="460.00" y1="180.80" x2="462.30" y2="180.80" stroke="#231f20" stroke-width="1" />
<line x1="460.00" y1="202.90" x2="462.30" y2="202.90" stroke="#231f20" stroke-width="1" />
<line x1="460.00" y1="224.90" x2="462.30" y2="224.90" stroke="#231f20" stroke-width="1" />
<line x1="460.00" y1="247.30" x2="462.30" y2="247.30" stroke="#231f20" stroke-width="1" />
<line x1="460.00" y1="269.50" x2="462.30" y2="269.50" stroke="#231f20" stroke-width="1" />
<line x1="461.00" y1="191.80" x2="462.30" y2="191.80" stroke="#231f20" stroke-width="1" />
<line x1="461.00" y1="213.90" x2="462.30" y2="213.90" stroke="#231f20" stroke-width="1" />
<line x1="461.00" y1="236.10" x2="462.30" y2="236.10" stroke="#231f20" stroke-width="1" />
<line x1="461.00" y1="258.40" x2="462.30" y2="258.40" stroke="#231f20" stroke-width="1" />
<text x="459.0" y="183.7" font-size="7.8" text-anchor="end" fill="#231f20" font-weight="normal" >1.0</text>
<text x="459.0" y="205.8" font-size="7.8" text-anchor="end" fill="#231f20" font-weight="normal" >0.5</text>
<text x="459.0" y="227.8" font-size="7.8" text-anchor="end" fill="#231f20" font-weight="normal" >0.0</text>
<text x="459.0" y="250.2" font-size="7.8" text-anchor="end" fill="#231f20" font-weight="normal" >0.5</text>
<text x="459.0" y="273.7" font-size="7.8" text-anchor="end" fill="#231f20" font-weight="normal" >1.0</text>
<g transform="translate(425.3,224.3) rotate(-90)">
<text x="0.0" y="0.0" font-size="9.4" text-anchor="middle" fill="#231f20" font-weight="normal" >Normalized</text>
</g>
<g transform="translate(434.5,224.3) rotate(-90)">
<text x="0.0" y="0.0" font-size="9.4" text-anchor="middle" fill="#231f20" font-weight="normal" >electroluminescence</text>
</g>
<g transform="translate(443.0,224.3) rotate(-90)">
<text x="0.0" y="0.0" font-size="9.4" text-anchor="middle" fill="#231f20" font-weight="normal" >intensity</text>
</g>
<circle cx="524.7" cy="225.3" r="44.8" fill="#fff"/>
<circle cx="524.7" cy="225.3" r="11.20" fill="none" stroke="#9a9a9a" stroke-width="0.6" stroke-dasharray="1 1.5"/>
<circle cx="524.7" cy="225.3" r="22.40" fill="none" stroke="#777" stroke-width="0.6"/>
<circle cx="524.7" cy="225.3" r="33.60" fill="none" stroke="#9a9a9a" stroke-width="0.6" stroke-dasharray="1 1.5"/>
<line x1="479.90" y1="225.30" x2="569.50" y2="225.30" stroke="#8a8a8a" stroke-width="0.6" />
<line x1="485.90" y1="247.70" x2="563.50" y2="202.90" stroke="#8a8a8a" stroke-width="0.6" />
<line x1="502.30" y1="264.10" x2="547.10" y2="186.50" stroke="#8a8a8a" stroke-width="0.6" />
<line x1="524.70" y1="270.10" x2="524.70" y2="180.50" stroke="#8a8a8a" stroke-width="0.6" />
<line x1="547.10" y1="264.10" x2="502.30" y2="186.50" stroke="#8a8a8a" stroke-width="0.6" />
<line x1="563.50" y1="247.70" x2="485.90" y2="202.90" stroke="#8a8a8a" stroke-width="0.6" />
<polyline points="569.5,225.3 569.3,223.0 568.8,220.7 568.0,218.4 566.9,216.3 565.5,214.4 563.8,212.6 561.9,211.0 559.7,209.7 557.5,208.6 555.1,207.8 552.6,207.2 550.0,206.9 547.5,206.8 545.0,207.0 542.6,207.4 540.3,208.0 538.1,208.8 536.0,209.7 534.2,210.7 532.5,211.8 531.0,213.0 529.7,214.1 528.6,215.2 527.6,216.2 526.9,217.2 526.3,218.0 525.8,218.6 525.4,219.1 525.0,219.4 524.7,219.5 524.4,219.4 524.0,219.1 523.6,218.6 523.1,218.0 522.5,217.2 521.8,216.2 520.8,215.2 519.7,214.1 518.4,213.0 516.9,211.8 515.2,210.7 513.4,209.7 511.3,208.8 509.1,208.0 506.8,207.4 504.4,207.0 501.9,206.8 499.4,206.9 496.8,207.2 494.3,207.8 491.9,208.6 489.7,209.7 487.5,211.0 485.6,212.6 483.9,214.4 482.5,216.3 481.4,218.4 480.6,220.7 480.1,223.0 479.9,225.3 480.1,227.6 480.6,229.9 481.4,232.2 482.5,234.3 483.9,236.2 485.6,238.0 487.5,239.6 489.7,240.9 491.9,242.0 494.3,242.8 496.8,243.4 499.4,243.7 501.9,243.8 504.4,243.6 506.8,243.2 509.1,242.6 511.3,241.8 513.4,240.9 515.2,239.9 516.9,238.8 518.4,237.6 519.7,236.5 520.8,235.4 521.8,234.4 522.5,233.4 523.1,232.6 523.6,232.0 524.0,231.5 524.4,231.2 524.7,231.1 525.0,231.2 525.4,231.5 525.8,232.0 526.3,232.6 526.9,233.4 527.6,234.4 528.6,235.4 529.7,236.5 531.0,237.6 532.5,238.8 534.2,239.9 536.0,240.9 538.1,241.8 540.3,242.6 542.6,243.2 545.0,243.6 547.5,243.8 550.0,243.7 552.6,243.4 555.1,242.8 557.5,242.0 559.7,240.9 561.9,239.6 563.8,238.0 565.5,236.2 566.9,234.3 568.0,232.2 568.8,229.9 569.3,227.6 569.5,225.3" fill="none" stroke="#d85a62" stroke-width="1.0" />
<circle cx="569.5" cy="225.3" r="1.7" fill="#de5a63"/>
<circle cx="567.7" cy="217.7" r="1.7" fill="#de5a63"/>
<circle cx="562.5" cy="211.5" r="1.7" fill="#de5a63"/>
<circle cx="555.1" cy="207.8" r="1.7" fill="#de5a63"/>
<circle cx="546.7" cy="206.9" r="1.7" fill="#de5a63"/>
<circle cx="538.8" cy="208.5" r="1.7" fill="#de5a63"/>
<circle cx="532.5" cy="211.8" r="1.7" fill="#de5a63"/>
<circle cx="528.3" cy="215.5" r="1.7" fill="#de5a63"/>
<circle cx="525.9" cy="218.4" r="1.7" fill="#de5a63"/>
<circle cx="524.7" cy="219.5" r="1.7" fill="#de5a63"/>
<circle cx="523.5" cy="218.4" r="1.7" fill="#de5a63"/>
<circle cx="521.1" cy="215.5" r="1.7" fill="#de5a63"/>
<circle cx="516.9" cy="211.8" r="1.7" fill="#de5a63"/>
<circle cx="510.6" cy="208.5" r="1.7" fill="#de5a63"/>
<circle cx="502.7" cy="206.9" r="1.7" fill="#de5a63"/>
<circle cx="494.3" cy="207.8" r="1.7" fill="#de5a63"/>
<circle cx="486.9" cy="211.5" r="1.7" fill="#de5a63"/>
<circle cx="481.7" cy="217.7" r="1.7" fill="#de5a63"/>
<circle cx="479.9" cy="225.3" r="1.7" fill="#de5a63"/>
<circle cx="481.7" cy="232.9" r="1.7" fill="#de5a63"/>
<circle cx="486.9" cy="239.1" r="1.7" fill="#de5a63"/>
<circle cx="494.3" cy="242.8" r="1.7" fill="#de5a63"/>
<circle cx="502.7" cy="243.7" r="1.7" fill="#de5a63"/>
<circle cx="510.6" cy="242.1" r="1.7" fill="#de5a63"/>
<circle cx="516.9" cy="238.8" r="1.7" fill="#de5a63"/>
<circle cx="521.1" cy="235.1" r="1.7" fill="#de5a63"/>
<circle cx="523.5" cy="232.2" r="1.7" fill="#de5a63"/>
<circle cx="524.7" cy="231.1" r="1.7" fill="#de5a63"/>
<circle cx="525.9" cy="232.2" r="1.7" fill="#de5a63"/>
<circle cx="528.3" cy="235.1" r="1.7" fill="#de5a63"/>
<circle cx="532.5" cy="238.8" r="1.7" fill="#de5a63"/>
<circle cx="538.8" cy="242.1" r="1.7" fill="#de5a63"/>
<circle cx="546.7" cy="243.7" r="1.7" fill="#de5a63"/>
<circle cx="555.1" cy="242.8" r="1.7" fill="#de5a63"/>
<circle cx="562.5" cy="239.1" r="1.7" fill="#de5a63"/>
<circle cx="567.7" cy="232.9" r="1.7" fill="#de5a63"/>
<polyline points="542.2,225.3 543.6,223.7 541.5,222.3 542.2,220.6 539.5,219.9 539.6,218.3 536.7,218.4 536.3,217.2 533.4,218.0 532.9,217.1 530.2,218.7 529.7,218.1 527.6,220.2 527.3,219.7 525.9,222.1 525.7,221.5 525.0,223.8 524.9,222.8 524.7,224.6 524.5,222.8 524.4,223.8 523.7,221.5 523.5,222.1 522.1,219.7 521.8,220.2 519.7,218.1 519.2,218.7 516.5,217.1 516.0,218.0 513.1,217.2 512.7,218.4 509.8,218.3 509.9,219.9 507.2,220.6 507.9,222.3 505.8,223.7 507.2,225.3 505.8,226.9 507.9,228.3 507.2,230.0 509.9,230.7 509.8,232.3 512.7,232.2 513.1,233.4 516.0,232.6 516.5,233.5 519.2,231.9 519.7,232.5 521.8,230.4 522.1,230.9 523.5,228.5 523.7,229.1 524.4,226.8 524.5,227.8 524.7,226.0 524.9,227.8 525.0,226.8 525.7,229.1 525.9,228.5 527.3,230.9 527.6,230.4 529.7,232.5 530.2,231.9 532.9,233.5 533.4,232.6 536.3,233.4 536.7,232.2 539.6,232.3 539.5,230.7 542.2,230.0 541.5,228.3 543.6,226.9 542.2,225.3" fill="none" stroke="#3c74c0" stroke-width="1.3" />
<polygon points="540.9,226.7 544.7,226.7 542.8,223.4" fill="#3c74c0" />
<polygon points="540.2,223.6 544.0,223.6 542.1,220.3" fill="#3c74c0" />
<polygon points="538.3,221.1 542.1,221.1 540.2,217.8" fill="#3c74c0" />
<polygon points="535.4,219.5 539.2,219.5 537.3,216.2" fill="#3c74c0" />
<polygon points="532.0,219.0 535.8,219.0 533.9,215.7" fill="#3c74c0" />
<polygon points="528.8,219.6 532.6,219.6 530.7,216.3" fill="#3c74c0" />
<polygon points="526.1,221.1 529.9,221.1 528.0,217.8" fill="#3c74c0" />
<polygon points="524.2,222.9 528.0,222.9 526.1,219.6" fill="#3c74c0" />
<polygon points="523.2,224.5 527.0,224.5 525.1,221.2" fill="#3c74c0" />
<polygon points="522.8,225.4 526.6,225.4 524.7,222.1" fill="#3c74c0" />
<polygon points="522.4,224.5 526.2,224.5 524.3,221.2" fill="#3c74c0" />
<polygon points="521.4,222.9 525.2,222.9 523.3,219.6" fill="#3c74c0" />
<polygon points="519.5,221.1 523.3,221.1 521.4,217.8" fill="#3c74c0" />
<polygon points="516.8,219.6 520.6,219.6 518.7,216.3" fill="#3c74c0" />
<polygon points="513.6,219.0 517.4,219.0 515.5,215.7" fill="#3c74c0" />
<polygon points="510.2,219.5 514.0,219.5 512.1,216.2" fill="#3c74c0" />
<polygon points="507.3,221.1 511.1,221.1 509.2,217.8" fill="#3c74c0" />
<polygon points="505.4,223.6 509.2,223.6 507.3,220.3" fill="#3c74c0" />
<polygon points="504.7,226.7 508.5,226.7 506.6,223.4" fill="#3c74c0" />
<polygon points="505.4,229.8 509.2,229.8 507.3,226.5" fill="#3c74c0" />
<polygon points="507.3,232.3 511.1,232.3 509.2,229.0" fill="#3c74c0" />
<polygon points="510.2,233.9 514.0,233.9 512.1,230.6" fill="#3c74c0" />
<polygon points="513.6,234.4 517.4,234.4 515.5,231.1" fill="#3c74c0" />
<polygon points="516.8,233.8 520.6,233.8 518.7,230.5" fill="#3c74c0" />
<polygon points="519.5,232.3 523.3,232.3 521.4,229.0" fill="#3c74c0" />
<polygon points="521.4,230.5 525.2,230.5 523.3,227.2" fill="#3c74c0" />
<polygon points="522.4,228.9 526.2,228.9 524.3,225.6" fill="#3c74c0" />
<polygon points="522.8,228.0 526.6,228.0 524.7,224.7" fill="#3c74c0" />
<polygon points="523.2,228.9 527.0,228.9 525.1,225.6" fill="#3c74c0" />
<polygon points="524.2,230.5 528.0,230.5 526.1,227.2" fill="#3c74c0" />
<polygon points="526.1,232.3 529.9,232.3 528.0,229.0" fill="#3c74c0" />
<polygon points="528.8,233.8 532.6,233.8 530.7,230.5" fill="#3c74c0" />
<polygon points="532.0,234.4 535.8,234.4 533.9,231.1" fill="#3c74c0" />
<polygon points="535.4,233.9 539.2,233.9 537.3,230.6" fill="#3c74c0" />
<polygon points="538.3,232.3 542.1,232.3 540.2,229.0" fill="#3c74c0" />
<polygon points="540.2,229.8 544.0,229.8 542.1,226.5" fill="#3c74c0" />
<circle cx="524.7" cy="225.3" r="44.8" fill="none" stroke="#231f20" stroke-width="1.2"/>
<text x="524.7" y="178.3" font-size="7.6" text-anchor="middle" fill="#231f20" font-weight="normal" >90</text>
<text x="552.6" y="185.1" font-size="7.6" text-anchor="middle" fill="#231f20" font-weight="normal" >60</text>
<text x="568.8" y="201.4" font-size="7.6" text-anchor="middle" fill="#231f20" font-weight="normal" >30</text>
<text x="571.6" y="228.6" font-size="7.6" text-anchor="start" fill="#231f20" font-weight="normal" >0°</text>
<text x="572.3" y="254.9" font-size="7.6" text-anchor="middle" fill="#231f20" font-weight="normal" >330</text>
<text x="552.6" y="270.0" font-size="7.6" text-anchor="middle" fill="#231f20" font-weight="normal" >300</text>
<text x="524.7" y="277.0" font-size="7.6" text-anchor="middle" fill="#231f20" font-weight="normal" >270</text>
<text x="496.7" y="270.0" font-size="7.6" text-anchor="middle" fill="#231f20" font-weight="normal" >240</text>
<text x="477.0" y="254.9" font-size="7.6" text-anchor="middle" fill="#231f20" font-weight="normal" >210</text>
<text x="477.6" y="228.6" font-size="7.6" text-anchor="end" fill="#231f20" font-weight="normal" >180</text>
<text x="478.0" y="202.1" font-size="7.6" text-anchor="middle" fill="#231f20" font-weight="normal" >150</text>
<text x="496.7" y="185.1" font-size="7.6" text-anchor="middle" fill="#231f20" font-weight="normal" >120</text>
<rect x="53.8" y="444.5" width="273.1" height="220.8" fill="none" stroke="#231f20" stroke-width="1.1"/>
<line x1="43.80" y1="665.30" x2="53.80" y2="665.30" stroke="#231f20" stroke-width="1.1" />
<text x="40.0" y="669.6" font-size="12" text-anchor="end" fill="#231f20" font-weight="normal" >0.001</text>
<line x1="48.80" y1="652.69" x2="53.80" y2="652.69" stroke="#231f20" stroke-width="0.9" />
<line x1="48.80" y1="645.31" x2="53.80" y2="645.31" stroke="#231f20" stroke-width="0.9" />
<line x1="48.80" y1="640.07" x2="53.80" y2="640.07" stroke="#231f20" stroke-width="0.9" />
<line x1="48.80" y1="636.01" x2="53.80" y2="636.01" stroke="#231f20" stroke-width="0.9" />
<line x1="48.80" y1="632.70" x2="53.80" y2="632.70" stroke="#231f20" stroke-width="0.9" />
<line x1="48.80" y1="629.89" x2="53.80" y2="629.89" stroke="#231f20" stroke-width="0.9" />
<line x1="48.80" y1="627.46" x2="53.80" y2="627.46" stroke="#231f20" stroke-width="0.9" />
<line x1="48.80" y1="625.32" x2="53.80" y2="625.32" stroke="#231f20" stroke-width="0.9" />
<line x1="43.80" y1="623.40" x2="53.80" y2="623.40" stroke="#231f20" stroke-width="1.1" />
<text x="40.0" y="627.7" font-size="12" text-anchor="end" fill="#231f20" font-weight="normal" >0.01</text>
<line x1="48.80" y1="610.79" x2="53.80" y2="610.79" stroke="#231f20" stroke-width="0.9" />
<line x1="48.80" y1="603.41" x2="53.80" y2="603.41" stroke="#231f20" stroke-width="0.9" />
<line x1="48.80" y1="598.17" x2="53.80" y2="598.17" stroke="#231f20" stroke-width="0.9" />
<line x1="48.80" y1="594.11" x2="53.80" y2="594.11" stroke="#231f20" stroke-width="0.9" />
<line x1="48.80" y1="590.80" x2="53.80" y2="590.80" stroke="#231f20" stroke-width="0.9" />
<line x1="48.80" y1="587.99" x2="53.80" y2="587.99" stroke="#231f20" stroke-width="0.9" />
<line x1="48.80" y1="585.56" x2="53.80" y2="585.56" stroke="#231f20" stroke-width="0.9" />
<line x1="48.80" y1="583.42" x2="53.80" y2="583.42" stroke="#231f20" stroke-width="0.9" />
<line x1="43.80" y1="581.50" x2="53.80" y2="581.50" stroke="#231f20" stroke-width="1.1" />
<text x="40.0" y="585.8" font-size="12" text-anchor="end" fill="#231f20" font-weight="normal" >0.1</text>
<line x1="48.80" y1="568.89" x2="53.80" y2="568.89" stroke="#231f20" stroke-width="0.9" />
<line x1="48.80" y1="561.51" x2="53.80" y2="561.51" stroke="#231f20" stroke-width="0.9" />
<line x1="48.80" y1="556.27" x2="53.80" y2="556.27" stroke="#231f20" stroke-width="0.9" />
<line x1="48.80" y1="552.21" x2="53.80" y2="552.21" stroke="#231f20" stroke-width="0.9" />
<line x1="48.80" y1="548.90" x2="53.80" y2="548.90" stroke="#231f20" stroke-width="0.9" />
<line x1="48.80" y1="546.09" x2="53.80" y2="546.09" stroke="#231f20" stroke-width="0.9" />
<line x1="48.80" y1="543.66" x2="53.80" y2="543.66" stroke="#231f20" stroke-width="0.9" />
<line x1="48.80" y1="541.52" x2="53.80" y2="541.52" stroke="#231f20" stroke-width="0.9" />
<line x1="43.80" y1="539.60" x2="53.80" y2="539.60" stroke="#231f20" stroke-width="1.1" />
<text x="40.0" y="543.9" font-size="12" text-anchor="end" fill="#231f20" font-weight="normal" >1</text>
<line x1="48.80" y1="526.99" x2="53.80" y2="526.99" stroke="#231f20" stroke-width="0.9" />
<line x1="48.80" y1="519.61" x2="53.80" y2="519.61" stroke="#231f20" stroke-width="0.9" />
<line x1="48.80" y1="514.37" x2="53.80" y2="514.37" stroke="#231f20" stroke-width="0.9" />
<line x1="48.80" y1="510.31" x2="53.80" y2="510.31" stroke="#231f20" stroke-width="0.9" />
<line x1="48.80" y1="507.00" x2="53.80" y2="507.00" stroke="#231f20" stroke-width="0.9" />
<line x1="48.80" y1="504.19" x2="53.80" y2="504.19" stroke="#231f20" stroke-width="0.9" />
<line x1="48.80" y1="501.76" x2="53.80" y2="501.76" stroke="#231f20" stroke-width="0.9" />
<line x1="48.80" y1="499.62" x2="53.80" y2="499.62" stroke="#231f20" stroke-width="0.9" />
<line x1="43.80" y1="497.70" x2="53.80" y2="497.70" stroke="#231f20" stroke-width="1.1" />
<text x="40.0" y="502.0" font-size="12" text-anchor="end" fill="#231f20" font-weight="normal" >10</text>
<line x1="48.80" y1="485.09" x2="53.80" y2="485.09" stroke="#231f20" stroke-width="0.9" />
<line x1="48.80" y1="477.71" x2="53.80" y2="477.71" stroke="#231f20" stroke-width="0.9" />
<line x1="48.80" y1="472.47" x2="53.80" y2="472.47" stroke="#231f20" stroke-width="0.9" />
<line x1="48.80" y1="468.41" x2="53.80" y2="468.41" stroke="#231f20" stroke-width="0.9" />
<line x1="48.80" y1="465.10" x2="53.80" y2="465.10" stroke="#231f20" stroke-width="0.9" />
<line x1="48.80" y1="462.29" x2="53.80" y2="462.29" stroke="#231f20" stroke-width="0.9" />
<line x1="48.80" y1="459.86" x2="53.80" y2="459.86" stroke="#231f20" stroke-width="0.9" />
<line x1="48.80" y1="457.72" x2="53.80" y2="457.72" stroke="#231f20" stroke-width="0.9" />
<line x1="43.80" y1="455.80" x2="53.80" y2="455.80" stroke="#231f20" stroke-width="1.1" />
<text x="40.0" y="460.1" font-size="12" text-anchor="end" fill="#231f20" font-weight="normal" >100</text>
<line x1="53.80" y1="665.30" x2="53.80" y2="675.30" stroke="#231f20" stroke-width="1.1" />
<text x="54.1" y="688.0" font-size="12" text-anchor="middle" fill="#231f20" font-weight="normal" >10<tspan font-size="8.2" dy="-4.5">16</tspan></text>
<line x1="63.87" y1="665.30" x2="63.87" y2="670.70" stroke="#231f20" stroke-width="0.9" />
<line x1="69.76" y1="665.30" x2="69.76" y2="670.70" stroke="#231f20" stroke-width="0.9" />
<line x1="73.94" y1="665.30" x2="73.94" y2="670.70" stroke="#231f20" stroke-width="0.9" />
<line x1="77.18" y1="665.30" x2="77.18" y2="670.70" stroke="#231f20" stroke-width="0.9" />
<line x1="79.83" y1="665.30" x2="79.83" y2="670.70" stroke="#231f20" stroke-width="0.9" />
<line x1="82.07" y1="665.30" x2="82.07" y2="670.70" stroke="#231f20" stroke-width="0.9" />
<line x1="84.01" y1="665.30" x2="84.01" y2="670.70" stroke="#231f20" stroke-width="0.9" />
<line x1="85.72" y1="665.30" x2="85.72" y2="670.70" stroke="#231f20" stroke-width="0.9" />
<line x1="87.25" y1="665.30" x2="87.25" y2="675.30" stroke="#231f20" stroke-width="1.1" />
<text x="87.5" y="688.0" font-size="12" text-anchor="middle" fill="#231f20" font-weight="normal" >10<tspan font-size="8.2" dy="-4.5">17</tspan></text>
<line x1="97.32" y1="665.30" x2="97.32" y2="670.70" stroke="#231f20" stroke-width="0.9" />
<line x1="103.21" y1="665.30" x2="103.21" y2="670.70" stroke="#231f20" stroke-width="0.9" />
<line x1="107.39" y1="665.30" x2="107.39" y2="670.70" stroke="#231f20" stroke-width="0.9" />
<line x1="110.63" y1="665.30" x2="110.63" y2="670.70" stroke="#231f20" stroke-width="0.9" />
<line x1="113.28" y1="665.30" x2="113.28" y2="670.70" stroke="#231f20" stroke-width="0.9" />
<line x1="115.52" y1="665.30" x2="115.52" y2="670.70" stroke="#231f20" stroke-width="0.9" />
<line x1="117.46" y1="665.30" x2="117.46" y2="670.70" stroke="#231f20" stroke-width="0.9" />
<line x1="119.17" y1="665.30" x2="119.17" y2="670.70" stroke="#231f20" stroke-width="0.9" />
<line x1="120.70" y1="665.30" x2="120.70" y2="675.30" stroke="#231f20" stroke-width="1.1" />
<text x="121.0" y="688.0" font-size="12" text-anchor="middle" fill="#231f20" font-weight="normal" >10<tspan font-size="8.2" dy="-4.5">18</tspan></text>
<line x1="130.77" y1="665.30" x2="130.77" y2="670.70" stroke="#231f20" stroke-width="0.9" />
<line x1="136.66" y1="665.30" x2="136.66" y2="670.70" stroke="#231f20" stroke-width="0.9" />
<line x1="140.84" y1="665.30" x2="140.84" y2="670.70" stroke="#231f20" stroke-width="0.9" />
<line x1="144.08" y1="665.30" x2="144.08" y2="670.70" stroke="#231f20" stroke-width="0.9" />
<line x1="146.73" y1="665.30" x2="146.73" y2="670.70" stroke="#231f20" stroke-width="0.9" />
<line x1="148.97" y1="665.30" x2="148.97" y2="670.70" stroke="#231f20" stroke-width="0.9" />
<line x1="150.91" y1="665.30" x2="150.91" y2="670.70" stroke="#231f20" stroke-width="0.9" />
<line x1="152.62" y1="665.30" x2="152.62" y2="670.70" stroke="#231f20" stroke-width="0.9" />
<line x1="154.15" y1="665.30" x2="154.15" y2="675.30" stroke="#231f20" stroke-width="1.1" />
<text x="154.5" y="688.0" font-size="12" text-anchor="middle" fill="#231f20" font-weight="normal" >10<tspan font-size="8.2" dy="-4.5">19</tspan></text>
<line x1="164.22" y1="665.30" x2="164.22" y2="670.70" stroke="#231f20" stroke-width="0.9" />
<line x1="170.11" y1="665.30" x2="170.11" y2="670.70" stroke="#231f20" stroke-width="0.9" />
<line x1="174.29" y1="665.30" x2="174.29" y2="670.70" stroke="#231f20" stroke-width="0.9" />
<line x1="177.53" y1="665.30" x2="177.53" y2="670.70" stroke="#231f20" stroke-width="0.9" />
<line x1="180.18" y1="665.30" x2="180.18" y2="670.70" stroke="#231f20" stroke-width="0.9" />
<line x1="182.42" y1="665.30" x2="182.42" y2="670.70" stroke="#231f20" stroke-width="0.9" />
<line x1="184.36" y1="665.30" x2="184.36" y2="670.70" stroke="#231f20" stroke-width="0.9" />
<line x1="186.07" y1="665.30" x2="186.07" y2="670.70" stroke="#231f20" stroke-width="0.9" />
<line x1="187.60" y1="665.30" x2="187.60" y2="675.30" stroke="#231f20" stroke-width="1.1" />
<text x="187.9" y="688.0" font-size="12" text-anchor="middle" fill="#231f20" font-weight="normal" >10<tspan font-size="8.2" dy="-4.5">20</tspan></text>
<line x1="197.67" y1="665.30" x2="197.67" y2="670.70" stroke="#231f20" stroke-width="0.9" />
<line x1="203.56" y1="665.30" x2="203.56" y2="670.70" stroke="#231f20" stroke-width="0.9" />
<line x1="207.74" y1="665.30" x2="207.74" y2="670.70" stroke="#231f20" stroke-width="0.9" />
<line x1="210.98" y1="665.30" x2="210.98" y2="670.70" stroke="#231f20" stroke-width="0.9" />
<line x1="213.63" y1="665.30" x2="213.63" y2="670.70" stroke="#231f20" stroke-width="0.9" />
<line x1="215.87" y1="665.30" x2="215.87" y2="670.70" stroke="#231f20" stroke-width="0.9" />
<line x1="217.81" y1="665.30" x2="217.81" y2="670.70" stroke="#231f20" stroke-width="0.9" />
<line x1="219.52" y1="665.30" x2="219.52" y2="670.70" stroke="#231f20" stroke-width="0.9" />
<line x1="221.05" y1="665.30" x2="221.05" y2="675.30" stroke="#231f20" stroke-width="1.1" />
<text x="221.4" y="688.0" font-size="12" text-anchor="middle" fill="#231f20" font-weight="normal" >10<tspan font-size="8.2" dy="-4.5">21</tspan></text>
<line x1="231.12" y1="665.30" x2="231.12" y2="670.70" stroke="#231f20" stroke-width="0.9" />
<line x1="237.01" y1="665.30" x2="237.01" y2="670.70" stroke="#231f20" stroke-width="0.9" />
<line x1="241.19" y1="665.30" x2="241.19" y2="670.70" stroke="#231f20" stroke-width="0.9" />
<line x1="244.43" y1="665.30" x2="244.43" y2="670.70" stroke="#231f20" stroke-width="0.9" />
<line x1="247.08" y1="665.30" x2="247.08" y2="670.70" stroke="#231f20" stroke-width="0.9" />
<line x1="249.32" y1="665.30" x2="249.32" y2="670.70" stroke="#231f20" stroke-width="0.9" />
<line x1="251.26" y1="665.30" x2="251.26" y2="670.70" stroke="#231f20" stroke-width="0.9" />
<line x1="252.97" y1="665.30" x2="252.97" y2="670.70" stroke="#231f20" stroke-width="0.9" />
<line x1="254.50" y1="665.30" x2="254.50" y2="675.30" stroke="#231f20" stroke-width="1.1" />
<text x="254.8" y="688.0" font-size="12" text-anchor="middle" fill="#231f20" font-weight="normal" >10<tspan font-size="8.2" dy="-4.5">22</tspan></text>
<line x1="264.57" y1="665.30" x2="264.57" y2="670.70" stroke="#231f20" stroke-width="0.9" />
<line x1="270.46" y1="665.30" x2="270.46" y2="670.70" stroke="#231f20" stroke-width="0.9" />
<line x1="274.64" y1="665.30" x2="274.64" y2="670.70" stroke="#231f20" stroke-width="0.9" />
<line x1="277.88" y1="665.30" x2="277.88" y2="670.70" stroke="#231f20" stroke-width="0.9" />
<line x1="280.53" y1="665.30" x2="280.53" y2="670.70" stroke="#231f20" stroke-width="0.9" />
<line x1="282.77" y1="665.30" x2="282.77" y2="670.70" stroke="#231f20" stroke-width="0.9" />
<line x1="284.71" y1="665.30" x2="284.71" y2="670.70" stroke="#231f20" stroke-width="0.9" />
<line x1="286.42" y1="665.30" x2="286.42" y2="670.70" stroke="#231f20" stroke-width="0.9" />
<line x1="287.95" y1="665.30" x2="287.95" y2="675.30" stroke="#231f20" stroke-width="1.1" />
<text x="288.3" y="688.0" font-size="12" text-anchor="middle" fill="#231f20" font-weight="normal" >10<tspan font-size="8.2" dy="-4.5">23</tspan></text>
<line x1="298.02" y1="665.30" x2="298.02" y2="670.70" stroke="#231f20" stroke-width="0.9" />
<line x1="303.91" y1="665.30" x2="303.91" y2="670.70" stroke="#231f20" stroke-width="0.9" />
<line x1="308.09" y1="665.30" x2="308.09" y2="670.70" stroke="#231f20" stroke-width="0.9" />
<line x1="311.33" y1="665.30" x2="311.33" y2="670.70" stroke="#231f20" stroke-width="0.9" />
<line x1="313.98" y1="665.30" x2="313.98" y2="670.70" stroke="#231f20" stroke-width="0.9" />
<line x1="316.22" y1="665.30" x2="316.22" y2="670.70" stroke="#231f20" stroke-width="0.9" />
<line x1="318.16" y1="665.30" x2="318.16" y2="670.70" stroke="#231f20" stroke-width="0.9" />
<line x1="319.87" y1="665.30" x2="319.87" y2="670.70" stroke="#231f20" stroke-width="0.9" />
<line x1="321.40" y1="665.30" x2="321.40" y2="675.30" stroke="#231f20" stroke-width="1.1" />
<text x="321.7" y="688.0" font-size="12" text-anchor="middle" fill="#231f20" font-weight="normal" >10<tspan font-size="8.2" dy="-4.5">24</tspan></text>
<text x="193.8" y="707.0" font-size="12" text-anchor="middle" fill="#231f20" font-weight="normal" ><tspan font-style="italic">n</tspan><tspan font-size="8" dy="3">i</tspan><tspan dy="-3"> + Δ</tspan><tspan font-style="italic">n</tspan> (cm<tspan font-size="8" dy="-5">−3</tspan><tspan dy="5">)</tspan></text>
<g transform="translate(9.4,555.2) rotate(-90)">
<text x="0.0" y="0.0" font-size="12.6" text-anchor="middle" fill="#231f20" font-weight="normal" >Internal quantum efficiency (%)</text>
</g>
<text x="327.2" y="439.2" font-size="12" text-anchor="end" fill="#231f20" font-weight="normal" >295–300 K</text>
<text x="0.0" y="438.7" font-size="14" text-anchor="start" fill="#000" font-weight="bold" >f</text>
<g clip-path="url(#fclip)">
<path d="M54.00,455.60 C65.00,455.60 95.67,455.52 120.00,455.60 C144.33,455.68 184.15,455.92 200.00,456.10 C215.85,456.28 210.38,456.18 215.10,456.70 C219.82,457.22 223.88,457.85 228.30,459.20 C232.72,460.55 237.18,462.45 241.60,464.80 C246.02,467.15 250.72,470.30 254.80,473.30 C258.88,476.30 262.32,479.02 266.10,482.80 C269.88,486.58 273.72,491.60 277.50,496.00 C281.28,500.40 285.02,504.47 288.80,509.20 C292.58,513.93 296.42,519.67 300.20,524.40 C303.98,529.13 307.42,532.88 311.50,537.60 C315.58,542.32 321.62,549.22 324.70,552.70 C327.78,556.18 329.12,557.53 330.00,558.50" fill="none" stroke="#3c403c" stroke-width="2.4" stroke-dasharray="4.2 2.6"/>
<path d="M54.10,455.60 C56.80,455.67 64.88,455.55 70.30,456.00 C75.72,456.45 81.50,457.07 86.60,458.30 C91.70,459.53 96.15,461.20 100.90,463.40 C105.65,465.60 110.70,468.45 115.10,471.50 C119.50,474.55 123.23,477.62 127.30,481.70 C131.37,485.78 135.42,491.08 139.50,496.00 C143.58,500.92 147.72,506.28 151.80,511.20 C155.88,516.12 159.50,520.53 164.00,525.50 C168.50,530.47 172.83,534.32 178.80,541.00 C184.77,547.68 192.43,556.47 199.80,565.60 C207.17,574.73 215.25,585.73 223.00,595.80 C230.75,605.87 240.10,617.85 246.30,626.00 C252.50,634.15 255.93,638.48 260.20,644.70 C264.47,650.92 269.60,659.58 271.90,663.30 C274.20,667.02 273.65,666.38 274.00,667.00" fill="none" stroke="#8e8a26" stroke-width="2.4" stroke-dasharray="4.2 2.6"/>
<path d="M54.10,456.60 C56.13,456.88 61.90,457.17 66.30,458.30 C70.70,459.43 76.10,461.37 80.50,463.40 C84.90,465.43 88.28,467.10 92.70,470.50 C97.12,473.90 102.58,479.38 107.00,483.80 C111.42,488.22 115.13,492.43 119.20,497.00 C123.27,501.57 127.33,506.45 131.40,511.20 C135.47,515.95 139.57,520.70 143.60,525.50 C147.63,530.30 150.12,533.32 155.60,540.00 C161.08,546.68 169.13,556.30 176.50,565.60 C183.87,574.90 192.05,585.73 199.80,595.80 C207.55,605.87 216.42,617.47 223.00,626.00 C229.58,634.53 234.65,640.78 239.30,647.00 C243.95,653.22 248.62,659.97 250.90,663.30 C253.18,666.63 252.65,666.38 253.00,667.00" fill="none" stroke="#5b7042" stroke-width="2.4" stroke-dasharray="4.2 2.6"/>
<path d="M54.10,468.50 C55.78,469.68 60.47,472.38 64.20,475.60 C67.93,478.82 72.42,483.57 76.50,487.80 C80.58,492.03 84.63,496.58 88.70,501.00 C92.77,505.42 96.83,509.88 100.90,514.30 C104.97,518.72 109.03,522.92 113.10,527.50 C117.17,532.08 122.10,537.72 125.30,541.80 C128.50,545.88 127.63,545.72 132.30,552.00 C136.97,558.28 145.93,570.27 153.30,579.50 C160.67,588.73 169.15,598.48 176.50,607.40 C183.85,616.32 190.82,624.07 197.40,633.00 C203.98,641.93 212.57,655.33 216.00,661.00 C219.43,666.67 217.67,666.00 218.00,667.00" fill="none" stroke="#eca156" stroke-width="2.4" stroke-dasharray="4.2 2.6"/>
</g>
<text x="149.7" y="470.8" font-size="12" text-anchor="start" fill="#9b9b9b" font-weight="normal" >bP, theory</text>
<g transform="translate(168.0,511.0) rotate(49.6)">
<text x="0.0" y="4.0" font-size="12" text-anchor="middle" fill="#9f982c" font-weight="normal" >GaSb, theory</text>
</g>
<g transform="translate(133.6,534.0) rotate(49.0)">
<text x="0.0" y="4.0" font-size="12" text-anchor="middle" fill="#5f7a42" font-weight="normal" >PbSe, theory</text>
</g>
<g transform="translate(111.5,550.5) rotate(50.0)">
<text x="0.0" y="4.0" font-size="12" text-anchor="middle" fill="#eea85e" font-weight="normal" >InAs, theory</text>
</g>
<g transform="translate(261.4,627.2) rotate(47.9)">
<text x="0.0" y="4.0" font-size="12" text-anchor="middle" fill="#8f8a26" font-weight="normal" >λ<tspan font-size="8" dy="3">g</tspan><tspan dy="-3"> = 1.7 µm</tspan></text>
</g>
<g transform="translate(208.5,625.5) rotate(48.0)">
<text x="0.0" y="4.0" font-size="12" text-anchor="middle" fill="#5b7042" font-weight="normal" >λ<tspan font-size="8" dy="3">g</tspan><tspan dy="-3"> = 4.5 µm</tspan></text>
</g>
<g transform="translate(177.7,631.9) rotate(47.9)">
<text x="0.0" y="4.0" font-size="12" text-anchor="middle" fill="#eca156" font-weight="normal" >λ<tspan font-size="8" dy="3">g</tspan><tspan dy="-3"> = 3.4 µm</tspan></text>
</g>
<text x="207.6" y="512.6" font-size="12" text-anchor="start" fill="#d9202a" font-weight="normal" >bP (tensile)</text>
<text x="214.9" y="569.9" font-size="12" text-anchor="start" fill="#3f80c6" font-weight="normal" >bP (compressive)</text>
<g transform="translate(250,505) scale(0.07734)">
<path d="M135,215 C150,170 220,160 300,160 C360,165 420,200 445,270 C470,340 460,400 420,415 C370,430 330,400 318,340 C300,300 250,300 190,298 C150,295 130,260 135,215 Z" fill="#e8101c"/>
<path d="M105,568 L185,420 L215,462 L258,415 L280,445 L302,425 L370,470 L478,652 L310,656 L285,618 L240,592 L200,572 Z" fill="#3a78c8"/>
</g>
<rect x="421.0" y="442.6" width="262.7" height="92.3" fill="none" stroke="#231f20" stroke-width="1.1"/>
<line x1="411.50" y1="531.20" x2="421.00" y2="531.20" stroke="#231f20" stroke-width="1.1" />
<text x="409.8" y="535.5" font-size="12" text-anchor="end" fill="#231f20" font-weight="normal" >0.0</text>
<line x1="416.00" y1="510.10" x2="421.00" y2="510.10" stroke="#231f20" stroke-width="1.1" />
<line x1="411.50" y1="489.00" x2="421.00" y2="489.00" stroke="#231f20" stroke-width="1.1" />
<text x="409.8" y="493.3" font-size="12" text-anchor="end" fill="#231f20" font-weight="normal" >0.5</text>
<line x1="416.00" y1="467.90" x2="421.00" y2="467.90" stroke="#231f20" stroke-width="1.1" />
<line x1="411.50" y1="446.80" x2="421.00" y2="446.80" stroke="#231f20" stroke-width="1.1" />
<text x="409.8" y="451.1" font-size="12" text-anchor="end" fill="#231f20" font-weight="normal" >1.0</text>
<line x1="444.40" y1="534.90" x2="444.40" y2="543.90" stroke="#231f20" stroke-width="1.1" />
<text x="444.4" y="555.0" font-size="12" text-anchor="middle" fill="#231f20" font-weight="normal" >2</text>
<line x1="483.10" y1="534.90" x2="483.10" y2="539.90" stroke="#231f20" stroke-width="1.1" />
<line x1="521.80" y1="534.90" x2="521.80" y2="543.90" stroke="#231f20" stroke-width="1.1" />
<text x="521.8" y="555.0" font-size="12" text-anchor="middle" fill="#231f20" font-weight="normal" >3</text>
<line x1="560.50" y1="534.90" x2="560.50" y2="539.90" stroke="#231f20" stroke-width="1.1" />
<line x1="599.20" y1="534.90" x2="599.20" y2="543.90" stroke="#231f20" stroke-width="1.1" />
<text x="599.2" y="555.0" font-size="12" text-anchor="middle" fill="#231f20" font-weight="normal" >4</text>
<line x1="637.90" y1="534.90" x2="637.90" y2="539.90" stroke="#231f20" stroke-width="1.1" />
<line x1="676.60" y1="534.90" x2="676.60" y2="543.90" stroke="#231f20" stroke-width="1.1" />
<text x="676.6" y="555.0" font-size="12" text-anchor="middle" fill="#231f20" font-weight="normal" >5</text>
<text x="554.0" y="569.0" font-size="12" text-anchor="middle" fill="#231f20" font-weight="normal" >Wavelength (µm)</text>
<g transform="translate(371.8,490.4) rotate(-90)">
<text x="0.0" y="0.0" font-size="12.3" text-anchor="middle" fill="#231f20" font-weight="normal" >Normalized</text>
</g>
<g transform="translate(386.0,490.4) rotate(-90)">
<text x="0.0" y="0.0" font-size="12.3" text-anchor="middle" fill="#231f20" font-weight="normal" >electroluminescence intensity</text>
</g>
<text x="344.5" y="440.4" font-size="14" text-anchor="start" fill="#000" font-weight="bold" >g</text>
<g clip-path="url(#gclip)">
<polygon points="421.0,531.7 440.0,531.6 472.3,531.2 498.5,530.2 519.4,527.6 535.1,523.4 550.8,515.9 566.5,500.6 582.2,479.5 592.0,467.5 600.0,459.5 604.0,455.5 607.3,452.5 610.2,448.6 611.6,446.4 613.2,447.2 614.8,452.0 616.2,470.0 617.8,477.5 620.5,478.5 623.0,477.0 626.0,482.5 632.9,494.5 644.7,510.4 658.5,522.2 670.3,527.0 684.0,527.4 684.0,530.2 670.3,529.0 654.5,523.6 638.8,509.8 627.0,494.0 619.5,486.0 614.5,476.0 611.6,471.0 605.0,473.5 599.4,480.5 582.2,500.5 566.5,513.6 550.8,521.4 535.1,526.4 519.4,529.2 498.5,531.0 472.3,531.8 421.0,532.0" fill="#4d8ddb" stroke="#4d8ddb" stroke-width="0.6" stroke-linejoin="round"/>
<polyline points="575.0,489.5 582.2,479.5 592.0,467.5 600.0,459.5 604.0,455.5 607.3,452.5 610.2,448.6 611.6,446.4 613.2,447.2 614.8,452.0 616.2,470.0 617.8,477.5 620.5,478.5 623.0,477.0 626.0,482.5 632.9,494.5 644.7,510.4 658.5,522.2 670.3,527.0 684.0,527.4" fill="none" stroke="#1e3f86" stroke-width="1.1" stroke-linejoin="round"/>
<polyline points="614.5,476.0 619.5,486.0 627.0,494.0 638.8,509.8 654.5,523.6 670.3,529.0 684.0,530.2" fill="none" stroke="#2a55a8" stroke-width="0.8" />
<path d="M542.70,521.07 C546.18,521.85 554.18,524.42 563.60,525.71 C573.01,527.01 586.82,528.11 599.20,528.84 C611.58,529.57 623.71,529.79 637.90,530.10 C652.09,530.41 676.60,530.60 684.34,530.69" fill="none" stroke="#d4121c" stroke-width="1.8" stroke-linejoin="round"/>
<path d="M530.31,513.48 C532.38,514.74 537.15,519.03 542.70,521.07 C548.25,523.11 560.11,524.94 563.60,525.71" fill="none" stroke="#d8121c" stroke-width="2.8" stroke-linejoin="round"/>
<path d="M524.12,506.72 C525.15,507.85 527.22,511.08 530.31,513.48 C533.41,515.87 540.63,519.81 542.70,521.07" fill="none" stroke="#da121c" stroke-width="3.8" stroke-linejoin="round"/>
<path d="M453.69,530.69 C454.72,530.52 457.43,530.72 459.88,529.68 C462.33,528.64 466.07,527.01 468.39,524.45 C470.72,521.89 471.75,518.54 473.81,514.32 C475.88,510.10 478.59,504.19 480.78,499.13 C482.97,494.06 485.03,489.14 486.97,483.94 C488.90,478.73 490.71,472.82 492.39,467.90 C494.06,462.98 495.85,457.56 497.03,454.40 C498.22,451.23 498.67,448.91 499.51,448.91 C500.35,448.91 500.80,450.53 502.06,454.40 C503.33,458.26 505.35,466.77 507.09,472.12 C508.84,477.47 510.71,482.25 512.51,486.47 C514.32,490.69 515.99,494.06 517.93,497.44 C519.87,500.82 523.09,505.18 524.12,506.72" fill="none" stroke="#dc141e" stroke-width="4.6" stroke-linejoin="round"/>
<path d="M468.39,524.45 C469.30,522.76 471.75,518.54 473.81,514.32 C475.88,510.10 478.59,504.19 480.78,499.13 C482.97,494.06 485.03,489.14 486.97,483.94 C488.90,478.73 490.71,472.82 492.39,467.90 C494.06,462.98 495.85,457.56 497.03,454.40 C498.22,451.23 498.67,448.91 499.51,448.91 C500.35,448.91 500.80,450.53 502.06,454.40 C503.33,458.26 505.35,466.77 507.09,472.12 C508.84,477.47 510.71,482.25 512.51,486.47 C514.32,490.69 515.99,494.06 517.93,497.44 C519.87,500.82 523.09,505.18 524.12,506.72" fill="none" stroke="#b80a14" stroke-width="1.4" stroke-linejoin="round"/>
<path d="M459.88,529.68 C461.30,528.81 466.07,527.01 468.39,524.45 C470.72,521.89 471.75,518.54 473.81,514.32 C475.88,510.10 478.59,504.19 480.78,499.13 C482.97,494.06 485.03,489.14 486.97,483.94 C488.90,478.73 490.71,472.82 492.39,467.90 C494.06,462.98 495.85,457.56 497.03,454.40 C498.22,451.23 498.67,448.91 499.51,448.91 C500.35,448.91 501.64,453.48 502.06,454.40" fill="none" stroke="#a80c12" stroke-width="1" transform="translate(-1.3,0)"/>
<line x1="421.00" y1="531.30" x2="461.00" y2="531.30" stroke="#8a8a9a" stroke-width="0.8" />
<polyline points="440.0,531.4 448.0,531.0 452.0,530.0 455.0,531.0 458.0,529.6 461.0,530.4 464.0,528.5 466.0,527.0 468.0,523.5 470.0,521.0 471.5,516.5 473.0,513.0" fill="none" stroke="#1a1a2a" stroke-width="1.0" />
</g>
<text x="554.4" y="456.1" font-size="12" text-anchor="middle" fill="#231f20" font-weight="normal" >Overlay of 500</text>
<text x="554.4" y="470.5" font-size="12" text-anchor="middle" fill="#231f20" font-weight="normal" >electroluminescence</text>
<text x="554.4" y="484.9" font-size="12" text-anchor="middle" fill="#231f20" font-weight="normal" >spectra</text>
<text x="484.1" y="522.3" font-size="12" text-anchor="start" fill="#d4232c" font-weight="normal" >Tensile</text>
<text x="563.9" y="522.3" font-size="12" text-anchor="start" fill="#4a88d0" font-weight="normal" >Compressive</text>
<rect x="421.6" y="586.2" width="262.2" height="79.4" fill="none" stroke="#231f20" stroke-width="1.1"/>
<line x1="416.60" y1="663.95" x2="421.60" y2="663.95" stroke="#231f20" stroke-width="1.1" />
<line x1="412.60" y1="654.00" x2="421.60" y2="654.00" stroke="#231f20" stroke-width="1.1" />
<text x="409.5" y="658.3" font-size="12" text-anchor="end" fill="#231f20" font-weight="normal" >2</text>
<line x1="416.60" y1="644.05" x2="421.60" y2="644.05" stroke="#231f20" stroke-width="1.1" />
<line x1="412.60" y1="634.10" x2="421.60" y2="634.10" stroke="#231f20" stroke-width="1.1" />
<text x="409.5" y="638.4" font-size="12" text-anchor="end" fill="#231f20" font-weight="normal" >3</text>
<line x1="416.60" y1="624.15" x2="421.60" y2="624.15" stroke="#231f20" stroke-width="1.1" />
<line x1="412.60" y1="614.20" x2="421.60" y2="614.20" stroke="#231f20" stroke-width="1.1" />
<text x="409.5" y="618.5" font-size="12" text-anchor="end" fill="#231f20" font-weight="normal" >4</text>
<line x1="416.60" y1="604.25" x2="421.60" y2="604.25" stroke="#231f20" stroke-width="1.1" />
<line x1="412.60" y1="594.30" x2="421.60" y2="594.30" stroke="#231f20" stroke-width="1.1" />
<text x="409.5" y="598.6" font-size="12" text-anchor="end" fill="#231f20" font-weight="normal" >5</text>
<line x1="429.70" y1="665.60" x2="429.70" y2="673.60" stroke="#231f20" stroke-width="1.1" />
<text x="429.7" y="687.3" font-size="12" text-anchor="middle" fill="#231f20" font-weight="normal" >0</text>
<line x1="471.45" y1="665.60" x2="471.45" y2="670.10" stroke="#231f20" stroke-width="1.1" />
<line x1="513.20" y1="665.60" x2="513.20" y2="673.60" stroke="#231f20" stroke-width="1.1" />
<text x="513.2" y="687.3" font-size="12" text-anchor="middle" fill="#231f20" font-weight="normal" >100</text>
<line x1="592.30" y1="665.60" x2="592.30" y2="673.60" stroke="#231f20" stroke-width="1.1" />
<text x="592.3" y="687.3" font-size="12" text-anchor="middle" fill="#231f20" font-weight="normal" >400</text>
<line x1="633.95" y1="665.60" x2="633.95" y2="670.10" stroke="#231f20" stroke-width="1.1" />
<line x1="675.60" y1="665.60" x2="675.60" y2="673.60" stroke="#231f20" stroke-width="1.1" />
<text x="675.6" y="687.3" font-size="12" text-anchor="middle" fill="#231f20" font-weight="normal" >500</text>
<rect x="548.8" y="582.2" width="7.6" height="8" fill="#fff"/>
<line x1="548.20" y1="590.00" x2="551.60" y2="582.40" stroke="#231f20" stroke-width="1.1" />
<line x1="552.80" y1="590.00" x2="556.80" y2="582.40" stroke="#231f20" stroke-width="1.1" />
<rect x="548.8" y="661.6" width="7.6" height="8" fill="#fff"/>
<line x1="548.20" y1="669.40" x2="551.60" y2="661.80" stroke="#231f20" stroke-width="1.1" />
<line x1="552.80" y1="669.40" x2="556.80" y2="661.80" stroke="#231f20" stroke-width="1.1" />
<text x="553.0" y="707.0" font-size="12" text-anchor="middle" fill="#231f20" font-weight="normal" >Bending cycles (times)</text>
<g transform="translate(371.8,630.6) rotate(-90)">
<text x="0.0" y="0.0" font-size="12.3" text-anchor="middle" fill="#231f20" font-weight="normal" >Electroluminescence</text>
</g>
<g transform="translate(386.0,630.6) rotate(-90)">
<text x="0.0" y="0.0" font-size="12.3" text-anchor="middle" fill="#231f20" font-weight="normal" >peak position (µm)</text>
</g>
<text x="345.0" y="582.2" font-size="14" text-anchor="start" fill="#000" font-weight="bold" >h</text>
<line x1="429.7" y1="614.4" x2="438.1" y2="636.8" stroke="#8a7088" stroke-width="0.9" stroke-dasharray="1.1 1.1"/>
<line x1="438.1" y1="614.4" x2="446.4" y2="638.1" stroke="#8a7088" stroke-width="0.9" stroke-dasharray="1.1 1.1"/>
<line x1="438.1" y1="614.4" x2="438.1" y2="636.8" stroke="#6a80a8" stroke-width="0.9" stroke-dasharray="1.1 1.1"/>
<line x1="446.4" y1="614.4" x2="454.8" y2="636.3" stroke="#8a7088" stroke-width="0.9" stroke-dasharray="1.1 1.1"/>
<line x1="446.4" y1="614.4" x2="446.4" y2="638.1" stroke="#6a80a8" stroke-width="0.9" stroke-dasharray="1.1 1.1"/>
<line x1="454.8" y1="614.4" x2="463.1" y2="636.3" stroke="#8a7088" stroke-width="0.9" stroke-dasharray="1.1 1.1"/>
<line x1="454.8" y1="614.4" x2="454.8" y2="636.3" stroke="#6a80a8" stroke-width="0.9" stroke-dasharray="1.1 1.1"/>
<line x1="463.1" y1="614.4" x2="471.4" y2="636.3" stroke="#8a7088" stroke-width="0.9" stroke-dasharray="1.1 1.1"/>
<line x1="463.1" y1="614.4" x2="463.1" y2="636.3" stroke="#6a80a8" stroke-width="0.9" stroke-dasharray="1.1 1.1"/>
<line x1="471.4" y1="614.4" x2="479.8" y2="635.0" stroke="#8a7088" stroke-width="0.9" stroke-dasharray="1.1 1.1"/>
<line x1="471.4" y1="614.4" x2="471.4" y2="636.3" stroke="#6a80a8" stroke-width="0.9" stroke-dasharray="1.1 1.1"/>
<line x1="479.8" y1="614.4" x2="488.1" y2="636.8" stroke="#8a7088" stroke-width="0.9" stroke-dasharray="1.1 1.1"/>
<line x1="479.8" y1="614.4" x2="479.8" y2="635.0" stroke="#6a80a8" stroke-width="0.9" stroke-dasharray="1.1 1.1"/>
<line x1="488.1" y1="614.4" x2="496.5" y2="636.3" stroke="#8a7088" stroke-width="0.9" stroke-dasharray="1.1 1.1"/>
<line x1="488.1" y1="614.4" x2="488.1" y2="636.8" stroke="#6a80a8" stroke-width="0.9" stroke-dasharray="1.1 1.1"/>
<line x1="496.5" y1="614.4" x2="504.8" y2="636.8" stroke="#8a7088" stroke-width="0.9" stroke-dasharray="1.1 1.1"/>
<line x1="496.5" y1="614.4" x2="496.5" y2="636.3" stroke="#6a80a8" stroke-width="0.9" stroke-dasharray="1.1 1.1"/>
<line x1="504.8" y1="614.4" x2="513.2" y2="636.0" stroke="#8a7088" stroke-width="0.9" stroke-dasharray="1.1 1.1"/>
<line x1="504.8" y1="614.4" x2="504.8" y2="636.8" stroke="#6a80a8" stroke-width="0.9" stroke-dasharray="1.1 1.1"/>
<line x1="513.2" y1="614.4" x2="513.2" y2="636.0" stroke="#6a80a8" stroke-width="0.9" stroke-dasharray="1.1 1.1"/>
<line x1="592.3" y1="614.4" x2="592.3" y2="635.6" stroke="#6a80a8" stroke-width="0.9" stroke-dasharray="1.1 1.1"/>
<line x1="600.6" y1="614.4" x2="600.6" y2="637.4" stroke="#6a80a8" stroke-width="0.9" stroke-dasharray="1.1 1.1"/>
<line x1="600.6" y1="614.4" x2="592.3" y2="635.6" stroke="#8a7088" stroke-width="0.9" stroke-dasharray="1.1 1.1"/>
<line x1="609.0" y1="614.4" x2="609.0" y2="637.6" stroke="#6a80a8" stroke-width="0.9" stroke-dasharray="1.1 1.1"/>
<line x1="609.0" y1="614.4" x2="600.6" y2="637.4" stroke="#8a7088" stroke-width="0.9" stroke-dasharray="1.1 1.1"/>
<line x1="617.3" y1="614.4" x2="617.3" y2="635.0" stroke="#6a80a8" stroke-width="0.9" stroke-dasharray="1.1 1.1"/>
<line x1="617.3" y1="614.4" x2="609.0" y2="637.6" stroke="#8a7088" stroke-width="0.9" stroke-dasharray="1.1 1.1"/>
<line x1="625.6" y1="614.4" x2="625.6" y2="636.3" stroke="#6a80a8" stroke-width="0.9" stroke-dasharray="1.1 1.1"/>
<line x1="625.6" y1="614.4" x2="617.3" y2="635.0" stroke="#8a7088" stroke-width="0.9" stroke-dasharray="1.1 1.1"/>
<line x1="633.9" y1="614.4" x2="633.9" y2="636.3" stroke="#6a80a8" stroke-width="0.9" stroke-dasharray="1.1 1.1"/>
<line x1="633.9" y1="614.4" x2="625.6" y2="636.3" stroke="#8a7088" stroke-width="0.9" stroke-dasharray="1.1 1.1"/>
<line x1="642.3" y1="614.4" x2="642.3" y2="637.4" stroke="#6a80a8" stroke-width="0.9" stroke-dasharray="1.1 1.1"/>
<line x1="642.3" y1="614.4" x2="633.9" y2="636.3" stroke="#8a7088" stroke-width="0.9" stroke-dasharray="1.1 1.1"/>
<line x1="650.6" y1="614.4" x2="650.6" y2="636.3" stroke="#6a80a8" stroke-width="0.9" stroke-dasharray="1.1 1.1"/>
<line x1="650.6" y1="614.4" x2="642.3" y2="637.4" stroke="#8a7088" stroke-width="0.9" stroke-dasharray="1.1 1.1"/>
<line x1="658.9" y1="614.4" x2="658.9" y2="635.6" stroke="#6a80a8" stroke-width="0.9" stroke-dasharray="1.1 1.1"/>
<line x1="658.9" y1="614.4" x2="650.6" y2="636.3" stroke="#8a7088" stroke-width="0.9" stroke-dasharray="1.1 1.1"/>
<line x1="667.3" y1="614.4" x2="667.3" y2="636.3" stroke="#6a80a8" stroke-width="0.9" stroke-dasharray="1.1 1.1"/>
<line x1="667.3" y1="614.4" x2="658.9" y2="635.6" stroke="#8a7088" stroke-width="0.9" stroke-dasharray="1.1 1.1"/>
<line x1="675.6" y1="614.4" x2="675.6" y2="634.8" stroke="#6a80a8" stroke-width="0.9" stroke-dasharray="1.1 1.1"/>
<line x1="675.6" y1="614.4" x2="667.3" y2="636.3" stroke="#8a7088" stroke-width="0.9" stroke-dasharray="1.1 1.1"/>
<polygon points="425.6,614.7 433.8,614.7 429.7,607.8" fill="#3c7bc2" />
<polygon points="433.9,614.7 442.2,614.7 438.1,607.8" fill="#3c7bc2" />
<polygon points="442.3,614.7 450.5,614.7 446.4,607.8" fill="#3c7bc2" />
<polygon points="450.6,614.7 458.9,614.7 454.8,607.8" fill="#3c7bc2" />
<polygon points="459.0,614.7 467.2,614.7 463.1,607.8" fill="#3c7bc2" />
<polygon points="467.3,614.7 475.6,614.7 471.4,607.8" fill="#3c7bc2" />
<polygon points="475.7,614.7 483.9,614.7 479.8,607.8" fill="#3c7bc2" />
<polygon points="484.0,614.7 492.2,614.7 488.1,607.8" fill="#3c7bc2" />
<polygon points="492.4,614.7 500.6,614.7 496.5,607.8" fill="#3c7bc2" />
<polygon points="500.7,614.7 508.9,614.7 504.8,607.8" fill="#3c7bc2" />
<polygon points="509.1,614.7 517.3,614.7 513.2,607.8" fill="#3c7bc2" />
<polygon points="588.2,614.7 596.4,614.7 592.3,607.8" fill="#3c7bc2" />
<polygon points="596.5,614.7 604.7,614.7 600.6,607.8" fill="#3c7bc2" />
<polygon points="604.9,614.7 613.1,614.7 609.0,607.8" fill="#3c7bc2" />
<polygon points="613.2,614.7 621.4,614.7 617.3,607.8" fill="#3c7bc2" />
<polygon points="621.5,614.7 629.7,614.7 625.6,607.8" fill="#3c7bc2" />
<polygon points="629.8,614.7 638.0,614.7 633.9,607.8" fill="#3c7bc2" />
<polygon points="638.2,614.7 646.4,614.7 642.3,607.8" fill="#3c7bc2" />
<polygon points="646.5,614.7 654.7,614.7 650.6,607.8" fill="#3c7bc2" />
<polygon points="654.8,614.7 663.0,614.7 658.9,607.8" fill="#3c7bc2" />
<polygon points="663.2,614.7 671.4,614.7 667.3,607.8" fill="#3c7bc2" />
<polygon points="671.5,614.7 679.7,614.7 675.6,607.8" fill="#3c7bc2" />
<circle cx="438.1" cy="639.8" r="3.3" fill="#d8121c"/>
<circle cx="446.4" cy="641.1" r="3.3" fill="#d8121c"/>
<circle cx="454.8" cy="639.3" r="3.3" fill="#d8121c"/>
<circle cx="463.1" cy="639.3" r="3.3" fill="#d8121c"/>
<circle cx="471.4" cy="639.3" r="3.3" fill="#d8121c"/>
<circle cx="479.8" cy="638.0" r="3.3" fill="#d8121c"/>
<circle cx="488.1" cy="639.8" r="3.3" fill="#d8121c"/>
<circle cx="496.5" cy="639.3" r="3.3" fill="#d8121c"/>
<circle cx="504.8" cy="639.8" r="3.3" fill="#d8121c"/>
<circle cx="513.2" cy="639.0" r="3.3" fill="#d8121c"/>
<circle cx="592.3" cy="638.6" r="3.3" fill="#d8121c"/>
<circle cx="600.6" cy="640.4" r="3.3" fill="#d8121c"/>
<circle cx="609.0" cy="640.6" r="3.3" fill="#d8121c"/>
<circle cx="617.3" cy="638.0" r="3.3" fill="#d8121c"/>
<circle cx="625.6" cy="639.3" r="3.3" fill="#d8121c"/>
<circle cx="633.9" cy="639.3" r="3.3" fill="#d8121c"/>
<circle cx="642.3" cy="640.4" r="3.3" fill="#d8121c"/>
<circle cx="650.6" cy="639.3" r="3.3" fill="#d8121c"/>
<circle cx="658.9" cy="638.6" r="3.3" fill="#d8121c"/>
<circle cx="667.3" cy="639.3" r="3.3" fill="#d8121c"/>
<circle cx="675.6" cy="637.8" r="3.3" fill="#d8121c"/>
<text x="516.5" y="604.1" font-size="12" text-anchor="start" fill="#5687c2" font-weight="normal" >Compressive</text>
<text x="534.6" y="653.6" font-size="12" text-anchor="start" fill="#cc2a34" font-weight="normal" >Tensile</text>
<rect x="563" y="671" width="26.3" height="22" fill="#fff" opacity="0.92"/>
<rect x="596.6" y="672" width="68.5" height="19" fill="#fff"/>
<g fill="none" stroke="#8a8a8a" stroke-width="0.8" stroke-dasharray="1.2 1.3" opacity="0.8">
<path d="M577,676 Q571,676 573,683 Q574,690 585,689"/>
<path d="M567,675 L569,677 M563.5,680 L566,683 M565,686 L571,685"/>
</g>
<g transform="translate(597.5,674.2) scale(1.04,1.03)" fill="none" stroke="#606060" stroke-width="1.2" stroke-linecap="square">
<path d="M8,0.5 V5 M3.5,1.5 L5,4 M12.5,1.5 L11,4 M1,6 H15 M6,6 Q6,11 1.5,14 M10,6 V12.5 Q10,13.5 12,13.5 H14.8 V11.5"/>
<path transform="translate(16.6,0)" d="M4.5,0.5 L1,4 M5,4.5 L1,8.5 M3.5,7 V14 M7.5,1.5 H15 M7,6 H15.5 M12.5,6 V13 Q12.5,14 10.5,13.5"/>
<path transform="translate(33.2,0)" d="M3,1.5 H13 M1.5,6 H14.5 M8,1.5 V6 Q7,11 1.5,14 M8.5,7 Q10,11 15,14"/>
<path transform="translate(49.8,0)" d="M1,1.5 H15 M7.5,1.5 V14 M8.5,5.5 L12,8"/>
</g>
<rect x="685" y="0" width="3" height="711" fill="#000"/>
</svg>
</body></html>
